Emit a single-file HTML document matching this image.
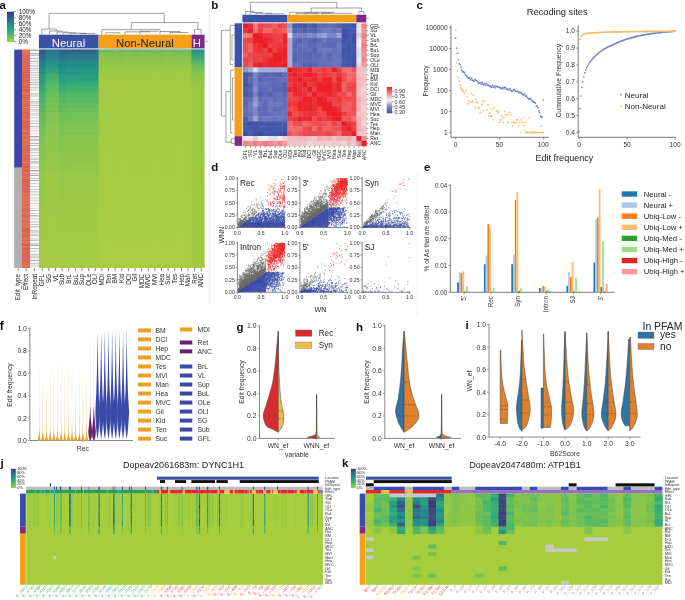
<!DOCTYPE html>
<html><head><meta charset="utf-8"><style>
html,body{margin:0;padding:0;background:#fff;width:685px;height:600px;overflow:hidden}
svg{display:block;font-family:"Liberation Sans",sans-serif;will-change:transform}
</style></head><body>
<svg width="685" height="600" viewBox="0 0 685 600">
<defs>
<linearGradient id="gvir" x1="0" y1="0" x2="0" y2="1">
<stop offset="0" stop-color="#46307e"/><stop offset="0.2" stop-color="#31628d"/><stop offset="0.45" stop-color="#1f948b"/><stop offset="0.7" stop-color="#38b673"/><stop offset="1" stop-color="#a2d03b"/></linearGradient>
<linearGradient id="gvir2" x1="0" y1="0" x2="0" y2="1">
<stop offset="0" stop-color="#46307e"/><stop offset="0.2" stop-color="#31628d"/><stop offset="0.45" stop-color="#1f948b"/><stop offset="0.7" stop-color="#38b673"/><stop offset="1" stop-color="#a2d03b"/></linearGradient>
<linearGradient id="gneu0" x1="0" y1="0" x2="0" y2="1"><stop offset="0.0" stop-color="#2b5f8c"/><stop offset="0.02" stop-color="#2b728d"/><stop offset="0.048" stop-color="#2a808e"/><stop offset="0.084" stop-color="#22948a"/><stop offset="0.139" stop-color="#2ba47f"/><stop offset="0.185" stop-color="#45b46c"/><stop offset="0.231" stop-color="#5cba62"/><stop offset="0.286" stop-color="#6ec05a"/><stop offset="0.368" stop-color="#82c552"/><stop offset="0.46" stop-color="#8fc74c"/><stop offset="0.597" stop-color="#99c947"/><stop offset="0.78" stop-color="#a0ca44"/><stop offset="1.0" stop-color="#a4cb43"/></linearGradient>
<linearGradient id="gneu1" x1="0" y1="0" x2="0" y2="1"><stop offset="0.0" stop-color="#2a6e8d"/><stop offset="0.02" stop-color="#2a7a8e"/><stop offset="0.048" stop-color="#26868d"/><stop offset="0.084" stop-color="#2a9c84"/><stop offset="0.139" stop-color="#4cb56a"/><stop offset="0.231" stop-color="#74c257"/><stop offset="0.368" stop-color="#8cc74d"/><stop offset="0.597" stop-color="#9cc946"/><stop offset="1.0" stop-color="#a5cb43"/></linearGradient>
<linearGradient id="gneu2" x1="0" y1="0" x2="0" y2="1"><stop offset="0.0" stop-color="#2f558b"/><stop offset="0.02" stop-color="#2d668d"/><stop offset="0.048" stop-color="#2b768e"/><stop offset="0.093" stop-color="#228e8b"/><stop offset="0.162" stop-color="#30a87c"/><stop offset="0.231" stop-color="#4cb56a"/><stop offset="0.299" stop-color="#62bd5e"/><stop offset="0.391" stop-color="#7cc455"/><stop offset="0.528" stop-color="#8fc74b"/><stop offset="0.734" stop-color="#9cc946"/><stop offset="1.0" stop-color="#a3cb43"/></linearGradient>
<linearGradient id="gneu3" x1="0" y1="0" x2="0" y2="1"><stop offset="0.0" stop-color="#2c5c8c"/><stop offset="0.02" stop-color="#2c6e8d"/><stop offset="0.048" stop-color="#2a7c8e"/><stop offset="0.093" stop-color="#21928b"/><stop offset="0.158" stop-color="#30a77c"/><stop offset="0.231" stop-color="#55b866"/><stop offset="0.299" stop-color="#6cc05a"/><stop offset="0.391" stop-color="#82c551"/><stop offset="0.528" stop-color="#91c74b"/><stop offset="0.734" stop-color="#9dc946"/><stop offset="1.0" stop-color="#a4cb43"/></linearGradient>
<linearGradient id="gnon0" x1="0" y1="0" x2="0" y2="1">
<stop offset="0" stop-color="#6cbd5c"/><stop offset="0.03" stop-color="#8ac54e"/><stop offset="0.1" stop-color="#a2ca42"/><stop offset="1" stop-color="#a9cc44"/></linearGradient>
<linearGradient id="gnon1" x1="0" y1="0" x2="0" y2="1">
<stop offset="0" stop-color="#74bf58"/><stop offset="0.03" stop-color="#8fc64b"/><stop offset="0.1" stop-color="#a3ca42"/><stop offset="1" stop-color="#a9cc44"/></linearGradient>
<linearGradient id="gh" x1="0" y1="0" x2="0" y2="1"><stop offset="0.0" stop-color="#2d8a8c"/><stop offset="0.026" stop-color="#35a578"/><stop offset="0.058" stop-color="#5cba60"/><stop offset="0.104" stop-color="#86c54f"/><stop offset="0.186" stop-color="#9ac843"/><stop offset="1.0" stop-color="#a2c93e"/></linearGradient>
<linearGradient id="gbwr" x1="0" y1="0" x2="0" y2="1">
<stop offset="0" stop-color="#e81e25"/><stop offset="0.25" stop-color="#f08a8a"/><stop offset="0.5" stop-color="#f4f4f8"/><stop offset="0.75" stop-color="#7f88c6"/><stop offset="1" stop-color="#3b4fa6"/></linearGradient>
</defs>
<text x="-0.5" y="9.2" font-size="11.5" fill="#111" font-weight="bold">a</text>
<line x1="209.3" y1="0" x2="209.3" y2="304" stroke="#e4e4e4" stroke-width="0.8"/>
<rect x="7" y="11.7" width="7" height="30.3" fill="url(#gvir)"/>
<line x1="14" y1="11.7" x2="16" y2="11.7" stroke="#444" stroke-width="0.5"/>
<text x="18.8" y="13.9" font-size="6.3" fill="#1a1a1a">100%</text>
<line x1="14" y1="17.7" x2="16" y2="17.7" stroke="#444" stroke-width="0.5"/>
<text x="18.8" y="19.9" font-size="6.3" fill="#1a1a1a">80%</text>
<line x1="14" y1="23.7" x2="16" y2="23.7" stroke="#444" stroke-width="0.5"/>
<text x="18.8" y="25.9" font-size="6.3" fill="#1a1a1a">60%</text>
<line x1="14" y1="29.7" x2="16" y2="29.7" stroke="#444" stroke-width="0.5"/>
<text x="18.8" y="31.9" font-size="6.3" fill="#1a1a1a">40%</text>
<line x1="14" y1="35.7" x2="16" y2="35.7" stroke="#444" stroke-width="0.5"/>
<text x="18.8" y="37.9" font-size="6.3" fill="#1a1a1a">20%</text>
<line x1="14" y1="41.7" x2="16" y2="41.7" stroke="#444" stroke-width="0.5"/>
<text x="18.8" y="43.9" font-size="6.3" fill="#1a1a1a">0%</text>
<path d="M49.1,29V13.3H164.2V22.6" fill="none" stroke="#555" stroke-width="0.55"/>
<path d="M41.9,34.6V29H56.4V31" fill="none" stroke="#555" stroke-width="0.55"/>
<path d="M49.5,34.6V31H62V32" fill="none" stroke="#555" stroke-width="0.55"/>
<path d="M57,34.6V32H68V32.8" fill="none" stroke="#555" stroke-width="0.55"/>
<path d="M63,34.6V32.8H76V33.2" fill="none" stroke="#555" stroke-width="0.55"/>
<path d="M70,34.6V33.2H86V33.6" fill="none" stroke="#555" stroke-width="0.55"/>
<path d="M80,34.6V33.6H95V34" fill="none" stroke="#555" stroke-width="0.55"/>
<path d="M131.3,29.6V22.6H197.8V29.3" fill="none" stroke="#555" stroke-width="0.55"/>
<path d="M101.8,34.6V29.6H160V31.5" fill="none" stroke="#555" stroke-width="0.55"/>
<path d="M106,34.6V32.8H120V33.5" fill="none" stroke="#555" stroke-width="0.55"/>
<path d="M125,34.6V31.8H150V32.5" fill="none" stroke="#555" stroke-width="0.55"/>
<path d="M140,34.6V31.3H158V32" fill="none" stroke="#555" stroke-width="0.55"/>
<path d="M160,34.6V31.5H180V33" fill="none" stroke="#555" stroke-width="0.55"/>
<path d="M170,34.6V32.5H188V33.2" fill="none" stroke="#555" stroke-width="0.55"/>
<path d="M194.5,34.6V29.3H201.2V34.6" fill="none" stroke="#555" stroke-width="0.55"/>
<rect x="38.9" y="34.7" width="59.7" height="13.6" fill="#3a53a4"/>
<rect x="98.6" y="34.7" width="92.9" height="13.6" fill="#f6a01a"/>
<rect x="191.5" y="34.7" width="13.1" height="13.6" fill="#7b2a86"/>
<text x="68.5" y="46.7" font-size="11.3" text-anchor="middle" fill="#fff">Neural</text>
<text x="145" y="46.7" font-size="11.3" text-anchor="middle" fill="#222">Non-Neural</text>
<text x="196.8" y="46.7" font-size="11.3" text-anchor="middle" fill="#fff">H</text>
<line x1="205" y1="41.2" x2="208" y2="41.2" stroke="#666" stroke-width="0.5"/>
<rect x="38.9" y="48.3" width="165.7" height="1.3" fill="#b0b2d2"/>
<rect x="38.9" y="49.6" width="7.33" height="218.4" fill="url(#gneu2)"/>
<rect x="45.53" y="49.6" width="7.33" height="218.4" fill="url(#gneu1)"/>
<rect x="52.16" y="49.6" width="7.33" height="218.4" fill="url(#gneu1)"/>
<rect x="58.78" y="49.6" width="7.33" height="218.4" fill="url(#gneu3)"/>
<rect x="65.41" y="49.6" width="7.33" height="218.4" fill="url(#gneu0)"/>
<rect x="72.04" y="49.6" width="7.33" height="218.4" fill="url(#gneu0)"/>
<rect x="78.67" y="49.6" width="7.33" height="218.4" fill="url(#gneu0)"/>
<rect x="85.3" y="49.6" width="7.33" height="218.4" fill="url(#gneu0)"/>
<rect x="91.92" y="49.6" width="7.33" height="218.4" fill="url(#gneu0)"/>
<rect x="98.55" y="49.6" width="7.33" height="218.4" fill="url(#gnon1)"/>
<rect x="105.18" y="49.6" width="7.33" height="218.4" fill="url(#gnon0)"/>
<rect x="111.81" y="49.6" width="7.33" height="218.4" fill="url(#gnon1)"/>
<rect x="118.44" y="49.6" width="7.33" height="218.4" fill="url(#gnon0)"/>
<rect x="125.06" y="49.6" width="7.33" height="218.4" fill="url(#gnon1)"/>
<rect x="131.69" y="49.6" width="7.33" height="218.4" fill="url(#gnon0)"/>
<rect x="138.32" y="49.6" width="7.33" height="218.4" fill="url(#gnon1)"/>
<rect x="144.95" y="49.6" width="7.33" height="218.4" fill="url(#gnon0)"/>
<rect x="151.58" y="49.6" width="7.33" height="218.4" fill="url(#gnon1)"/>
<rect x="158.2" y="49.6" width="7.33" height="218.4" fill="url(#gnon0)"/>
<rect x="164.83" y="49.6" width="7.33" height="218.4" fill="url(#gnon1)"/>
<rect x="171.46" y="49.6" width="7.33" height="218.4" fill="url(#gnon0)"/>
<rect x="178.09" y="49.6" width="7.33" height="218.4" fill="url(#gnon1)"/>
<rect x="184.72" y="49.6" width="7.33" height="218.4" fill="url(#gnon0)"/>
<rect x="191.34" y="49.6" width="7.33" height="218.4" fill="url(#gh)"/>
<rect x="197.97" y="49.6" width="6.63" height="218.4" fill="url(#gh)"/>
<rect x="38.9" y="57.42" width="59.7" height="1.44" fill="#1a5f80" opacity="0.06"/>
<rect x="38.9" y="72.19" width="59.7" height="1.52" fill="#1a5f80" opacity="0.07"/>
<rect x="38.9" y="77.33" width="59.7" height="0.74" fill="#1a5f80" opacity="0.07"/>
<rect x="38.9" y="79.44" width="59.7" height="1.23" fill="#1a5f80" opacity="0.05"/>
<rect x="38.9" y="100.8" width="59.7" height="0.88" fill="#1a5f80" opacity="0.06"/>
<rect x="38.9" y="106.18" width="59.7" height="0.75" fill="#1a5f80" opacity="0.05"/>
<rect x="38.9" y="110.41" width="59.7" height="1.32" fill="#1a5f80" opacity="0.05"/>
<rect x="38.9" y="117.65" width="59.7" height="0.8" fill="#1a5f80" opacity="0.04"/>
<rect x="38.9" y="132.53" width="59.7" height="1.32" fill="#1a5f80" opacity="0.03"/>
<rect x="38.9" y="141.34" width="59.7" height="1.23" fill="#1a5f80" opacity="0.03"/>
<rect x="38.9" y="148.72" width="59.7" height="0.85" fill="#1a5f80" opacity="0.03"/>
<rect x="38.9" y="150.71" width="59.7" height="0.96" fill="#1a5f80" opacity="0.02"/>
<rect x="38.9" y="153.36" width="59.7" height="0.9" fill="#1a5f80" opacity="0.03"/>
<rect x="38.9" y="158.9" width="59.7" height="0.79" fill="#1a5f80" opacity="0.03"/>
<rect x="38.9" y="160.4" width="59.7" height="0.92" fill="#1a5f80" opacity="0.03"/>
<rect x="38.9" y="162.69" width="59.7" height="1.46" fill="#1a5f80" opacity="0.02"/>
<rect x="38.9" y="165.95" width="59.7" height="1.48" fill="#1a5f80" opacity="0.02"/>
<rect x="38.9" y="168.18" width="59.7" height="1.13" fill="#1a5f80" opacity="0.03"/>
<rect x="98.6" y="49.8" width="106" height="0.77" fill="#2a9a88" opacity="0.1"/>
<rect x="98.6" y="51.48" width="106" height="1.14" fill="#2a9a88" opacity="0.14"/>
<rect x="98.6" y="54.53" width="106" height="0.89" fill="#2a9a88" opacity="0.1"/>
<rect x="98.6" y="57.41" width="106" height="0.9" fill="#2a9a88" opacity="0.14"/>
<rect x="98.6" y="60.17" width="106" height="1.09" fill="#2a9a88" opacity="0.09"/>
<rect x="98.6" y="62.15" width="106" height="0.6" fill="#2a9a88" opacity="0.11"/>
<rect x="98.6" y="63.68" width="106" height="0.96" fill="#2a9a88" opacity="0.09"/>
<rect x="98.6" y="65.35" width="106" height="1.05" fill="#2a9a88" opacity="0.03"/>
<rect x="98.6" y="68.64" width="106" height="1.09" fill="#2a9a88" opacity="0.04"/>
<rect x="98.6" y="71.71" width="106" height="1.01" fill="#2a9a88" opacity="0.03"/>
<rect x="98.6" y="74.6" width="106" height="0.59" fill="#2a9a88" opacity="0.05"/>
<rect x="98.6" y="77.09" width="106" height="1.19" fill="#2a9a88" opacity="0.01"/>
<rect x="98.6" y="79.48" width="106" height="0.93" fill="#2a9a88" opacity="0.01"/>
<rect x="14.2" y="49.6" width="7.8" height="118.1" fill="#3a47ad"/>
<rect x="14.2" y="167.7" width="7.8" height="100.3" fill="#b0b0b0"/>
<rect x="22" y="49.6" width="8" height="218.4" fill="#de6a54"/>
<rect x="30" y="49.6" width="8.9" height="218.4" fill="#fafafa"/>
<rect x="22" y="49.6" width="8" height="1.06" fill="#ea7c4e"/>
<rect x="22" y="52.06" width="8" height="1.12" fill="#ea7c4e"/>
<rect x="22" y="55.31" width="8" height="0.98" fill="#d26472"/>
<rect x="22" y="58.73" width="8" height="0.72" fill="#d6606c"/>
<rect x="22" y="62.2" width="8" height="0.6" fill="#d26472"/>
<rect x="22" y="65.47" width="8" height="0.84" fill="#d6606c"/>
<rect x="22" y="68.25" width="8" height="0.51" fill="#dc5a4a"/>
<rect x="22" y="70.28" width="8" height="0.66" fill="#d26472"/>
<rect x="22" y="71.85" width="8" height="1.22" fill="#dc5a4a"/>
<rect x="22" y="75.11" width="8" height="0.9" fill="#dc5a4a"/>
<rect x="22" y="76.51" width="8" height="1.28" fill="#dc5a4a"/>
<rect x="22" y="80.23" width="8" height="1.36" fill="#dc5a4a"/>
<rect x="22" y="84.28" width="8" height="0.76" fill="#dc5a4a"/>
<rect x="22" y="86.89" width="8" height="1.11" fill="#dc5a4a"/>
<rect x="22" y="88.95" width="8" height="1.37" fill="#dc5a4a"/>
<rect x="22" y="93.24" width="8" height="1.3" fill="#e87a50"/>
<rect x="22" y="95.1" width="8" height="0.87" fill="#dc5a4a"/>
<rect x="22" y="97.13" width="8" height="0.8" fill="#d85a56"/>
<rect x="22" y="99.89" width="8" height="1.04" fill="#ea7c4e"/>
<rect x="22" y="102.27" width="8" height="0.78" fill="#e87a50"/>
<rect x="22" y="104.76" width="8" height="0.78" fill="#d26472"/>
<rect x="22" y="107.22" width="8" height="0.66" fill="#e87a50"/>
<rect x="22" y="110.82" width="8" height="0.52" fill="#ea7c4e"/>
<rect x="22" y="112.73" width="8" height="0.86" fill="#d85a56"/>
<rect x="22" y="116.07" width="8" height="0.83" fill="#d85a56"/>
<rect x="22" y="119.5" width="8" height="0.91" fill="#ea7c4e"/>
<rect x="22" y="121.36" width="8" height="1.36" fill="#dc5a4a"/>
<rect x="22" y="123.52" width="8" height="0.72" fill="#d26472"/>
<rect x="22" y="125.6" width="8" height="0.82" fill="#d85a56"/>
<rect x="22" y="127.54" width="8" height="0.92" fill="#d85a56"/>
<rect x="22" y="130.83" width="8" height="1.22" fill="#e87a50"/>
<rect x="22" y="132.64" width="8" height="1.35" fill="#d6606c"/>
<rect x="22" y="135.01" width="8" height="0.96" fill="#e87a50"/>
<rect x="22" y="138.77" width="8" height="0.81" fill="#ea7c4e"/>
<rect x="22" y="141.44" width="8" height="0.78" fill="#e87a50"/>
<rect x="22" y="143.49" width="8" height="1.22" fill="#ea7c4e"/>
<rect x="22" y="145.58" width="8" height="1.12" fill="#d26472"/>
<rect x="22" y="147.6" width="8" height="0.54" fill="#d85a56"/>
<rect x="22" y="149.98" width="8" height="0.87" fill="#dc5a4a"/>
<rect x="22" y="153.19" width="8" height="0.81" fill="#e87a50"/>
<rect x="22" y="155.64" width="8" height="0.88" fill="#d6606c"/>
<rect x="22" y="159.47" width="8" height="1.07" fill="#d26472"/>
<rect x="22" y="161.88" width="8" height="0.69" fill="#ea7c4e"/>
<rect x="22" y="164.48" width="8" height="0.62" fill="#d26472"/>
<rect x="22" y="165.86" width="8" height="0.89" fill="#dc5a4a"/>
<rect x="22" y="167.4" width="8" height="0.88" fill="#dc5a4a"/>
<rect x="22" y="169.91" width="8" height="1.4" fill="#dc5a4a"/>
<rect x="22" y="174.25" width="8" height="0.91" fill="#d26472"/>
<rect x="22" y="177.38" width="8" height="0.79" fill="#e87a50"/>
<rect x="22" y="179.4" width="8" height="0.86" fill="#dc5a4a"/>
<rect x="22" y="181.04" width="8" height="1.24" fill="#d85a56"/>
<rect x="22" y="185.18" width="8" height="1.06" fill="#d26472"/>
<rect x="22" y="188.91" width="8" height="0.66" fill="#d26472"/>
<rect x="22" y="190.76" width="8" height="1.2" fill="#d85a56"/>
<rect x="22" y="193.36" width="8" height="1.21" fill="#e87a50"/>
<rect x="22" y="196.81" width="8" height="1.1" fill="#e87a50"/>
<rect x="22" y="199.31" width="8" height="1.13" fill="#e87a50"/>
<rect x="22" y="203.04" width="8" height="0.74" fill="#ea7c4e"/>
<rect x="22" y="206.06" width="8" height="1.36" fill="#e87a50"/>
<rect x="22" y="209.55" width="8" height="1.02" fill="#d6606c"/>
<rect x="22" y="212.26" width="8" height="1.2" fill="#e87a50"/>
<rect x="22" y="215.63" width="8" height="0.92" fill="#d85a56"/>
<rect x="22" y="218.67" width="8" height="1.22" fill="#e87a50"/>
<rect x="22" y="221.07" width="8" height="0.81" fill="#d26472"/>
<rect x="22" y="223.26" width="8" height="1.26" fill="#ea7c4e"/>
<rect x="22" y="226.14" width="8" height="0.83" fill="#e87a50"/>
<rect x="22" y="228.76" width="8" height="0.98" fill="#dc5a4a"/>
<rect x="22" y="230.74" width="8" height="0.83" fill="#d26472"/>
<rect x="22" y="232.77" width="8" height="0.57" fill="#ea7c4e"/>
<rect x="22" y="235.67" width="8" height="0.65" fill="#d85a56"/>
<rect x="22" y="238.11" width="8" height="1.34" fill="#e87a50"/>
<rect x="22" y="241.51" width="8" height="1.2" fill="#ea7c4e"/>
<rect x="22" y="243.89" width="8" height="1.4" fill="#dc5a4a"/>
<rect x="22" y="246.19" width="8" height="0.9" fill="#ea7c4e"/>
<rect x="22" y="248.03" width="8" height="1.18" fill="#dc5a4a"/>
<rect x="22" y="251.29" width="8" height="0.54" fill="#d26472"/>
<rect x="22" y="254.78" width="8" height="0.65" fill="#dc5a4a"/>
<rect x="22" y="256.21" width="8" height="1.37" fill="#d26472"/>
<rect x="22" y="258.56" width="8" height="0.53" fill="#d26472"/>
<rect x="22" y="260.47" width="8" height="1.1" fill="#d6606c"/>
<rect x="22" y="263.54" width="8" height="0.71" fill="#e87a50"/>
<rect x="22" y="264.76" width="8" height="0.86" fill="#e87a50"/>
<rect x="30" y="49.6" width="8.9" height="1.19" fill="#a4a4a4"/>
<rect x="30" y="53.13" width="8.9" height="0.94" fill="#a4a4a4"/>
<rect x="30" y="54.75" width="8.9" height="0.94" fill="#a4a4a4"/>
<rect x="30" y="57.99" width="8.9" height="0.73" fill="#a4a4a4"/>
<rect x="30" y="60.78" width="8.9" height="0.84" fill="#a4a4a4"/>
<rect x="30" y="63" width="8.9" height="0.63" fill="#d0d0d0"/>
<rect x="30" y="65.2" width="8.9" height="1.27" fill="#c4c4c4"/>
<rect x="30" y="68.12" width="8.9" height="0.78" fill="#b0b0b0"/>
<rect x="30" y="70.13" width="8.9" height="0.76" fill="#c4c4c4"/>
<rect x="30" y="72.01" width="8.9" height="1.2" fill="#d0d0d0"/>
<rect x="30" y="74.52" width="8.9" height="1.28" fill="#d0d0d0"/>
<rect x="30" y="76.86" width="8.9" height="1.28" fill="#d0d0d0"/>
<rect x="30" y="79.37" width="8.9" height="1.18" fill="#c4c4c4"/>
<rect x="30" y="82.18" width="8.9" height="0.71" fill="#a4a4a4"/>
<rect x="30" y="84.33" width="8.9" height="0.83" fill="#a4a4a4"/>
<rect x="30" y="87.46" width="8.9" height="0.75" fill="#a4a4a4"/>
<rect x="30" y="88.98" width="8.9" height="0.52" fill="#d0d0d0"/>
<rect x="30" y="90.46" width="8.9" height="0.53" fill="#c4c4c4"/>
<rect x="30" y="93.07" width="8.9" height="0.51" fill="#a4a4a4"/>
<rect x="30" y="94.54" width="8.9" height="0.88" fill="#b0b0b0"/>
<rect x="30" y="96.39" width="8.9" height="0.71" fill="#c4c4c4"/>
<rect x="30" y="98.97" width="8.9" height="0.73" fill="#d0d0d0"/>
<rect x="30" y="101.36" width="8.9" height="0.88" fill="#b0b0b0"/>
<rect x="30" y="102.77" width="8.9" height="0.6" fill="#a4a4a4"/>
<rect x="30" y="104.88" width="8.9" height="0.77" fill="#a4a4a4"/>
<rect x="30" y="107.54" width="8.9" height="0.52" fill="#a4a4a4"/>
<rect x="30" y="109.25" width="8.9" height="1.1" fill="#c4c4c4"/>
<rect x="30" y="110.91" width="8.9" height="0.7" fill="#d0d0d0"/>
<rect x="30" y="113.42" width="8.9" height="0.59" fill="#c4c4c4"/>
<rect x="30" y="114.53" width="8.9" height="1.12" fill="#d0d0d0"/>
<rect x="30" y="117.28" width="8.9" height="1.05" fill="#d0d0d0"/>
<rect x="30" y="120.47" width="8.9" height="1.17" fill="#d0d0d0"/>
<rect x="30" y="122.88" width="8.9" height="1.18" fill="#c4c4c4"/>
<rect x="30" y="126.27" width="8.9" height="0.87" fill="#b0b0b0"/>
<rect x="30" y="128.22" width="8.9" height="0.5" fill="#d0d0d0"/>
<rect x="30" y="130.33" width="8.9" height="1.02" fill="#d0d0d0"/>
<rect x="30" y="133.58" width="8.9" height="0.61" fill="#d0d0d0"/>
<rect x="30" y="136.01" width="8.9" height="1.21" fill="#a4a4a4"/>
<rect x="30" y="138.75" width="8.9" height="0.84" fill="#b0b0b0"/>
<rect x="30" y="140.22" width="8.9" height="0.68" fill="#b0b0b0"/>
<rect x="30" y="142.91" width="8.9" height="1.03" fill="#b0b0b0"/>
<rect x="30" y="145.07" width="8.9" height="0.84" fill="#b0b0b0"/>
<rect x="30" y="148.31" width="8.9" height="1.06" fill="#b0b0b0"/>
<rect x="30" y="150.11" width="8.9" height="0.6" fill="#b0b0b0"/>
<rect x="30" y="152.56" width="8.9" height="0.61" fill="#a4a4a4"/>
<rect x="30" y="155.01" width="8.9" height="0.85" fill="#c4c4c4"/>
<rect x="30" y="157.52" width="8.9" height="0.83" fill="#c4c4c4"/>
<rect x="30" y="158.98" width="8.9" height="0.67" fill="#b0b0b0"/>
<rect x="30" y="161.4" width="8.9" height="1.1" fill="#a4a4a4"/>
<rect x="30" y="163.11" width="8.9" height="0.96" fill="#d0d0d0"/>
<rect x="30" y="166.24" width="8.9" height="0.61" fill="#d0d0d0"/>
<rect x="30" y="167.52" width="8.9" height="1.05" fill="#d0d0d0"/>
<rect x="30" y="169.99" width="8.9" height="1.25" fill="#a4a4a4"/>
<rect x="30" y="173.48" width="8.9" height="0.61" fill="#a4a4a4"/>
<rect x="30" y="174.88" width="8.9" height="1.01" fill="#a4a4a4"/>
<rect x="30" y="178.12" width="8.9" height="0.94" fill="#c4c4c4"/>
<rect x="30" y="180.06" width="8.9" height="0.94" fill="#a4a4a4"/>
<rect x="30" y="183.08" width="8.9" height="0.73" fill="#c4c4c4"/>
<rect x="30" y="185.85" width="8.9" height="1.19" fill="#d0d0d0"/>
<rect x="30" y="188.94" width="8.9" height="0.64" fill="#b0b0b0"/>
<rect x="30" y="191.32" width="8.9" height="0.57" fill="#b0b0b0"/>
<rect x="30" y="192.57" width="8.9" height="0.6" fill="#d0d0d0"/>
<rect x="30" y="194.12" width="8.9" height="1.2" fill="#d0d0d0"/>
<rect x="30" y="197.65" width="8.9" height="0.59" fill="#b0b0b0"/>
<rect x="30" y="199.77" width="8.9" height="0.81" fill="#c4c4c4"/>
<rect x="30" y="202.87" width="8.9" height="0.84" fill="#c4c4c4"/>
<rect x="30" y="205.64" width="8.9" height="0.57" fill="#d0d0d0"/>
<rect x="30" y="208.26" width="8.9" height="0.61" fill="#d0d0d0"/>
<rect x="30" y="210.05" width="8.9" height="0.69" fill="#a4a4a4"/>
<rect x="30" y="213" width="8.9" height="1.06" fill="#d0d0d0"/>
<rect x="30" y="215.29" width="8.9" height="1.08" fill="#a4a4a4"/>
<rect x="30" y="218.1" width="8.9" height="1.14" fill="#d0d0d0"/>
<rect x="30" y="221.57" width="8.9" height="0.79" fill="#b0b0b0"/>
<rect x="30" y="223.98" width="8.9" height="0.96" fill="#c4c4c4"/>
<rect x="30" y="226.19" width="8.9" height="0.58" fill="#b0b0b0"/>
<rect x="30" y="227.62" width="8.9" height="0.66" fill="#d0d0d0"/>
<rect x="30" y="230.47" width="8.9" height="0.88" fill="#a4a4a4"/>
<rect x="30" y="231.86" width="8.9" height="0.88" fill="#d0d0d0"/>
<rect x="30" y="233.85" width="8.9" height="0.87" fill="#c4c4c4"/>
<rect x="30" y="235.51" width="8.9" height="0.63" fill="#a4a4a4"/>
<rect x="30" y="238.29" width="8.9" height="1.2" fill="#d0d0d0"/>
<rect x="30" y="240.27" width="8.9" height="0.7" fill="#a4a4a4"/>
<rect x="30" y="243.03" width="8.9" height="1.1" fill="#c4c4c4"/>
<rect x="30" y="244.69" width="8.9" height="1.22" fill="#a4a4a4"/>
<rect x="30" y="248.17" width="8.9" height="0.8" fill="#b0b0b0"/>
<rect x="30" y="250.77" width="8.9" height="1.04" fill="#d0d0d0"/>
<rect x="30" y="253.92" width="8.9" height="0.62" fill="#a4a4a4"/>
<rect x="30" y="255.6" width="8.9" height="1.04" fill="#c4c4c4"/>
<rect x="30" y="257.2" width="8.9" height="1.07" fill="#c4c4c4"/>
<rect x="30" y="260.02" width="8.9" height="0.99" fill="#a4a4a4"/>
<rect x="30" y="262.81" width="8.9" height="0.65" fill="#a4a4a4"/>
<rect x="30" y="264.49" width="8.9" height="1.09" fill="#d0d0d0"/>
<rect x="30" y="266.39" width="8.9" height="0.69" fill="#c4c4c4"/>
<line x1="18.1" y1="268" x2="18.1" y2="271.2" stroke="#333" stroke-width="0.6"/>
<text x="20.3" y="273.9" font-size="6.3" text-anchor="end" fill="#1a1a1a" transform="rotate(-90 20.3 273.9)">Edit_type</text>
<line x1="26" y1="268" x2="26" y2="271.2" stroke="#333" stroke-width="0.6"/>
<text x="28.2" y="273.9" font-size="6.3" text-anchor="end" fill="#1a1a1a" transform="rotate(-90 28.2 273.9)">Effect</text>
<line x1="34.4" y1="268" x2="34.4" y2="271.2" stroke="#333" stroke-width="0.6"/>
<text x="36.6" y="273.9" font-size="6.3" text-anchor="end" fill="#1a1a1a" transform="rotate(-90 36.6 273.9)">InRepeat</text>
<line x1="42.21" y1="268" x2="42.21" y2="271.2" stroke="#333" stroke-width="0.6"/>
<text x="44.41" y="273.9" font-size="6.3" text-anchor="end" fill="#1a1a1a" transform="rotate(-90 44.41 273.9)">GFL</text>
<line x1="48.84" y1="268" x2="48.84" y2="271.2" stroke="#333" stroke-width="0.6"/>
<text x="51.04" y="273.9" font-size="6.3" text-anchor="end" fill="#1a1a1a" transform="rotate(-90 51.04 273.9)">SG</text>
<line x1="55.47" y1="268" x2="55.47" y2="271.2" stroke="#333" stroke-width="0.6"/>
<text x="57.67" y="273.9" font-size="6.3" text-anchor="end" fill="#1a1a1a" transform="rotate(-90 57.67 273.9)">VL</text>
<line x1="62.1" y1="268" x2="62.1" y2="271.2" stroke="#333" stroke-width="0.6"/>
<text x="64.3" y="273.9" font-size="6.3" text-anchor="end" fill="#1a1a1a" transform="rotate(-90 64.3 273.9)">Sub</text>
<line x1="68.73" y1="268" x2="68.73" y2="271.2" stroke="#333" stroke-width="0.6"/>
<text x="70.93" y="273.9" font-size="6.3" text-anchor="end" fill="#1a1a1a" transform="rotate(-90 70.93 273.9)">BrL</text>
<line x1="75.35" y1="268" x2="75.35" y2="271.2" stroke="#333" stroke-width="0.6"/>
<text x="77.55" y="273.9" font-size="6.3" text-anchor="end" fill="#1a1a1a" transform="rotate(-90 77.55 273.9)">BuL</text>
<line x1="81.98" y1="268" x2="81.98" y2="271.2" stroke="#333" stroke-width="0.6"/>
<text x="84.18" y="273.9" font-size="6.3" text-anchor="end" fill="#1a1a1a" transform="rotate(-90 84.18 273.9)">Sup</text>
<line x1="88.61" y1="268" x2="88.61" y2="271.2" stroke="#333" stroke-width="0.6"/>
<text x="90.81" y="273.9" font-size="6.3" text-anchor="end" fill="#1a1a1a" transform="rotate(-90 90.81 273.9)">OLe</text>
<line x1="95.24" y1="268" x2="95.24" y2="271.2" stroke="#333" stroke-width="0.6"/>
<text x="97.44" y="273.9" font-size="6.3" text-anchor="end" fill="#1a1a1a" transform="rotate(-90 97.44 273.9)">OLI</text>
<line x1="101.87" y1="268" x2="101.87" y2="271.2" stroke="#333" stroke-width="0.6"/>
<text x="104.07" y="273.9" font-size="6.3" text-anchor="end" fill="#1a1a1a" transform="rotate(-90 104.07 273.9)">MDI</text>
<line x1="108.49" y1="268" x2="108.49" y2="271.2" stroke="#333" stroke-width="0.6"/>
<text x="110.69" y="273.9" font-size="6.3" text-anchor="end" fill="#1a1a1a" transform="rotate(-90 110.69 273.9)">Ten</text>
<line x1="115.12" y1="268" x2="115.12" y2="271.2" stroke="#333" stroke-width="0.6"/>
<text x="117.32" y="273.9" font-size="6.3" text-anchor="end" fill="#1a1a1a" transform="rotate(-90 117.32 273.9)">BM</text>
<line x1="121.75" y1="268" x2="121.75" y2="271.2" stroke="#333" stroke-width="0.6"/>
<text x="123.95" y="273.9" font-size="6.3" text-anchor="end" fill="#1a1a1a" transform="rotate(-90 123.95 273.9)">Kid</text>
<line x1="128.38" y1="268" x2="128.38" y2="271.2" stroke="#333" stroke-width="0.6"/>
<text x="130.58" y="273.9" font-size="6.3" text-anchor="end" fill="#1a1a1a" transform="rotate(-90 130.58 273.9)">DCI</text>
<line x1="135.01" y1="268" x2="135.01" y2="271.2" stroke="#333" stroke-width="0.6"/>
<text x="137.21" y="273.9" font-size="6.3" text-anchor="end" fill="#1a1a1a" transform="rotate(-90 137.21 273.9)">Gil</text>
<line x1="141.63" y1="268" x2="141.63" y2="271.2" stroke="#333" stroke-width="0.6"/>
<text x="143.83" y="273.9" font-size="6.3" text-anchor="end" fill="#1a1a1a" transform="rotate(-90 143.83 273.9)">MDC</text>
<line x1="148.26" y1="268" x2="148.26" y2="271.2" stroke="#333" stroke-width="0.6"/>
<text x="150.46" y="273.9" font-size="6.3" text-anchor="end" fill="#1a1a1a" transform="rotate(-90 150.46 273.9)">MVC</text>
<line x1="154.89" y1="268" x2="154.89" y2="271.2" stroke="#333" stroke-width="0.6"/>
<text x="157.09" y="273.9" font-size="6.3" text-anchor="end" fill="#1a1a1a" transform="rotate(-90 157.09 273.9)">MVI</text>
<line x1="161.52" y1="268" x2="161.52" y2="271.2" stroke="#333" stroke-width="0.6"/>
<text x="163.72" y="273.9" font-size="6.3" text-anchor="end" fill="#1a1a1a" transform="rotate(-90 163.72 273.9)">Hea</text>
<line x1="168.15" y1="268" x2="168.15" y2="271.2" stroke="#333" stroke-width="0.6"/>
<text x="170.35" y="273.9" font-size="6.3" text-anchor="end" fill="#1a1a1a" transform="rotate(-90 170.35 273.9)">Suc</text>
<line x1="174.77" y1="268" x2="174.77" y2="271.2" stroke="#333" stroke-width="0.6"/>
<text x="176.97" y="273.9" font-size="6.3" text-anchor="end" fill="#1a1a1a" transform="rotate(-90 176.97 273.9)">Tes</text>
<line x1="181.4" y1="268" x2="181.4" y2="271.2" stroke="#333" stroke-width="0.6"/>
<text x="183.6" y="273.9" font-size="6.3" text-anchor="end" fill="#1a1a1a" transform="rotate(-90 183.6 273.9)">Hep</text>
<line x1="188.03" y1="268" x2="188.03" y2="271.2" stroke="#333" stroke-width="0.6"/>
<text x="190.23" y="273.9" font-size="6.3" text-anchor="end" fill="#1a1a1a" transform="rotate(-90 190.23 273.9)">Man</text>
<line x1="194.66" y1="268" x2="194.66" y2="271.2" stroke="#333" stroke-width="0.6"/>
<text x="196.86" y="273.9" font-size="6.3" text-anchor="end" fill="#1a1a1a" transform="rotate(-90 196.86 273.9)">Ret</text>
<line x1="201.29" y1="268" x2="201.29" y2="271.2" stroke="#333" stroke-width="0.6"/>
<text x="203.49" y="273.9" font-size="6.3" text-anchor="end" fill="#1a1a1a" transform="rotate(-90 203.49 273.9)">ANC</text>
<text x="211.2" y="8.6" font-size="11.5" fill="#111" font-weight="bold">b</text>
<path d="M250.4,11.4V2.3H336.8V8" fill="none" stroke="#555" stroke-width="0.55"/>
<path d="M245.7,14.8V11.4H254.2V12.5" fill="none" stroke="#555" stroke-width="0.55"/>
<path d="M250,14.8V12.5H262V13.2" fill="none" stroke="#555" stroke-width="0.55"/>
<path d="M256,14.8V13.2H272V13.8" fill="none" stroke="#555" stroke-width="0.55"/>
<path d="M266,14.8V13.8H284V14.2" fill="none" stroke="#555" stroke-width="0.55"/>
<path d="M311.2,12.3V8H361.4V11.4" fill="none" stroke="#555" stroke-width="0.55"/>
<path d="M289.7,14.8V12.3H333.9V13" fill="none" stroke="#555" stroke-width="0.55"/>
<path d="M296,14.8V13.4H318V13.8" fill="none" stroke="#555" stroke-width="0.55"/>
<path d="M305,14.8V13H330V13.6" fill="none" stroke="#555" stroke-width="0.55"/>
<path d="M322,14.8V13.3H352V14" fill="none" stroke="#555" stroke-width="0.55"/>
<path d="M358.9,14.8V11.4H363.9V14.8" fill="none" stroke="#555" stroke-width="0.55"/>
<path d="M230.2,30.4H221.5V116.1H225.9" fill="none" stroke="#555" stroke-width="0.55"/>
<path d="M234.6,25.4H230.2V64.6H233" fill="none" stroke="#555" stroke-width="0.55"/>
<path d="M234.6,35H232V60H233.4" fill="none" stroke="#555" stroke-width="0.55"/>
<path d="M230.7,91.7H225.9V142.2H231.3" fill="none" stroke="#555" stroke-width="0.55"/>
<path d="M234.6,70H230.7V133H232.5" fill="none" stroke="#555" stroke-width="0.55"/>
<path d="M234.6,78H232.5V120H233.5" fill="none" stroke="#555" stroke-width="0.55"/>
<path d="M234.6,138.8H231.3V143.3H234.6" fill="none" stroke="#555" stroke-width="0.55"/>
<rect x="242.4" y="14.8" width="44.7" height="7.6" fill="#3a53a4"/>
<rect x="287.1" y="14.8" width="69.2" height="7.6" fill="#f6a01a"/>
<rect x="356.3" y="14.8" width="10" height="7.6" fill="#7b2a86"/>
<line x1="366.3" y1="18.6" x2="369" y2="18.6" stroke="#666" stroke-width="0.5"/>
<rect x="234.6" y="23.3" width="7.6" height="44.1" fill="#3a53a4"/>
<rect x="234.6" y="67.4" width="7.6" height="68.8" fill="#f6a01a"/>
<rect x="234.6" y="136.2" width="7.6" height="9.6" fill="#7b2a86"/>
<rect x="243" y="23.3" width="5.33" height="5.3" fill="#e81e25"/>
<rect x="247.93" y="23.3" width="5.33" height="5.3" fill="#ec2d34"/>
<rect x="252.86" y="23.3" width="5.33" height="5.3" fill="#f07e7e"/>
<rect x="257.8" y="23.3" width="5.33" height="5.3" fill="#ed474b"/>
<rect x="262.73" y="23.3" width="5.33" height="5.3" fill="#ee4f53"/>
<rect x="267.66" y="23.3" width="5.33" height="5.3" fill="#ee4e52"/>
<rect x="272.59" y="23.3" width="5.33" height="5.3" fill="#ee5f62"/>
<rect x="277.52" y="23.3" width="5.33" height="5.3" fill="#ed4045"/>
<rect x="282.46" y="23.3" width="5.33" height="5.3" fill="#ee4d51"/>
<rect x="287.39" y="23.3" width="5.33" height="5.3" fill="#8e96cd"/>
<rect x="292.32" y="23.3" width="5.33" height="5.3" fill="#4557ab"/>
<rect x="297.25" y="23.3" width="5.33" height="5.3" fill="#4658ab"/>
<rect x="302.18" y="23.3" width="5.33" height="5.3" fill="#4154a9"/>
<rect x="307.12" y="23.3" width="5.33" height="5.3" fill="#5161b0"/>
<rect x="312.05" y="23.3" width="5.33" height="5.3" fill="#495aac"/>
<rect x="316.98" y="23.3" width="5.33" height="5.3" fill="#606eb8"/>
<rect x="321.91" y="23.3" width="5.33" height="5.3" fill="#5666b3"/>
<rect x="326.84" y="23.3" width="5.33" height="5.3" fill="#6370b9"/>
<rect x="331.78" y="23.3" width="5.33" height="5.3" fill="#606eb8"/>
<rect x="336.71" y="23.3" width="5.33" height="5.3" fill="#4d5eaf"/>
<rect x="341.64" y="23.3" width="5.33" height="5.3" fill="#4759ac"/>
<rect x="346.57" y="23.3" width="5.33" height="5.3" fill="#485aac"/>
<rect x="351.5" y="23.3" width="5.33" height="5.3" fill="#3c50a6"/>
<rect x="356.44" y="23.3" width="5.33" height="5.3" fill="#f2e0e4"/>
<rect x="361.37" y="23.3" width="5.33" height="5.3" fill="#f08485"/>
<rect x="243" y="28.2" width="5.33" height="5.3" fill="#ec2d34"/>
<rect x="247.93" y="28.2" width="5.33" height="5.3" fill="#e81e25"/>
<rect x="252.86" y="28.2" width="5.33" height="5.3" fill="#ef7173"/>
<rect x="257.8" y="28.2" width="5.33" height="5.3" fill="#ed4146"/>
<rect x="262.73" y="28.2" width="5.33" height="5.3" fill="#ef6668"/>
<rect x="267.66" y="28.2" width="5.33" height="5.3" fill="#ef6769"/>
<rect x="272.59" y="28.2" width="5.33" height="5.3" fill="#ee494d"/>
<rect x="277.52" y="28.2" width="5.33" height="5.3" fill="#ee5357"/>
<rect x="282.46" y="28.2" width="5.33" height="5.3" fill="#ef6365"/>
<rect x="287.39" y="28.2" width="5.33" height="5.3" fill="#a5abd7"/>
<rect x="292.32" y="28.2" width="5.33" height="5.3" fill="#5061b0"/>
<rect x="297.25" y="28.2" width="5.33" height="5.3" fill="#5c6ab5"/>
<rect x="302.18" y="28.2" width="5.33" height="5.3" fill="#5060b0"/>
<rect x="307.12" y="28.2" width="5.33" height="5.3" fill="#5766b3"/>
<rect x="312.05" y="28.2" width="5.33" height="5.3" fill="#5262b1"/>
<rect x="316.98" y="28.2" width="5.33" height="5.3" fill="#616fb8"/>
<rect x="321.91" y="28.2" width="5.33" height="5.3" fill="#717cbf"/>
<rect x="326.84" y="28.2" width="5.33" height="5.3" fill="#6d79be"/>
<rect x="331.78" y="28.2" width="5.33" height="5.3" fill="#626fb8"/>
<rect x="336.71" y="28.2" width="5.33" height="5.3" fill="#6f7abe"/>
<rect x="341.64" y="28.2" width="5.33" height="5.3" fill="#4053a9"/>
<rect x="346.57" y="28.2" width="5.33" height="5.3" fill="#4456aa"/>
<rect x="351.5" y="28.2" width="5.33" height="5.3" fill="#485aac"/>
<rect x="356.44" y="28.2" width="5.33" height="5.3" fill="#eaeaf4"/>
<rect x="361.37" y="28.2" width="5.33" height="5.3" fill="#f09697"/>
<rect x="243" y="33.1" width="5.33" height="5.3" fill="#f07e7e"/>
<rect x="247.93" y="33.1" width="5.33" height="5.3" fill="#ef7173"/>
<rect x="252.86" y="33.1" width="5.33" height="5.3" fill="#e81e25"/>
<rect x="257.8" y="33.1" width="5.33" height="5.3" fill="#ec2128"/>
<rect x="262.73" y="33.1" width="5.33" height="5.3" fill="#ed363b"/>
<rect x="267.66" y="33.1" width="5.33" height="5.3" fill="#ed373d"/>
<rect x="272.59" y="33.1" width="5.33" height="5.3" fill="#ed4247"/>
<rect x="277.52" y="33.1" width="5.33" height="5.3" fill="#ed4246"/>
<rect x="282.46" y="33.1" width="5.33" height="5.3" fill="#ec2930"/>
<rect x="287.39" y="33.1" width="5.33" height="5.3" fill="#dbddee"/>
<rect x="292.32" y="33.1" width="5.33" height="5.3" fill="#7a84c4"/>
<rect x="297.25" y="33.1" width="5.33" height="5.3" fill="#7580c1"/>
<rect x="302.18" y="33.1" width="5.33" height="5.3" fill="#7781c2"/>
<rect x="307.12" y="33.1" width="5.33" height="5.3" fill="#858ec9"/>
<rect x="312.05" y="33.1" width="5.33" height="5.3" fill="#7882c3"/>
<rect x="316.98" y="33.1" width="5.33" height="5.3" fill="#8d95cc"/>
<rect x="321.91" y="33.1" width="5.33" height="5.3" fill="#99a0d1"/>
<rect x="326.84" y="33.1" width="5.33" height="5.3" fill="#7f88c6"/>
<rect x="331.78" y="33.1" width="5.33" height="5.3" fill="#7e87c6"/>
<rect x="336.71" y="33.1" width="5.33" height="5.3" fill="#9aa1d2"/>
<rect x="341.64" y="33.1" width="5.33" height="5.3" fill="#3e52a8"/>
<rect x="346.57" y="33.1" width="5.33" height="5.3" fill="#4557ab"/>
<rect x="351.5" y="33.1" width="5.33" height="5.3" fill="#3e51a7"/>
<rect x="356.44" y="33.1" width="5.33" height="5.3" fill="#f1cccf"/>
<rect x="361.37" y="33.1" width="5.33" height="5.3" fill="#f08182"/>
<rect x="243" y="38" width="5.33" height="5.3" fill="#ed474b"/>
<rect x="247.93" y="38" width="5.33" height="5.3" fill="#ed4146"/>
<rect x="252.86" y="38" width="5.33" height="5.3" fill="#ec2128"/>
<rect x="257.8" y="38" width="5.33" height="5.3" fill="#e81e25"/>
<rect x="262.73" y="38" width="5.33" height="5.3" fill="#ec282f"/>
<rect x="267.66" y="38" width="5.33" height="5.3" fill="#ed3137"/>
<rect x="272.59" y="38" width="5.33" height="5.3" fill="#ed4146"/>
<rect x="277.52" y="38" width="5.33" height="5.3" fill="#ed4449"/>
<rect x="282.46" y="38" width="5.33" height="5.3" fill="#eb2027"/>
<rect x="287.39" y="38" width="5.33" height="5.3" fill="#a5abd7"/>
<rect x="292.32" y="38" width="5.33" height="5.3" fill="#5d6cb6"/>
<rect x="297.25" y="38" width="5.33" height="5.3" fill="#5363b1"/>
<rect x="302.18" y="38" width="5.33" height="5.3" fill="#606eb7"/>
<rect x="307.12" y="38" width="5.33" height="5.3" fill="#5b6ab5"/>
<rect x="312.05" y="38" width="5.33" height="5.3" fill="#5464b2"/>
<rect x="316.98" y="38" width="5.33" height="5.3" fill="#5f6db7"/>
<rect x="321.91" y="38" width="5.33" height="5.3" fill="#6b77bd"/>
<rect x="326.84" y="38" width="5.33" height="5.3" fill="#5c6bb6"/>
<rect x="331.78" y="38" width="5.33" height="5.3" fill="#606eb7"/>
<rect x="336.71" y="38" width="5.33" height="5.3" fill="#6774bb"/>
<rect x="341.64" y="38" width="5.33" height="5.3" fill="#4356aa"/>
<rect x="346.57" y="38" width="5.33" height="5.3" fill="#4759ac"/>
<rect x="351.5" y="38" width="5.33" height="5.3" fill="#3b4fa6"/>
<rect x="356.44" y="38" width="5.33" height="5.3" fill="#eeeef6"/>
<rect x="361.37" y="38" width="5.33" height="5.3" fill="#f08f90"/>
<rect x="243" y="42.9" width="5.33" height="5.3" fill="#ee4f53"/>
<rect x="247.93" y="42.9" width="5.33" height="5.3" fill="#ef6668"/>
<rect x="252.86" y="42.9" width="5.33" height="5.3" fill="#ed363b"/>
<rect x="257.8" y="42.9" width="5.33" height="5.3" fill="#ec282f"/>
<rect x="262.73" y="42.9" width="5.33" height="5.3" fill="#e81e25"/>
<rect x="267.66" y="42.9" width="5.33" height="5.3" fill="#ed4348"/>
<rect x="272.59" y="42.9" width="5.33" height="5.3" fill="#ed3d42"/>
<rect x="277.52" y="42.9" width="5.33" height="5.3" fill="#ed343a"/>
<rect x="282.46" y="42.9" width="5.33" height="5.3" fill="#ec2a30"/>
<rect x="287.39" y="42.9" width="5.33" height="5.3" fill="#a5abd7"/>
<rect x="292.32" y="42.9" width="5.33" height="5.3" fill="#5565b2"/>
<rect x="297.25" y="42.9" width="5.33" height="5.3" fill="#616fb8"/>
<rect x="302.18" y="42.9" width="5.33" height="5.3" fill="#6371b9"/>
<rect x="307.12" y="42.9" width="5.33" height="5.3" fill="#5c6bb6"/>
<rect x="312.05" y="42.9" width="5.33" height="5.3" fill="#5d6bb6"/>
<rect x="316.98" y="42.9" width="5.33" height="5.3" fill="#6875bb"/>
<rect x="321.91" y="42.9" width="5.33" height="5.3" fill="#5e6cb6"/>
<rect x="326.84" y="42.9" width="5.33" height="5.3" fill="#5c6ab5"/>
<rect x="331.78" y="42.9" width="5.33" height="5.3" fill="#5b6ab5"/>
<rect x="336.71" y="42.9" width="5.33" height="5.3" fill="#6f7bbf"/>
<rect x="341.64" y="42.9" width="5.33" height="5.3" fill="#485aac"/>
<rect x="346.57" y="42.9" width="5.33" height="5.3" fill="#4456aa"/>
<rect x="351.5" y="42.9" width="5.33" height="5.3" fill="#4557ab"/>
<rect x="356.44" y="42.9" width="5.33" height="5.3" fill="#f1f1f8"/>
<rect x="361.37" y="42.9" width="5.33" height="5.3" fill="#f07e7e"/>
<rect x="243" y="47.8" width="5.33" height="5.3" fill="#ee4e52"/>
<rect x="247.93" y="47.8" width="5.33" height="5.3" fill="#ef6769"/>
<rect x="252.86" y="47.8" width="5.33" height="5.3" fill="#ed373d"/>
<rect x="257.8" y="47.8" width="5.33" height="5.3" fill="#ed3137"/>
<rect x="262.73" y="47.8" width="5.33" height="5.3" fill="#ed4348"/>
<rect x="267.66" y="47.8" width="5.33" height="5.3" fill="#e81e25"/>
<rect x="272.59" y="47.8" width="5.33" height="5.3" fill="#ed4247"/>
<rect x="277.52" y="47.8" width="5.33" height="5.3" fill="#ec2b31"/>
<rect x="282.46" y="47.8" width="5.33" height="5.3" fill="#ec2229"/>
<rect x="287.39" y="47.8" width="5.33" height="5.3" fill="#a5abd7"/>
<rect x="292.32" y="47.8" width="5.33" height="5.3" fill="#5e6cb6"/>
<rect x="297.25" y="47.8" width="5.33" height="5.3" fill="#5d6cb6"/>
<rect x="302.18" y="47.8" width="5.33" height="5.3" fill="#5f6db7"/>
<rect x="307.12" y="47.8" width="5.33" height="5.3" fill="#6270b8"/>
<rect x="312.05" y="47.8" width="5.33" height="5.3" fill="#5565b2"/>
<rect x="316.98" y="47.8" width="5.33" height="5.3" fill="#6a77bc"/>
<rect x="321.91" y="47.8" width="5.33" height="5.3" fill="#6f7bbf"/>
<rect x="326.84" y="47.8" width="5.33" height="5.3" fill="#6e7abe"/>
<rect x="331.78" y="47.8" width="5.33" height="5.3" fill="#6472b9"/>
<rect x="336.71" y="47.8" width="5.33" height="5.3" fill="#6d79bd"/>
<rect x="341.64" y="47.8" width="5.33" height="5.3" fill="#4356aa"/>
<rect x="346.57" y="47.8" width="5.33" height="5.3" fill="#4053a8"/>
<rect x="351.5" y="47.8" width="5.33" height="5.3" fill="#4356aa"/>
<rect x="356.44" y="47.8" width="5.33" height="5.3" fill="#e1e2f0"/>
<rect x="361.37" y="47.8" width="5.33" height="5.3" fill="#f08989"/>
<rect x="243" y="52.7" width="5.33" height="5.3" fill="#ee5f62"/>
<rect x="247.93" y="52.7" width="5.33" height="5.3" fill="#ee494d"/>
<rect x="252.86" y="52.7" width="5.33" height="5.3" fill="#ed4247"/>
<rect x="257.8" y="52.7" width="5.33" height="5.3" fill="#ed4146"/>
<rect x="262.73" y="52.7" width="5.33" height="5.3" fill="#ed3d42"/>
<rect x="267.66" y="52.7" width="5.33" height="5.3" fill="#ed4247"/>
<rect x="272.59" y="52.7" width="5.33" height="5.3" fill="#e81e25"/>
<rect x="277.52" y="52.7" width="5.33" height="5.3" fill="#eb2027"/>
<rect x="282.46" y="52.7" width="5.33" height="5.3" fill="#eb2128"/>
<rect x="287.39" y="52.7" width="5.33" height="5.3" fill="#a5abd7"/>
<rect x="292.32" y="52.7" width="5.33" height="5.3" fill="#5666b3"/>
<rect x="297.25" y="52.7" width="5.33" height="5.3" fill="#5e6cb6"/>
<rect x="302.18" y="52.7" width="5.33" height="5.3" fill="#5a69b5"/>
<rect x="307.12" y="52.7" width="5.33" height="5.3" fill="#5767b3"/>
<rect x="312.05" y="52.7" width="5.33" height="5.3" fill="#606eb7"/>
<rect x="316.98" y="52.7" width="5.33" height="5.3" fill="#5d6bb6"/>
<rect x="321.91" y="52.7" width="5.33" height="5.3" fill="#6c78bd"/>
<rect x="326.84" y="52.7" width="5.33" height="5.3" fill="#5b6ab5"/>
<rect x="331.78" y="52.7" width="5.33" height="5.3" fill="#6875bb"/>
<rect x="336.71" y="52.7" width="5.33" height="5.3" fill="#6673ba"/>
<rect x="341.64" y="52.7" width="5.33" height="5.3" fill="#4457aa"/>
<rect x="346.57" y="52.7" width="5.33" height="5.3" fill="#4356aa"/>
<rect x="351.5" y="52.7" width="5.33" height="5.3" fill="#3e52a8"/>
<rect x="356.44" y="52.7" width="5.33" height="5.3" fill="#dcdeee"/>
<rect x="361.37" y="52.7" width="5.33" height="5.3" fill="#f09495"/>
<rect x="243" y="57.6" width="5.33" height="5.3" fill="#ed4045"/>
<rect x="247.93" y="57.6" width="5.33" height="5.3" fill="#ee5357"/>
<rect x="252.86" y="57.6" width="5.33" height="5.3" fill="#ed4246"/>
<rect x="257.8" y="57.6" width="5.33" height="5.3" fill="#ed4449"/>
<rect x="262.73" y="57.6" width="5.33" height="5.3" fill="#ed343a"/>
<rect x="267.66" y="57.6" width="5.33" height="5.3" fill="#ec2b31"/>
<rect x="272.59" y="57.6" width="5.33" height="5.3" fill="#eb2027"/>
<rect x="277.52" y="57.6" width="5.33" height="5.3" fill="#e81e25"/>
<rect x="282.46" y="57.6" width="5.33" height="5.3" fill="#ec252b"/>
<rect x="287.39" y="57.6" width="5.33" height="5.3" fill="#a5abd7"/>
<rect x="292.32" y="57.6" width="5.33" height="5.3" fill="#5161b0"/>
<rect x="297.25" y="57.6" width="5.33" height="5.3" fill="#626fb8"/>
<rect x="302.18" y="57.6" width="5.33" height="5.3" fill="#5c6bb6"/>
<rect x="307.12" y="57.6" width="5.33" height="5.3" fill="#5767b3"/>
<rect x="312.05" y="57.6" width="5.33" height="5.3" fill="#616fb8"/>
<rect x="316.98" y="57.6" width="5.33" height="5.3" fill="#6270b8"/>
<rect x="321.91" y="57.6" width="5.33" height="5.3" fill="#6a76bc"/>
<rect x="326.84" y="57.6" width="5.33" height="5.3" fill="#5f6db7"/>
<rect x="331.78" y="57.6" width="5.33" height="5.3" fill="#6572ba"/>
<rect x="336.71" y="57.6" width="5.33" height="5.3" fill="#6d79be"/>
<rect x="341.64" y="57.6" width="5.33" height="5.3" fill="#4759ac"/>
<rect x="346.57" y="57.6" width="5.33" height="5.3" fill="#4356aa"/>
<rect x="351.5" y="57.6" width="5.33" height="5.3" fill="#3d51a7"/>
<rect x="356.44" y="57.6" width="5.33" height="5.3" fill="#f2e8ed"/>
<rect x="361.37" y="57.6" width="5.33" height="5.3" fill="#f08383"/>
<rect x="243" y="62.5" width="5.33" height="5.3" fill="#ee4d51"/>
<rect x="247.93" y="62.5" width="5.33" height="5.3" fill="#ef6365"/>
<rect x="252.86" y="62.5" width="5.33" height="5.3" fill="#ec2930"/>
<rect x="257.8" y="62.5" width="5.33" height="5.3" fill="#eb2027"/>
<rect x="262.73" y="62.5" width="5.33" height="5.3" fill="#ec2a30"/>
<rect x="267.66" y="62.5" width="5.33" height="5.3" fill="#ec2229"/>
<rect x="272.59" y="62.5" width="5.33" height="5.3" fill="#eb2128"/>
<rect x="277.52" y="62.5" width="5.33" height="5.3" fill="#ec252b"/>
<rect x="282.46" y="62.5" width="5.33" height="5.3" fill="#e81e25"/>
<rect x="287.39" y="62.5" width="5.33" height="5.3" fill="#a5abd7"/>
<rect x="292.32" y="62.5" width="5.33" height="5.3" fill="#5d6cb6"/>
<rect x="297.25" y="62.5" width="5.33" height="5.3" fill="#6370b9"/>
<rect x="302.18" y="62.5" width="5.33" height="5.3" fill="#5363b1"/>
<rect x="307.12" y="62.5" width="5.33" height="5.3" fill="#5161b0"/>
<rect x="312.05" y="62.5" width="5.33" height="5.3" fill="#5767b3"/>
<rect x="316.98" y="62.5" width="5.33" height="5.3" fill="#616fb8"/>
<rect x="321.91" y="62.5" width="5.33" height="5.3" fill="#606eb7"/>
<rect x="326.84" y="62.5" width="5.33" height="5.3" fill="#6471b9"/>
<rect x="331.78" y="62.5" width="5.33" height="5.3" fill="#6975bc"/>
<rect x="336.71" y="62.5" width="5.33" height="5.3" fill="#6673ba"/>
<rect x="341.64" y="62.5" width="5.33" height="5.3" fill="#4659ab"/>
<rect x="346.57" y="62.5" width="5.33" height="5.3" fill="#4154a9"/>
<rect x="351.5" y="62.5" width="5.33" height="5.3" fill="#3b4fa6"/>
<rect x="356.44" y="62.5" width="5.33" height="5.3" fill="#f1d0d4"/>
<rect x="361.37" y="62.5" width="5.33" height="5.3" fill="#f09d9e"/>
<rect x="243" y="67.4" width="5.33" height="5.3" fill="#8e96cd"/>
<rect x="247.93" y="67.4" width="5.33" height="5.3" fill="#a5abd7"/>
<rect x="252.86" y="67.4" width="5.33" height="5.3" fill="#dbddee"/>
<rect x="257.8" y="67.4" width="5.33" height="5.3" fill="#a5abd7"/>
<rect x="262.73" y="67.4" width="5.33" height="5.3" fill="#a5abd7"/>
<rect x="267.66" y="67.4" width="5.33" height="5.3" fill="#a5abd7"/>
<rect x="272.59" y="67.4" width="5.33" height="5.3" fill="#a5abd7"/>
<rect x="277.52" y="67.4" width="5.33" height="5.3" fill="#a5abd7"/>
<rect x="282.46" y="67.4" width="5.33" height="5.3" fill="#a5abd7"/>
<rect x="287.39" y="67.4" width="5.33" height="5.3" fill="#e81e25"/>
<rect x="292.32" y="67.4" width="5.33" height="5.3" fill="#ec2930"/>
<rect x="297.25" y="67.4" width="5.33" height="5.3" fill="#ed3036"/>
<rect x="302.18" y="67.4" width="5.33" height="5.3" fill="#ed3d42"/>
<rect x="307.12" y="67.4" width="5.33" height="5.3" fill="#ec252c"/>
<rect x="312.05" y="67.4" width="5.33" height="5.3" fill="#ee4b4f"/>
<rect x="316.98" y="67.4" width="5.33" height="5.3" fill="#ed464a"/>
<rect x="321.91" y="67.4" width="5.33" height="5.3" fill="#ed363b"/>
<rect x="326.84" y="67.4" width="5.33" height="5.3" fill="#ee4b4f"/>
<rect x="331.78" y="67.4" width="5.33" height="5.3" fill="#ec232a"/>
<rect x="336.71" y="67.4" width="5.33" height="5.3" fill="#ed4145"/>
<rect x="341.64" y="67.4" width="5.33" height="5.3" fill="#ef6a6c"/>
<rect x="346.57" y="67.4" width="5.33" height="5.3" fill="#ef6f71"/>
<rect x="351.5" y="67.4" width="5.33" height="5.3" fill="#ee5256"/>
<rect x="356.44" y="67.4" width="5.33" height="5.3" fill="#f1bcbf"/>
<rect x="361.37" y="67.4" width="5.33" height="5.3" fill="#f1c5c8"/>
<rect x="243" y="72.3" width="5.33" height="5.3" fill="#4557ab"/>
<rect x="247.93" y="72.3" width="5.33" height="5.3" fill="#5061b0"/>
<rect x="252.86" y="72.3" width="5.33" height="5.3" fill="#7a84c4"/>
<rect x="257.8" y="72.3" width="5.33" height="5.3" fill="#5d6cb6"/>
<rect x="262.73" y="72.3" width="5.33" height="5.3" fill="#5565b2"/>
<rect x="267.66" y="72.3" width="5.33" height="5.3" fill="#5e6cb6"/>
<rect x="272.59" y="72.3" width="5.33" height="5.3" fill="#5666b3"/>
<rect x="277.52" y="72.3" width="5.33" height="5.3" fill="#5161b0"/>
<rect x="282.46" y="72.3" width="5.33" height="5.3" fill="#5d6cb6"/>
<rect x="287.39" y="72.3" width="5.33" height="5.3" fill="#ec2930"/>
<rect x="292.32" y="72.3" width="5.33" height="5.3" fill="#e81e25"/>
<rect x="297.25" y="72.3" width="5.33" height="5.3" fill="#ec2c32"/>
<rect x="302.18" y="72.3" width="5.33" height="5.3" fill="#ec242b"/>
<rect x="307.12" y="72.3" width="5.33" height="5.3" fill="#ec2128"/>
<rect x="312.05" y="72.3" width="5.33" height="5.3" fill="#ec2a31"/>
<rect x="316.98" y="72.3" width="5.33" height="5.3" fill="#ed4247"/>
<rect x="321.91" y="72.3" width="5.33" height="5.3" fill="#ed353a"/>
<rect x="326.84" y="72.3" width="5.33" height="5.3" fill="#ed4348"/>
<rect x="331.78" y="72.3" width="5.33" height="5.3" fill="#ee4c50"/>
<rect x="336.71" y="72.3" width="5.33" height="5.3" fill="#ed353b"/>
<rect x="341.64" y="72.3" width="5.33" height="5.3" fill="#ee4e52"/>
<rect x="346.57" y="72.3" width="5.33" height="5.3" fill="#ef686b"/>
<rect x="351.5" y="72.3" width="5.33" height="5.3" fill="#ef6466"/>
<rect x="356.44" y="72.3" width="5.33" height="5.3" fill="#f1bfc2"/>
<rect x="361.37" y="72.3" width="5.33" height="5.3" fill="#f1c3c6"/>
<rect x="243" y="77.2" width="5.33" height="5.3" fill="#4658ab"/>
<rect x="247.93" y="77.2" width="5.33" height="5.3" fill="#5c6ab5"/>
<rect x="252.86" y="77.2" width="5.33" height="5.3" fill="#7580c1"/>
<rect x="257.8" y="77.2" width="5.33" height="5.3" fill="#5363b1"/>
<rect x="262.73" y="77.2" width="5.33" height="5.3" fill="#616fb8"/>
<rect x="267.66" y="77.2" width="5.33" height="5.3" fill="#5d6cb6"/>
<rect x="272.59" y="77.2" width="5.33" height="5.3" fill="#5e6cb6"/>
<rect x="277.52" y="77.2" width="5.33" height="5.3" fill="#626fb8"/>
<rect x="282.46" y="77.2" width="5.33" height="5.3" fill="#6370b9"/>
<rect x="287.39" y="77.2" width="5.33" height="5.3" fill="#ed3036"/>
<rect x="292.32" y="77.2" width="5.33" height="5.3" fill="#ec2c32"/>
<rect x="297.25" y="77.2" width="5.33" height="5.3" fill="#e81e25"/>
<rect x="302.18" y="77.2" width="5.33" height="5.3" fill="#ed3338"/>
<rect x="307.12" y="77.2" width="5.33" height="5.3" fill="#ec2e34"/>
<rect x="312.05" y="77.2" width="5.33" height="5.3" fill="#ec272d"/>
<rect x="316.98" y="77.2" width="5.33" height="5.3" fill="#ed393e"/>
<rect x="321.91" y="77.2" width="5.33" height="5.3" fill="#ec252c"/>
<rect x="326.84" y="77.2" width="5.33" height="5.3" fill="#ec2128"/>
<rect x="331.78" y="77.2" width="5.33" height="5.3" fill="#ed484c"/>
<rect x="336.71" y="77.2" width="5.33" height="5.3" fill="#ec2128"/>
<rect x="341.64" y="77.2" width="5.33" height="5.3" fill="#ee4e52"/>
<rect x="346.57" y="77.2" width="5.33" height="5.3" fill="#ef6b6d"/>
<rect x="351.5" y="77.2" width="5.33" height="5.3" fill="#ee5b5e"/>
<rect x="356.44" y="77.2" width="5.33" height="5.3" fill="#f1b7ba"/>
<rect x="361.37" y="77.2" width="5.33" height="5.3" fill="#f1bdc0"/>
<rect x="243" y="82.1" width="5.33" height="5.3" fill="#4154a9"/>
<rect x="247.93" y="82.1" width="5.33" height="5.3" fill="#5060b0"/>
<rect x="252.86" y="82.1" width="5.33" height="5.3" fill="#7781c2"/>
<rect x="257.8" y="82.1" width="5.33" height="5.3" fill="#606eb7"/>
<rect x="262.73" y="82.1" width="5.33" height="5.3" fill="#6371b9"/>
<rect x="267.66" y="82.1" width="5.33" height="5.3" fill="#5f6db7"/>
<rect x="272.59" y="82.1" width="5.33" height="5.3" fill="#5a69b5"/>
<rect x="277.52" y="82.1" width="5.33" height="5.3" fill="#5c6bb6"/>
<rect x="282.46" y="82.1" width="5.33" height="5.3" fill="#5363b1"/>
<rect x="287.39" y="82.1" width="5.33" height="5.3" fill="#ed3d42"/>
<rect x="292.32" y="82.1" width="5.33" height="5.3" fill="#ec242b"/>
<rect x="297.25" y="82.1" width="5.33" height="5.3" fill="#ed3338"/>
<rect x="302.18" y="82.1" width="5.33" height="5.3" fill="#e81e25"/>
<rect x="307.12" y="82.1" width="5.33" height="5.3" fill="#ed3a3f"/>
<rect x="312.05" y="82.1" width="5.33" height="5.3" fill="#ed3036"/>
<rect x="316.98" y="82.1" width="5.33" height="5.3" fill="#ec2128"/>
<rect x="321.91" y="82.1" width="5.33" height="5.3" fill="#ec252c"/>
<rect x="326.84" y="82.1" width="5.33" height="5.3" fill="#ec2128"/>
<rect x="331.78" y="82.1" width="5.33" height="5.3" fill="#ed353b"/>
<rect x="336.71" y="82.1" width="5.33" height="5.3" fill="#ec2c32"/>
<rect x="341.64" y="82.1" width="5.33" height="5.3" fill="#ef6769"/>
<rect x="346.57" y="82.1" width="5.33" height="5.3" fill="#ee4e52"/>
<rect x="351.5" y="82.1" width="5.33" height="5.3" fill="#ee494d"/>
<rect x="356.44" y="82.1" width="5.33" height="5.3" fill="#f1b7b9"/>
<rect x="361.37" y="82.1" width="5.33" height="5.3" fill="#f1c2c6"/>
<rect x="243" y="87" width="5.33" height="5.3" fill="#5161b0"/>
<rect x="247.93" y="87" width="5.33" height="5.3" fill="#5766b3"/>
<rect x="252.86" y="87" width="5.33" height="5.3" fill="#858ec9"/>
<rect x="257.8" y="87" width="5.33" height="5.3" fill="#5b6ab5"/>
<rect x="262.73" y="87" width="5.33" height="5.3" fill="#5c6bb6"/>
<rect x="267.66" y="87" width="5.33" height="5.3" fill="#6270b8"/>
<rect x="272.59" y="87" width="5.33" height="5.3" fill="#5767b3"/>
<rect x="277.52" y="87" width="5.33" height="5.3" fill="#5767b3"/>
<rect x="282.46" y="87" width="5.33" height="5.3" fill="#5161b0"/>
<rect x="287.39" y="87" width="5.33" height="5.3" fill="#ec252c"/>
<rect x="292.32" y="87" width="5.33" height="5.3" fill="#ec2128"/>
<rect x="297.25" y="87" width="5.33" height="5.3" fill="#ec2e34"/>
<rect x="302.18" y="87" width="5.33" height="5.3" fill="#ed3a3f"/>
<rect x="307.12" y="87" width="5.33" height="5.3" fill="#e81e25"/>
<rect x="312.05" y="87" width="5.33" height="5.3" fill="#ed4247"/>
<rect x="316.98" y="87" width="5.33" height="5.3" fill="#ec2128"/>
<rect x="321.91" y="87" width="5.33" height="5.3" fill="#ec2128"/>
<rect x="326.84" y="87" width="5.33" height="5.3" fill="#ec2128"/>
<rect x="331.78" y="87" width="5.33" height="5.3" fill="#ed3238"/>
<rect x="336.71" y="87" width="5.33" height="5.3" fill="#ec252c"/>
<rect x="341.64" y="87" width="5.33" height="5.3" fill="#ee6164"/>
<rect x="346.57" y="87" width="5.33" height="5.3" fill="#ed4449"/>
<rect x="351.5" y="87" width="5.33" height="5.3" fill="#ed474b"/>
<rect x="356.44" y="87" width="5.33" height="5.3" fill="#f1bfc2"/>
<rect x="361.37" y="87" width="5.33" height="5.3" fill="#f1d4d8"/>
<rect x="243" y="91.9" width="5.33" height="5.3" fill="#495aac"/>
<rect x="247.93" y="91.9" width="5.33" height="5.3" fill="#5262b1"/>
<rect x="252.86" y="91.9" width="5.33" height="5.3" fill="#7882c3"/>
<rect x="257.8" y="91.9" width="5.33" height="5.3" fill="#5464b2"/>
<rect x="262.73" y="91.9" width="5.33" height="5.3" fill="#5d6bb6"/>
<rect x="267.66" y="91.9" width="5.33" height="5.3" fill="#5565b2"/>
<rect x="272.59" y="91.9" width="5.33" height="5.3" fill="#606eb7"/>
<rect x="277.52" y="91.9" width="5.33" height="5.3" fill="#616fb8"/>
<rect x="282.46" y="91.9" width="5.33" height="5.3" fill="#5767b3"/>
<rect x="287.39" y="91.9" width="5.33" height="5.3" fill="#ee4b4f"/>
<rect x="292.32" y="91.9" width="5.33" height="5.3" fill="#ec2a31"/>
<rect x="297.25" y="91.9" width="5.33" height="5.3" fill="#ec272d"/>
<rect x="302.18" y="91.9" width="5.33" height="5.3" fill="#ed3036"/>
<rect x="307.12" y="91.9" width="5.33" height="5.3" fill="#ed4247"/>
<rect x="312.05" y="91.9" width="5.33" height="5.3" fill="#e81e25"/>
<rect x="316.98" y="91.9" width="5.33" height="5.3" fill="#ed363c"/>
<rect x="321.91" y="91.9" width="5.33" height="5.3" fill="#ed3137"/>
<rect x="326.84" y="91.9" width="5.33" height="5.3" fill="#ec262d"/>
<rect x="331.78" y="91.9" width="5.33" height="5.3" fill="#ed343a"/>
<rect x="336.71" y="91.9" width="5.33" height="5.3" fill="#ee4b4f"/>
<rect x="341.64" y="91.9" width="5.33" height="5.3" fill="#ee494e"/>
<rect x="346.57" y="91.9" width="5.33" height="5.3" fill="#ef6e70"/>
<rect x="351.5" y="91.9" width="5.33" height="5.3" fill="#ee4a4e"/>
<rect x="356.44" y="91.9" width="5.33" height="5.3" fill="#f1c4c7"/>
<rect x="361.37" y="91.9" width="5.33" height="5.3" fill="#f1cdd1"/>
<rect x="243" y="96.8" width="5.33" height="5.3" fill="#606eb8"/>
<rect x="247.93" y="96.8" width="5.33" height="5.3" fill="#616fb8"/>
<rect x="252.86" y="96.8" width="5.33" height="5.3" fill="#8d95cc"/>
<rect x="257.8" y="96.8" width="5.33" height="5.3" fill="#5f6db7"/>
<rect x="262.73" y="96.8" width="5.33" height="5.3" fill="#6875bb"/>
<rect x="267.66" y="96.8" width="5.33" height="5.3" fill="#6a77bc"/>
<rect x="272.59" y="96.8" width="5.33" height="5.3" fill="#5d6bb6"/>
<rect x="277.52" y="96.8" width="5.33" height="5.3" fill="#6270b8"/>
<rect x="282.46" y="96.8" width="5.33" height="5.3" fill="#616fb8"/>
<rect x="287.39" y="96.8" width="5.33" height="5.3" fill="#ed464a"/>
<rect x="292.32" y="96.8" width="5.33" height="5.3" fill="#ed4247"/>
<rect x="297.25" y="96.8" width="5.33" height="5.3" fill="#ed393e"/>
<rect x="302.18" y="96.8" width="5.33" height="5.3" fill="#ec2128"/>
<rect x="307.12" y="96.8" width="5.33" height="5.3" fill="#ec2128"/>
<rect x="312.05" y="96.8" width="5.33" height="5.3" fill="#ed363c"/>
<rect x="316.98" y="96.8" width="5.33" height="5.3" fill="#e81e25"/>
<rect x="321.91" y="96.8" width="5.33" height="5.3" fill="#ec252c"/>
<rect x="326.84" y="96.8" width="5.33" height="5.3" fill="#ed454a"/>
<rect x="331.78" y="96.8" width="5.33" height="5.3" fill="#ed4549"/>
<rect x="336.71" y="96.8" width="5.33" height="5.3" fill="#ed3339"/>
<rect x="341.64" y="96.8" width="5.33" height="5.3" fill="#ee4e52"/>
<rect x="346.57" y="96.8" width="5.33" height="5.3" fill="#ed484c"/>
<rect x="351.5" y="96.8" width="5.33" height="5.3" fill="#ee4f53"/>
<rect x="356.44" y="96.8" width="5.33" height="5.3" fill="#f1aeb0"/>
<rect x="361.37" y="96.8" width="5.33" height="5.3" fill="#f1c9cc"/>
<rect x="243" y="101.7" width="5.33" height="5.3" fill="#5666b3"/>
<rect x="247.93" y="101.7" width="5.33" height="5.3" fill="#717cbf"/>
<rect x="252.86" y="101.7" width="5.33" height="5.3" fill="#99a0d1"/>
<rect x="257.8" y="101.7" width="5.33" height="5.3" fill="#6b77bd"/>
<rect x="262.73" y="101.7" width="5.33" height="5.3" fill="#5e6cb6"/>
<rect x="267.66" y="101.7" width="5.33" height="5.3" fill="#6f7bbf"/>
<rect x="272.59" y="101.7" width="5.33" height="5.3" fill="#6c78bd"/>
<rect x="277.52" y="101.7" width="5.33" height="5.3" fill="#6a76bc"/>
<rect x="282.46" y="101.7" width="5.33" height="5.3" fill="#606eb7"/>
<rect x="287.39" y="101.7" width="5.33" height="5.3" fill="#ed363b"/>
<rect x="292.32" y="101.7" width="5.33" height="5.3" fill="#ed353a"/>
<rect x="297.25" y="101.7" width="5.33" height="5.3" fill="#ec252c"/>
<rect x="302.18" y="101.7" width="5.33" height="5.3" fill="#ec252c"/>
<rect x="307.12" y="101.7" width="5.33" height="5.3" fill="#ec2128"/>
<rect x="312.05" y="101.7" width="5.33" height="5.3" fill="#ed3137"/>
<rect x="316.98" y="101.7" width="5.33" height="5.3" fill="#ec252c"/>
<rect x="321.91" y="101.7" width="5.33" height="5.3" fill="#e81e25"/>
<rect x="326.84" y="101.7" width="5.33" height="5.3" fill="#ec2128"/>
<rect x="331.78" y="101.7" width="5.33" height="5.3" fill="#ed484c"/>
<rect x="336.71" y="101.7" width="5.33" height="5.3" fill="#ed4146"/>
<rect x="341.64" y="101.7" width="5.33" height="5.3" fill="#ee575b"/>
<rect x="346.57" y="101.7" width="5.33" height="5.3" fill="#ef6366"/>
<rect x="351.5" y="101.7" width="5.33" height="5.3" fill="#ee4d51"/>
<rect x="356.44" y="101.7" width="5.33" height="5.3" fill="#f1b7b9"/>
<rect x="361.37" y="101.7" width="5.33" height="5.3" fill="#f1c8cb"/>
<rect x="243" y="106.6" width="5.33" height="5.3" fill="#6370b9"/>
<rect x="247.93" y="106.6" width="5.33" height="5.3" fill="#6d79be"/>
<rect x="252.86" y="106.6" width="5.33" height="5.3" fill="#7f88c6"/>
<rect x="257.8" y="106.6" width="5.33" height="5.3" fill="#5c6bb6"/>
<rect x="262.73" y="106.6" width="5.33" height="5.3" fill="#5c6ab5"/>
<rect x="267.66" y="106.6" width="5.33" height="5.3" fill="#6e7abe"/>
<rect x="272.59" y="106.6" width="5.33" height="5.3" fill="#5b6ab5"/>
<rect x="277.52" y="106.6" width="5.33" height="5.3" fill="#5f6db7"/>
<rect x="282.46" y="106.6" width="5.33" height="5.3" fill="#6471b9"/>
<rect x="287.39" y="106.6" width="5.33" height="5.3" fill="#ee4b4f"/>
<rect x="292.32" y="106.6" width="5.33" height="5.3" fill="#ed4348"/>
<rect x="297.25" y="106.6" width="5.33" height="5.3" fill="#ec2128"/>
<rect x="302.18" y="106.6" width="5.33" height="5.3" fill="#ec2128"/>
<rect x="307.12" y="106.6" width="5.33" height="5.3" fill="#ec2128"/>
<rect x="312.05" y="106.6" width="5.33" height="5.3" fill="#ec262d"/>
<rect x="316.98" y="106.6" width="5.33" height="5.3" fill="#ed454a"/>
<rect x="321.91" y="106.6" width="5.33" height="5.3" fill="#ec2128"/>
<rect x="326.84" y="106.6" width="5.33" height="5.3" fill="#e81e25"/>
<rect x="331.78" y="106.6" width="5.33" height="5.3" fill="#ec2329"/>
<rect x="336.71" y="106.6" width="5.33" height="5.3" fill="#ed3137"/>
<rect x="341.64" y="106.6" width="5.33" height="5.3" fill="#ee6265"/>
<rect x="346.57" y="106.6" width="5.33" height="5.3" fill="#ee5e61"/>
<rect x="351.5" y="106.6" width="5.33" height="5.3" fill="#ed484c"/>
<rect x="356.44" y="106.6" width="5.33" height="5.3" fill="#f1afb2"/>
<rect x="361.37" y="106.6" width="5.33" height="5.3" fill="#f1d0d5"/>
<rect x="243" y="111.5" width="5.33" height="5.3" fill="#606eb8"/>
<rect x="247.93" y="111.5" width="5.33" height="5.3" fill="#626fb8"/>
<rect x="252.86" y="111.5" width="5.33" height="5.3" fill="#7e87c6"/>
<rect x="257.8" y="111.5" width="5.33" height="5.3" fill="#606eb7"/>
<rect x="262.73" y="111.5" width="5.33" height="5.3" fill="#5b6ab5"/>
<rect x="267.66" y="111.5" width="5.33" height="5.3" fill="#6472b9"/>
<rect x="272.59" y="111.5" width="5.33" height="5.3" fill="#6875bb"/>
<rect x="277.52" y="111.5" width="5.33" height="5.3" fill="#6572ba"/>
<rect x="282.46" y="111.5" width="5.33" height="5.3" fill="#6975bc"/>
<rect x="287.39" y="111.5" width="5.33" height="5.3" fill="#ec232a"/>
<rect x="292.32" y="111.5" width="5.33" height="5.3" fill="#ee4c50"/>
<rect x="297.25" y="111.5" width="5.33" height="5.3" fill="#ed484c"/>
<rect x="302.18" y="111.5" width="5.33" height="5.3" fill="#ed353b"/>
<rect x="307.12" y="111.5" width="5.33" height="5.3" fill="#ed3238"/>
<rect x="312.05" y="111.5" width="5.33" height="5.3" fill="#ed343a"/>
<rect x="316.98" y="111.5" width="5.33" height="5.3" fill="#ed4549"/>
<rect x="321.91" y="111.5" width="5.33" height="5.3" fill="#ed484c"/>
<rect x="326.84" y="111.5" width="5.33" height="5.3" fill="#ec2329"/>
<rect x="331.78" y="111.5" width="5.33" height="5.3" fill="#e81e25"/>
<rect x="336.71" y="111.5" width="5.33" height="5.3" fill="#ec2229"/>
<rect x="341.64" y="111.5" width="5.33" height="5.3" fill="#ed4146"/>
<rect x="346.57" y="111.5" width="5.33" height="5.3" fill="#ee575b"/>
<rect x="351.5" y="111.5" width="5.33" height="5.3" fill="#ee5559"/>
<rect x="356.44" y="111.5" width="5.33" height="5.3" fill="#f1c3c6"/>
<rect x="361.37" y="111.5" width="5.33" height="5.3" fill="#f1c7cb"/>
<rect x="243" y="116.4" width="5.33" height="5.3" fill="#4d5eaf"/>
<rect x="247.93" y="116.4" width="5.33" height="5.3" fill="#6f7abe"/>
<rect x="252.86" y="116.4" width="5.33" height="5.3" fill="#9aa1d2"/>
<rect x="257.8" y="116.4" width="5.33" height="5.3" fill="#6774bb"/>
<rect x="262.73" y="116.4" width="5.33" height="5.3" fill="#6f7bbf"/>
<rect x="267.66" y="116.4" width="5.33" height="5.3" fill="#6d79bd"/>
<rect x="272.59" y="116.4" width="5.33" height="5.3" fill="#6673ba"/>
<rect x="277.52" y="116.4" width="5.33" height="5.3" fill="#6d79be"/>
<rect x="282.46" y="116.4" width="5.33" height="5.3" fill="#6673ba"/>
<rect x="287.39" y="116.4" width="5.33" height="5.3" fill="#ed4145"/>
<rect x="292.32" y="116.4" width="5.33" height="5.3" fill="#ed353b"/>
<rect x="297.25" y="116.4" width="5.33" height="5.3" fill="#ec2128"/>
<rect x="302.18" y="116.4" width="5.33" height="5.3" fill="#ec2c32"/>
<rect x="307.12" y="116.4" width="5.33" height="5.3" fill="#ec252c"/>
<rect x="312.05" y="116.4" width="5.33" height="5.3" fill="#ee4b4f"/>
<rect x="316.98" y="116.4" width="5.33" height="5.3" fill="#ed3339"/>
<rect x="321.91" y="116.4" width="5.33" height="5.3" fill="#ed4146"/>
<rect x="326.84" y="116.4" width="5.33" height="5.3" fill="#ed3137"/>
<rect x="331.78" y="116.4" width="5.33" height="5.3" fill="#ec2229"/>
<rect x="336.71" y="116.4" width="5.33" height="5.3" fill="#e81e25"/>
<rect x="341.64" y="116.4" width="5.33" height="5.3" fill="#ee585c"/>
<rect x="346.57" y="116.4" width="5.33" height="5.3" fill="#ee5357"/>
<rect x="351.5" y="116.4" width="5.33" height="5.3" fill="#ef7072"/>
<rect x="356.44" y="116.4" width="5.33" height="5.3" fill="#f1aeb0"/>
<rect x="361.37" y="116.4" width="5.33" height="5.3" fill="#f1c8cc"/>
<rect x="243" y="121.3" width="5.33" height="5.3" fill="#4759ac"/>
<rect x="247.93" y="121.3" width="5.33" height="5.3" fill="#4053a9"/>
<rect x="252.86" y="121.3" width="5.33" height="5.3" fill="#3e52a8"/>
<rect x="257.8" y="121.3" width="5.33" height="5.3" fill="#4356aa"/>
<rect x="262.73" y="121.3" width="5.33" height="5.3" fill="#485aac"/>
<rect x="267.66" y="121.3" width="5.33" height="5.3" fill="#4356aa"/>
<rect x="272.59" y="121.3" width="5.33" height="5.3" fill="#4457aa"/>
<rect x="277.52" y="121.3" width="5.33" height="5.3" fill="#4759ac"/>
<rect x="282.46" y="121.3" width="5.33" height="5.3" fill="#4659ab"/>
<rect x="287.39" y="121.3" width="5.33" height="5.3" fill="#ef6a6c"/>
<rect x="292.32" y="121.3" width="5.33" height="5.3" fill="#ee4e52"/>
<rect x="297.25" y="121.3" width="5.33" height="5.3" fill="#ee4e52"/>
<rect x="302.18" y="121.3" width="5.33" height="5.3" fill="#ef6769"/>
<rect x="307.12" y="121.3" width="5.33" height="5.3" fill="#ee6164"/>
<rect x="312.05" y="121.3" width="5.33" height="5.3" fill="#ee494e"/>
<rect x="316.98" y="121.3" width="5.33" height="5.3" fill="#ee4e52"/>
<rect x="321.91" y="121.3" width="5.33" height="5.3" fill="#ee575b"/>
<rect x="326.84" y="121.3" width="5.33" height="5.3" fill="#ee6265"/>
<rect x="331.78" y="121.3" width="5.33" height="5.3" fill="#ed4146"/>
<rect x="336.71" y="121.3" width="5.33" height="5.3" fill="#ee585c"/>
<rect x="341.64" y="121.3" width="5.33" height="5.3" fill="#e81e25"/>
<rect x="346.57" y="121.3" width="5.33" height="5.3" fill="#ed3238"/>
<rect x="351.5" y="121.3" width="5.33" height="5.3" fill="#ed3a3f"/>
<rect x="356.44" y="121.3" width="5.33" height="5.3" fill="#f1b5b8"/>
<rect x="361.37" y="121.3" width="5.33" height="5.3" fill="#f1d4d9"/>
<rect x="243" y="126.2" width="5.33" height="5.3" fill="#485aac"/>
<rect x="247.93" y="126.2" width="5.33" height="5.3" fill="#4456aa"/>
<rect x="252.86" y="126.2" width="5.33" height="5.3" fill="#4557ab"/>
<rect x="257.8" y="126.2" width="5.33" height="5.3" fill="#4759ac"/>
<rect x="262.73" y="126.2" width="5.33" height="5.3" fill="#4456aa"/>
<rect x="267.66" y="126.2" width="5.33" height="5.3" fill="#4053a8"/>
<rect x="272.59" y="126.2" width="5.33" height="5.3" fill="#4356aa"/>
<rect x="277.52" y="126.2" width="5.33" height="5.3" fill="#4356aa"/>
<rect x="282.46" y="126.2" width="5.33" height="5.3" fill="#4154a9"/>
<rect x="287.39" y="126.2" width="5.33" height="5.3" fill="#ef6f71"/>
<rect x="292.32" y="126.2" width="5.33" height="5.3" fill="#ef686b"/>
<rect x="297.25" y="126.2" width="5.33" height="5.3" fill="#ef6b6d"/>
<rect x="302.18" y="126.2" width="5.33" height="5.3" fill="#ee4e52"/>
<rect x="307.12" y="126.2" width="5.33" height="5.3" fill="#ed4449"/>
<rect x="312.05" y="126.2" width="5.33" height="5.3" fill="#ef6e70"/>
<rect x="316.98" y="126.2" width="5.33" height="5.3" fill="#ed484c"/>
<rect x="321.91" y="126.2" width="5.33" height="5.3" fill="#ef6366"/>
<rect x="326.84" y="126.2" width="5.33" height="5.3" fill="#ee5e61"/>
<rect x="331.78" y="126.2" width="5.33" height="5.3" fill="#ee575b"/>
<rect x="336.71" y="126.2" width="5.33" height="5.3" fill="#ee5357"/>
<rect x="341.64" y="126.2" width="5.33" height="5.3" fill="#ed3238"/>
<rect x="346.57" y="126.2" width="5.33" height="5.3" fill="#e81e25"/>
<rect x="351.5" y="126.2" width="5.33" height="5.3" fill="#ed3c41"/>
<rect x="356.44" y="126.2" width="5.33" height="5.3" fill="#f1aeb0"/>
<rect x="361.37" y="126.2" width="5.33" height="5.3" fill="#f1bdc0"/>
<rect x="243" y="131.1" width="5.33" height="5.3" fill="#3c50a6"/>
<rect x="247.93" y="131.1" width="5.33" height="5.3" fill="#485aac"/>
<rect x="252.86" y="131.1" width="5.33" height="5.3" fill="#3e51a7"/>
<rect x="257.8" y="131.1" width="5.33" height="5.3" fill="#3b4fa6"/>
<rect x="262.73" y="131.1" width="5.33" height="5.3" fill="#4557ab"/>
<rect x="267.66" y="131.1" width="5.33" height="5.3" fill="#4356aa"/>
<rect x="272.59" y="131.1" width="5.33" height="5.3" fill="#3e52a8"/>
<rect x="277.52" y="131.1" width="5.33" height="5.3" fill="#3d51a7"/>
<rect x="282.46" y="131.1" width="5.33" height="5.3" fill="#3b4fa6"/>
<rect x="287.39" y="131.1" width="5.33" height="5.3" fill="#ee5256"/>
<rect x="292.32" y="131.1" width="5.33" height="5.3" fill="#ef6466"/>
<rect x="297.25" y="131.1" width="5.33" height="5.3" fill="#ee5b5e"/>
<rect x="302.18" y="131.1" width="5.33" height="5.3" fill="#ee494d"/>
<rect x="307.12" y="131.1" width="5.33" height="5.3" fill="#ed474b"/>
<rect x="312.05" y="131.1" width="5.33" height="5.3" fill="#ee4a4e"/>
<rect x="316.98" y="131.1" width="5.33" height="5.3" fill="#ee4f53"/>
<rect x="321.91" y="131.1" width="5.33" height="5.3" fill="#ee4d51"/>
<rect x="326.84" y="131.1" width="5.33" height="5.3" fill="#ed484c"/>
<rect x="331.78" y="131.1" width="5.33" height="5.3" fill="#ee5559"/>
<rect x="336.71" y="131.1" width="5.33" height="5.3" fill="#ef7072"/>
<rect x="341.64" y="131.1" width="5.33" height="5.3" fill="#ed3a3f"/>
<rect x="346.57" y="131.1" width="5.33" height="5.3" fill="#ed3c41"/>
<rect x="351.5" y="131.1" width="5.33" height="5.3" fill="#e81e25"/>
<rect x="356.44" y="131.1" width="5.33" height="5.3" fill="#f1c1c4"/>
<rect x="361.37" y="131.1" width="5.33" height="5.3" fill="#f1c9cd"/>
<rect x="243" y="136" width="5.33" height="5.3" fill="#f2e0e4"/>
<rect x="247.93" y="136" width="5.33" height="5.3" fill="#eaeaf4"/>
<rect x="252.86" y="136" width="5.33" height="5.3" fill="#f1cccf"/>
<rect x="257.8" y="136" width="5.33" height="5.3" fill="#eeeef6"/>
<rect x="262.73" y="136" width="5.33" height="5.3" fill="#f1f1f8"/>
<rect x="267.66" y="136" width="5.33" height="5.3" fill="#e1e2f0"/>
<rect x="272.59" y="136" width="5.33" height="5.3" fill="#dcdeee"/>
<rect x="277.52" y="136" width="5.33" height="5.3" fill="#f2e8ed"/>
<rect x="282.46" y="136" width="5.33" height="5.3" fill="#f1d0d4"/>
<rect x="287.39" y="136" width="5.33" height="5.3" fill="#f1bcbf"/>
<rect x="292.32" y="136" width="5.33" height="5.3" fill="#f1bfc2"/>
<rect x="297.25" y="136" width="5.33" height="5.3" fill="#f1b7ba"/>
<rect x="302.18" y="136" width="5.33" height="5.3" fill="#f1b7b9"/>
<rect x="307.12" y="136" width="5.33" height="5.3" fill="#f1bfc2"/>
<rect x="312.05" y="136" width="5.33" height="5.3" fill="#f1c4c7"/>
<rect x="316.98" y="136" width="5.33" height="5.3" fill="#f1aeb0"/>
<rect x="321.91" y="136" width="5.33" height="5.3" fill="#f1b7b9"/>
<rect x="326.84" y="136" width="5.33" height="5.3" fill="#f1afb2"/>
<rect x="331.78" y="136" width="5.33" height="5.3" fill="#f1c3c6"/>
<rect x="336.71" y="136" width="5.33" height="5.3" fill="#f1aeb0"/>
<rect x="341.64" y="136" width="5.33" height="5.3" fill="#f1b5b8"/>
<rect x="346.57" y="136" width="5.33" height="5.3" fill="#f1aeb0"/>
<rect x="351.5" y="136" width="5.33" height="5.3" fill="#f1c1c4"/>
<rect x="356.44" y="136" width="5.33" height="5.3" fill="#e81e25"/>
<rect x="361.37" y="136" width="5.33" height="5.3" fill="#f09191"/>
<rect x="243" y="140.9" width="5.33" height="5.3" fill="#f08485"/>
<rect x="247.93" y="140.9" width="5.33" height="5.3" fill="#f09697"/>
<rect x="252.86" y="140.9" width="5.33" height="5.3" fill="#f08182"/>
<rect x="257.8" y="140.9" width="5.33" height="5.3" fill="#f08f90"/>
<rect x="262.73" y="140.9" width="5.33" height="5.3" fill="#f07e7e"/>
<rect x="267.66" y="140.9" width="5.33" height="5.3" fill="#f08989"/>
<rect x="272.59" y="140.9" width="5.33" height="5.3" fill="#f09495"/>
<rect x="277.52" y="140.9" width="5.33" height="5.3" fill="#f08383"/>
<rect x="282.46" y="140.9" width="5.33" height="5.3" fill="#f09d9e"/>
<rect x="287.39" y="140.9" width="5.33" height="5.3" fill="#f1c5c8"/>
<rect x="292.32" y="140.9" width="5.33" height="5.3" fill="#f1c3c6"/>
<rect x="297.25" y="140.9" width="5.33" height="5.3" fill="#f1bdc0"/>
<rect x="302.18" y="140.9" width="5.33" height="5.3" fill="#f1c2c6"/>
<rect x="307.12" y="140.9" width="5.33" height="5.3" fill="#f1d4d8"/>
<rect x="312.05" y="140.9" width="5.33" height="5.3" fill="#f1cdd1"/>
<rect x="316.98" y="140.9" width="5.33" height="5.3" fill="#f1c9cc"/>
<rect x="321.91" y="140.9" width="5.33" height="5.3" fill="#f1c8cb"/>
<rect x="326.84" y="140.9" width="5.33" height="5.3" fill="#f1d0d5"/>
<rect x="331.78" y="140.9" width="5.33" height="5.3" fill="#f1c7cb"/>
<rect x="336.71" y="140.9" width="5.33" height="5.3" fill="#f1c8cc"/>
<rect x="341.64" y="140.9" width="5.33" height="5.3" fill="#f1d4d9"/>
<rect x="346.57" y="140.9" width="5.33" height="5.3" fill="#f1bdc0"/>
<rect x="351.5" y="140.9" width="5.33" height="5.3" fill="#f1c9cd"/>
<rect x="356.44" y="140.9" width="5.33" height="5.3" fill="#f09191"/>
<rect x="361.37" y="140.9" width="5.33" height="5.3" fill="#e81e25"/>
<line x1="366.4" y1="25.75" x2="368.4" y2="25.75" stroke="#333" stroke-width="0.5"/>
<text x="370.2" y="27.55" font-size="5.1" fill="#222">GFL</text>
<line x1="245.47" y1="145.8" x2="245.47" y2="147.8" stroke="#444" stroke-width="0.5"/>
<text x="247.27" y="149.6" font-size="5.1" text-anchor="end" fill="#222" transform="rotate(-90 247.27 149.6)">GFL</text>
<line x1="366.4" y1="30.65" x2="368.4" y2="30.65" stroke="#333" stroke-width="0.5"/>
<text x="370.2" y="32.45" font-size="5.1" fill="#222">SG</text>
<line x1="250.4" y1="145.8" x2="250.4" y2="147.8" stroke="#444" stroke-width="0.5"/>
<text x="252.2" y="149.6" font-size="5.1" text-anchor="end" fill="#222" transform="rotate(-90 252.2 149.6)">SG</text>
<line x1="366.4" y1="35.55" x2="368.4" y2="35.55" stroke="#333" stroke-width="0.5"/>
<text x="370.2" y="37.35" font-size="5.1" fill="#222">VL</text>
<line x1="255.33" y1="145.8" x2="255.33" y2="147.8" stroke="#444" stroke-width="0.5"/>
<text x="257.13" y="149.6" font-size="5.1" text-anchor="end" fill="#222" transform="rotate(-90 257.13 149.6)">VL</text>
<line x1="366.4" y1="40.45" x2="368.4" y2="40.45" stroke="#333" stroke-width="0.5"/>
<text x="370.2" y="42.25" font-size="5.1" fill="#222">Sub</text>
<line x1="260.26" y1="145.8" x2="260.26" y2="147.8" stroke="#444" stroke-width="0.5"/>
<text x="262.06" y="149.6" font-size="5.1" text-anchor="end" fill="#222" transform="rotate(-90 262.06 149.6)">Sub</text>
<line x1="366.4" y1="45.35" x2="368.4" y2="45.35" stroke="#333" stroke-width="0.5"/>
<text x="370.2" y="47.15" font-size="5.1" fill="#222">BrL</text>
<line x1="265.19" y1="145.8" x2="265.19" y2="147.8" stroke="#444" stroke-width="0.5"/>
<text x="266.99" y="149.6" font-size="5.1" text-anchor="end" fill="#222" transform="rotate(-90 266.99 149.6)">BrL</text>
<line x1="366.4" y1="50.25" x2="368.4" y2="50.25" stroke="#333" stroke-width="0.5"/>
<text x="370.2" y="52.05" font-size="5.1" fill="#222">BuL</text>
<line x1="270.13" y1="145.8" x2="270.13" y2="147.8" stroke="#444" stroke-width="0.5"/>
<text x="271.93" y="149.6" font-size="5.1" text-anchor="end" fill="#222" transform="rotate(-90 271.93 149.6)">BuL</text>
<line x1="366.4" y1="55.15" x2="368.4" y2="55.15" stroke="#333" stroke-width="0.5"/>
<text x="370.2" y="56.95" font-size="5.1" fill="#222">Sup</text>
<line x1="275.06" y1="145.8" x2="275.06" y2="147.8" stroke="#444" stroke-width="0.5"/>
<text x="276.86" y="149.6" font-size="5.1" text-anchor="end" fill="#222" transform="rotate(-90 276.86 149.6)">Sup</text>
<line x1="366.4" y1="60.05" x2="368.4" y2="60.05" stroke="#333" stroke-width="0.5"/>
<text x="370.2" y="61.85" font-size="5.1" fill="#222">OLe</text>
<line x1="279.99" y1="145.8" x2="279.99" y2="147.8" stroke="#444" stroke-width="0.5"/>
<text x="281.79" y="149.6" font-size="5.1" text-anchor="end" fill="#222" transform="rotate(-90 281.79 149.6)">OLe</text>
<line x1="366.4" y1="64.95" x2="368.4" y2="64.95" stroke="#333" stroke-width="0.5"/>
<text x="370.2" y="66.75" font-size="5.1" fill="#222">OLI</text>
<line x1="284.92" y1="145.8" x2="284.92" y2="147.8" stroke="#444" stroke-width="0.5"/>
<text x="286.72" y="149.6" font-size="5.1" text-anchor="end" fill="#222" transform="rotate(-90 286.72 149.6)">OLI</text>
<line x1="366.4" y1="69.85" x2="368.4" y2="69.85" stroke="#333" stroke-width="0.5"/>
<text x="370.2" y="71.65" font-size="5.1" fill="#222">MDI</text>
<line x1="289.85" y1="145.8" x2="289.85" y2="147.8" stroke="#444" stroke-width="0.5"/>
<text x="291.65" y="149.6" font-size="5.1" text-anchor="end" fill="#222" transform="rotate(-90 291.65 149.6)">MDI</text>
<line x1="366.4" y1="74.75" x2="368.4" y2="74.75" stroke="#333" stroke-width="0.5"/>
<text x="370.2" y="76.55" font-size="5.1" fill="#222">Ten</text>
<line x1="294.79" y1="145.8" x2="294.79" y2="147.8" stroke="#444" stroke-width="0.5"/>
<text x="296.59" y="149.6" font-size="5.1" text-anchor="end" fill="#222" transform="rotate(-90 296.59 149.6)">Ten</text>
<line x1="366.4" y1="79.65" x2="368.4" y2="79.65" stroke="#333" stroke-width="0.5"/>
<text x="370.2" y="81.45" font-size="5.1" fill="#222">BM</text>
<line x1="299.72" y1="145.8" x2="299.72" y2="147.8" stroke="#444" stroke-width="0.5"/>
<text x="301.52" y="149.6" font-size="5.1" text-anchor="end" fill="#222" transform="rotate(-90 301.52 149.6)">BM</text>
<line x1="366.4" y1="84.55" x2="368.4" y2="84.55" stroke="#333" stroke-width="0.5"/>
<text x="370.2" y="86.35" font-size="5.1" fill="#222">Kid</text>
<line x1="304.65" y1="145.8" x2="304.65" y2="147.8" stroke="#444" stroke-width="0.5"/>
<text x="306.45" y="149.6" font-size="5.1" text-anchor="end" fill="#222" transform="rotate(-90 306.45 149.6)">Kid</text>
<line x1="366.4" y1="89.45" x2="368.4" y2="89.45" stroke="#333" stroke-width="0.5"/>
<text x="370.2" y="91.25" font-size="5.1" fill="#222">DCI</text>
<line x1="309.58" y1="145.8" x2="309.58" y2="147.8" stroke="#444" stroke-width="0.5"/>
<text x="311.38" y="149.6" font-size="5.1" text-anchor="end" fill="#222" transform="rotate(-90 311.38 149.6)">DCI</text>
<line x1="366.4" y1="94.35" x2="368.4" y2="94.35" stroke="#333" stroke-width="0.5"/>
<text x="370.2" y="96.15" font-size="5.1" fill="#222">Gil</text>
<line x1="314.51" y1="145.8" x2="314.51" y2="147.8" stroke="#444" stroke-width="0.5"/>
<text x="316.31" y="149.6" font-size="5.1" text-anchor="end" fill="#222" transform="rotate(-90 316.31 149.6)">Gil</text>
<line x1="366.4" y1="99.25" x2="368.4" y2="99.25" stroke="#333" stroke-width="0.5"/>
<text x="370.2" y="101.05" font-size="5.1" fill="#222">MDC</text>
<line x1="319.45" y1="145.8" x2="319.45" y2="147.8" stroke="#444" stroke-width="0.5"/>
<text x="321.25" y="149.6" font-size="5.1" text-anchor="end" fill="#222" transform="rotate(-90 321.25 149.6)">MDC</text>
<line x1="366.4" y1="104.15" x2="368.4" y2="104.15" stroke="#333" stroke-width="0.5"/>
<text x="370.2" y="105.95" font-size="5.1" fill="#222">MVC</text>
<line x1="324.38" y1="145.8" x2="324.38" y2="147.8" stroke="#444" stroke-width="0.5"/>
<text x="326.18" y="149.6" font-size="5.1" text-anchor="end" fill="#222" transform="rotate(-90 326.18 149.6)">MVC</text>
<line x1="366.4" y1="109.05" x2="368.4" y2="109.05" stroke="#333" stroke-width="0.5"/>
<text x="370.2" y="110.85" font-size="5.1" fill="#222">MVI</text>
<line x1="329.31" y1="145.8" x2="329.31" y2="147.8" stroke="#444" stroke-width="0.5"/>
<text x="331.11" y="149.6" font-size="5.1" text-anchor="end" fill="#222" transform="rotate(-90 331.11 149.6)">MVI</text>
<line x1="366.4" y1="113.95" x2="368.4" y2="113.95" stroke="#333" stroke-width="0.5"/>
<text x="370.2" y="115.75" font-size="5.1" fill="#222">Hea</text>
<line x1="334.24" y1="145.8" x2="334.24" y2="147.8" stroke="#444" stroke-width="0.5"/>
<text x="336.04" y="149.6" font-size="5.1" text-anchor="end" fill="#222" transform="rotate(-90 336.04 149.6)">Hea</text>
<line x1="366.4" y1="118.85" x2="368.4" y2="118.85" stroke="#333" stroke-width="0.5"/>
<text x="370.2" y="120.65" font-size="5.1" fill="#222">Suc</text>
<line x1="339.17" y1="145.8" x2="339.17" y2="147.8" stroke="#444" stroke-width="0.5"/>
<text x="340.97" y="149.6" font-size="5.1" text-anchor="end" fill="#222" transform="rotate(-90 340.97 149.6)">Suc</text>
<line x1="366.4" y1="123.75" x2="368.4" y2="123.75" stroke="#333" stroke-width="0.5"/>
<text x="370.2" y="125.55" font-size="5.1" fill="#222">Tes</text>
<line x1="344.11" y1="145.8" x2="344.11" y2="147.8" stroke="#444" stroke-width="0.5"/>
<text x="345.91" y="149.6" font-size="5.1" text-anchor="end" fill="#222" transform="rotate(-90 345.91 149.6)">Tes</text>
<line x1="366.4" y1="128.65" x2="368.4" y2="128.65" stroke="#333" stroke-width="0.5"/>
<text x="370.2" y="130.45" font-size="5.1" fill="#222">Hep</text>
<line x1="349.04" y1="145.8" x2="349.04" y2="147.8" stroke="#444" stroke-width="0.5"/>
<text x="350.84" y="149.6" font-size="5.1" text-anchor="end" fill="#222" transform="rotate(-90 350.84 149.6)">Hep</text>
<line x1="366.4" y1="133.55" x2="368.4" y2="133.55" stroke="#333" stroke-width="0.5"/>
<text x="370.2" y="135.35" font-size="5.1" fill="#222">Man</text>
<line x1="353.97" y1="145.8" x2="353.97" y2="147.8" stroke="#444" stroke-width="0.5"/>
<text x="355.77" y="149.6" font-size="5.1" text-anchor="end" fill="#222" transform="rotate(-90 355.77 149.6)">Man</text>
<line x1="366.4" y1="138.45" x2="368.4" y2="138.45" stroke="#333" stroke-width="0.5"/>
<text x="370.2" y="140.25" font-size="5.1" fill="#222">Ret</text>
<line x1="358.9" y1="145.8" x2="358.9" y2="147.8" stroke="#444" stroke-width="0.5"/>
<text x="360.7" y="149.6" font-size="5.1" text-anchor="end" fill="#222" transform="rotate(-90 360.7 149.6)">Ret</text>
<line x1="366.4" y1="143.35" x2="368.4" y2="143.35" stroke="#333" stroke-width="0.5"/>
<text x="370.2" y="145.15" font-size="5.1" fill="#222">ANC</text>
<line x1="363.83" y1="145.8" x2="363.83" y2="147.8" stroke="#444" stroke-width="0.5"/>
<text x="365.63" y="149.6" font-size="5.1" text-anchor="end" fill="#222" transform="rotate(-90 365.63 149.6)">ANC</text>
<rect x="386.7" y="87" width="5.3" height="26.3" fill="url(#gbwr)"/>
<line x1="392" y1="91.3" x2="393.8" y2="91.3" stroke="#444" stroke-width="0.5"/>
<text x="394.5" y="93.1" font-size="5.4" fill="#333">0.90</text>
<line x1="392" y1="96.5" x2="393.8" y2="96.5" stroke="#444" stroke-width="0.5"/>
<text x="394.5" y="98.3" font-size="5.4" fill="#333">0.75</text>
<line x1="392" y1="101.7" x2="393.8" y2="101.7" stroke="#444" stroke-width="0.5"/>
<text x="394.5" y="103.5" font-size="5.4" fill="#333">0.60</text>
<line x1="392" y1="106.9" x2="393.8" y2="106.9" stroke="#444" stroke-width="0.5"/>
<text x="394.5" y="108.7" font-size="5.4" fill="#333">0.45</text>
<line x1="392" y1="112.1" x2="393.8" y2="112.1" stroke="#444" stroke-width="0.5"/>
<text x="394.5" y="113.9" font-size="5.4" fill="#333">0.30</text>
<text x="416.5" y="8.6" font-size="11.5" fill="#111" font-weight="bold">c</text>
<text x="557.2" y="14.6" font-size="9.3" text-anchor="middle" fill="#222">Recoding sites</text>
<text x="564.4" y="161.1" font-size="9.05" text-anchor="middle" fill="#222">Edit frequency</text>
<line x1="450.9" y1="25.4" x2="450.9" y2="137.3" stroke="#555" stroke-width="0.8"/>
<line x1="450.9" y1="137.3" x2="548.6" y2="137.3" stroke="#555" stroke-width="0.8"/>
<line x1="448.9" y1="132.4" x2="450.9" y2="132.4" stroke="#555" stroke-width="0.6"/>
<text x="447.7" y="134.6" font-size="6.6" text-anchor="end" fill="#333">1</text>
<line x1="448.9" y1="111.42" x2="450.9" y2="111.42" stroke="#555" stroke-width="0.6"/>
<text x="447.7" y="113.62" font-size="6.6" text-anchor="end" fill="#333">10</text>
<line x1="448.9" y1="90.44" x2="450.9" y2="90.44" stroke="#555" stroke-width="0.6"/>
<text x="447.7" y="92.64" font-size="6.6" text-anchor="end" fill="#333">100</text>
<line x1="448.9" y1="69.46" x2="450.9" y2="69.46" stroke="#555" stroke-width="0.6"/>
<text x="447.7" y="71.66" font-size="6.6" text-anchor="end" fill="#333">1000</text>
<line x1="448.9" y1="48.48" x2="450.9" y2="48.48" stroke="#555" stroke-width="0.6"/>
<text x="447.7" y="50.68" font-size="6.6" text-anchor="end" fill="#333">10000</text>
<line x1="448.9" y1="27.5" x2="450.9" y2="27.5" stroke="#555" stroke-width="0.6"/>
<text x="447.7" y="29.7" font-size="6.6" text-anchor="end" fill="#333">100000</text>
<line x1="455.7" y1="137.3" x2="455.7" y2="139.3" stroke="#555" stroke-width="0.6"/>
<text x="455.7" y="146.5" font-size="6.6" text-anchor="middle" fill="#333">0</text>
<line x1="499.45" y1="137.3" x2="499.45" y2="139.3" stroke="#555" stroke-width="0.6"/>
<text x="499.45" y="146.5" font-size="6.6" text-anchor="middle" fill="#333">50</text>
<line x1="543.2" y1="137.3" x2="543.2" y2="139.3" stroke="#555" stroke-width="0.6"/>
<text x="543.2" y="146.5" font-size="6.6" text-anchor="middle" fill="#333">100</text>
<text x="428.3" y="81" font-size="6.6" text-anchor="middle" fill="#333" transform="rotate(-90 428.3 81)">Frequency</text>
<circle cx="455.7" cy="38.2" r="0.85" fill="#6e80c8"/>
<circle cx="456.57" cy="48.06" r="0.85" fill="#6e80c8"/>
<circle cx="457.45" cy="53.31" r="0.85" fill="#6e80c8"/>
<circle cx="458.32" cy="60.02" r="0.85" fill="#6e80c8"/>
<circle cx="459.2" cy="63.52" r="0.85" fill="#6e80c8"/>
<circle cx="460.07" cy="64.74" r="0.85" fill="#6e80c8"/>
<circle cx="460.95" cy="67.32" r="0.85" fill="#6e80c8"/>
<circle cx="461.82" cy="70.14" r="0.85" fill="#6e80c8"/>
<circle cx="462.7" cy="71.96" r="0.85" fill="#6e80c8"/>
<circle cx="463.57" cy="71.66" r="0.85" fill="#6e80c8"/>
<circle cx="464.45" cy="72.78" r="0.85" fill="#6e80c8"/>
<circle cx="465.32" cy="74.67" r="0.85" fill="#6e80c8"/>
<circle cx="466.2" cy="75.36" r="0.85" fill="#6e80c8"/>
<circle cx="467.07" cy="76.7" r="0.85" fill="#6e80c8"/>
<circle cx="467.95" cy="77.95" r="0.85" fill="#6e80c8"/>
<circle cx="468.82" cy="77.69" r="0.85" fill="#6e80c8"/>
<circle cx="469.7" cy="77.81" r="0.85" fill="#6e80c8"/>
<circle cx="470.57" cy="79.78" r="0.85" fill="#6e80c8"/>
<circle cx="471.45" cy="78.35" r="0.85" fill="#6e80c8"/>
<circle cx="472.32" cy="80.16" r="0.85" fill="#6e80c8"/>
<circle cx="473.2" cy="80.55" r="0.85" fill="#6e80c8"/>
<circle cx="474.07" cy="81.43" r="0.85" fill="#6e80c8"/>
<circle cx="474.95" cy="79.42" r="0.85" fill="#6e80c8"/>
<circle cx="475.82" cy="80.47" r="0.85" fill="#6e80c8"/>
<circle cx="476.7" cy="80.52" r="0.85" fill="#6e80c8"/>
<circle cx="477.57" cy="81.57" r="0.85" fill="#6e80c8"/>
<circle cx="478.45" cy="83.43" r="0.85" fill="#6e80c8"/>
<circle cx="479.32" cy="82.95" r="0.85" fill="#6e80c8"/>
<circle cx="480.2" cy="82.79" r="0.85" fill="#6e80c8"/>
<circle cx="481.07" cy="84.01" r="0.85" fill="#6e80c8"/>
<circle cx="481.95" cy="82.17" r="0.85" fill="#6e80c8"/>
<circle cx="482.82" cy="83.9" r="0.85" fill="#6e80c8"/>
<circle cx="483.7" cy="84.7" r="0.85" fill="#6e80c8"/>
<circle cx="484.57" cy="83.29" r="0.85" fill="#6e80c8"/>
<circle cx="485.45" cy="85.3" r="0.85" fill="#6e80c8"/>
<circle cx="486.32" cy="83.54" r="0.85" fill="#6e80c8"/>
<circle cx="487.2" cy="85" r="0.85" fill="#6e80c8"/>
<circle cx="488.07" cy="85.01" r="0.85" fill="#6e80c8"/>
<circle cx="488.95" cy="85.8" r="0.85" fill="#6e80c8"/>
<circle cx="489.82" cy="85.68" r="0.85" fill="#6e80c8"/>
<circle cx="490.7" cy="86.67" r="0.85" fill="#6e80c8"/>
<circle cx="491.57" cy="87.28" r="0.85" fill="#6e80c8"/>
<circle cx="492.45" cy="85.43" r="0.85" fill="#6e80c8"/>
<circle cx="493.32" cy="87.25" r="0.85" fill="#6e80c8"/>
<circle cx="494.2" cy="86.12" r="0.85" fill="#6e80c8"/>
<circle cx="495.07" cy="87.79" r="0.85" fill="#6e80c8"/>
<circle cx="495.95" cy="86.11" r="0.85" fill="#6e80c8"/>
<circle cx="496.82" cy="86.42" r="0.85" fill="#6e80c8"/>
<circle cx="497.7" cy="86.88" r="0.85" fill="#6e80c8"/>
<circle cx="498.57" cy="86.98" r="0.85" fill="#6e80c8"/>
<circle cx="499.45" cy="87.56" r="0.85" fill="#6e80c8"/>
<circle cx="500.32" cy="87.3" r="0.85" fill="#6e80c8"/>
<circle cx="501.2" cy="88.94" r="0.85" fill="#6e80c8"/>
<circle cx="502.07" cy="88.17" r="0.85" fill="#6e80c8"/>
<circle cx="502.95" cy="87.4" r="0.85" fill="#6e80c8"/>
<circle cx="503.82" cy="89.09" r="0.85" fill="#6e80c8"/>
<circle cx="504.7" cy="87.47" r="0.85" fill="#6e80c8"/>
<circle cx="505.57" cy="87.75" r="0.85" fill="#6e80c8"/>
<circle cx="506.45" cy="89.15" r="0.85" fill="#6e80c8"/>
<circle cx="507.32" cy="89.45" r="0.85" fill="#6e80c8"/>
<circle cx="508.2" cy="89.43" r="0.85" fill="#6e80c8"/>
<circle cx="509.07" cy="89.78" r="0.85" fill="#6e80c8"/>
<circle cx="509.95" cy="88.44" r="0.85" fill="#6e80c8"/>
<circle cx="510.82" cy="90.17" r="0.85" fill="#6e80c8"/>
<circle cx="511.7" cy="91.26" r="0.85" fill="#6e80c8"/>
<circle cx="512.58" cy="91.29" r="0.85" fill="#6e80c8"/>
<circle cx="513.45" cy="89.91" r="0.85" fill="#6e80c8"/>
<circle cx="514.33" cy="89.41" r="0.85" fill="#6e80c8"/>
<circle cx="515.2" cy="90.96" r="0.85" fill="#6e80c8"/>
<circle cx="516.08" cy="91.28" r="0.85" fill="#6e80c8"/>
<circle cx="516.95" cy="91.43" r="0.85" fill="#6e80c8"/>
<circle cx="517.83" cy="91.24" r="0.85" fill="#6e80c8"/>
<circle cx="518.7" cy="92.86" r="0.85" fill="#6e80c8"/>
<circle cx="519.58" cy="92.19" r="0.85" fill="#6e80c8"/>
<circle cx="520.45" cy="92.63" r="0.85" fill="#6e80c8"/>
<circle cx="521.33" cy="92.77" r="0.85" fill="#6e80c8"/>
<circle cx="522.2" cy="94.18" r="0.85" fill="#6e80c8"/>
<circle cx="523.08" cy="94.81" r="0.85" fill="#6e80c8"/>
<circle cx="523.95" cy="94.97" r="0.85" fill="#6e80c8"/>
<circle cx="524.83" cy="94.12" r="0.85" fill="#6e80c8"/>
<circle cx="525.7" cy="96.19" r="0.85" fill="#6e80c8"/>
<circle cx="526.58" cy="96.16" r="0.85" fill="#6e80c8"/>
<circle cx="527.45" cy="97.5" r="0.85" fill="#6e80c8"/>
<circle cx="528.33" cy="98.62" r="0.85" fill="#6e80c8"/>
<circle cx="529.2" cy="99.32" r="0.85" fill="#6e80c8"/>
<circle cx="530.08" cy="98.04" r="0.85" fill="#6e80c8"/>
<circle cx="530.95" cy="99.01" r="0.85" fill="#6e80c8"/>
<circle cx="531.83" cy="100.9" r="0.85" fill="#6e80c8"/>
<circle cx="532.7" cy="100.99" r="0.85" fill="#6e80c8"/>
<circle cx="533.58" cy="101.89" r="0.85" fill="#6e80c8"/>
<circle cx="534.45" cy="102.2" r="0.85" fill="#6e80c8"/>
<circle cx="535.33" cy="102.92" r="0.85" fill="#6e80c8"/>
<circle cx="536.2" cy="105.99" r="0.85" fill="#6e80c8"/>
<circle cx="537.08" cy="106.2" r="0.85" fill="#6e80c8"/>
<circle cx="537.95" cy="107.95" r="0.85" fill="#6e80c8"/>
<circle cx="538.83" cy="110.56" r="0.85" fill="#6e80c8"/>
<circle cx="539.7" cy="112.45" r="0.85" fill="#6e80c8"/>
<circle cx="540.58" cy="116.06" r="0.85" fill="#6e80c8"/>
<circle cx="541.45" cy="116.66" r="0.85" fill="#6e80c8"/>
<circle cx="542.33" cy="117.3" r="0.85" fill="#6e80c8"/>
<circle cx="543.2" cy="100.09" r="0.85" fill="#6e80c8"/>
<circle cx="455.7" cy="30.23" r="0.85" fill="#f6b860"/>
<circle cx="456.57" cy="62.75" r="0.85" fill="#f6b860"/>
<circle cx="457.45" cy="70.72" r="0.85" fill="#f6b860"/>
<circle cx="458.32" cy="77.43" r="0.85" fill="#f6b860"/>
<circle cx="459.2" cy="81.42" r="0.85" fill="#f6b860"/>
<circle cx="460.07" cy="85.4" r="0.85" fill="#f6b860"/>
<circle cx="460.95" cy="87.92" r="0.85" fill="#f6b860"/>
<circle cx="461.82" cy="89.29" r="0.85" fill="#f6b860"/>
<circle cx="462.7" cy="90.65" r="0.85" fill="#f6b860"/>
<circle cx="463.57" cy="91.98" r="0.85" fill="#f6b860"/>
<circle cx="464.45" cy="93.31" r="0.85" fill="#f6b860"/>
<circle cx="466.2" cy="91.1" r="0.85" fill="#f6b860"/>
<circle cx="467.07" cy="96.76" r="0.85" fill="#f6b860"/>
<circle cx="467.95" cy="103.83" r="0.85" fill="#f6b860"/>
<circle cx="468.82" cy="101.11" r="0.85" fill="#f6b860"/>
<circle cx="470.57" cy="102.04" r="0.85" fill="#f6b860"/>
<circle cx="471.45" cy="93.31" r="0.85" fill="#f6b860"/>
<circle cx="472.32" cy="101.41" r="0.85" fill="#f6b860"/>
<circle cx="473.2" cy="95.25" r="0.85" fill="#f6b860"/>
<circle cx="474.95" cy="107.14" r="0.85" fill="#f6b860"/>
<circle cx="475.82" cy="98.79" r="0.85" fill="#f6b860"/>
<circle cx="476.7" cy="102.04" r="0.85" fill="#f6b860"/>
<circle cx="477.57" cy="102.71" r="0.85" fill="#f6b860"/>
<circle cx="478.45" cy="107.14" r="0.85" fill="#f6b860"/>
<circle cx="479.32" cy="108.35" r="0.85" fill="#f6b860"/>
<circle cx="480.2" cy="112.38" r="0.85" fill="#f6b860"/>
<circle cx="481.95" cy="104.66" r="0.85" fill="#f6b860"/>
<circle cx="482.82" cy="101.41" r="0.85" fill="#f6b860"/>
<circle cx="483.7" cy="110.55" r="0.85" fill="#f6b860"/>
<circle cx="484.57" cy="101.11" r="0.85" fill="#f6b860"/>
<circle cx="487.2" cy="109.76" r="0.85" fill="#f6b860"/>
<circle cx="488.07" cy="104.66" r="0.85" fill="#f6b860"/>
<circle cx="488.95" cy="116.07" r="0.85" fill="#f6b860"/>
<circle cx="489.82" cy="113.45" r="0.85" fill="#f6b860"/>
<circle cx="490.7" cy="116.07" r="0.85" fill="#f6b860"/>
<circle cx="491.57" cy="116.07" r="0.85" fill="#f6b860"/>
<circle cx="492.45" cy="109.03" r="0.85" fill="#f6b860"/>
<circle cx="493.32" cy="119.77" r="0.85" fill="#f6b860"/>
<circle cx="494.2" cy="107.73" r="0.85" fill="#f6b860"/>
<circle cx="496.82" cy="110.55" r="0.85" fill="#f6b860"/>
<circle cx="497.7" cy="111.42" r="0.85" fill="#f6b860"/>
<circle cx="498.57" cy="112.38" r="0.85" fill="#f6b860"/>
<circle cx="499.45" cy="122.39" r="0.85" fill="#f6b860"/>
<circle cx="500.32" cy="119.77" r="0.85" fill="#f6b860"/>
<circle cx="501.2" cy="119.77" r="0.85" fill="#f6b860"/>
<circle cx="502.07" cy="116.07" r="0.85" fill="#f6b860"/>
<circle cx="502.95" cy="122.39" r="0.85" fill="#f6b860"/>
<circle cx="503.82" cy="117.74" r="0.85" fill="#f6b860"/>
<circle cx="504.7" cy="111.42" r="0.85" fill="#f6b860"/>
<circle cx="505.57" cy="114.67" r="0.85" fill="#f6b860"/>
<circle cx="507.32" cy="114.67" r="0.85" fill="#f6b860"/>
<circle cx="508.2" cy="122.39" r="0.85" fill="#f6b860"/>
<circle cx="509.07" cy="112.38" r="0.85" fill="#f6b860"/>
<circle cx="510.82" cy="114.67" r="0.85" fill="#f6b860"/>
<circle cx="511.7" cy="122.39" r="0.85" fill="#f6b860"/>
<circle cx="512.58" cy="126.08" r="0.85" fill="#f6b860"/>
<circle cx="513.45" cy="122.39" r="0.85" fill="#f6b860"/>
<circle cx="514.33" cy="122.39" r="0.85" fill="#f6b860"/>
<circle cx="516.08" cy="122.39" r="0.85" fill="#f6b860"/>
<circle cx="516.95" cy="119.77" r="0.85" fill="#f6b860"/>
<circle cx="517.83" cy="119.77" r="0.85" fill="#f6b860"/>
<circle cx="518.7" cy="126.08" r="0.85" fill="#f6b860"/>
<circle cx="519.58" cy="122.39" r="0.85" fill="#f6b860"/>
<circle cx="520.45" cy="132.4" r="0.85" fill="#f6b860"/>
<circle cx="521.33" cy="119.77" r="0.85" fill="#f6b860"/>
<circle cx="522.2" cy="122.39" r="0.85" fill="#f6b860"/>
<circle cx="523.08" cy="117.74" r="0.85" fill="#f6b860"/>
<circle cx="523.95" cy="126.08" r="0.85" fill="#f6b860"/>
<circle cx="524.83" cy="122.39" r="0.85" fill="#f6b860"/>
<circle cx="525.7" cy="132.4" r="0.85" fill="#f6b860"/>
<circle cx="526.58" cy="132.4" r="0.85" fill="#f6b860"/>
<circle cx="527.45" cy="132.4" r="0.85" fill="#f6b860"/>
<circle cx="528.33" cy="117.74" r="0.85" fill="#f6b860"/>
<circle cx="529.2" cy="132.4" r="0.85" fill="#f6b860"/>
<circle cx="530.08" cy="132.4" r="0.85" fill="#f6b860"/>
<circle cx="530.95" cy="132.4" r="0.85" fill="#f6b860"/>
<circle cx="531.83" cy="132.4" r="0.85" fill="#f6b860"/>
<circle cx="532.7" cy="132.4" r="0.85" fill="#f6b860"/>
<circle cx="533.58" cy="132.4" r="0.85" fill="#f6b860"/>
<circle cx="534.45" cy="132.4" r="0.85" fill="#f6b860"/>
<circle cx="535.33" cy="132.4" r="0.85" fill="#f6b860"/>
<circle cx="536.2" cy="132.4" r="0.85" fill="#f6b860"/>
<circle cx="537.08" cy="132.4" r="0.85" fill="#f6b860"/>
<circle cx="538.83" cy="132.4" r="0.85" fill="#f6b860"/>
<circle cx="540.58" cy="132.4" r="0.85" fill="#f6b860"/>
<circle cx="541.45" cy="126.08" r="0.85" fill="#f6b860"/>
<circle cx="542.33" cy="132.4" r="0.85" fill="#f6b860"/>
<circle cx="543.2" cy="132.4" r="0.85" fill="#f6b860"/>
<line x1="578.2" y1="25.4" x2="578.2" y2="137.3" stroke="#555" stroke-width="0.8"/>
<line x1="578.2" y1="137.3" x2="675.9" y2="137.3" stroke="#555" stroke-width="0.8"/>
<line x1="576.2" y1="31.2" x2="578.2" y2="31.2" stroke="#555" stroke-width="0.6"/>
<text x="575" y="33.4" font-size="6.6" text-anchor="end" fill="#333">1.0</text>
<line x1="576.2" y1="48.07" x2="578.2" y2="48.07" stroke="#555" stroke-width="0.6"/>
<text x="575" y="50.27" font-size="6.6" text-anchor="end" fill="#333">0.9</text>
<line x1="576.2" y1="64.94" x2="578.2" y2="64.94" stroke="#555" stroke-width="0.6"/>
<text x="575" y="67.14" font-size="6.6" text-anchor="end" fill="#333">0.8</text>
<line x1="576.2" y1="81.81" x2="578.2" y2="81.81" stroke="#555" stroke-width="0.6"/>
<text x="575" y="84.01" font-size="6.6" text-anchor="end" fill="#333">0.7</text>
<line x1="576.2" y1="98.68" x2="578.2" y2="98.68" stroke="#555" stroke-width="0.6"/>
<text x="575" y="100.88" font-size="6.6" text-anchor="end" fill="#333">0.6</text>
<line x1="576.2" y1="115.55" x2="578.2" y2="115.55" stroke="#555" stroke-width="0.6"/>
<text x="575" y="117.75" font-size="6.6" text-anchor="end" fill="#333">0.5</text>
<line x1="576.2" y1="132.42" x2="578.2" y2="132.42" stroke="#555" stroke-width="0.6"/>
<text x="575" y="134.62" font-size="6.6" text-anchor="end" fill="#333">0.4</text>
<line x1="579" y1="137.3" x2="579" y2="139.3" stroke="#555" stroke-width="0.6"/>
<text x="579" y="146.5" font-size="6.6" text-anchor="middle" fill="#333">0</text>
<line x1="627.05" y1="137.3" x2="627.05" y2="139.3" stroke="#555" stroke-width="0.6"/>
<text x="627.05" y="146.5" font-size="6.6" text-anchor="middle" fill="#333">50</text>
<line x1="675.1" y1="137.3" x2="675.1" y2="139.3" stroke="#555" stroke-width="0.6"/>
<text x="675.1" y="146.5" font-size="6.6" text-anchor="middle" fill="#333">100</text>
<text x="561" y="80.7" font-size="6.8" text-anchor="middle" fill="#333" transform="rotate(-90 561 80.7)">Cummulative Frequency</text>
<circle cx="579" cy="131.41" r="0.85" fill="#6e80c8"/>
<circle cx="579.96" cy="108.46" r="0.85" fill="#6e80c8"/>
<circle cx="580.92" cy="95.98" r="0.85" fill="#6e80c8"/>
<circle cx="581.88" cy="87.38" r="0.85" fill="#6e80c8"/>
<circle cx="582.84" cy="81.81" r="0.85" fill="#6e80c8"/>
<circle cx="583.8" cy="76.75" r="0.85" fill="#6e80c8"/>
<circle cx="584.77" cy="72.87" r="0.85" fill="#6e80c8"/>
<circle cx="585.73" cy="70" r="0.85" fill="#6e80c8"/>
<circle cx="586.69" cy="67.74" r="0.85" fill="#6e80c8"/>
<circle cx="587.65" cy="65.78" r="0.85" fill="#6e80c8"/>
<circle cx="588.61" cy="64.1" r="0.85" fill="#6e80c8"/>
<circle cx="589.57" cy="62.62" r="0.85" fill="#6e80c8"/>
<circle cx="590.53" cy="61.28" r="0.85" fill="#6e80c8"/>
<circle cx="591.49" cy="60.04" r="0.85" fill="#6e80c8"/>
<circle cx="592.45" cy="58.9" r="0.85" fill="#6e80c8"/>
<circle cx="593.41" cy="57.84" r="0.85" fill="#6e80c8"/>
<circle cx="594.38" cy="56.84" r="0.85" fill="#6e80c8"/>
<circle cx="595.34" cy="55.9" r="0.85" fill="#6e80c8"/>
<circle cx="596.3" cy="54.99" r="0.85" fill="#6e80c8"/>
<circle cx="597.26" cy="54.12" r="0.85" fill="#6e80c8"/>
<circle cx="598.22" cy="53.3" r="0.85" fill="#6e80c8"/>
<circle cx="599.18" cy="52.51" r="0.85" fill="#6e80c8"/>
<circle cx="600.14" cy="51.76" r="0.85" fill="#6e80c8"/>
<circle cx="601.1" cy="51.05" r="0.85" fill="#6e80c8"/>
<circle cx="602.06" cy="50.39" r="0.85" fill="#6e80c8"/>
<circle cx="603.02" cy="49.76" r="0.85" fill="#6e80c8"/>
<circle cx="603.99" cy="49.16" r="0.85" fill="#6e80c8"/>
<circle cx="604.95" cy="48.6" r="0.85" fill="#6e80c8"/>
<circle cx="605.91" cy="48.07" r="0.85" fill="#6e80c8"/>
<circle cx="606.87" cy="47.55" r="0.85" fill="#6e80c8"/>
<circle cx="607.83" cy="47.06" r="0.85" fill="#6e80c8"/>
<circle cx="608.79" cy="46.59" r="0.85" fill="#6e80c8"/>
<circle cx="609.75" cy="46.13" r="0.85" fill="#6e80c8"/>
<circle cx="610.71" cy="45.68" r="0.85" fill="#6e80c8"/>
<circle cx="611.67" cy="45.24" r="0.85" fill="#6e80c8"/>
<circle cx="612.63" cy="44.8" r="0.85" fill="#6e80c8"/>
<circle cx="613.6" cy="44.36" r="0.85" fill="#6e80c8"/>
<circle cx="614.56" cy="43.92" r="0.85" fill="#6e80c8"/>
<circle cx="615.52" cy="43.48" r="0.85" fill="#6e80c8"/>
<circle cx="616.48" cy="43.05" r="0.85" fill="#6e80c8"/>
<circle cx="617.44" cy="42.63" r="0.85" fill="#6e80c8"/>
<circle cx="618.4" cy="42.21" r="0.85" fill="#6e80c8"/>
<circle cx="619.36" cy="41.81" r="0.85" fill="#6e80c8"/>
<circle cx="620.32" cy="41.41" r="0.85" fill="#6e80c8"/>
<circle cx="621.28" cy="41.03" r="0.85" fill="#6e80c8"/>
<circle cx="622.25" cy="40.66" r="0.85" fill="#6e80c8"/>
<circle cx="623.21" cy="40.31" r="0.85" fill="#6e80c8"/>
<circle cx="624.17" cy="39.97" r="0.85" fill="#6e80c8"/>
<circle cx="625.13" cy="39.65" r="0.85" fill="#6e80c8"/>
<circle cx="626.09" cy="39.34" r="0.85" fill="#6e80c8"/>
<circle cx="627.05" cy="39.04" r="0.85" fill="#6e80c8"/>
<circle cx="628.01" cy="38.75" r="0.85" fill="#6e80c8"/>
<circle cx="628.97" cy="38.47" r="0.85" fill="#6e80c8"/>
<circle cx="629.93" cy="38.2" r="0.85" fill="#6e80c8"/>
<circle cx="630.89" cy="37.93" r="0.85" fill="#6e80c8"/>
<circle cx="631.86" cy="37.68" r="0.85" fill="#6e80c8"/>
<circle cx="632.82" cy="37.42" r="0.85" fill="#6e80c8"/>
<circle cx="633.78" cy="37.18" r="0.85" fill="#6e80c8"/>
<circle cx="634.74" cy="36.94" r="0.85" fill="#6e80c8"/>
<circle cx="635.7" cy="36.7" r="0.85" fill="#6e80c8"/>
<circle cx="636.66" cy="36.46" r="0.85" fill="#6e80c8"/>
<circle cx="637.62" cy="36.22" r="0.85" fill="#6e80c8"/>
<circle cx="638.58" cy="35.99" r="0.85" fill="#6e80c8"/>
<circle cx="639.54" cy="35.77" r="0.85" fill="#6e80c8"/>
<circle cx="640.5" cy="35.55" r="0.85" fill="#6e80c8"/>
<circle cx="641.47" cy="35.33" r="0.85" fill="#6e80c8"/>
<circle cx="642.43" cy="35.13" r="0.85" fill="#6e80c8"/>
<circle cx="643.39" cy="34.93" r="0.85" fill="#6e80c8"/>
<circle cx="644.35" cy="34.74" r="0.85" fill="#6e80c8"/>
<circle cx="645.31" cy="34.57" r="0.85" fill="#6e80c8"/>
<circle cx="646.27" cy="34.41" r="0.85" fill="#6e80c8"/>
<circle cx="647.23" cy="34.25" r="0.85" fill="#6e80c8"/>
<circle cx="648.19" cy="34.1" r="0.85" fill="#6e80c8"/>
<circle cx="649.15" cy="33.96" r="0.85" fill="#6e80c8"/>
<circle cx="650.11" cy="33.82" r="0.85" fill="#6e80c8"/>
<circle cx="651.08" cy="33.69" r="0.85" fill="#6e80c8"/>
<circle cx="652.04" cy="33.56" r="0.85" fill="#6e80c8"/>
<circle cx="653" cy="33.44" r="0.85" fill="#6e80c8"/>
<circle cx="653.96" cy="33.32" r="0.85" fill="#6e80c8"/>
<circle cx="654.92" cy="33.2" r="0.85" fill="#6e80c8"/>
<circle cx="655.88" cy="33.09" r="0.85" fill="#6e80c8"/>
<circle cx="656.84" cy="32.98" r="0.85" fill="#6e80c8"/>
<circle cx="657.8" cy="32.87" r="0.85" fill="#6e80c8"/>
<circle cx="658.76" cy="32.76" r="0.85" fill="#6e80c8"/>
<circle cx="659.72" cy="32.65" r="0.85" fill="#6e80c8"/>
<circle cx="660.68" cy="32.55" r="0.85" fill="#6e80c8"/>
<circle cx="661.65" cy="32.45" r="0.85" fill="#6e80c8"/>
<circle cx="662.61" cy="32.34" r="0.85" fill="#6e80c8"/>
<circle cx="663.57" cy="32.24" r="0.85" fill="#6e80c8"/>
<circle cx="664.53" cy="32.15" r="0.85" fill="#6e80c8"/>
<circle cx="665.49" cy="32.05" r="0.85" fill="#6e80c8"/>
<circle cx="666.45" cy="31.95" r="0.85" fill="#6e80c8"/>
<circle cx="667.41" cy="31.86" r="0.85" fill="#6e80c8"/>
<circle cx="668.37" cy="31.77" r="0.85" fill="#6e80c8"/>
<circle cx="669.33" cy="31.68" r="0.85" fill="#6e80c8"/>
<circle cx="670.29" cy="31.6" r="0.85" fill="#6e80c8"/>
<circle cx="671.26" cy="31.51" r="0.85" fill="#6e80c8"/>
<circle cx="672.22" cy="31.43" r="0.85" fill="#6e80c8"/>
<circle cx="673.18" cy="31.35" r="0.85" fill="#6e80c8"/>
<circle cx="674.14" cy="31.27" r="0.85" fill="#6e80c8"/>
<circle cx="675.1" cy="31.2" r="0.85" fill="#6e80c8"/>
<circle cx="579" cy="44.19" r="0.85" fill="#f6b860"/>
<circle cx="579.96" cy="39.47" r="0.85" fill="#f6b860"/>
<circle cx="580.92" cy="36.6" r="0.85" fill="#f6b860"/>
<circle cx="581.88" cy="35.25" r="0.85" fill="#f6b860"/>
<circle cx="582.84" cy="34.66" r="0.85" fill="#f6b860"/>
<circle cx="583.8" cy="34.07" r="0.85" fill="#f6b860"/>
<circle cx="584.77" cy="33.84" r="0.85" fill="#f6b860"/>
<circle cx="585.73" cy="33.62" r="0.85" fill="#f6b860"/>
<circle cx="586.69" cy="33.39" r="0.85" fill="#f6b860"/>
<circle cx="587.65" cy="33.3" r="0.85" fill="#f6b860"/>
<circle cx="588.61" cy="33.2" r="0.85" fill="#f6b860"/>
<circle cx="589.57" cy="33.1" r="0.85" fill="#f6b860"/>
<circle cx="590.53" cy="33.01" r="0.85" fill="#f6b860"/>
<circle cx="591.49" cy="32.91" r="0.85" fill="#f6b860"/>
<circle cx="592.45" cy="32.81" r="0.85" fill="#f6b860"/>
<circle cx="593.41" cy="32.72" r="0.85" fill="#f6b860"/>
<circle cx="594.38" cy="32.67" r="0.85" fill="#f6b860"/>
<circle cx="595.34" cy="32.63" r="0.85" fill="#f6b860"/>
<circle cx="596.3" cy="32.58" r="0.85" fill="#f6b860"/>
<circle cx="597.26" cy="32.54" r="0.85" fill="#f6b860"/>
<circle cx="598.22" cy="32.49" r="0.85" fill="#f6b860"/>
<circle cx="599.18" cy="32.45" r="0.85" fill="#f6b860"/>
<circle cx="600.14" cy="32.4" r="0.85" fill="#f6b860"/>
<circle cx="601.1" cy="32.36" r="0.85" fill="#f6b860"/>
<circle cx="602.06" cy="32.31" r="0.85" fill="#f6b860"/>
<circle cx="603.02" cy="32.27" r="0.85" fill="#f6b860"/>
<circle cx="603.99" cy="32.22" r="0.85" fill="#f6b860"/>
<circle cx="604.95" cy="32.18" r="0.85" fill="#f6b860"/>
<circle cx="605.91" cy="32.13" r="0.85" fill="#f6b860"/>
<circle cx="606.87" cy="32.09" r="0.85" fill="#f6b860"/>
<circle cx="607.83" cy="32.04" r="0.85" fill="#f6b860"/>
<circle cx="608.79" cy="32.03" r="0.85" fill="#f6b860"/>
<circle cx="609.75" cy="32.01" r="0.85" fill="#f6b860"/>
<circle cx="610.71" cy="31.99" r="0.85" fill="#f6b860"/>
<circle cx="611.67" cy="31.97" r="0.85" fill="#f6b860"/>
<circle cx="612.63" cy="31.95" r="0.85" fill="#f6b860"/>
<circle cx="613.6" cy="31.94" r="0.85" fill="#f6b860"/>
<circle cx="614.56" cy="31.92" r="0.85" fill="#f6b860"/>
<circle cx="615.52" cy="31.9" r="0.85" fill="#f6b860"/>
<circle cx="616.48" cy="31.88" r="0.85" fill="#f6b860"/>
<circle cx="617.44" cy="31.86" r="0.85" fill="#f6b860"/>
<circle cx="618.4" cy="31.84" r="0.85" fill="#f6b860"/>
<circle cx="619.36" cy="31.83" r="0.85" fill="#f6b860"/>
<circle cx="620.32" cy="31.81" r="0.85" fill="#f6b860"/>
<circle cx="621.28" cy="31.79" r="0.85" fill="#f6b860"/>
<circle cx="622.25" cy="31.77" r="0.85" fill="#f6b860"/>
<circle cx="623.21" cy="31.75" r="0.85" fill="#f6b860"/>
<circle cx="624.17" cy="31.74" r="0.85" fill="#f6b860"/>
<circle cx="625.13" cy="31.72" r="0.85" fill="#f6b860"/>
<circle cx="626.09" cy="31.7" r="0.85" fill="#f6b860"/>
<circle cx="627.05" cy="31.68" r="0.85" fill="#f6b860"/>
<circle cx="628.01" cy="31.66" r="0.85" fill="#f6b860"/>
<circle cx="628.97" cy="31.65" r="0.85" fill="#f6b860"/>
<circle cx="629.93" cy="31.63" r="0.85" fill="#f6b860"/>
<circle cx="630.89" cy="31.61" r="0.85" fill="#f6b860"/>
<circle cx="631.86" cy="31.59" r="0.85" fill="#f6b860"/>
<circle cx="632.82" cy="31.57" r="0.85" fill="#f6b860"/>
<circle cx="633.78" cy="31.56" r="0.85" fill="#f6b860"/>
<circle cx="634.74" cy="31.54" r="0.85" fill="#f6b860"/>
<circle cx="635.7" cy="31.53" r="0.85" fill="#f6b860"/>
<circle cx="636.66" cy="31.52" r="0.85" fill="#f6b860"/>
<circle cx="637.62" cy="31.51" r="0.85" fill="#f6b860"/>
<circle cx="638.58" cy="31.51" r="0.85" fill="#f6b860"/>
<circle cx="639.54" cy="31.5" r="0.85" fill="#f6b860"/>
<circle cx="640.5" cy="31.49" r="0.85" fill="#f6b860"/>
<circle cx="641.47" cy="31.48" r="0.85" fill="#f6b860"/>
<circle cx="642.43" cy="31.47" r="0.85" fill="#f6b860"/>
<circle cx="643.39" cy="31.47" r="0.85" fill="#f6b860"/>
<circle cx="644.35" cy="31.46" r="0.85" fill="#f6b860"/>
<circle cx="645.31" cy="31.45" r="0.85" fill="#f6b860"/>
<circle cx="646.27" cy="31.44" r="0.85" fill="#f6b860"/>
<circle cx="647.23" cy="31.43" r="0.85" fill="#f6b860"/>
<circle cx="648.19" cy="31.42" r="0.85" fill="#f6b860"/>
<circle cx="649.15" cy="31.42" r="0.85" fill="#f6b860"/>
<circle cx="650.11" cy="31.41" r="0.85" fill="#f6b860"/>
<circle cx="651.08" cy="31.4" r="0.85" fill="#f6b860"/>
<circle cx="652.04" cy="31.39" r="0.85" fill="#f6b860"/>
<circle cx="653" cy="31.38" r="0.85" fill="#f6b860"/>
<circle cx="653.96" cy="31.38" r="0.85" fill="#f6b860"/>
<circle cx="654.92" cy="31.37" r="0.85" fill="#f6b860"/>
<circle cx="655.88" cy="31.36" r="0.85" fill="#f6b860"/>
<circle cx="656.84" cy="31.35" r="0.85" fill="#f6b860"/>
<circle cx="657.8" cy="31.34" r="0.85" fill="#f6b860"/>
<circle cx="658.76" cy="31.34" r="0.85" fill="#f6b860"/>
<circle cx="659.72" cy="31.33" r="0.85" fill="#f6b860"/>
<circle cx="660.68" cy="31.32" r="0.85" fill="#f6b860"/>
<circle cx="661.65" cy="31.31" r="0.85" fill="#f6b860"/>
<circle cx="662.61" cy="31.3" r="0.85" fill="#f6b860"/>
<circle cx="663.57" cy="31.3" r="0.85" fill="#f6b860"/>
<circle cx="664.53" cy="31.29" r="0.85" fill="#f6b860"/>
<circle cx="665.49" cy="31.28" r="0.85" fill="#f6b860"/>
<circle cx="666.45" cy="31.27" r="0.85" fill="#f6b860"/>
<circle cx="667.41" cy="31.26" r="0.85" fill="#f6b860"/>
<circle cx="668.37" cy="31.26" r="0.85" fill="#f6b860"/>
<circle cx="669.33" cy="31.25" r="0.85" fill="#f6b860"/>
<circle cx="670.29" cy="31.24" r="0.85" fill="#f6b860"/>
<circle cx="671.26" cy="31.23" r="0.85" fill="#f6b860"/>
<circle cx="672.22" cy="31.22" r="0.85" fill="#f6b860"/>
<circle cx="673.18" cy="31.22" r="0.85" fill="#f6b860"/>
<circle cx="674.14" cy="31.21" r="0.85" fill="#f6b860"/>
<circle cx="675.1" cy="31.2" r="0.85" fill="#f6b860"/>
<circle cx="621" cy="94.7" r="0.85" fill="#6e80c8"/>
<text x="624.8" y="97.6" font-size="8.0" fill="#222">Neural</text>
<circle cx="621" cy="106.3" r="0.85" fill="#f6b860"/>
<text x="624.8" y="109.2" font-size="8.0" fill="#222">Non-Neural</text>
<text x="211.2" y="170.6" font-size="11.5" fill="#111" font-weight="bold">d</text>
<line x1="237.4" y1="176.9" x2="237.4" y2="227.5" stroke="#555" stroke-width="0.7"/>
<line x1="237.4" y1="227.5" x2="285.8" y2="227.5" stroke="#555" stroke-width="0.7"/>
<line x1="235.6" y1="227.5" x2="237.4" y2="227.5" stroke="#555" stroke-width="0.5"/>
<text x="234.9" y="229.3" font-size="5.2" text-anchor="end" fill="#333">0.00</text>
<line x1="235.6" y1="215.15" x2="237.4" y2="215.15" stroke="#555" stroke-width="0.5"/>
<text x="234.9" y="216.95" font-size="5.2" text-anchor="end" fill="#333">0.25</text>
<line x1="235.6" y1="202.8" x2="237.4" y2="202.8" stroke="#555" stroke-width="0.5"/>
<text x="234.9" y="204.6" font-size="5.2" text-anchor="end" fill="#333">0.50</text>
<line x1="235.6" y1="190.45" x2="237.4" y2="190.45" stroke="#555" stroke-width="0.5"/>
<text x="234.9" y="192.25" font-size="5.2" text-anchor="end" fill="#333">0.75</text>
<line x1="235.6" y1="178.1" x2="237.4" y2="178.1" stroke="#555" stroke-width="0.5"/>
<text x="234.9" y="179.9" font-size="5.2" text-anchor="end" fill="#333">1.00</text>
<line x1="237.4" y1="227.5" x2="237.4" y2="229.3" stroke="#555" stroke-width="0.5"/>
<text x="237.4" y="234.5" font-size="5.2" text-anchor="middle" fill="#333">0.0</text>
<line x1="261.1" y1="227.5" x2="261.1" y2="229.3" stroke="#555" stroke-width="0.5"/>
<text x="261.1" y="234.5" font-size="5.2" text-anchor="middle" fill="#333">0.5</text>
<line x1="284.8" y1="227.5" x2="284.8" y2="229.3" stroke="#555" stroke-width="0.5"/>
<text x="284.8" y="234.5" font-size="5.2" text-anchor="middle" fill="#333">1.0</text>
<path d="M238,227.1L244.99,222.22L284.6,222.22L284.6,227.1Z" fill="#3b4ea6" opacity="0.9"/>
<path d="M238,227.1L238,222.22L243.59,219.29L244.99,222.22Z" fill="#6a6a6a" opacity="0.7"/>
<path d="M238.1 224.8h.8m-.8 1.7h.8m-.7-5.6h.8m-.8 3.9h.8m-.7-6.1h.8m-.8 .7h.8m-.8 6.6h.8m-.7-1.9h.8m-.8 .4h.8m-.6 .8h.8m-.6-4h.8m-.8 1h.8m-.8 .9h.8m-.7 .1h.8m-.8 2h.8m-.7-6.4h.8m-.8 7h.8m-.7-5.6h.8m-.7 3.4h.8m-.7-5h.8m-.7 4.6h.8m-.7-.1h.8m-.6 1.3h.8m-.8 1h.8m-.8 .4h.8m-.7-6.6h.8m-.7 1.4h.8m-.8 1.7h.8m-.8 2.6h.8m-.7-1.6h.8m-.8 1.5h.8m-.8 .7h.8m-.7-6.9h.8m-.8 2.8h.8m-.8 1.7h.8m-.8 1.9h.8m-.7-5.7h.8m-.8 2h.8m-.7-.9h.8m-.7 .2h.8m-.7-4.2h.8m-.6 7.5h.8m-.6-3.2h.8m-.8 1.1h.8m-.8 .8h.8m-.8 .7h.8m-.7-2.7h.8m-.8 1h.8m-.8 3.1h.8m-.7-1.6h.8m-.7 .8h.8m-.8 .8h.8m-.7-9.5h.8m-.7 3.9h.8m-.8 4.9h.8m-.7-7.1h.8m-.8 .4h.8m-.8 4.5h.8m-.6 .3h.8m-.8 1.5h.8m-.6-8h.8m-.8 1.8h.8m-.8 4.9h.8m-.7-.8h.8m-.7 .3h.8m-.7 1.8h.8m-.8 .3h.8m-.6-2.6h.8m-.8 .7h.8m-.7 .8h.8m-.7-3.1h.8m-.8 1h.8m-.7-8.2h.8m-.6 2.4h.8m-.7 4.7h.8m-.8 .5h.8m-.8 2.4h.8m-.7-2.9h.8m-.7-.2h.8m-.8 3.6h.8m-.7-3.3h.8m-.7-9.5h.8m-.8 11.6h.8m-.7-4h.8m-.8 .6h.8m-.7 4.1h.8m-.8 .3h.8m-.8 .2h.8m-.7-10.3h.8m-.8 8.6h.8m-.7-6.2h.8m-.8 6.1h.8m-.7-5.8h.8m-.8 3.5h.8m-.7 2.5h.8m-.8 .9h.8m-.7-2.8h.8m-.8 .6h.8m-.6 2.5h.8m-.7-7.2h.8m-.8 1.8h.8m-.7 1h.8m-.8 .1h.8m-.7-.2h.8m-.8 3h.8m-.8 1.1h.8m-.7-3.1h.8m-.7 .1h.8m-.7 3h.8m-.7-7.7h.8m-.8 5.5h.8m-.7-2.5h.8m-.8 3.6h.8m-.7-9.2h.8m-.8 4.7h.8m-.8 3.6h.8m-.7 1.1h.8m-.7-.8h.8m-.7-3.9h.8m-.8 4.7h.8m-.6-3h.8m-.8 .8h.8m-.8 1.8h.8m-.7-4.7h.8m-.6-1.7h.8m-.8 6h.8m-.8 .2h.8m-.8 .5h.8m-.7-3.8h.8m-.7 2.8h.8m-.8 .5h.8m-.6-12.5h.8m-.6 10.2h.8m-.8 1.8h.8m-.7-.9h.8m-.7-3.9h.8m-.8 1.2h.8m-.8 3.9h.8m-.6-9.2h.8m-.3-4.7h.8m-.5 8.3h.8m-.7-8.6h.8m-.8 12.3h.8m-.7-8.5h.8m-.8 2.8h.8m-.8 .8h.8m-.8 .9h.8m-.7 3.1h.8m-.7-7.2h.8m-.7-.7h.8m-.8 5.2h.8m-.8 1h.8m-.7-.1h.8m-.8 2.3h.8m-.6 .4h.8m-.5-3.2h.8m-.8 3.5h.8m-.7 .2h.8m-.7-4.2h.8m-.7-.1h.8m-.8 3.7h.8m-.7 .2h.8m-.7-8.9h.8m-.8 7.6h.8m-.6-9.6h.8m-.8 9h.8m-.8 2.1h.8m-.7-10.4h.8m-.8 8.9h.8m-.7-10.8h.8m-.8 5.1h.8m-.8 3.1h.8m-.8 3.7h.8m-.7-.3h.8m-.6-6h.8m-.7-4.5h.8m-.8 10.2h.8m-.7-10.7h.8m-.6 10.1h.8m-.6 .2h.8m-.6-2.6h.8m-.6-1.7h.8m-.7-2.6h.8m-.7-5.8h.8m-.8 5.4h.8m-.6 6.9h.8m-.7-15.4h.8m-.8 15.6h.8m-.7-.2h.8m-.6-7.3h.8m-.8 .2h.8m-.7-.6h.8m-.7 1.8h.8m-.8 2.4h.8m-.8 3.2h.8m-.7-4.6h.8m-.8 1.4h.8m-.7 1.9h.8m-.5-10.9h.8m-.7 4.1h.8m-.8 4h.8m-.7 2.1h.8m-.6 1.4h.8m-.6-2.1h.8m-.7-5.5h.8m-.8 3.6h.8m-.7 3h.8m-.6-1.4h.8m-.7-.6h.8m-.7 1.4h.8m-.7-9.1h.8m-.7 7.2h.8m-.7-8.5h.8m-.8 5.8h.8m-.8 3.2h.8m-.7 .3h.8m-.8 .4h.8m-.7-2.4h.8m-.8 2.8h.8m-.7-5.1h.8m-.7 4.2h.8m-.5-2.9h.8m-.7 1.3h.8m-.2-5h.8m-.8 4.4h.8m-.7 1.4h.8m-.7-13.7h.8m-.5 12.2h.8m-.7 1.5h.8m-.7-.4h.8m-.7-12.2h.8m-.8 3.9h.8m-.8 1.2h.8m-.5-1h.8m-.5 2.8h.8m-.6-1.6h.8m-.5 2.2h.8m-.4 5.5h.8m-.6-4.7h.8m-.8 2h.8m-.6-6.4h.8m.1 .9h.8m-.6 4h.8m-.3-1.9h.8m-.4-9.7h.8m-.5 9.8h.8m-.6-4.9h.8m-.7 2.2h.8m-.6 4.3h.8m-.6-5.5h.8m-.4-3h.8m-.6 5.1h.8m-.8 3.2h.8m-.6-2.6h.8m-.5-2.1h.8m-.7 6.1h.8m-.6-4.3h.8m-.6 2.9h.8m-.6-1.7h.8" stroke="#6a6a6a" stroke-width="0.8" fill="none"/>
<path d="M239.6 226.9h.8m-.7-.8h.8m-.7 .3h.8m-.6 .6h.8m-.6-1.3h.8m-.7 .7h.8m-.6 .1h.8m-.4-.2h.8m-.7-.1h.8m-.7 .4h.8m-.5-.1h.8m-.8 .4h.8m-.6-.6h.8m-.6 .6h.8m-.7-1.3h.8m-.4 .8h.8m-.8 .6h.8m-.7-2.6h.8m-.8 2.5h.8m-.6 .1h.8m-.6-.8h.8m-.7-2.4h.8m-.5 1.9h.8m-.7-.3h.8m-.7-1.4h.8m-.7-.5h.8m-.7 .3h.8m-.8 .2h.8m-.7-.2h.8m-.8 .3h.8m-.6 .6h.8m-.7 1.7h.8m-.8 .5h.8m-.7-3.7h.8m-.8 2.9h.8m-.7-2.3h.8m-.8 .9h.8m-.8 .2h.8m-.8 .7h.8m-.7-2.5h.8m-.8 2.6h.8m-.7 .2h.8m-.5-1.2h.8m-.7 .7h.8m-.7 1h.8m-.8 .5h.8m-.7-.2h.8m-.7-4.4h.8m-.8 2.1h.8m-.7-1.1h.8m-.6-.9h.8m-.8 .7h.8m-.8 1.8h.8m-.7-2.5h.8m-.8 .5h.8m-.7 0h.8m-.8 1.2h.8m-.8 .8h.8m-.7-.9h.8m-.8 .9h.8m-.8 .9h.8m-.7 .2h.8m-.7-3.2h.8m-.6 .2h.8m-.8 1.9h.8m-.7-.2h.8m-.7-1.9h.8m-.8 1.2h.8m-.8 .4h.8m-.7-2.1h.8m-.8 .1h.8m-.8 2.9h.8m-.6-3.6h.8m-.8 3.6h.8m-.8 .7h.8m-.7-1.7h.8m-.8 1.2h.8m-.6-4.5h.8m-.8 1.9h.8m-.8 .5h.8m-.8 2.2h.8m-.7-3.6h.8m-.8 1.9h.8m-.7-3.1h.8m-.8 .9h.8m-.8 .4h.8m-.6 .3h.8m-.8 1.6h.8m-.8 1h.8m-.8 .6h.8m-.8 1.2h.8m-.7-3.8h.8m-.8 3.5h.8m-.8 .5h.8m-.7-3.8h.8m-.8 2.1h.8m-.8 .5h.8m-.7 .7h.8m-.7-5.9h.8m-.8 2.9h.8m-.7 2h.8m-.8 .3h.8m-.8 1.3h.8m-.7-6.7h.8m-.8 1.1h.8m-.8 5h.8m-.7-6.4h.8m-.8 1.5h.8m-.8 2.3h.8m-.8 1.9h.8m-.7-3.1h.8m-.8 .7h.8m-.8 .1h.8m-.8 2.1h.8m-.7-2.6h.8m-.8 .8h.8m-.7-3.3h.8m-.8 3.8h.8m-.8 .4h.8m-.7-3.4h.8m-.8 1.6h.8m-.7-.2h.8m-.8 1h.8m-.8 1.2h.8m-.8 1.5h.8m-.7-3.4h.8m-.8 2.9h.8m-.7-4.1h.8m-.8 2.5h.8m-.7-.2h.8m-.7-4.4h.8m-.8 1.9h.8m-.8 .1h.8m-.8 2.2h.8m-.8 1.8h.8m-.7-5.8h.8m-.8 .9h.8m-.8 .9h.8m-.8 1.6h.8m-.7 .3h.8m-.8 3h.8m-.7-.5h.8m-.8 .2h.8m-.7-6.3h.8m-.7 1.7h.8m-.8 .3h.8m-.8 1.8h.8m-.7-1.6h.8m-.7-2.8h.8m-.8 1.2h.8m-.7-1.7h.8m-.8 .3h.8m-.8 1.1h.8m-.8 .1h.8m-.8 1.6h.8m-.8 3.1h.8m-.8 .4h.8m-.8 .5h.8m-.7-1.3h.8m-.6-2.7h.8m-.8 3.4h.8m-.8 .7h.8m-.7-3.8h.8m-.8 .9h.8m-.8 2.3h.8m-.7-5.1h.8m-.8 5.7h.8m-.7-5.3h.8m-.8 .6h.8m-.8 3.3h.8m-.8 .2h.8m-.7-5.9h.8m-.7 7.1h.8m-.8 .2h.8m-.8 .5h.8m-.7-6h.8m-.7 1.4h.8m-.8 .2h.8m-.8 .5h.8m-.8 1.3h.8m-.8 1.1h.8m-.6-7h.8m-.8 .9h.8m-.8 5.1h.8m-.7-.6h.8m-.8 2.7h.8m-.7-4.1h.8m-.8 3.6h.8m-.8 .9h.8m-.7-7.5h.8m-.7 0h.8m-.8 1h.8m-.7-1.2h.8m-.8 1.8h.8m-.8 4.1h.8m-.8 1.4h.8m-.8 .2h.8m-.7-6.8h.8m-.8 5.1h.8m-.8 .8h.8m-.8 .5h.8m-.7 0h.8m-.7-3.9h.8m-.7-3.7h.8m-.8 .2h.8m-.8 5.6h.8m-.7-6.8h.8m-.8 5h.8m-.8 .5h.8m-.8 2.5h.8m-.7-8h.8m-.8 2.7h.8m-.8 4.8h.8m-.7-5.6h.8m-.8 2.6h.8m-.8 .8h.8m-.8 2h.8m-.8 1h.8m-.7-8.1h.8m-.7 8.9h.8m-.7-9.1h.8m-.8 6.8h.8m-.8 .9h.8m-.7-5.4h.8m-.8 3.3h.8m-.7-1h.8m-.8 .2h.8m-.8 1.5h.8m-.8 1.3h.8m-.8 .9h.8m-.8 .3h.8m-.7-5.5h.8m-.8 .4h.8m-.8 1.4h.8m-.8 1.2h.8m-.7-5.8h.8m-.8 2.5h.8m-.8 3.1h.8m-.8 1.1h.8m-.7-7.5h.8m-.8 1.7h.8m-.8 .4h.8m-.8 6.2h.8m-.8 1h.8m-.7-8.7h.8m-.8 1.6h.8m-.8 .7h.8m-.8 .7h.8m-.8 2.5h.8m-.8 3.7h.8m-.7-5h.8m-.7-2.6h.8m-.8 1.3h.8m-.8 5.8h.8m-.7-7.2h.8m-.8 6.2h.8m-.7-7.5h.8m-.8 4.8h.8m-.8 .5h.8m-.8 .8h.8m-.7-4.1h.8m-.8 6.7h.8m-.7-3.9h.8m-.8 .1h.8m-.8 2.3h.8m-.7-6.4h.8m-.8 5.3h.8m-.8 .3h.8m-.8 1.4h.8m-.7 1.1h.8m-.7-9.6h.8m-.8 3.3h.8m-.8 4.4h.8m-.8 1.8h.8m-.6-8.6h.8m-.7-.6h.8m-.8 2.3h.8m-.8 .7h.8m-.8 6h.8m-.7-6h.8m-.8 3.8h.8m-.7-2.2h.8m-.8 4.6h.8m-.7-5h.8m-.7-4.2h.8m-.8 5.2h.8m-.8 1.9h.8m-.8 .2h.8m-.7-8.1h.8m-.8 .4h.8m-.8 2.5h.8m-.8 4.1h.8m-.8 .6h.8m-.8 .1h.8m-.8 1.7h.8m-.7-7.4h.8m-.8 3.5h.8m-.8 2.1h.8m-.8 .4h.8m-.8 1.5h.8m-.7-8.5h.8m-.8 1h.8m-.8 5.9h.8m-.8 2h.8m-.7-8.4h.8m-.8 1.1h.8m-.8 2h.8m-.7 1.2h.8m-.8 1.5h.8m-.8 2.2h.8m-.7-10.2h.8m-.8 9.4h.8m-.8 .2h.8m-.7-10h.8m-.8 .4h.8m-.8 1.5h.8m-.8 3.3h.8m-.8 .4h.8m-.8 2.2h.8m-.7-5.1h.8m-.8 3.2h.8m-.8 .2h.8m-.8 2h.8m-.7-7.4h.8m-.8 8.5h.8m-.8 .1h.8m-.8 1.1h.8m-.8 .1h.8m-.7-9.9h.8m-.8 4.1h.8m-.6-4.8h.8m-.8 8.5h.8m-.8 1.4h.8m-.7-6.4h.8m-.8 4.1h.8m-.8 3.7h.8m-.7-11.6h.8m-.8 .3h.8m-.8 2h.8m-.8 .4h.8m-.8 .8h.8m-.8 3h.8m-.8 2.8h.8m-.8 .3h.8m-.8 1.7h.8m-.7-6.1h.8m-.8 2h.8m-.7-3.7h.8m-.8 .2h.8m-.8 1.2h.8m-.8 1.8h.8m-.8 4.7h.8m-.7-8.3h.8m-.8 4.7h.8m-.8 2.7h.8m-.7-11.4h.8m-.8 3.6h.8m-.8 2.5h.8m-.8 .8h.8m-.8 3.7h.8m-.7-6.4h.8m-.8 4.6h.8m-.7-5.4h.8m-.8 2.8h.8m-.7-.6h.8m-.8 .7h.8m-.8 .2h.8m-.8 1.5h.8m-.8 2.9h.8m-.7-1.9h.8m-.8 1.6h.8m-.7-5.3h.8m-.8 3.9h.8m-.7-4.9h.8m-.8 4.5h.8m-.8 2.3h.8m-.7-2.1h.8m-.8 1.8h.8m-.8 1.8h.8m-.7-2.8h.8m-.7-9.3h.8m-.8 3.1h.8m-.8 1.7h.8m-.8 2.5h.8m-.7-7.8h.8m-.8 3.7h.8m-.7 3.2h.8m-.8 .4h.8m-.7-5.7h.8m-.8 1.6h.8m-.8 1.2h.8m-.8 1.8h.8m-.8 1h.8m-.8 3.1h.8m-.8 .9h.8m-.7-1.5h.8m-.8 .3h.8m-.7-9.4h.8m-.8 3.4h.8m-.8 2.6h.8m-.8 1.4h.8m-.8 1.4h.8m-.8 2.6h.8m-.7-7.3h.8m-.8 3.7h.8m-.8 1.9h.8m-.7-4.3h.8m-.8 4.6h.8m-.7-9.6h.8m-.8 5.2h.8m-.8 3h.8m-.8 .1h.8m-.8 2.1h.8m-.8 .1h.8m-.8 .5h.8m-.7-12.5h.8m-.8 .5h.8m-.8 10.1h.8m-.8 1.8h.8m-.7-12.6h.8m-.8 1.4h.8m-.8 5.8h.8m-.8 1.4h.8m-.8 .6h.8m-.8 .6h.8m-.8 1.4h.8m-.7 1.2h.8m-.8 .6h.8m-.7-13.8h.8m-.8 3.3h.8m-.8 4.7h.8m-.7-7.7h.8m-.8 3h.8m-.8 6.8h.8m-.8 3h.8m-.8 .1h.8m-.7-11.5h.8m-.8 2.7h.8m-.8 2.2h.8m-.8 5.7h.8m-.7-5.4h.8m-.8 2.3h.8m-.8 1.8h.8m-.8 2.8h.8m-.7-8.5h.8m-.8 1.7h.8m-.8 5.8h.8m-.7-4.3h.8m-.8 .7h.8m-.8 1.7h.8m-.8 1.6h.8m-.7-6.6h.8m-.8 .7h.8m-.8 5.8h.8m-.7-8.6h.8m-.8 10h.8m-.7-5.3h.8m-.8 .3h.8m-.8 .3h.8m-.8 1.2h.8m-.8 .7h.8m-.7-6.6h.8m-.8 .1h.8m-.8 .1h.8m-.8 1.1h.8m-.8 3.8h.8m-.7-2.1h.8m-.8 .5h.8m-.8 2h.8m-.8 1.3h.8m-.7-6.7h.8m-.8 1.8h.8m-.8 3h.8m-.7-9.2h.8m-.8 6.8h.8m-.8 .6h.8m-.8 5.5h.8m-.8 .3h.8m-.8 .2h.8m-.7-12.2h.8m-.8 2h.8m-.8 1.6h.8m-.8 6.4h.8m-.8 1.8h.8m-.7-6.9h.8m-.8 2.6h.8m-.8 3.1h.8m-.8 .8h.8m-.7-11.5h.8m-.8 3.1h.8m-.8 1.1h.8m-.8 2.4h.8m-.8 1.3h.8m-.8 .3h.8m-.8 3.5h.8m-.6-10.3h.8m-.8 .4h.8m-.8 .1h.8m-.8 .4h.8m-.8 6.5h.8m-.8 .1h.8m-.8 3.1h.8m-.7-1.1h.8m-.8 .3h.8m-.7-1.8h.8m-.8 1.7h.8m-.7-8.3h.8m-.8 1h.8m-.8 3h.8m-.8 .6h.8m-.8 1.7h.8m-.8 .7h.8m-.7-11.8h.8m-.8 7h.8m-.8 1.4h.8m-.8 .8h.8m-.8 .2h.8m-.8 1.1h.8m-.8 2.5h.8m-.8 1.9h.8m-.7-12.3h.8m-.8 5h.8m-.7-5.3h.8m-.8 1.3h.8m-.8 1.2h.8m-.8 4.7h.8m-.8 3.2h.8m-.7 1.3h.8m-.7-5.8h.8m-.8 4.8h.8m-.7-12.3h.8m-.8 9.5h.8m-.8 1.3h.8m-.7-5.9h.8m-.8 3.1h.8m-.8 .2h.8m-.8 .6h.8m-.8 1.2h.8m-.8 1.2h.8m-.7-4.8h.8m-.8 2.4h.8m-.8 4.3h.8m-.7-12.6h.8m-.8 1.4h.8m-.8 8.7h.8m-.7-4.5h.8m-.8 1.6h.8m-.8 3.2h.8m-.8 2.1h.8m-.7-1.6h.8m-.8 2.3h.8m-.7-6.9h.8m-.7-4.5h.8m-.8 2.3h.8m-.8 .9h.8m-.8 5.8h.8m-.7-12.7h.8m-.8 2.1h.8m-.8 1.1h.8m-.8 4h.8m-.8 .5h.8m-.8 5.5h.8m-.8 .9h.8m-.7-.8h.8m-.8 1h.8m-.8 1.3h.8m-.7-13.6h.8m-.8 3.3h.8m-.8 2.6h.8m-.7-.6h.8m-.8 2.1h.8m-.8 2.1h.8m-.8 .9h.8m-.8 .8h.8m-.8 .4h.8m-.8 1.7h.8m-.7-4.4h.8m-.8 1.1h.8m-.8 3.3h.8m-.7-16.1h.8m-.8 .1h.8m-.8 1h.8m-.8 8h.8m-.8 6.9h.8m-.7-11.3h.8m-.8 1.6h.8m-.8 7.3h.8m-.8 .7h.8m-.7-12h.8m-.8 .1h.8m-.8 9.2h.8m-.7-6.6h.8m-.8 3.4h.8m-.7-4.9h.8m-.8 7h.8m-.8 3.3h.8m-.7-13.7h.8m-.8 7.7h.8m-.8 5h.8m-.8 .9h.8m-.7-11.1h.8m-.8 11h.8m-.8 1h.8m-.7-14.9h.8m-.8 2.4h.8m-.8 3.2h.8m-.8 5.7h.8m-.8 3.1h.8m-.7-8.8h.8m-.8 2.2h.8m-.8 4.9h.8m-.8 1.3h.8m-.8 2.4h.8m-.7-15.6h.8m-.8 2.5h.8m-.8 1.4h.8m-.8 6.1h.8m-.8 .4h.8m-.8 3.6h.8m-.8 1.4h.8m-.8 .3h.8m-.7-14h.8m-.8 1h.8m-.8 2.4h.8m-.8 .2h.8m-.8 8.8h.8m-.6-11h.8m-.8 2.4h.8m-.8 7.9h.8m-.8 .5h.8m-.8 .6h.8m-.7-6.9h.8m-.8 6.7h.8m-.7-10.6h.8m-.8 3.1h.8m-.8 1.9h.8m-.8 1.5h.8m-.8 .4h.8m-.7-8.8h.8m-.8 8.4h.8m-.8 .5h.8m-.7-6.1h.8m-.8 2.9h.8m-.8 2.8h.8m-.8 2.2h.8m-.8 1.1h.8m-.8 2h.8m-.7-14.6h.8m-.8 2.4h.8m-.8 .1h.8m-.8 2h.8m-.8 3.2h.8m-.8 4.6h.8m-.7-7.4h.8m-.8 1.5h.8m-.8 .2h.8m-.8 4.6h.8m-.8 1.4h.8m-.8 .8h.8m-.7-8h.8m-.8 1.2h.8m-.8 3h.8m-.7-7.4h.8m-.8 .1h.8m-.8 6.6h.8m-.7-11.7h.8m-.8 6.2h.8m-.8 3.1h.8m-.7-5.5h.8m-.7 2.9h.8m-.8 3.1h.8m-.8 1.4h.8m-.8 .1h.8m-.8 .5h.8m-.7-2.4h.8m-.8 4.7h.8m-.8 2.5h.8m-.7-9.4h.8m-.8 2h.8m-.8 .2h.8m-.8 1.4h.8m-.8 3.5h.8m-.8 .1h.8m-.8 1.6h.8m-.7-12.1h.8m-.8 3.8h.8m-.8 .4h.8m-.8 .1h.8m-.8 .2h.8m-.8 8.1h.8m-.7-9.2h.8m-.8 .1h.8m-.8 2.2h.8m-.8 5.2h.8m-.7-15.7h.8m-.8 12h.8m-.7-1h.8m-.8 1.4h.8m-.8 .4h.8m-.8 2.3h.8m-.8 1.7h.8m-.6-10.6h.8m-.8 2.3h.8m-.8 5.6h.8m-.8 1.8h.8m-.7-14.8h.8m-.8 8.1h.8m-.7 .7h.8m-.8 3.7h.8m-.8 .6h.8m-.8 1.1h.8m-.7-12.2h.8m-.8 9.8h.8m-.8 .6h.8m-.8 2.1h.8m-.8 .4h.8m-.8 2.1h.8m-.7-12.9h.8m-.8 4.2h.8m-.8 2.9h.8m-.8 1.3h.8m-.8 .4h.8m-.7-9.2h.8m-.8 3.4h.8m-.8 1.9h.8m-.8 .6h.8m-.8 .8h.8m-.8 3.9h.8m-.7-14.7h.8m-.8 11.9h.8m-.8 .6h.8m-.8 4h.8m-.7-6.6h.8m-.8 1.1h.8m-.8 1.2h.8m-.8 2.3h.8m-.8 2.6h.8m-.8 .3h.8m-.7-10.1h.8m-.8 2.3h.8m-.8 1.9h.8m-.8 1.5h.8m-.8 4h.8m-.8 .7h.8m-.7-12.7h.8m-.8 3.7h.8m-.8 4.3h.8m-.8 3.2h.8m-.7-16.7h.8m-.8 3.6h.8m-.8 6h.8m-.7-2.3h.8m-.8 1.9h.8m-.8 4h.8m-.8 2.9h.8m-.7-15.6h.8m-.8 5.8h.8m-.8 1.2h.8m-.8 2h.8m-.6 4.3h.8m-.8 2.9h.8m-.8 1.3h.8m-.7-14.8h.8m-.8 1.7h.8m-.8 .7h.8m-.8 11.6h.8m-.7-11h.8m-.8 4.1h.8m-.8 1h.8m-.8 1h.8m-.8 3.2h.8m-.7-10.6h.8m-.8 5.7h.8m-.8 3.4h.8m-.8 4.1h.8m-.7-13.1h.8m-.8 .2h.8m-.8 4h.8m-.7 .8h.8m-.8 .4h.8m-.8 1.1h.8m-.8 .7h.8m-.8 1.2h.8m-.8 3.3h.8m-.7-13.6h.8m-.8 1.2h.8m-.8 7.9h.8m-.8 2.9h.8m-.7-8.7h.8m-.8 7.1h.8m-.8 3.4h.8m-.8 1.5h.8m-.7-18.1h.8m-.8 6.4h.8m-.8 8.8h.8m-.7-6.8h.8m-.8 3.7h.8m-.8 .8h.8m-.8 .4h.8m-.8 .3h.8m-.8 .8h.8m-.8 3.7h.8m-.7-10.9h.8m-.8 .8h.8m-.8 6.6h.8m-.8 1.8h.8m-.8 .4h.8m-.8 .4h.8m-.7-17.7h.8m-.8 14.8h.8m-.8 3.7h.8m-.7-18h.8m-.8 9.8h.8m-.8 2.3h.8m-.8 1.9h.8m-.8 2.9h.8m-.7-15.5h.8m-.8 4.6h.8m-.8 1h.8m-.8 4.6h.8m-.8 .2h.8m-.8 5.1h.8m-.8 .1h.8m-.7-14.4h.8m-.8 3.2h.8m-.8 1.3h.8m-.7 2.1h.8m-.8 .2h.8m-.7 3.7h.8m-.8 .1h.8m-.8 3.2h.8m-.7-15.2h.8m-.8 3.3h.8m-.8 7.2h.8m-.8 5.9h.8m-.7-17.3h.8m-.8 6.4h.8m-.8 2.8h.8m-.8 1.1h.8m-.8 2h.8m-.8 3.2h.8m-.7-2.5h.8m-.8 3.3h.8m-.8 .7h.8m-.8 .7h.8m-.7-17.5h.8m-.8 1.7h.8m-.7-1.3h.8m-.8 2.3h.8m-.8 2.8h.8m-.8 3.9h.8m-.7-6.1h.8m-.8 9.7h.8m-.8 3.8h.8m-.7-10.1h.8m-.8 2.5h.8m-.8 4.3h.8m-.7-13h.8m-.8 9.1h.8m-.8 .9h.8m-.8 4.8h.8m-.7-14h.8m-.8 7.7h.8m-.8 3.7h.8m-.8 .2h.8m-.8 .2h.8m-.8 .3h.8m-.8 2.9h.8m-.7-10.8h.8m-.8 .9h.8m-.8 1.6h.8m-.8 2.7h.8m-.8 1.2h.8m-.7-.5h.8m-.7-1.8h.8m-.8 3.2h.8m-.8 1.8h.8m-.7-10.5h.8m-.8 1h.8m-.8 3.3h.8m-.8 2.6h.8m-.8 3.6h.8m-.8 2.1h.8m-.8 .6h.8m-.8 .2h.8m-.7-8.8h.8m-.8 .6h.8m-.8 2.8h.8m-.7-8.4h.8m-.8 4.7h.8m-.8 1.3h.8m-.8 3.6h.8m-.8 .3h.8m-.8 3.6h.8m-.7-8.3h.8m-.8 2.6h.8m-.8 2.3h.8m-.8 .1h.8m-.8 3.2h.8m-.8 .3h.8m-.7-16.3h.8m-.8 9.3h.8m-.8 3.7h.8m-.7-9.4h.8m-.8 7.4h.8m-.8 2.1h.8m-.7-2.7h.8m-.8 1.6h.8m-.8 3.2h.8m-.7-3.5h.8m-.7-8.7h.8m-.8 9.4h.8m-.8 2.1h.8m-.7-14.4h.8m-.7 13.3h.8m-.8 .5h.8m-.7-3.9h.8m-.8 1.1h.8m-.8 .4h.8m-.7-4.1h.8m-.8 7.2h.8m-.7-16h.8m-.8 6h.8m-.8 1h.8m-.8 5.7h.8m-.7-3.8h.8m-.8 3h.8m-.8 .3h.8m-.8 4.6h.8m-.7-8.6h.8m-.8 .4h.8m-.8 1.3h.8m-.8 6h.8m-.7-6.1h.8m-.8 3.2h.8m-.8 1.6h.8m-.8 1.5h.8m-.7-13.9h.8m-.8 .8h.8m-.8 8.2h.8m-.8 .1h.8m-.8 6.1h.8m-.7-15.8h.8m-.8 6.1h.8m-.8 .4h.8m-.8 .3h.8m-.8 1.9h.8m-.7-.4h.8m-.8 2.5h.8m-.8 3.5h.8m-.7-11.9h.8m-.8 7.9h.8m-.8 1.7h.8m-.8 3.2h.8m-.7-15.1h.8m-.8 9.9h.8m-.8 1.3h.8m-.7-6.3h.8m-.8 7.9h.8m-.8 1.5h.8m-.8 .5h.8m-.8 1.2h.8m-.7-8.8h.8m-.8 1.4h.8m-.8 3.3h.8m-.8 .5h.8m-.7-3.9h.8m-.8 2.8h.8m-.8 1.7h.8m-.8 1.8h.8m-.7-11.9h.8m-.8 .2h.8m-.8 2.4h.8m-.8 2.9h.8m-.8 3.5h.8m-.7-9h.8m-.8 5.3h.8m-.8 1.6h.8m-.7-6.7h.8m-.8 5.8h.8m-.8 .6h.8m-.7-3.8h.8m-.8 8.9h.8m-.7-9.7h.8m-.8 4.2h.8m-.7-10h.8m-.8 .3h.8m-.8 4.6h.8m-.8 .2h.8m-.8 11h.8m-.7-16.6h.8m-.8 4.2h.8m-.8 5.2h.8m-.8 5.4h.8m-.7-11.5h.8m-.8 1.6h.8m-.8 3.5h.8m-.8 .4h.8m-.8 1.9h.8m-.8 2.8h.8m-.7-11.4h.8m-.8 6.3h.8m-.8 1.8h.8m-.8 1.1h.8m-.8 .9h.8m-.8 2.1h.8m-.8 1.8h.8m-.8 .6h.8m-.8 .3h.8m-.7-9.6h.8m-.8 4.9h.8m-.8 2.9h.8m-.8 .3h.8m-.7-15.6h.8m-.8 7.6h.8m-.8 3h.8m-.8 .2h.8m-.8 6h.8m-.7-7.2h.8m-.8 2.7h.8m-.7 .8h.8m-.8 .8h.8m-.7-7.3h.8m-.8 8.7h.8m-.8 1.5h.8m-.7-16.6h.8m-.8 4.1h.8m-.7 .7h.8m-.8 1.8h.8m-.8 4.8h.8m-.8 3.6h.8m-.8 .3h.8m-.7-8.4h.8m-.8 3.3h.8m-.8 1.4h.8m-.8 5h.8m-.8 .5h.8m-.7-15.6h.8m-.8 4.4h.8m-.8 1.1h.8m-.8 2.8h.8m-.7 4.1h.8m-.8 .3h.8m-.8 3.1h.8m-.8 .1h.8m-.7-11.4h.8m-.8 5h.8m-.8 5.8h.8m-.7-5.1h.8m-.8 3.2h.8m-.7-8.7h.8m-.8 2.4h.8m-.8 1.6h.8m-.8 5.7h.8m-.7-14h.8m-.8 7.5h.8m-.8 6.3h.8m-.7-10.6h.8m-.8 .3h.8m-.8 9.4h.8m-.7-11.6h.8m-.8 .2h.8m-.8 .1h.8m-.8 .4h.8m-.8 1h.8m-.8 5.7h.8m-.8 .9h.8m-.8 4.3h.8m-.8 1h.8m-.7-15.1h.8m-.8 1.8h.8m-.8 12.4h.8m-.8 1h.8m-.7-10.4h.8m-.8 .9h.8m-.8 .2h.8m-.8 .9h.8m-.8 3.2h.8m-.8 1.3h.8m-.8 2.5h.8m-.8 1.5h.8m-.7-13.1h.8m-.8 .6h.8m-.7 .5h.8m-.8 3.4h.8m-.7-2.9h.8m-.8 10h.8m-.7-3.3h.8m-.8 .3h.8m-.8 1h.8m-.8 2.5h.8m-.7-10.6h.8m-.8 1h.8m-.8 .9h.8m-.8 1.3h.8m-.8 2.1h.8m-.8 .9h.8m-.7-11.5h.8m-.8 1.5h.8m-.8 2.2h.8m-.8 5.5h.8m-.8 1.1h.8m-.7-9.1h.8m-.8 .1h.8m-.8 5.9h.8m-.8 1.3h.8m-.8 3.7h.8m-.8 1.7h.8m-.7-6.6h.8m-.8 3.9h.8m-.8 1.9h.8m-.8 3.2h.8m-.7-10.5h.8m-.8 4.3h.8m-.8 1.1h.8m-.7-5.6h.8m-.8 .3h.8m-.8 6.8h.8m-.7-1.2h.8m-.7-.5h.8m-.7-4.8h.8m-.8 .3h.8m-.8 .5h.8m-.8 8.6h.8m-.7-15.1h.8m-.8 .8h.8m-.8 5.6h.8m-.8 1.4h.8m-.8 2h.8m-.8 1h.8m-.8 1.5h.8m-.8 2h.8m-.8 .9h.8m-.7-10.1h.8m-.8 2.1h.8m-.8 3.1h.8m-.8 4.3h.8m-.8 2.2h.8m-.8 .1h.8m-.7-11.7h.8m-.8 .1h.8m-.8 1.4h.8m-.8 1.8h.8m-.8 .2h.8m-.8 1.3h.8m-.8 2.7h.8m-.8 1.4h.8m-.8 1h.8m-.8 1.1h.8m-.7-12.3h.8m-.8 2.9h.8m-.8 .7h.8m-.8 .2h.8m-.8 4.4h.8m-.8 1.7h.8m-.8 2.1h.8m-.7-11.9h.8m-.8 .5h.8m-.8 4.5h.8m-.8 1.4h.8m-.7 1.2h.8m-.8 5.3h.8m-.7-14.5h.8m-.8 2h.8m-.8 5h.8m-.8 6.1h.8m-.8 .7h.8m-.7-8.4h.8m-.8 1.6h.8m-.8 1.3h.8m-.8 3.5h.8m-.7-7.8h.8m-.8 5h.8m-.8 1.1h.8m-.7-6.6h.8m-.8 1h.8m-.8 5.1h.8m-.8 4h.8m-.7-17.5h.8m-.8 10.7h.8m-.8 6.8h.8m-.7-17.3h.8m-.8 8.6h.8m-.8 3.8h.8m-.7 5.1h.8m-.7-14.8h.8m-.8 6.9h.8m-.8 .8h.8m-.7-2h.8m-.8 3.2h.8m-.8 .5h.8m-.7-5.2h.8m-.8 .6h.8m-.8 2.4h.8m-.8 .6h.8m-.8 .6h.8m-.8 3h.8m-.7-10.5h.8m-.8 2.6h.8m-.8 6h.8m-.8 2.1h.8m-.7 1h.8m-.8 2h.8m-.7-9h.8m-.8 .8h.8m-.8 7.2h.8m-.8 .7h.8m-.8 .7h.8m-.7-10.5h.8m-.8 2.6h.8m-.8 .4h.8m-.8 2.9h.8m-.8 1.1h.8m-.7-8.7h.8m-.8 2.6h.8m-.8 3.1h.8m-.8 6.9h.8m-.7-13.1h.8m-.8 3.4h.8m-.8 4.2h.8m-.8 2.8h.8m-.7-16h.8m-.8 5.8h.8m-.8 .3h.8m-.8 2.3h.8m-.8 6.7h.8m-.8 2h.8m-.7-3.7h.8m-.8 2.3h.8m-.8 .3h.8m-.8 .3h.8m-.8 1.8h.8m-.7-10.6h.8m-.8 3h.8m-.8 1.5h.8m-.7-8.3h.8m-.8 2.5h.8m-.8 5.1h.8m-.8 .6h.8m-.7 5.1h.8m-.7-7.8h.8m-.8 4.2h.8m-.7-12.1h.8m-.8 4.2h.8m-.8 5.1h.8m-.8 3.8h.8m-.7-8.9h.8m-.8 .1h.8m-.8 3.4h.8m-.8 8.8h.8m-.7-8.9h.8m-.8 1.5h.8m-.8 .7h.8m-.8 1.2h.8m-.8 1.1h.8m-.8 1.9h.8m-.7-3.1h.8m-.8 .1h.8m-.8 5.7h.8m-.7-9.1h.8m-.8 3.5h.8m-.8 3.9h.8m-.7-8.5h.8m-.8 2.6h.8m-.8 3.1h.8m-.8 4.1h.8m-.7-2.9h.8m-.8 3.1h.8m-.7-7h.8m-.7-5.1h.8m-.8 6.5h.8m-.8 .8h.8m-.7 0h.8m-.8 1.5h.8m-.7-9.4h.8m-.8 8.2h.8m-.8 1.4h.8m-.7-10.8h.8m-.8 4.2h.8m-.8 .7h.8m-.8 5.1h.8m-.8 4.9h.8m-.7-14.2h.8m-.8 6.3h.8m-.8 1.7h.8m-.8 1.5h.8m-.7-6.6h.8m-.8 6.8h.8m-.8 2.9h.8m-.7-8.3h.8m-.8 .4h.8m-.7-.2h.8m-.8 5.1h.8m-.8 1h.8m-.8 2.5h.8m-.7-14.3h.8m-.8 4.2h.8m-.8 1.4h.8m-.8 1h.8m-.8 .2h.8m-.8 1.8h.8m-.8 .5h.8m-.8 2.1h.8m-.7-7.9h.8m-.8 .9h.8m-.8 6.5h.8m-.8 1.2h.8m-.7-.9h.8m-.7-6.8h.8m-.8 8.5h.8m-.8 2.6h.8m-.7-13.9h.8m-.8 2.1h.8m-.8 .9h.8m-.8 2.5h.8m-.8 3.6h.8m-.8 2.3h.8m-.7-13.8h.8m-.8 1.5h.8m-.8 2.9h.8m-.8 5.1h.8m-.8 .8h.8m-.8 2.4h.8m-.7-10.4h.8m-.8 5.5h.8m-.7-2.5h.8m-.8 2.6h.8m-.8 1.3h.8m-.8 4h.8m-.8 1.7h.8m-.7-7.9h.8m-.8 2.1h.8m-.8 3.3h.8m-.8 .9h.8m-.8 .2h.8m-.8 .8h.8m-.8 1.8h.8m-.7-13.4h.8m-.8 11.5h.8m-.8 1.7h.8m-.7-4.2h.8m-.8 4.6h.8m-.7-16.8h.8m-.8 4.4h.8m-.8 8.1h.8m-.8 1.9h.8m-.8 1.7h.8m-.7-.1h.8m-.7-11.5h.8m-.8 5.8h.8m-.8 1.4h.8m-.8 .5h.8m-.8 .5h.8m-.7-11.1h.8m-.8 2.1h.8m-.8 5.9h.8m-.8 1.2h.8m-.8 4.4h.8m-.8 1.5h.8m-.7-10.8h.8m-.8 .9h.8m-.8 .2h.8m-.7-.3h.8m-.8 2.8h.8m-.8 6.4h.8m-.7-13.2h.8m-.8 4.1h.8m-.8 2.1h.8m-.8 .8h.8m-.8 1.1h.8m-.8 .2h.8m-.8 .7h.8m-.8 3.9h.8m-.7-14.4h.8m-.8 .5h.8m-.8 4.2h.8m-.8 6.5h.8m-.8 .8h.8m-.8 1.5h.8m-.7-14.2h.8m-.8 3.1h.8m-.8 2.8h.8m-.8 .5h.8m-.8 6.9h.8m-.7-11h.8m-.8 11.5h.8m-.8 .7h.8m-.7-14.9h.8m-.8 .4h.8m-.8 11.9h.8m-.8 2.3h.8m-.8 1.8h.8m-.7-12.8h.8m-.8 5.7h.8m-.8 .4h.8m-.8 2.2h.8m-.8 2.6h.8m-.8 2h.8m-.7-17.7h.8m-.8 7.5h.8m-.8 .4h.8m-.8 1.4h.8m-.8 .5h.8m-.8 .3h.8m-.8 .1h.8m-.8 4h.8m-.8 1.3h.8m-.7-11.7h.8m-.8 9.7h.8m-.7-1.1h.8m-.8 5.1h.8m-.7-12.1h.8m-.8 3.2h.8m-.8 1.2h.8m-.8 1.7h.8m-.8 .3h.8m-.8 3.4h.8m-.8 .3h.8m-.8 1h.8m-.7-15.3h.8m-.8 5.7h.8m-.8 2.2h.8m-.8 2.7h.8m-.8 1.7h.8m-.8 .4h.8m-.7-3.4h.8m-.8 .6h.8m-.8 1h.8m-.7 4.5h.8m-.8 .9h.8m-.7-12.6h.8m-.8 .8h.8m-.8 .4h.8m-.8 1.7h.8m-.8 6h.8m-.8 2h.8m-.8 1.7h.8m-.7-11.8h.8m-.8 .2h.8m-.8 5.5h.8m-.8 4.1h.8m-.7-8.2h.8m-.8 1.7h.8m-.7-4h.8m-.8 9.7h.8m-.8 .2h.8m-.7-3.4h.8m-.8 .5h.8m-.8 1h.8m-.8 3h.8m-.7-7.3h.8m-.8 4.6h.8m-.8 3.7h.8m-.8 .8h.8m-.7-19.2h.8m-.8 5h.8m-.8 4.4h.8m-.8 7.2h.8m-.7-2.3h.8m-.8 3.4h.8m-.7-6.4h.8m-.8 .5h.8m-.8 1.3h.8m-.7-9.2h.8m-.8 1.5h.8m-.8 4.5h.8m-.8 7.8h.8" stroke="#3b4ea6" stroke-width="0.8" fill="none"/>
<path d="M266.2 201h.8m-.1 .9h.8m-.7-9.5h.8m-.8 3h.8m0 9.7h.8m-.5-15h.8m-.7 12.1h.8m-.7-17.1h.8m-.7 19.8h.8m0-15.2h.8m-.5 10.2h.8m-.6-5.9h.8m-.7 8.4h.8m-.7 .1h.8m-.6-7.9h.8m-.8 8.8h.8m-.8 .9h.8m-.6-16.5h.8m-.7-1.6h.8m-.8 18.9h.8m-.2-19h.8m-.8 18.1h.8m-.5 .6h.8m-.4-12.2h.8m-.6-6.5h.8m-.8 16.8h.8m-.5-1.1h.8m-.6 4.3h.8m-.8 .7h.8m-.6-18.7h.8m-.8 3.8h.8m-.8 10.4h.8m-.6 1.3h.8m-.7-13.7h.8m-.7 3.7h.8m-.8 11.6h.8m-.7-16.8h.8m-.8 13h.8m-.8 2.1h.8m-.7 2.2h.8m-.7-7.4h.8m-.6-14.8h.8m-.7 4.5h.8m-.8 2.4h.8m-.6 .8h.8m-.8 1.8h.8m-.5 1.7h.8m-.8 8.6h.8m-.6-17.4h.8m-.7 12.7h.8m-.7-6.7h.8m-.8 7.6h.8m-.6-1.1h.8m-.7-7.4h.8m-.8 7.6h.8m-.7-6.8h.8m-.7 14.9h.8m-.7-26.7h.8m-.8 8h.8m-.4-3.9h.8m-.4 15.7h.8m-.6 5.6h.8m-.6-13.6h.8m-.8 4.9h.8m-.7 3h.8m-.5 1.9h.8m-.7-3.7h.8m-.8 5h.8m-.8 3.9h.8m-.6-14.5h.8m-.8 7h.8m-.8 4h.8m-.7-6.1h.8m-.8 2.1h.8m-.7-1.1h.8m-.7-1.3h.8m-.8 8.5h.8m-.7-1.7h.8m-.6-4.1h.8m-.7-6.6h.8m-.7-1.6h.8m-.7 2.3h.8m-.8 2.5h.8m-.6-7.2h.8m-.7 4.9h.8m-.8 .5h.8m-.7 7.5h.8m-.6-6.5h.8m-.5-3.4h.8m-.8 9.7h.8m-.7 4.4h.8m-.7 .4h.8m-.7-16.6h.8m-.7 6.2h.8m-.8 3.5h.8m-.8 5.5h.8m-.7-8.1h.8m-.6-11.6h.8m-.8 12.7h.8m-.8 3.4h.8m-.8 1.7h.8m-.7-3.5h.8m-.8 3.9h.8m-.7-13h.8m-.8 12.3h.8m-.7-14h.8m-.8 16.6h.8m-.7-21.8h.8m-.8 2.6h.8m-.8 16.7h.8m-.8 .2h.8m-.7-14.3h.8m-.8 2.9h.8m-.7 5.6h.8m-.8 6.3h.8m-.7-7.7h.8m-.8 6.2h.8m-.7-14.4h.8m-.8 10.2h.8m-.8 9h.8m-.7-16.1h.8m-.6-4h.8m-.8 3h.8m-.8 6.2h.8m-.8 2h.8m-.7-12.3h.8m-.7-1.5h.8m-.6-4.8h.8m-.6 13.4h.8m-.7-4.4h.8m-.8 4.4h.8m-.8 5.5h.8m-.6 5.5h.8m-.7-8.5h.8m-.8 10.3h.8m-.7-3.8h.8m-.8 2.2h.8m-.7-3.3h.8m-.6-14.2h.8m-.8 10.1h.8m-.8 4.3h.8m-.7-13.2h.8m-.7 14.7h.8m-.7-3.2h.8m-.7-16.2h.8m-.8 3.3h.8m-.8 2.1h.8m-.8 11h.8m-.7-1.3h.8m-.6-.4h.8m-.8 .9h.8m-.7-13.1h.8m-.8 .1h.8m-.8 8.6h.8m-.8 1.6h.8m-.8 2.2h.8m-.8 1h.8m-.8 8.2h.8m-.7-.5h.8m-.7-27.2h.8m-.8 3.8h.8m-.7 13.8h.8m-.6-6.1h.8m-.8 1.1h.8m-.8 3.7h.8m-.8 4.5h.8m-.7-13.7h.8m-.8 6.5h.8m-.7-9.9h.8m-.8 5.7h.8m-.8 4.3h.8m-.8 4.8h.8m-.6-9.8h.8m-.8 8.6h.8m-.7-8.9h.8m-.8 7.7h.8m-.8 2.9h.8m-.8 7.7h.8m-.7-11.6h.8m-.8 11.5h.8m-.7-20.8h.8m-.8 14.6h.8m-.8 .7h.8m-.8 6h.8m-.7-19.5h.8m-.8 3.2h.8m-.8 16.9h.8m-.7-15.5h.8m-.8 4.9h.8m-.8 .9h.8m-.8 2.1h.8m-.8 1.9h.8m-.7-15.2h.8m-.8 9.5h.8m-.8 8.9h.8m-.7-23.5h.8m-.8 8.5h.8m-.8 12.7h.8m-.8 4.8h.8m-.7-2.1h.8" stroke="#ee2b2b" stroke-width="0.8" fill="none"/>
<text x="240" y="185.6" font-size="8.3" fill="#222">Rec</text>
<line x1="299.9" y1="176.9" x2="299.9" y2="227.5" stroke="#555" stroke-width="0.7"/>
<line x1="299.9" y1="227.5" x2="348.3" y2="227.5" stroke="#555" stroke-width="0.7"/>
<line x1="298.1" y1="227.5" x2="299.9" y2="227.5" stroke="#555" stroke-width="0.5"/>
<text x="297.4" y="229.3" font-size="5.2" text-anchor="end" fill="#333">0.00</text>
<line x1="298.1" y1="215.15" x2="299.9" y2="215.15" stroke="#555" stroke-width="0.5"/>
<text x="297.4" y="216.95" font-size="5.2" text-anchor="end" fill="#333">0.25</text>
<line x1="298.1" y1="202.8" x2="299.9" y2="202.8" stroke="#555" stroke-width="0.5"/>
<text x="297.4" y="204.6" font-size="5.2" text-anchor="end" fill="#333">0.50</text>
<line x1="298.1" y1="190.45" x2="299.9" y2="190.45" stroke="#555" stroke-width="0.5"/>
<text x="297.4" y="192.25" font-size="5.2" text-anchor="end" fill="#333">0.75</text>
<line x1="298.1" y1="178.1" x2="299.9" y2="178.1" stroke="#555" stroke-width="0.5"/>
<text x="297.4" y="179.9" font-size="5.2" text-anchor="end" fill="#333">1.00</text>
<line x1="299.9" y1="227.5" x2="299.9" y2="229.3" stroke="#555" stroke-width="0.5"/>
<text x="299.9" y="234.5" font-size="5.2" text-anchor="middle" fill="#333">0.0</text>
<line x1="323.6" y1="227.5" x2="323.6" y2="229.3" stroke="#555" stroke-width="0.5"/>
<text x="323.6" y="234.5" font-size="5.2" text-anchor="middle" fill="#333">0.5</text>
<line x1="347.3" y1="227.5" x2="347.3" y2="229.3" stroke="#555" stroke-width="0.5"/>
<text x="347.3" y="234.5" font-size="5.2" text-anchor="middle" fill="#333">1.0</text>
<path d="M300.5,227.1L328.46,207.58L328.46,227.1Z" fill="#3b4ea6" opacity="0.92"/>
<path d="M300.5,227.1L300.5,224.17L314.48,211.48L328.46,201.72L328.46,207.58Z" fill="#6a6a6a" opacity="0.85"/>
<path d="M337.78,189.04L342.44,179.28L347.1,178.3L347.1,185.62Z" fill="#ee2b2b" opacity="0.6"/>
<path d="M300.5 218.3h.8m-.8 1.5h.8m-.8 6.6h.8m-.7-8.1h.8m-.7-1.4h.8m-.8 1.5h.8m-.8 .5h.8m-.7 1.7h.8m-.8 1h.8m-.8 1.4h.8m-.8 1.1h.8m-.8 1.3h.8m-.7-10.6h.8m-.8 1.4h.8m-.8 2.1h.8m-.8 .5h.8m-.8 .7h.8m-.8 2h.8m-.8 3.1h.8m-.8 1h.8m-.7-6.6h.8m-.8 2.5h.8m-.8 2.7h.8m-.8 .4h.8m-.7-3.4h.8m-.8 3.5h.8m-.7-9.9h.8m-.8 7.6h.8m-.8 .5h.8m-.8 .8h.8m-.8 1.3h.8m-.7-5.5h.8m-.8 2.3h.8m-.8 1.4h.8m-.7-11h.8m-.8 3.8h.8m-.8 .2h.8m-.8 7.3h.8m-.8 1.9h.8m-.8 .3h.8m-.7-8.8h.8m-.8 7.6h.8m-.8 1.3h.8m-.7-10.3h.8m-.8 1.5h.8m-.8 3.6h.8m-.8 2h.8m-.7 1h.8m-.8 1.1h.8m-.8 1.1h.8m-.7-13.5h.8m-.8 5.1h.8m-.8 1.2h.8m-.8 .5h.8m-.8 .5h.8m-.8 .4h.8m-.8 .2h.8m-.8 .4h.8m-.8 .3h.8m-.8 .3h.8m-.8 .9h.8m-.7-5.7h.8m-.8 1h.8m-.8 4.5h.8m-.8 1.5h.8m-.8 .7h.8m-.7-4.7h.8m-.8 5.1h.8m-.8 .2h.8m-.8 .3h.8m-.7-7.4h.8m-.8 .4h.8m-.8 .1h.8m-.8 .7h.8m-.8 .8h.8m-.8 1.8h.8m-.8 2.6h.8m-.8 .2h.8m-.7-10.8h.8m-.8 4.4h.8m-.8 6h.8m-.7-3.3h.8m-.8 3.1h.8m-.8 .9h.8m-.7-11.4h.8m-.8 3.5h.8m-.8 1h.8m-.8 5.6h.8m-.8 1.3h.8m-.8 .9h.8m-.7-10.3h.8m-.8 2.1h.8m-.8 .1h.8m-.8 3.9h.8m-.8 2.7h.8m-.8 1.5h.8m-.7-12h.8m-.8 2.4h.8m-.8 6h.8m-.7-4.6h.8m-.8 3.1h.8m-.8 2.9h.8m-.8 .4h.8m-.7-11.7h.8m-.8 3h.8m-.8 6.4h.8m-.8 .7h.8m-.8 .8h.8m-.8 1.5h.8m-.8 .5h.8m-.7-7.7h.8m-.8 3h.8m-.7-5h.8m-.8 .7h.8m-.8 1.4h.8m-.8 .6h.8m-.8 4.5h.8m-.8 .2h.8m-.8 2.7h.8m-.7-2.2h.8m-.8 1.8h.8m-.7-.7h.8m-.8 .5h.8m-.8 .1h.8m-.7-10.4h.8m-.8 2.4h.8m-.8 5.3h.8m-.8 2.6h.8m-.8 .3h.8m-.7-5.2h.8m-.8 1.8h.8m-.8 1.1h.8m-.7-3.2h.8m-.8 1.3h.8m-.8 2.4h.8m-.8 .6h.8m-.7-9.9h.8m-.8 1.4h.8m-.8 5.3h.8m-.8 .3h.8m-.8 1.2h.8m-.8 .5h.8m-.8 2.1h.8m-.8 .3h.8m-.7-11.4h.8m-.7 .7h.8m-.8 1.8h.8m-.8 .9h.8m-.8 3.3h.8m-.8 3.6h.8m-.8 .9h.8m-.7-15.8h.8m-.8 4.1h.8m-.8 1h.8m-.8 1.5h.8m-.8 6h.8m-.8 2.4h.8m-.7-11.6h.8m-.8 2.9h.8m-.8 1.2h.8m-.8 1.2h.8m-.8 2.3h.8m-.8 .8h.8m-.7-10.7h.8m-.8 .2h.8m-.8 7.2h.8m-.7-5.1h.8m-.8 .5h.8m-.8 .5h.8m-.8 1h.8m-.8 2.7h.8m-.8 .2h.8m-.8 1.2h.8m-.8 3.2h.8m-.8 .2h.8m-.8 1.2h.8m-.8 .6h.8m-.7-15.1h.8m-.8 9.7h.8m-.8 3.9h.8m-.7-10.3h.8m-.7 7.3h.8m-.8 2.5h.8m-.8 .8h.8m-.7-13h.8m-.8 1h.8m-.8 12h.8m-.8 .7h.8m-.7-10.4h.8m-.8 6h.8m-.8 1.5h.8m-.8 2h.8m-.7-10h.8m-.8 .7h.8m-.8 .7h.8m-.8 5.4h.8m-.8 4.9h.8m-.7-11.3h.8m-.8 1.4h.8m-.8 .7h.8m-.8 4.5h.8m-.8 2.8h.8m-.7-10.3h.8m-.8 5.2h.8m-.8 .4h.8m-.8 1h.8m-.8 1h.8m-.7-7.5h.8m-.8 10.5h.8m-.7-6.6h.8m-.8 2.5h.8m-.8 .3h.8m-.8 4.4h.8m-.7-15.9h.8m-.8 4.3h.8m-.8 7.5h.8m-.8 1.5h.8m-.8 2h.8m-.7-13.3h.8m-.8 2.8h.8m-.8 6.2h.8m-.8 .2h.8m-.7-.6h.8m-.8 3.4h.8m-.8 1.1h.8m-.8 .6h.8m-.7-.8h.8m-.8 .2h.8m-.8 .9h.8m-.8 .3h.8m-.8 .1h.8m-.7-11.4h.8m-.8 3.4h.8m-.8 .6h.8m-.8 .1h.8m-.8 3h.8m-.8 2.9h.8m-.8 .8h.8m-.7-10.6h.8m-.8 3.6h.8m-.8 1h.8m-.8 2.4h.8m-.8 2.1h.8m-.7-7.3h.8m-.8 .2h.8m-.8 6.3h.8m-.8 .3h.8m-.8 .2h.8m-.8 .3h.8m-.8 .7h.8m-.8 .2h.8m-.7-6.7h.8m-.8 .6h.8m-.8 2.6h.8m-.8 .5h.8m-.8 2.2h.8m-.8 1.2h.8m-.8 .5h.8m-.8 .1h.8m-.7-15.1h.8m-.8 4.8h.8m-.8 2.7h.8m-.8 1h.8m-.8 4.6h.8m-.8 .6h.8m-.8 1.1h.8m-.7-13.3h.8m-.7-1.7h.8m-.8 4.2h.8m-.8 1.2h.8m-.8 .3h.8m-.8 1h.8m-.8 5.1h.8m-.8 .1h.8m-.8 1.8h.8m-.7-7.2h.8m-.8 1.4h.8m-.8 4h.8m-.8 2.4h.8m-.7-7.6h.8m-.8 2.8h.8m-.7-10.5h.8m-.8 9.9h.8m-.8 3.3h.8m-.8 2.6h.8m-.7-13.4h.8m-.8 3h.8m-.8 1.4h.8m-.8 2.4h.8m-.8 1.5h.8m-.8 3.1h.8m-.7-7.6h.8m-.8 6.4h.8m-.8 1.9h.8m-.7-5.7h.8m-.8 3.2h.8m-.8 .1h.8m-.8 .8h.8m-.7-5.5h.8m-.8 2.4h.8m-.8 4.8h.8m-.7-14.5h.8m-.8 5.1h.8m-.8 4.7h.8m-.8 1.6h.8m-.8 3h.8m-.8 .9h.8m-.8 .1h.8m-.7-17.8h.8m-.8 2.9h.8m-.8 5.9h.8m-.8 2.9h.8m-.8 1.6h.8m-.8 3.6h.8m-.7-3.7h.8m-.8 .1h.8m-.8 2.2h.8m-.7-11.2h.8m-.8 4.1h.8m-.8 .9h.8m-.8 .2h.8m-.8 6.1h.8m-.7-7.9h.8m-.8 1.5h.8m-.8 5.3h.8m-.7-10.5h.8m-.8 .7h.8m-.8 9h.8m-.7-8h.8m-.8 10.8h.8m-.7-4.9h.8m-.8 4.5h.8m-.7-10.5h.8m-.8 2.9h.8m-.8 .5h.8m-.8 3.5h.8m-.8 .6h.8m-.8 .9h.8m-.8 .9h.8m-.8 .9h.8m-.7-5.8h.8m-.8 2.9h.8m-.8 1h.8m-.8 1.7h.8m-.8 .7h.8m-.7-9.5h.8m-.8 1.6h.8m-.8 6.8h.8m-.7-9.9h.8m-.8 4.1h.8m-.8 7.1h.8m-.7-12.1h.8m-.8 1.3h.8m-.8 3.6h.8m-.8 3.5h.8m-.7-3.8h.8m-.8 2.2h.8m-.8 .6h.8m-.8 .7h.8m-.8 3.6h.8m-.7-9h.8m-.8 3.5h.8m-.8 5.8h.8m-.7-11.3h.8m-.8 .9h.8m-.8 8.1h.8m-.8 2.4h.8m-.8 .2h.8m-.7-10.2h.8m-.8 2.1h.8m-.8 .9h.8m-.8 2.6h.8m-.8 .1h.8m-.8 .8h.8m-.8 .8h.8m-.8 1.5h.8m-.7-13.3h.8m-.8 5h.8m-.8 .1h.8m-.8 8.5h.8m-.8 .4h.8m-.8 .3h.8m-.8 .3h.8m-.7-17.3h.8m-.8 9.9h.8m-.8 .2h.8m-.8 2.9h.8m-.8 3.4h.8m-.7-7.3h.8m-.8 1.5h.8m-.8 1h.8m-.8 .6h.8m-.8 .6h.8m-.7-10.9h.8m-.8 2.5h.8m-.8 1.6h.8m-.8 4.5h.8m-.8 4h.8m-.8 .4h.8m-.7-8.3h.8m-.8 4h.8m-.8 6.1h.8m-.7-6h.8m-.8 2h.8m-.7-8.6h.8m-.8 1.1h.8m-.8 2.4h.8m-.8 .1h.8m-.8 8h.8m-.8 .6h.8m-.7-14.7h.8m-.8 3.1h.8m-.8 2.4h.8m-.8 4.4h.8m-.8 .5h.8m-.8 .5h.8m-.8 .5h.8m-.8 2h.8m-.8 .8h.8m-.7-14.9h.8m-.8 9h.8m-.8 1.9h.8m-.8 1.8h.8m-.7-9.7h.8m-.8 5.3h.8m-.8 1.4h.8m-.8 4.2h.8m-.8 1.1h.8m-.7-13.4h.8m-.8 .3h.8m-.8 2.1h.8m-.8 4.8h.8m-.8 6.5h.8m-.8 .4h.8m-.7-14.6h.8m-.8 11.9h.8m-.8 2.6h.8m-.7-6.9h.8m-.8 3.7h.8m-.8 1.4h.8m-.7-10.3h.8m-.8 1.7h.8m-.8 1.6h.8m-.8 1.1h.8m-.8 6.7h.8m-.8 .5h.8m-.7-8.4h.8m-.8 1.5h.8m-.8 4h.8m-.8 1.2h.8m-.8 .3h.8m-.8 1.2h.8m-.7-15.5h.8m-.8 2.6h.8m-.8 .3h.8m-.8 4.7h.8m-.8 5.3h.8m-.8 1.6h.8m-.8 1h.8m-.8 .2h.8m-.7-4.6h.8m-.8 2.1h.8m-.8 .5h.8m-.8 1.7h.8m-.8 .6h.8m-.7-17.8h.8m-.8 12.9h.8m-.8 1.2h.8m-.8 .2h.8m-.7-15.4h.8m-.7 3.4h.8m-.8 1.3h.8m-.8 5.9h.8m-.8 1.1h.8m-.8 .1h.8m-.8 2h.8m-.8 3.3h.8m-.8 .4h.8m-.8 .4h.8m-.7-12.7h.8m-.8 1h.8m-.8 1.7h.8m-.8 7.8h.8m-.7-15.4h.8m-.8 4.9h.8m-.8 10.6h.8m-.8 .3h.8m-.8 2.2h.8m-.7-8.5h.8m-.8 1.2h.8m-.8 1.9h.8m-.8 .8h.8m-.8 3.2h.8m-.7-12.5h.8m-.8 .5h.8m-.8 1.7h.8m-.8 3.4h.8m-.8 .9h.8m-.8 1.9h.8m-.8 1h.8m-.8 1.7h.8m-.7-2.3h.8m-.8 2.3h.8m-.8 1.3h.8m-.8 .8h.8m-.8 .6h.8m-.7-13.1h.8m-.8 1.9h.8m-.8 7h.8m-.8 1.4h.8m-.7-9.1h.8m-.8 .4h.8m-.8 1.9h.8m-.8 6.6h.8m-.8 2.6h.8m-.7-17.8h.8m-.8 8.7h.8m-.8 3.1h.8m-.8 .4h.8m-.8 1.3h.8m-.8 .1h.8m-.8 3.3h.8m-.8 1.2h.8m-.7-7.3h.8m-.8 .7h.8m-.8 4.6h.8m-.7-14.8h.8m-.8 1.1h.8m-.8 2.4h.8m-.8 5.7h.8m-.8 1.3h.8m-.8 .1h.8m-.8 3.2h.8m-.8 .5h.8m-.7-9.9h.8m-.8 3.1h.8m-.8 1.7h.8m-.8 3.9h.8m-.8 .2h.8m-.8 .2h.8m-.8 1.2h.8m-.7-8.5h.8m-.8 2.4h.8m-.8 4.1h.8m-.8 .2h.8m-.8 3.1h.8m-.7-10.9h.8m-.8 2.7h.8m-.8 6.1h.8m-.8 .3h.8m-.8 .3h.8m-.8 1.5h.8m-.7-11.5h.8m-.8 2.9h.8m-.8 2.5h.8m-.8 .1h.8m-.8 .8h.8m-.8 3.4h.8m-.8 1.1h.8m-.7-11h.8m-.8 .6h.8m-.8 1.7h.8m-.8 3.6h.8m-.8 1.6h.8m-.8 3.4h.8m-.7-8.3h.8m-.8 5.5h.8m-.8 .8h.8m-.8 2.4h.8m-.8 .6h.8m-.7-14.5h.8m-.8 4.5h.8m-.8 .8h.8m-.8 2.6h.8m-.8 1.8h.8m-.8 .1h.8m-.7-12.5h.8m-.8 14.9h.8m-.8 .3h.8m-.8 1.6h.8m-.7-8.7h.8m-.8 4.8h.8m-.8 .3h.8m-.8 1.6h.8m-.8 1.4h.8m-.7-13.1h.8m-.8 7.3h.8m-.8 1h.8m-.8 1.4h.8m-.8 2.8h.8m-.7-7.6h.8m-.8 1.5h.8m-.8 3.3h.8m-.8 .4h.8m-.8 1h.8m-.8 .7h.8m-.8 .5h.8m-.7-11.7h.8m-.8 3.3h.8m-.8 2.6h.8m-.8 4.7h.8m-.8 1.3h.8m-.7-16.8h.8m-.8 1.1h.8m-.8 5.2h.8m-.8 3.4h.8m-.8 .4h.8m-.8 .1h.8m-.8 2.9h.8m-.8 1h.8m-.8 1.4h.8m-.8 2.1h.8m-.7-10.3h.8m-.8 2.6h.8m-.8 2.5h.8m-.7-6h.8m-.8 3.4h.8m-.8 .7h.8m-.8 3.1h.8m-.8 2.8h.8m-.8 .7h.8m-.7-13.7h.8m-.8 3.8h.8m-.8 2.8h.8m-.8 4.4h.8m-.8 .7h.8m-.8 1.7h.8m-.8 .2h.8m-.7-13.9h.8m-.8 3.4h.8m-.8 10.6h.8m-.7-10.5h.8m-.8 1.4h.8m-.8 2.1h.8m-.8 3h.8m-.8 .5h.8m-.8 3.2h.8m-.7-14.5h.8m-.7 5.9h.8m-.8 5.2h.8m-.8 2.2h.8m-.7-17.1h.8m-.8 7.4h.8m-.8 6.8h.8m-.8 1.2h.8m-.8 1h.8m-.8 2.4h.8m-.7-13.7h.8m-.8 1.9h.8m-.8 2.3h.8m-.8 .7h.8m-.8 1.6h.8m-.8 .8h.8m-.8 1.5h.8m-.8 .8h.8m-.7-5.4h.8m-.8 5.7h.8m-.8 1.3h.8m-.7-9.7h.8m-.8 5.8h.8m-.8 1.6h.8m-.8 .1h.8m-.8 .2h.8m-.8 2h.8m-.7-17.1h.8m-.8 4.4h.8m-.8 4.8h.8m-.8 7.8h.8m-.8 1.9h.8m-.7-15.9h.8m-.8 2.9h.8m-.8 5.2h.8m-.8 2.2h.8m-.8 4.4h.8m-.7-6.7h.8m-.8 7.4h.8m-.8 .8h.8m-.7-20.3h.8m-.8 2.3h.8m-.8 3.3h.8m-.8 6.6h.8m-.8 2.6h.8m-.7-6.5h.8m-.8 4.1h.8m-.8 1.7h.8m-.8 5.1h.8m-.7-7h.8m-.8 .2h.8m-.8 .8h.8m-.8 1h.8m-.8 1.7h.8m-.8 1.7h.8m-.8 .6h.8m-.7-11h.8m-.8 10.1h.8m-.8 1.2h.8m-.8 1.5h.8m-.7-16.3h.8m-.8 11.4h.8m-.8 3.4h.8m-.8 .9h.8m-.7-10.8h.8m-.8 .2h.8m-.8 3.7h.8m-.8 5.3h.8m-.8 .7h.8m-.8 .3h.8m-.7-10.1h.8m-.8 4.5h.8m-.8 .5h.8m-.8 2.6h.8m-.8 2.8h.8m-.7-12.2h.8m-.8 .2h.8m-.8 1.5h.8m-.8 7.7h.8m-.8 2.3h.8m-.8 .4h.8m-.8 .4h.8m-.8 .4h.8m-.7-14.6h.8m-.8 1.7h.8m-.8 9.3h.8m-.7 .2h.8m-.7-16h.8m-.8 10.3h.8m-.8 .9h.8m-.8 3.7h.8m-.8 .6h.8m-.7-12.7h.8m-.8 3.7h.8m-.8 .5h.8m-.8 1.5h.8m-.8 6.7h.8m-.8 1.4h.8m-.8 .4h.8m-.8 1.2h.8m-.7-11.6h.8m-.8 1.1h.8m-.8 .3h.8m-.8 .4h.8m-.8 2.4h.8m-.8 1.4h.8m-.8 .1h.8m-.8 1.2h.8m-.8 1.9h.8m-.8 1h.8m-.8 2.3h.8m-.8 .2h.8m-.7-17.2h.8m-.8 3.4h.8m-.8 3.4h.8m-.8 9.1h.8m-.7-11.5h.8m-.8 .1h.8m-.8 1h.8m-.8 .2h.8m-.8 .6h.8m-.8 .3h.8m-.8 .2h.8m-.8 1.2h.8m-.8 .4h.8m-.8 3.4h.8m-.8 4.2h.8m-.7-7.8h.8m-.8 4.9h.8m-.8 1.5h.8m-.8 .8h.8m-.7-4.5h.8m-.8 3.7h.8m-.8 1.6h.8m-.7-6h.8m-.7-7h.8m-.8 4.2h.8m-.8 2.1h.8m-.8 1.6h.8m-.8 1.1h.8m-.8 .1h.8m-.8 1.5h.8m-.8 .8h.8m-.7-12.8h.8m-.8 1.2h.8m-.8 2.5h.8m-.8 6.5h.8m-.8 .5h.8m-.7-2.7h.8m-.8 1.6h.8m-.8 .4h.8m-.8 3.1h.8m-.8 1.2h.8m-.7-13.5h.8m-.8 8.1h.8m-.8 2.7h.8m-.8 1.7h.8m-.7-13.5h.8m-.8 1.8h.8m-.8 6h.8m-.8 6.3h.8m-.7-11.3h.8m-.8 .3h.8m-.8 7.8h.8m-.8 .5h.8m-.8 .5h.8m-.8 1h.8m-.8 1.1h.8m-.8 .7h.8m-.7-14.4h.8m-.8 3.7h.8m-.8 7.6h.8m-.8 .9h.8m-.8 .4h.8m-.7-12.3h.8m-.8 7.6h.8m-.8 .1h.8m-.8 1.9h.8m-.8 .7h.8m-.7-5.7h.8m-.8 6.3h.8m-.8 2h.8m-.7-13.2h.8m-.8 1.8h.8m-.8 1h.8m-.8 6.8h.8m-.7-8.4h.8m-.8 6.1h.8m-.8 .3h.8m-.8 4.1h.8m-.7-8.3h.8m-.8 4.4h.8m-.8 2.5h.8m-.7-10.1h.8m-.8 3.1h.8m-.8 2.4h.8m-.8 .5h.8m-.8 1.8h.8m-.8 2.4h.8m-.7-8.1h.8m-.8 7.3h.8m-.8 1.6h.8m-.8 .3h.8m-.7-.5h.8m-.8 .5h.8m-.7-11.7h.8m-.8 1.9h.8m-.8 .2h.8m-.8 1.6h.8m-.8 5.6h.8m-.8 .7h.8m-.7-14.3h.8m-.8 .1h.8m-.8 3.6h.8m-.8 5.6h.8m-.8 3.4h.8m-.8 .8h.8m-.8 .6h.8m-.8 .8h.8m-.8 .9h.8m-.8 .4h.8m-.7-9.8h.8m-.8 2h.8m-.8 6.8h.8m-.8 2h.8m-.8 .5h.8m-.7-4.1h.8m-.8 1.8h.8m-.8 .4h.8m-.7-11.9h.8m-.8 2.8h.8m-.8 3.2h.8m-.8 .3h.8m-.8 5.6h.8m-.7-10.1h.8m-.8 1h.8m-.8 4.7h.8m-.8 6.7h.8m-.7-17.5h.8m-.8 9.5h.8m-.8 3.5h.8m-.8 1.1h.8m-.8 2.4h.8m-.8 .8h.8m-.7-5.2h.8m-.8 4.2h.8m-.8 .4h.8m-.7-9.2h.8m-.8 6.5h.8m-.8 .1h.8m-.8 .4h.8m-.8 .5h.8m-.8 .5h.8m-.7-11.7h.8m-.8 2.9h.8m-.8 1.6h.8m-.8 1.3h.8m-.8 6.1h.8m-.8 .5h.8m-.7-14.1h.8m-.8 5.3h.8m-.8 8.9h.8m-.7-14h.8m-.8 3.8h.8m-.8 2.6h.8m-.8 6.2h.8m-.8 1.7h.8m-.8 .1h.8m-.8 .4h.8m-.7-5.4h.8m-.8 .5h.8m-.8 .5h.8m-.7-11.6h.8m-.8 12.2h.8m-.7-9.5h.8m-.8 1h.8m-.8 7.4h.8m-.7-16h.8m-.8 8.3h.8m-.8 1h.8m-.8 8.1h.8m-.8 .7h.8m-.8 2.2h.8m-.7-16.2h.8m-.8 9.6h.8m-.8 1.5h.8m-.8 .1h.8m-.8 1.1h.8m-.8 1.7h.8m-.7-16.2h.8m-.8 15.1h.8m-.7-3.7h.8m-.8 2.8h.8m-.8 1.8h.8m-.8 .3h.8m-.8 .5h.8m-.7-14.1h.8m-.8 5.1h.8m-.8 .2h.8m-.8 1.6h.8m-.8 2.1h.8m-.8 3.5h.8m-.8 .6h.8m-.8 2.4h.8m-.7-14.5h.8m-.8 5.3h.8m-.8 4h.8m-.8 1.4h.8m-.8 .7h.8m-.8 3.3h.8m-.7-7.8h.8m-.8 .9h.8m-.8 2.1h.8m-.8 1.4h.8m-.8 .8h.8m-.8 2.2h.8m-.7-16.6h.8m-.8 5.3h.8m-.8 2.9h.8m-.8 1.5h.8m-.7-9.2h.8m-.8 8.3h.8m-.8 .8h.8m-.8 .7h.8m-.8 3.1h.8m-.8 1.5h.8m-.7-20.8h.8m-.8 8.8h.8m-.8 6.4h.8m-.8 .5h.8m-.7-6.2h.8m-.8 1.8h.8m-.8 .1h.8m-.8 2.6h.8m-.8 1.3h.8m-.8 1.8h.8m-.8 5.3h.8m-.7-13.4h.8m-.8 3.1h.8m-.8 .1h.8m-.8 2.4h.8m-.8 1.9h.8m-.7-4.6h.8m-.8 6.5h.8m-.8 .7h.8m-.8 1.6h.8m-.7-6.4h.8m-.8 .7h.8m-.8 .3h.8m-.8 1.9h.8m-.8 2.2h.8m-.8 1.6h.8m-.7-18.1h.8m-.8 9.2h.8m-.8 8.2h.8m-.8 .3h.8m-.8 1.3h.8m-.7-21.4h.8m-.8 12.4h.8m-.8 2.9h.8m-.8 1h.8m-.8 2.4h.8m-.8 2.8h.8m-.7-12.3h.8m-.8 5.1h.8m-.8 1.1h.8m-.8 2.7h.8m-.8 .6h.8m-.7-9.9h.8m-.8 1.9h.8m-.8 3h.8m-.8 .9h.8m-.8 3.5h.8m-.8 1.9h.8m-.8 .5h.8m-.7-10.6h.8m-.8 .1h.8m-.8 2.6h.8m-.8 6.6h.8m-.7-14.1h.8m-.8 1.4h.8m-.8 3.8h.8m-.8 5.6h.8m-.8 .3h.8m-.7-9.7h.8m-.8 5.8h.8m-.8 6h.8m-.8 2.5h.8m-.8 .2h.8m-.7-5.6h.8m-.8 .7h.8m-.8 .1h.8m-.8 .3h.8m-.8 3.8h.8m-.8 .7h.8m-.6-7.1h.8m-.8 .6h.8m-.7-3.8h.8m-.8 4.3h.8m-.7-9.3h.8m-.8 4.9h.8m-.8 3.3h.8m-.8 3.7h.8m-.7-1.4h.8m-.8 .2h.8m-.8 1.7h.8m-.8 2.8h.8m-.7-16.6h.8m-.8 2.4h.8m-.8 3.6h.8m-.8 3.9h.8m-.8 2.2h.8m-.7-3.9h.8m-.8 .2h.8m-.7-7.3h.8m-.8 11.3h.8m-.7-11.3h.8m-.8 1.8h.8m-.8 6.7h.8m-.8 1.5h.8m-.8 .1h.8m-.8 1.1h.8m-.7-13.2h.8m-.8 13.4h.8m-.8 .9h.8m-.7-1.4h.8m-.7-1.5h.8m-.8 1.8h.8m-.8 .6h.8m-.8 1.2h.8m-.8 .9h.8m-.7-6.2h.8m-.8 2.1h.8m-.7-13.3h.8m-.8 9.8h.8m-.8 5.2h.8m-.7-10.3h.8m-.7 2.1h.8m-.8 8.1h.8m-.7 .3h.8m-.7-7.5h.8m-.8 9.9h.8m-.7-8.4h.8m-.8 2.6h.8m-.8 1.1h.8m-.8 3.6h.8m-.7-15h.8m-.8 8h.8m-.7-3.4h.8m-.8 6.4h.8m-.7-12h.8m-.8 12.8h.8m-.7-1.2h.8m-.8 3.7h.8m-.8 .3h.8m-.7 1.1h.8m-.7-6h.8m-.8 2.7h.8m-.8 .1h.8m-.8 1h.8m-.7 2.3h.8m-.6-20.8h.8m-.8 4.1h.8m-.8 4.4h.8m-.8 7.4h.8m-.8 2h.8m-.8 .4h.8m-.8 2.3h.8m-.7-13.4h.8m-.8 5.6h.8m-.8 5.1h.8m-.7-1.1h.8m-.8 1.1h.8m-.8 .1h.8m-.8 .7h.8m-.7-7.2h.8m-.7-9.1h.8m-.8 14.9h.8m-.8 1.8h.8m-.7-4.6h.8m-.8 4.4h.8m-.7-13.8h.8m-.8 1.4h.8m-.8 3.3h.8m-.8 9.1h.8m-.7-17.7h.8m-.8 2.3h.8m-.8 6.7h.8m-.8 1.8h.8m-.7-7.8h.8m-.8 10.4h.8m-.8 4.7h.8m-.8 .9h.8m-.7-3.4h.8m-.8 3.4h.8m-.7-19.7h.8m-.8 17.2h.8m-.8 .8h.8m-.8 1.3h.8m-.7-18.7h.8m-.8 3.9h.8m-.8 9.9h.8m-.7-.5h.8m-.7-10.2h.8m-.8 13.2h.8m-.8 .4h.8m-.6-1.9h.8m-.7-17.3h.8m-.8 14.4h.8m-.8 1.9h.8m-.8 1.7h.8m-.8 1.9h.8m-.7-15.2h.8m-.7 1.5h.8m-.8 5.4h.8m-.8 4.8h.8m-.7-8.2h.8m-.8 5.8h.8m-.7-2.1h.8m-.8 .6h.8m-.8 4.7h.8m-.7 .3h.8m-.8 3.1h.8m-.8 .1h.8m-.7-21.9h.8m-.8 16.4h.8m-.7-2.5h.8m-.8 2.6h.8m-.7-2.1h.8m-.7-1.3h.8m-.7-13.6h.8m-.8 16.7h.8m-.7 4.1h.8m-.7-4.7h.8m-.7-.9h.8m-.7 6.1h.8m-.7-18.6h.8m-.8 18.1h.8m-.5-.5h.8m-.7-10.7h.8m-.8 9.9h.8m-.7-17.9h.8m-.7 2.4h.8m-.6 5.9h.8m-.7 .5h.8" stroke="#6a6a6a" stroke-width="0.8" fill="none"/>
<path d="M301 226.8h.8m-.8 .1h.8m-.6 0h.8m-.7-.3h.8m-.7 .3h.8m-.7 .1h.8m-.7-.2h.8m-.7 0h.8m-.7 .1h.8m-.7-.5h.8m-.8 .3h.8m-.7-.2h.8m-.7 .1h.8m-.6-.7h.8m-.8 .2h.8m-.8 .2h.8m-.8 .3h.8m-.8 .1h.8m-.7-.7h.8m-.1-.7h.8m-.7 .3h.8m-.8 .6h.8m-.6-.3h.8m-.6 .8h.8m-.7 .2h.8m-.7-.8h.8m-.7-1.2h.8m-.8 .7h.8m-.7 .5h.8m-.5-.9h.8m-.8 .9h.8m-.7 0h.8m-.8 .1h.8m-.7-1h.8m-.7-.6h.8m-.8 .3h.8m-.8 .1h.8m-.7-.4h.8m-.8 .4h.8m-.5 .1h.8m-.8 1.1h.8m-.6-2.1h.8m-.8 .8h.8m-.8 1.3h.8m-.7 .1h.8m-.8 .3h.8m-.7-2.2h.8m-.8 1.9h.8m-.6-.7h.8m-.7 .2h.8m-.6-2.1h.8m-.8 1.6h.8m-.8 .7h.8m-.7-1.9h.8m-.8 1.3h.8m-.7-1.3h.8m-.8 1.6h.8m-.6-2.1h.8m-.8 .3h.8m-.7 1.5h.8m-.6-2.4h.8m-.8 .6h.8m-.7 .1h.8m-.8 .7h.8m-.8 .9h.8m-.8 .8h.8m-.7-3.4h.8m-.8 .6h.8m-.6-.7h.8m-.8 .5h.8m-.8 .8h.8m-.7 .9h.8m-.8 .8h.8m-.7-2.7h.8m-.8 2.5h.8m-.7-2.9h.8m-.8 1.8h.8m-.8 .7h.8m-.8 .4h.8m-.7-1.5h.8m-.7-1h.8m-.3 .5h.8m-.8 3.2h.8m-.7-4.3h.8m-.8 4.2h.8m-.7-1.2h.8m-.7-3.6h.8m-.7 1.1h.8m-.7-1h.8m-.8 2.7h.8m-.7-2h.8m-.8 2h.8m-.8 1.6h.8m-.7-3.7h.8m-.8 1.3h.8m-.8 2.4h.8m-.7-4h.8m-.8 2.2h.8m-.8 .5h.8m-.8 2h.8m-.7-.5h.8m-.5-2h.8m-.6-3h.8m-.8 1.8h.8m-.7-.3h.8m-.8 1.9h.8m-.7 1.3h.8m-.7-4.1h.8m-.8 .5h.8m-.8 2.9h.8m-.5-4.4h.8m-.8 1.7h.8m-.8 .1h.8m-.7 3.2h.8m-.7-1.6h.8m-.7 .1h.8m-.8 .7h.8m-.7-3.7h.8m-.8 .3h.8m-.7 .6h.8m-.7-1.5h.8m-.8 2.6h.8m-.7-.7h.8m-.4 .6h.8m-.8 1.1h.8m-.7-2.8h.8m-.8 2.8h.8m-.7-2.2h.8m-.7 3.8h.8m-.7-3.3h.8m-.8 .1h.8m-.6-2.6h.8m-.8 2.7h.8m-.8 1.7h.8m-.5-4.9h.8m-.8 .2h.8m-.8 .9h.8m-.8 2.3h.8m-.8 1.4h.8m-.7-5.4h.8m-.7 1.8h.8m-.8 .2h.8m-.8 4.4h.8m-.7-5h.8m-.7-1h.8m-.8 1.1h.8m-.7-.7h.8m-.8 3.1h.8m-.8 .4h.8m-.8 .4h.8m-.8 1.8h.8m-.8 1.4h.8m-.7-8.2h.8m-.8 7.4h.8m-.7-6.3h.8m-.7-.1h.8m-.7-.1h.8m-.8 .5h.8m-.8 .4h.8m-.8 1.3h.8m-.7 .9h.8m-.8 .9h.8m-.7-3.6h.8m-.8 1.8h.8m-.8 3.5h.8m-.7-7h.8m-.8 .8h.8m-.8 5.4h.8m-.7-4.9h.8m-.8 .4h.8m-.8 2.5h.8m-.6-3.4h.8m-.8 4.1h.8m-.8 1.4h.8m-.7-6h.8m-.8 2.2h.8m-.8 .8h.8m-.8 2.8h.8m-.6-6.2h.8m-.8 .8h.8m-.8 .4h.8m-.8 3.5h.8m-.7-1.9h.8m-.8 3.1h.8m-.7-5h.8m-.8 3.3h.8m-.7-1.7h.8m-.7-2.9h.8m-.8 1.8h.8m-.8 .5h.8m-.8 1.6h.8m-.8 1.5h.8m-.7-5.7h.8m-.7 1.3h.8m-.8 6h.8m-.6-5.9h.8m-.8 3.6h.8m-.7-3.3h.8m-.8 2.4h.8m-.8 3.5h.8m-.7-6.1h.8m-.7-1.1h.8m-.8 1h.8m-.7 2.2h.8m-.7-.7h.8m-.7-3.1h.8m-.7 1.8h.8m-.7 0h.8m-.7-1.1h.8m-.8 .8h.8m-.8 3.4h.8m-.8 .7h.8m-.8 1.7h.8m-.7-7.2h.8m-.8 .3h.8m-.8 1.8h.8m-.8 1.6h.8m-.7-3.6h.8m-.7 1.7h.8m-.7 1.4h.8m-.8 1.7h.8m-.8 .3h.8m-.8 2.9h.8m-.6-7h.8m-.8 .3h.8m-.7-.4h.8m-.8 1.8h.8m-.8 .9h.8m-.7 0h.8m-.5 3.1h.8m-.7 .5h.8m-.7-6.7h.8m-.8 1h.8m-.8 2.1h.8m-.6-5.3h.8m-.8 1h.8m-.8 2.1h.8m-.8 .4h.8m-.8 .2h.8m-.8 3.9h.8m-.7 .4h.8m-.7-4.2h.8m-.8 2.7h.8m-.7-.2h.8m-.7-2.7h.8m-.8 2h.8m-.8 .3h.8m-.6-3.6h.8m-.6 2.7h.8m-.8 5.9h.8m-.7-8h.8m-.8 6.1h.8m-.7-9.5h.8m-.8 5.5h.8m-.8 1.1h.8m-.7-3.5h.8m-.8 .2h.8m-.7-.9h.8m-.7 1.4h.8m-.8 6.4h.8m-.7-7.9h.8m-.7-2.6h.8m-.8 .6h.8m-.8 2.4h.8m-.5 3.8h.8m-.8 2.5h.8m-.8 1h.8m-.7-3.2h.8m-.8 .3h.8m-.8 4.3h.8m-.7-12h.8m-.8 3.4h.8m-.8 1.6h.8m-.8 .7h.8m-.7-5.1h.8m-.8 3.5h.8m-.8 1.8h.8m-.7-.2h.8m-.7 3.7h.8m-.7-8.8h.8m-.7 0h.8m-.8 1.2h.8m-.8 7.3h.8m-.8 .2h.8m-.8 2.2h.8m-.7-12.4h.8m-.8 1.9h.8m-.8 .1h.8m-.8 9h.8m-.7-11h.8m-.8 8h.8m-.7-7.7h.8m-.8 .3h.8m-.8 5.8h.8m-.8 2.4h.8m-.8 2.2h.8m-.7-10.4h.8m-.8 .7h.8m-.8 1.4h.8m-.8 2.7h.8m-.8 1.8h.8m-.7-2.5h.8m-.8 1.9h.8m-.8 2.6h.8m-.7-2.3h.8m-.7-2.8h.8m-.8 3.2h.8m-.8 2.8h.8m-.7-5.8h.8m-.6-3.8h.8m-.8 4.1h.8m-.8 1.5h.8m-.8 6.2h.8m-.7 .6h.8m-.7-9.2h.8m-.8 5.4h.8m-.7-7.7h.8m-.7 1.7h.8m-.7-4.1h.8m-.8 4.6h.8m-.8 1.8h.8m-.8 6.3h.8m-.6-10.1h.8m-.8 7h.8m-.7-7.1h.8m-.8 2.8h.8m-.8 6.5h.8m-.7-11.8h.8m-.8 1h.8m-.8 3.5h.8m-.8 7.2h.8m-.7-11.1h.8m-.8 2.3h.8m-.8 10.3h.8m-.7-5.8h.8m-.7-5.2h.8m-.7 4.6h.8m-.7-2.5h.8m-.7-4.7h.8m-.8 2.3h.8m-.6-1.7h.8m-.8 .6h.8m-.8 11.9h.8m-.7-9h.8m-.8 1.9h.8m-.8 1.1h.8m-.7-2.1h.8m-.8 2.5h.8m-.7-7.1h.8m-.8 1.4h.8m-.7 7.1h.8m-.8 2.1h.8m-.7-5.3h.8m-.8 2.6h.8m-.7-8.3h.8m-.8 1.8h.8m-.8 2.8h.8m-.8 5.8h.8m-.8 1.5h.8m-.6-10.1h.8m-.7-.9h.8m-.7-1.1h.8m-.8 2.4h.8m-.8 6.1h.8m-.8 .7h.8m-.7-8.9h.8m-.8 2.1h.8m-.7 .5h.8m-.8 5.2h.8m-.7-8.3h.8m-.8 4.6h.8m-.8 2.1h.8m-.7-4.6h.8m-.8 4.3h.8m-.7-2.3h.8m-.8 2.6h.8m-.8 1.1h.8m-.7-6.1h.8m-.8 .3h.8m-.8 1.7h.8m-.8 6.3h.8m-.7-10h.8m-.8 4.5h.8m-.8 3.3h.8m-.7-4.5h.8m-.8 1.9h.8m-.8 .3h.8m-.8 6h.8m-.7-12.1h.8m-.8 2.3h.8m-.8 3.8h.8m-.7-2.4h.8m-.8 .8h.8m-.8 2.1h.8m-.7 4.3h.8m-.7-5.1h.8m-.8 1.1h.8m-.8 1.4h.8m-.7 .9h.8m-.7-4.2h.8m-.8 .9h.8m-.8 4h.8m-.8 2.6h.8m-.7-12.8h.8m-.8 4.7h.8m-.8 5.5h.8m-.8 2h.8m-.7-13h.8m-.7 3.4h.8m-.8 11.9h.8m-.7-12.8h.8m-.7 8.8h.8m-.8 .5h.8m-.7-6.1h.8m-.7-4.5h.8m-.7 2h.8m-.8 2.8h.8m-.7-3.3h.8m-.8 3.1h.8m-.8 1.5h.8m-.7-3.6h.8m-.8 3.3h.8m-.7-7.3h.8m-.8 6.8h.8m-.7 4h.8m-.8 3.5h.8m-.7-14.2h.8m-.8 1h.8m-.8 .9h.8m-.8 3.3h.8m-.8 1h.8m-.7-4.4h.8m-.7-2.2h.8m-.8 10.7h.8m-.7-10.1h.8m-.8 1.4h.8m-.7 5.9h.8m-.8 4.2h.8m-.8 5h.8m-.7-15.3h.8m-.7 1h.8m-.8 .7h.8m-.8 3.7h.8m-.8 1.6h.8m-.8 4.4h.8m-.7 3.1h.8m-.7-14.2h.8m-.8 2.4h.8m-.8 4.7h.8m-.7-8.5h.8m-.8 3.7h.8m-.7-4.7h.8m-.8 .4h.8m-.8 9.9h.8m-.8 3.3h.8m-.7-9.2h.8m-.7 2.5h.8m-.8 2h.8m-.8 3.1h.8m-.7-10.8h.8m-.8 1.1h.8m-.8 3h.8m-.8 .4h.8m-.8 4.1h.8m-.6-1.4h.8m-.8 1.6h.8m-.8 5.8h.8m-.7-11.3h.8m-.8 .8h.8m-.7-5.4h.8m-.8 7.1h.8m-.8 4.2h.8m-.8 2.4h.8m-.8 1.3h.8m-.8 .2h.8m-.7-12h.8m-.8 4.1h.8m-.8 4.9h.8m-.7 3.3h.8m-.7-5.1h.8m-.7-8.5h.8m-.8 1.5h.8m-.8 3.2h.8m-.8 8h.8m-.7-1.2h.8m-.8 .5h.8m-.7-8h.8m-.8 1.5h.8m-.7-1.8h.8m-.7-7.1h.8m-.8 5.6h.8m-.8 1.5h.8m-.8 1.6h.8m-.8 3.2h.8m-.7-10.5h.8m-.8 1.3h.8m-.8 1.3h.8m-.8 .1h.8m-.8 .1h.8m-.8 1.7h.8m-.8 3.3h.8m-.8 2.8h.8m-.8 4.9h.8m-.7-13.6h.8m-.8 4.8h.8m-.8 1.3h.8m-.8 .2h.8m-.7-6.5h.8m-.8 1.1h.8m-.8 6.1h.8m-.8 3.9h.8m-.8 1h.8m-.7-14.1h.8m-.8 2.7h.8m-.8 2h.8m-.8 4.3h.8m-.8 2.8h.8m-.7-12.5h.8m-.8 .7h.8m-.8 .4h.8m-.8 .1h.8m-.8 .1h.8m-.8 3.8h.8m-.8 .9h.8m-.8 8.5h.8m-.7-12.3h.8m-.8 1.6h.8m-.8 .3h.8m-.8 .7h.8m-.8 2.4h.8m-.8 2.2h.8m-.8 4.9h.8m-.7-13.8h.8m-.8 1.3h.8m-.8 2.4h.8m-.8 .1h.8m-.8 1.7h.8m-.8 .8h.8m-.8 4.4h.8m-.7-9h.8m-.8 1.2h.8m-.8 5.9h.8m-.8 .9h.8m-.8 .5h.8m-.7-11.2h.8m-.8 1.7h.8m-.8 .7h.8m-.8 3.1h.8m-.8 .9h.8m-.8 8.2h.8m-.8 1.3h.8m-.7-14.4h.8m-.8 .3h.8m-.8 .6h.8m-.8 6.1h.8m-.8 7.2h.8m-.8 2.9h.8m-.7-17h.8m-.8 5.1h.8m-.8 1.3h.8m-.8 1.4h.8m-.7-8.6h.8m-.8 .7h.8m-.8 .3h.8m-.8 5.5h.8m-.8 5.4h.8m-.7-11.5h.8m-.8 .8h.8m-.8 2h.8m-.8 7.4h.8m-.7-6.7h.8m-.8 1.8h.8m-.7-5.7h.8m-.8 4.3h.8m-.8 1.5h.8m-.8 1.7h.8m-.7-6.8h.8m-.8 13.2h.8m-.7-6.8h.8m-.8 .9h.8m-.8 2.9h.8m-.7-6.8h.8m-.8 .7h.8m-.8 3.6h.8m-.8 2h.8m-.7-6.7h.8m-.8 .4h.8m-.8 .3h.8m-.8 .5h.8m-.8 .3h.8m-.8 3.1h.8m-.8 2.1h.8m-.7-10.8h.8m-.8 .6h.8m-.8 1h.8m-.8 1.8h.8m-.7-2.7h.8m-.8 .4h.8m-.8 1h.8m-.8 .1h.8m-.8 3.7h.8m-.8 1.7h.8m-.8 3.1h.8m-.7-9.9h.8m-.8 .1h.8m-.8 .4h.8m-.8 .3h.8m-.8 2.3h.8m-.8 1h.8m-.8 1.7h.8m-.8 1.8h.8m-.8 2h.8m-.7-10.6h.8m-.8 2.8h.8m-.8 2.6h.8m-.8 3.3h.8m-.8 2.2h.8m-.7-10.7h.8m-.8 .6h.8m-.8 .2h.8m-.8 8.1h.8m-.8 .5h.8m-.8 2.4h.8m-.8 .4h.8m-.7-10.6h.8m-.8 .5h.8m-.8 2.9h.8m-.8 2.3h.8m-.8 5h.8m-.7-6h.8m-.8 .9h.8m-.7-7.5h.8m-.8 4.2h.8m-.8 1.8h.8m-.8 5.1h.8m-.8 5.4h.8m-.8 1h.8m-.7-16.6h.8m-.8 2.3h.8m-.8 .3h.8m-.8 3.5h.8m-.8 .3h.8m-.8 .3h.8m-.8 7.5h.8m-.7-14.2h.8m-.8 2.8h.8m-.8 2h.8m-.8 5.9h.8m-.8 4.3h.8m-.7-12.1h.8m-.8 2.9h.8m-.8 7.1h.8m-.8 3.2h.8m-.7-16.2h.8m-.8 2.9h.8m-.8 6.5h.8m-.7-5.7h.8m-.8 1.2h.8m-.8 4.8h.8m-.8 2h.8m-.7-12h.8m-.8 1.5h.8m-.8 .4h.8m-.8 2.5h.8m-.7-5.1h.8m-.8 4h.8m-.8 .1h.8m-.8 2.6h.8m-.8 .6h.8m-.8 5.4h.8m-.8 .7h.8m-.7-12.8h.8m-.8 1.1h.8m-.8 .9h.8m-.8 .4h.8m-.8 1.7h.8m-.8 3.9h.8m-.7-3.9h.8m-.8 .9h.8m-.8 .5h.8m-.8 1.1h.8m-.8 1.1h.8m-.7-6.6h.8m-.8 1.1h.8m-.8 3.3h.8m-.8 .1h.8m-.8 1.4h.8m-.8 6.2h.8m-.8 1.4h.8m-.7-13.2h.8m-.8 1.3h.8m-.8 3.6h.8m-.8 6.6h.8m-.7-6.3h.8m-.8 .8h.8m-.8 .7h.8m-.7-7.6h.8m-.8 1.3h.8m-.8 2h.8m-.7-3.3h.8m-.8 2.3h.8m-.8 .7h.8m-.8 1.5h.8m-.8 3.3h.8m-.8 1.9h.8m-.7-7.6h.8m-.8 1.9h.8m-.8 7.9h.8m-.7-12.7h.8m-.8 3.1h.8m-.8 1.7h.8m-.8 .3h.8m-.8 .7h.8m-.8 2.1h.8m-.8 9.4h.8m-.7-15.1h.8m-.8 .6h.8m-.8 1.3h.8m-.8 2.4h.8m-.8 1.1h.8m-.8 .4h.8m-.8 3.5h.8m-.8 .5h.8m-.7-11.3h.8m-.8 4.3h.8m-.8 .4h.8m-.7-5.2h.8m-.8 1.4h.8m-.8 1.6h.8m-.8 2.2h.8m-.8 .8h.8m-.8 1.9h.8m-.8 1h.8m-.8 .7h.8m-.8 2h.8m-.7-11.7h.8m-.8 .3h.8m-.7-.3h.8m-.8 4.8h.8m-.8 1.6h.8m-.8 .1h.8m-.8 1.4h.8m-.8 4.4h.8m-.7-12h.8m-.8 1.2h.8m-.8 1.4h.8m-.8 .7h.8m-.8 1.3h.8m-.8 .1h.8m-.8 9.1h.8m-.8 .1h.8m-.8 2.3h.8m-.7-15.6h.8m-.8 .3h.8m-.8 2.3h.8m-.8 4.2h.8m-.8 .5h.8m-.8 2.1h.8m-.7-10.8h.8m-.8 1.7h.8m-.8 .7h.8m-.8 2.4h.8m-.8 .3h.8m-.8 4.2h.8m-.8 4.1h.8m-.7-12.1h.8m-.8 .8h.8m-.8 1.8h.8m-.8 4.5h.8m-.7-8.1h.8m-.8 3.8h.8m-.8 .7h.8m-.8 1.9h.8m-.8 1.7h.8m-.8 1h.8m-.8 .4h.8m-.8 2.2h.8m-.8 .7h.8m-.7-8.4h.8m-.8 5.4h.8m-.7-9.3h.8m-.8 5.9h.8m-.8 3.4h.8m-.8 2.8h.8m-.8 6.4h.8m-.7-14.2h.8m-.8 6.2h.8m-.7-10.3h.8m-.8 1.3h.8m-.8 .5h.8m-.7-.1h.8m-.8 .9h.8m-.8 6.7h.8m-.8 3.5h.8m-.7-11.9h.8m-.8 2.8h.8m-.8 4.3h.8m-.8 4h.8m-.8 2.8h.8m-.7-6.2h.8m-.7-8.6h.8m-.8 3.8h.8m-.8 .6h.8m-.8 5.9h.8m-.8 .1h.8m-.7-9.8h.8m-.8 .2h.8m-.8 8h.8m-.7-4h.8m-.8 1.2h.8m-.8 1h.8m-.8 10.2h.8m-.7-16.9h.8m-.8 4.1h.8m-.8 1.4h.8m-.8 12.3h.8m-.7-17.7h.8m-.8 16.9h.8m-.7-16.5h.8m-.8 11h.8m-.8 1.9h.8m-.8 .1h.8m-.7-14.2h.8m-.8 2h.8m-.8 1.4h.8m-.8 5h.8m-.8 .7h.8m-.7-7.1h.8m-.8 .1h.8m-.8 4.3h.8m-.7-1.9h.8m-.8 5.1h.8m-.7-6.5h.8m-.8 1.3h.8m-.8 1.7h.8m-.7-1.4h.8m-.8 3.6h.8m-.8 7.2h.8m-.8 1.6h.8m-.7-14.7h.8m-.8 .4h.8m-.8 .5h.8m-.8 12.1h.8m-.7-13.5h.8m-.8 2.1h.8m-.8 6.8h.8m-.8 1.3h.8m-.7-8.3h.8m-.8 2.6h.8m-.8 3.6h.8m-.8 1.5h.8m-.8 1h.8m-.8 3.1h.8m-.7-15h.8m-.8 1.3h.8m-.8 .2h.8m-.8 8h.8m-.8 8.4h.8m-.7-15.5h.8m-.8 7.5h.8m-.8 1.5h.8m-.7-8.8h.8m-.8 7.7h.8m-.8 2.7h.8m-.7-12.4h.8m-.8 1.6h.8m-.8 13.4h.8m-.7-12.8h.8m-.8 2h.8m-.8 4.5h.8m-.8 .4h.8m-.8 6.9h.8m-.7-5h.8m-.8 2.3h.8m-.7-14.6h.8m-.8 .4h.8m-.8 1.1h.8m-.8 8.3h.8m-.7-8.5h.8m-.8 2.5h.8m-.8 .9h.8m-.8 2.7h.8m-.8 1.1h.8m-.8 2.1h.8m-.7-6.6h.8m-.8 1.3h.8m-.8 .2h.8m-.8 .4h.8m-.8 6h.8m-.7-11.1h.8m-.8 3.7h.8m-.8 1.6h.8m-.8 .4h.8m-.8 6.6h.8m-.7-10.9h.8m-.8 3.9h.8m-.8 4h.8m-.8 2h.8m-.7 2.7h.8m-.7-11.7h.8m-.8 3.1h.8m-.7-3.9h.8m-.7-1.9h.8m-.8 1.1h.8m-.8 .1h.8m-.8 .7h.8m-.8 15h.8m-.7-11h.8m-.8 1.8h.8m-.8 2h.8m-.7-9.7h.8m-.8 12.5h.8m-.7-11.4h.8m-.7-1.4h.8m-.8 .1h.8m-.8 .9h.8m-.7-.1h.8m-.8 1.1h.8m-.8 3.9h.8m-.7-2.1h.8m-.8 .9h.8m-.8 .9h.8m-.8 13.4h.8m-.7-12.6h.8m-.8 2.8h.8m-.8 .3h.8m-.8 2.2h.8m-.7-8.2h.8m-.6 .1h.8m-.8 3.8h.8m-.8 4.7h.8m-.8 4.6h.8m-.7-16.7h.8m-.8 .1h.8m-.8 3.1h.8m-.8 .7h.8m-.8 1.9h.8m-.8 1.1h.8m-.8 1.4h.8m-.7-8.5h.8m-.8 4.5h.8m-.8 3.1h.8m-.8 3.9h.8m-.8 1.3h.8m-.7-10.7h.8m-.8 2.1h.8m-.8 3.2h.8m-.8 6.7h.8m-.8 1.8h.8m-.7-11.9h.8m-.7-3.4h.8m-.8 3.5h.8m-.7 3.7h.8m-.8 .5h.8m-.8 .4h.8m-.8 1.8h.8m-.7-9.8h.8m-.8 5.7h.8m-.8 .3h.8m-.7-6.4h.8m-.8 1.3h.8m-.8 4h.8m-.8 .8h.8m-.8 5.6h.8m-.7-10.6h.8m-.8 2.7h.8m-.8 3.4h.8m-.8 1.9h.8m-.8 .2h.8m-.7 1h.8m-.7-8.8h.8m-.8 2.6h.8m-.8 8.8h.8m-.8 4.2h.8m-.7-16.4h.8m-.8 2.8h.8m-.8 5.8h.8m-.7-8.5h.8m-.8 .1h.8m-.8 3.2h.8m-.8 4.6h.8m-.8 2.9h.8m-.8 3.1h.8m-.6-6.2h.8m-.8 2.1h.8m-.8 .5h.8m-.8 .3h.8m-.7-9.4h.8m-.8 7.6h.8m-.7-6.5h.8m-.8 6.6h.8m-.7-5.6h.8m-.8 2.8h.8m-.8 .1h.8m-.8 2.7h.8m-.8 7.6h.8m-.7-7.6h.8m-.7-7.1h.8m-.8 12.6h.8m-.7-7.2h.8m-.8 6.5h.8m-.7-12.6h.8m-.8 2.2h.8m-.8 .2h.8m-.8 13.1h.8m-.7-17.1h.8m-.7 5h.8m-.8 .4h.8m-.7-4.9h.8m-.8 .7h.8m-.8 3.5h.8m-.8 1.4h.8m-.7 9.4h.8m-.7-10.5h.8m-.8 1.2h.8m-.8 3.1h.8m-.8 .5h.8m-.5-3.9h.8m-.7-1h.8m-.8 8.4h.8m-.6-13.2h.8m-.8 3h.8m-.8 2.6h.8m-.8 1.2h.8m-.8 .3h.8m-.8 8.4h.8m-.7-11.4h.8m-.8 11.5h.8m-.7-11.6h.8m-.8 7h.8m-.7-8.7h.8m-.7-1h.8m-.8 10.9h.8m-.7-8.3h.8m-.8 4.7h.8m-.8 1h.8m-.8 4.8h.8m-.8 1.4h.8m-.7-14.4h.8m-.7-1.8h.8m-.8 .8h.8m-.8 12.6h.8m-.8 1.2h.8m-.7-14.1h.8m-.8 12.4h.8m-.8 2.1h.8m-.7-14h.8m-.8 13.7h.8m-.7-5.9h.8m-.7-4h.8m-.7-4h.8m-.8 2.3h.8m-.8 7.5h.8m-.7-8h.8m-.8 4.2h.8m-.7-5.7h.8m-.8 2h.8m-.8 5.6h.8m-.7-6.9h.8m-.8 1.3h.8m-.7 4.8h.8m-.6-7.7h.8m-.8 2.7h.8m-.8 .7h.8m-.8 1h.8m-.8 3.4h.8m-.8 4.4h.8m-.7-11.5h.8m-.8 17.6h.8m-.7-17.5h.8m-.8 5.4h.8m-.8 5.6h.8m-.8 1.9h.8m-.7-13.8h.8m-.8 3.6h.8m-.8 4h.8m-.6 3.6h.8m-.8 1.1h.8m-.8 .7h.8m-.7 2.1h.8m-.7-9.2h.8m-.5 .2h.8m-.7-.1h.8m-.8 1.3h.8m-.7-1h.8m-.7-2.7h.8m-.8 6.8h.8m-.6-10.7h.8m-.8 10.5h.8m-.7-4.3h.8m-.7-3.4h.8m-.8 5h.8m-.4 4.8h.8m-.4-9.9h.8m-.8 7.5h.8m-.6 5.1h.8m-.3-.1h.8m-.5-15h.8" stroke="#3b4ea6" stroke-width="0.8" fill="none"/>
<path d="M328.6 200.9h.8m-.5-8h.8m-.8 7.5h.8m-.8 3.3h.8m-.7-2.9h.8m-.7-3.4h.8m-.7-8.9h.8m-.8 1.9h.8m-.8 2.1h.8m-.8 5.6h.8m-.7-2.6h.8m-.8 7.2h.8m-.8 2.1h.8m-.7-9.6h.8m-.8 9.2h.8m-.6-11.5h.8m-.8 3.5h.8m-.8 .6h.8m-.8 3.2h.8m-.7 4.6h.8m-.7-10.4h.8m-.6 4h.8m-.7 4h.8m-.8 2h.8m-.7-9.3h.8m-.8 3.8h.8m-.8 7.3h.8m-.7-13.3h.8m-.8 3.2h.8m-.8 3.1h.8m-.8 2.5h.8m-.7-9.4h.8m-.8 8.9h.8m-.7-20.1h.8m-.8 6.1h.8m-.8 9.8h.8m-.7-4.9h.8m-.8 7.4h.8m-.8 4.4h.8m-.7-15.8h.8m-.8 4.1h.8m-.8 3h.8m-.7-7h.8m-.8 1.3h.8m-.8 5.9h.8m-.8 9.1h.8m-.8 1.9h.8m-.8 .1h.8m-.7-15.6h.8m-.8 2.5h.8m-.7 0h.8m-.8 4.9h.8m-.8 4.5h.8m-.7-8.3h.8m-.8 2h.8m-.8 4.4h.8m-.8 4.6h.8m-.7-16.7h.8m-.8 6.5h.8m-.8 4.5h.8m-.7-13.8h.8m-.8 5.9h.8m-.8 3.6h.8m-.8 3.4h.8m-.7-16.9h.8m-.8 9h.8m-.8 6.2h.8m-.8 3h.8m-.8 1.1h.8m-.8 4.2h.8m-.6-12.4h.8m-.8 3.4h.8m-.7-9.5h.8m-.8 5.7h.8m-.8 .7h.8m-.7-3.4h.8m-.8 .3h.8m-.8 2.6h.8m-.8 1.1h.8m-.8 5.6h.8m-.8 4.7h.8m-.7-13.6h.8m-.8 1.5h.8m-.8 .8h.8m-.7-10.9h.8m-.8 5.9h.8m-.8 10.7h.8m-.7-14.2h.8m-.8 19.1h.8m-.7-12.9h.8m-.8 8h.8m-.7-13.4h.8m-.8 5.7h.8m-.8 1.7h.8m-.8 1.8h.8m-.8 .6h.8m-.8 .4h.8m-.8 .7h.8m-.8 .7h.8m-.8 1.1h.8m-.7-8.1h.8m-.8 4.7h.8m-.8 4.3h.8m-.7-10h.8m-.8 9.1h.8m-.8 1.2h.8m-.7-13.6h.8m-.8 4.4h.8m-.8 4.2h.8m-.8 .5h.8m-.8 .2h.8m-.8 10.4h.8m-.7-20.5h.8m-.8 15.6h.8m-.8 3.2h.8m-.8 .8h.8m-.7-20.4h.8m-.8 7.5h.8m-.8 4.2h.8m-.8 4.3h.8m-.8 4.1h.8m-.7-19.2h.8m-.8 9.7h.8m-.8 4.6h.8m-.7-4.7h.8m-.8 2.6h.8m-.7-10.6h.8m-.8 5h.8m-.8 2.8h.8m-.8 9.4h.8m-.8 3.3h.8m-.7-22.3h.8m-.8 .8h.8m-.8 6.9h.8m-.8 8.7h.8m-.8 2.8h.8m-.7-15.4h.8m-.8 4.7h.8m-.8 4.6h.8m-.7-11.6h.8m-.8 6.6h.8m-.8 1h.8m-.8 1.2h.8m-.8 2.1h.8m-.8 2.3h.8m-.7-18.7h.8m-.8 20.4h.8m-.8 1.4h.8m-.7-20.7h.8m-.8 4.5h.8m-.8 13.7h.8m-.8 .7h.8m-.8 4.7h.8m-.7-21h.8m-.8 4.4h.8m-.8 1h.8m-.8 7.9h.8m-.7-12.4h.8m-.8 .7h.8m-.8 12.8h.8m-.8 4.1h.8m-.7-13.4h.8m-.7-9.4h.8m-.8 10.5h.8m-.8 4h.8m-.8 6.6h.8m-.7-14.3h.8m-.8 .6h.8m-.8 6.3h.8m-.8 3h.8m-.8 1.7h.8m-.7-4h.8m-.8 4.9h.8m-.7-17.1h.8m-.8 7.4h.8m-.8 .7h.8m-.8 2.7h.8m-.8 5.4h.8m-.8 6.5h.8m-.7-17h.8m-.8 .7h.8m-.8 .7h.8m-.8 6.7h.8m-.8 4.4h.8m-.7-14.5h.8m-.8 2.6h.8m-.8 .8h.8m-.8 1h.8m-.8 3.6h.8m-.8 .6h.8m-.8 4.9h.8m-.8 .3h.8m-.7-13.9h.8m-.8 1.2h.8m-.8 2.4h.8m-.8 6.1h.8m-.8 .5h.8m-.8 .5h.8m-.7-8.8h.8m-.8 3.3h.8m-.8 .7h.8m-.8 .2h.8m-.8 .6h.8m-.8 4.1h.8m-.7-7.4h.8m-.8 .9h.8m-.8 4.2h.8m-.8 .2h.8m-.7-4.7h.8m-.8 2.7h.8m-.8 10.8h.8m-.7-16.1h.8m-.8 .8h.8m-.7-6.5h.8m-.8 2.3h.8m-.8 2.6h.8m-.7-1.1h.8m-.8 7.7h.8m-.8 7h.8m-.8 1.3h.8m-.7-17.4h.8m-.8 7.2h.8m-.8 .1h.8m-.8 .4h.8m-.8 5.6h.8m-.8 5.4h.8m-.8 3h.8m-.7-12.3h.8m-.7-3.8h.8m-.8 5.7h.8m-.8 .8h.8m-.8 5.2h.8m-.7-9.8h.8m-.8 .5h.8m-.8 1.3h.8m-.8 12.9h.8m-.7-25h.8m-.8 4.6h.8m-.8 2.3h.8m-.8 .4h.8m-.8 1.5h.8m-.8 1.2h.8m-.8 2.6h.8m-.8 1.6h.8m-.8 .2h.8m-.8 3.8h.8m-.8 2.6h.8m-.7-15.3h.8m-.8 .9h.8m-.8 .1h.8m-.8 3.5h.8m-.8 4h.8m-.7-6.4h.8m-.8 .1h.8m-.8 2.1h.8m-.7-4.1h.8m-.8 6.7h.8m-.8 1.8h.8m-.7-11.9h.8m-.8 .4h.8m-.8 6.1h.8m-.8 .3h.8m-.8 .1h.8m-.8 1.8h.8m-.8 .9h.8m-.7-14.7h.8m-.8 6.2h.8m-.8 .7h.8m-.8 2.9h.8m-.8 3h.8m-.8 1.3h.8m-.8 .2h.8m-.8 2.6h.8m-.8 4.4h.8m-.8 2.1h.8m-.8 3.1h.8m-.7-19.2h.8m-.8 2h.8m-.8 4.3h.8m-.8 1.1h.8m-.8 3h.8m-.7-3.9h.8m-.8 2.1h.8m-.8 2.3h.8m-.8 5.8h.8m-.7-16.2h.8m-.8 .7h.8m-.8 .4h.8m-.8 3.5h.8m-.8 1.2h.8m-.8 6.2h.8m-.8 2.7h.8m-.8 3.3h.8m-.7-21.2h.8m-.8 1.4h.8m-.8 2.7h.8m-.8 .8h.8m-.8 1.2h.8m-.8 2.9h.8m-.8 4.6h.8m-.8 3.4h.8m-.7-20.7h.8m-.8 .4h.8m-.8 5.1h.8m-.8 2.2h.8m-.8 3.6h.8m-.8 4.7h.8m-.8 4.7h.8m-.7-15.1h.8m-.8 2h.8m-.8 3.4h.8m-.8 3.7h.8m-.8 2.9h.8m-.8 2h.8m-.8 1h.8m-.8 .7h.8m-.8 .2h.8m-.7-16.2h.8m-.8 4.3h.8m-.8 1.1h.8m-.8 8.1h.8m-.8 5.9h.8m-.7-19.7h.8m-.8 .8h.8m-.8 4h.8m-.8 .3h.8m-.8 .1h.8m-.8 .1h.8m-.8 3.1h.8m-.8 .1h.8m-.8 2.3h.8m-.7-10.3h.8m-.8 2h.8m-.8 .2h.8m-.7-8.2h.8m-.8 5h.8m-.8 1h.8m-.8 5.2h.8m-.8 4.4h.8m-.8 3h.8m-.8 .1h.8m-.8 5.2h.8m-.7-16.7h.8m-.8 1.3h.8m-.8 1.4h.8m-.8 1.1h.8m-.8 3.8h.8m-.7-11.6h.8m-.8 6h.8m-.8 1.4h.8m-.8 1.4h.8m-.8 .3h.8m-.8 1.7h.8m-.8 .5h.8m-.8 5.8h.8m-.7-18.2h.8m-.8 6.4h.8m-.8 4.1h.8m-.7-12.1h.8m-.8 4.2h.8m-.8 .1h.8m-.8 9.3h.8m-.8 1.5h.8m-.8 .4h.8m-.8 5.7h.8m-.8 3.9h.8m-.7-17h.8m-.8 3.2h.8m-.8 1.1h.8m-.7-11.1h.8m-.8 3.2h.8m-.8 4.6h.8m-.8 9h.8m-.8 1.3h.8m-.8 2.9h.8m-.7-20.2h.8m-.8 .7h.8m-.8 .9h.8m-.8 .8h.8m-.8 2.1h.8m-.8 6.4h.8m-.8 2h.8m-.8 .2h.8m-.8 11.4h.8m-.7-22.2h.8m-.8 2.8h.8m-.8 4.1h.8m-.8 2.5h.8m-.8 2.3h.8m-.7-12.5h.8m-.8 1.8h.8m-.8 1.2h.8m-.8 4.2h.8m-.8 .4h.8m-.8 5.5h.8m-.7-9.1h.8m-.8 3.2h.8m-.8 4.2h.8m-.8 1.7h.8m-.8 3.8h.8m-.7-20.9h.8m-.8 4.9h.8m-.8 .1h.8m-.8 .6h.8m-.8 .7h.8m-.8 2.9h.8m-.8 1.9h.8m-.8 .4h.8m-.8 3.9h.8m-.7-13.2h.8m-.8 .1h.8m-.8 2.6h.8m-.8 2.5h.8m-.8 1h.8m-.7-8.6h.8m-.8 1.8h.8m-.8 3.8h.8m-.8 5.3h.8m-.8 5h.8m-.8 2.7h.8m-.7-17.6h.8m-.8 1.5h.8m-.8 .5h.8m-.8 3.6h.8m-.8 1.9h.8m-.8 1.6h.8m-.8 3h.8m-.8 .7h.8m-.8 .4h.8m-.8 8.4h.8m-.7-3.2h.8m-.7-16.5h.8m-.8 .9h.8m-.8 2.8h.8m-.8 3.3h.8m-.8 5.6h.8m-.8 3.8h.8m-.7-16.7h.8m-.8 7.1h.8m-.8 .9h.8m-.8 1.9h.8m-.8 2.3h.8m-.7-6.7h.8m-.8 6.3h.8m-.8 1.2h.8m-.8 3.5h.8m-.8 .5h.8m-.8 2.9h.8m-.7-18.2h.8m-.8 2.5h.8m-.8 2.2h.8m-.8 1.1h.8m-.8 2.1h.8m-.8 1.9h.8m-.8 4.2h.8m-.8 .4h.8m-.8 8.2h.8m-.7-23.6h.8m-.8 3.1h.8m-.8 1h.8m-.8 12.3h.8m-.7-16.9h.8m-.8 5h.8m-.8 2.2h.8m-.8 1.3h.8m-.7-6h.8m-.8 9.5h.8m-.8 .6h.8m-.7-10.5h.8m-.8 .5h.8m-.8 1.4h.8m-.8 14.1h.8m-.7-17.4h.8m-.8 .3h.8m-.8 1.7h.8m-.8 4.4h.8m-.8 5.4h.8m-.7-14.9h.8m-.8 7h.8m-.8 1h.8m-.8 4.2h.8m-.8 4.1h.8m-.8 1.8h.8m-.8 1.1h.8m-.7-19.9h.8m-.8 .4h.8m-.8 2h.8m-.8 3.4h.8m-.8 3.7h.8m-.7-8.7h.8m-.8 4h.8m-.8 3.9h.8m-.8 .7h.8m-.8 1.4h.8m-.8 2h.8m-.8 1.5h.8m-.8 9.9h.8m-.8 .7h.8m-.8 .4h.8m-.7-25.1h.8m-.8 10.2h.8m-.8 4.1h.8m-.8 2.7h.8m-.8 1.3h.8m-.7-14.8h.8m-.8 .6h.8m-.8 4.6h.8m-.8 9.7h.8m-.7-17.2h.8m-.8 1.4h.8m-.8 .3h.8m-.8 .2h.8m-.8 .6h.8m-.8 .9h.8m-.8 .2h.8m-.8 2.8h.8m-.8 4.5h.8m-.8 1.6h.8m-.7-13.3h.8m-.8 5.8h.8m-.8 1.4h.8m-.8 1.1h.8m-.8 2.4h.8m-.8 8.1h.8m-.7-17.4h.8m-.8 4h.8m-.8 .4h.8m-.8 1h.8m-.8 1.1h.8m-.8 1.3h.8m-.7-5.5h.8m-.8 .1h.8m-.8 9.8h.8m-.8 .9h.8m-.7-13h.8m-.8 .4h.8m-.8 1.9h.8m-.8 .4h.8m-.8 6.9h.8m-.8 .9h.8m-.8 1.3h.8m-.7-10.9h.8m-.8 1.1h.8m-.8 1.4h.8m-.8 1.2h.8m-.8 1.4h.8m-.8 1.2h.8m-.7-9.3h.8m-.8 4.8h.8m-.8 5.1h.8m-.8 .7h.8m-.8 .3h.8m-.8 6.6h.8m-.8 1.1h.8m-.7-14.9h.8m-.8 1.4h.8m-.7-3.4h.8m-.8 1.7h.8m-.8 1.4h.8m-.8 1.1h.8m-.8 1.1h.8m-.8 2.4h.8m-.8 .6h.8m-.8 1.1h.8m-.8 12.4h.8m-.7-20.4h.8m-.8 5h.8m-.8 2.2h.8m-.8 .3h.8m-.8 4.5h.8m-.7-14.3h.8m-.8 2.9h.8m-.8 2h.8m-.7-4.5h.8m-.8 4.7h.8m-.7-.8h.8m-.8 .3h.8m-.8 2.9h.8m-.8 .4h.8m-.8 2.2h.8m-.8 .3h.8m-.8 3.8h.8m-.8 .3h.8m-.8 7h.8m-.7-21.9h.8m-.8 3.4h.8m-.8 4.7h.8m-.8 .2h.8m-.8 1.2h.8m-.8 6.2h.8m-.8 .9h.8m-.7-12.2h.8m-.8 1.7h.8m-.8 4.3h.8m-.8 6h.8m-.7-15.3h.8m-.8 2.1h.8m-.8 1.5h.8m-.8 .6h.8m-.8 1.5h.8m-.8 1.2h.8m-.8 1.1h.8m-.8 1.6h.8m-.8 11.8h.8m-.7-22.7h.8m-.8 2.3h.8m-.8 2.4h.8m-.8 6.6h.8m-.8 7h.8m-.7-17.5h.8m-.8 5.2h.8m-.8 2.5h.8m-.8 .1h.8m-.8 2.2h.8m-.8 .1h.8m-.7-8.7h.8m-.8 1.4h.8m-.8 1h.8m-.8 5.1h.8m-.8 2.8h.8m-.8 3.4h.8m-.8 1.6h.8m-.7-15.6h.8m-.8 4.6h.8m-.8 .3h.8m-.8 1.1h.8m-.8 .6h.8m-.8 12.3h.8m-.7-18.4h.8m-.8 .5h.8m-.8 7.8h.8m-.8 2.9h.8m-.7-9.5h.8m-.8 1.4h.8m-.8 3.7h.8m-.8 3.5h.8m-.8 1.8h.8m-.8 7.6h.8m-.7-21.8h.8m-.8 .1h.8m-.8 1.7h.8m-.8 5.2h.8m-.8 2.6h.8m-.8 .7h.8m-.8 1.8h.8m-.7-10h.8m-.8 5.9h.8m-.8 5.4h.8m-.8 3.5h.8m-.7-13h.8m-.8 .1h.8m-.8 .2h.8m-.8 2.2h.8m-.8 3.5h.8m-.8 4.6h.8m-.8 .7h.8m-.7-11.9h.8m-.8 1h.8m-.8 2.1h.8m-.8 1.8h.8m-.8 .7h.8m-.8 .7h.8m-.8 .1h.8m-.7-8.5h.8m-.8 4h.8m-.8 2.2h.8m-.8 1.7h.8m-.7-5.9h.8m-.8 1h.8m-.8 .4h.8m-.8 .1h.8m-.8 2.6h.8m-.8 3.9h.8m-.8 2.7h.8m-.8 1.8h.8m-.7-12.5h.8m-.8 .9h.8m-.8 2.2h.8m-.8 1.5h.8m-.8 .1h.8m-.8 2.7h.8m-.8 1.2h.8m-.8 .4h.8m-.8 .7h.8m-.8 6h.8m-.7-19.4h.8m-.8 1.8h.8m-.8 2.3h.8m-.8 3.9h.8m-.7-6.1h.8m-.8 2.5h.8m-.8 2.8h.8m-.8 8h.8m-.7-10.7h.8m-.8 1h.8m-.8 6.2h.8m-.7-8.2h.8m-.8 1.3h.8m-.8 .1h.8m-.8 .1h.8m-.8 5.4h.8m-.8 1h.8m-.8 6.7h.8m-.7-15h.8m-.8 1.7h.8m-.8 2.5h.8m-.8 2.6h.8m-.8 2.2h.8m-.8 2.4h.8m-.8 2.6h.8m-.7-14.4h.8m-.8 1.2h.8m-.8 7.2h.8m-.8 2.6h.8m-.8 .4h.8m-.8 .2h.8m-.7-10.4h.8m-.8 .1h.8m-.8 7.4h.8m-.8 3.6h.8m-.7-10.2h.8m-.8 4.3h.8m-.8 1.1h.8m-.8 4.9h.8m-.8 .6h.8m-.8 3.1h.8m-.8 9.9h.8m-.7-28.7h.8m-.8 1.5h.8m-.8 .4h.8m-.8 .2h.8m-.8 1.3h.8m-.8 1.2h.8m-.8 7.3h.8m-.7-9.6h.8m-.8 1.6h.8m-.8 1.5h.8m-.8 1.4h.8m-.8 4.3h.8m-.8 2.1h.8m-.7-13.1h.8m-.8 1.5h.8m-.8 .6h.8m-.8 1.4h.8m-.8 2.2h.8m-.8 .1h.8m-.8 1.1h.8m-.8 2.9h.8m-.8 .1h.8m-.8 3.9h.8m-.7-13.4h.8m-.8 4.7h.8m-.8 .2h.8m-.8 1.5h.8m-.8 3.4h.8m-.8 .7h.8m-.8 3h.8m-.7-4.5h.8m-.8 5h.8m-.8 2.1h.8m-.7-15.6h.8m-.8 6.1h.8m-.8 1h.8m-.8 7.3h.8m-.7-14.2h.8m-.8 7h.8m-.8 .7h.8m-.7-7.2h.8m-.8 3.7h.8m-.8 3.8h.8m-.8 3.1h.8m-.8 .1h.8m-.7-10h.8m-.8 2h.8m-.8 4.7h.8m-.8 2.6h.8m-.8 5.6h.8m-.8 4.6h.8m-.7-19.4h.8m-.8 .1h.8m-.8 .7h.8m-.8 9.4h.8m-.7-8.7h.8m-.8 1.5h.8m-.8 2.7h.8m-.8 6.1h.8m-.7-13.4h.8m-.8 1.4h.8m-.8 6.4h.8m-.8 4.1h.8m-.8 .6h.8m-.8 3.3h.8m-.8 1.3h.8m-.7-14.1h.8m-.8 .6h.8m-.8 2.9h.8m-.8 1.2h.8m-.8 3.8h.8m-.7-10.6h.8m-.8 1.4h.8m-.8 .2h.8m-.8 12.7h.8m-.7-15.7h.8m-.8 .5h.8m-.8 2.5h.8m-.8 4.4h.8m-.8 2.7h.8m-.7-9.4h.8m-.8 14.6h.8m-.7-12.4h.8m-.8 .3h.8m-.8 .7h.8m-.8 .2h.8m-.8 1h.8m-.8 .4h.8m-.8 3.7h.8m-.8 .3h.8m-.7-8.8h.8m-.8 4.3h.8m-.8 1.2h.8m-.8 1.1h.8m-.8 5.1h.8m-.7-11.9h.8m-.8 1.7h.8m-.8 4.1h.8m-.8 4.8h.8m-.7-8.3h.8m-.8 10.5h.8m-.8 1.7h.8m-.8 8.8h.8m-.7-22.5h.8m-.8 1.7h.8m-.8 3.5h.8m-.8 1.8h.8m-.8 1.8h.8m-.8 10h.8m-.7-17h.8m-.8 1h.8m-.8 2.2h.8m-.8 12.2h.8m-.7-14.1h.8m-.8 1.9h.8m-.8 2.4h.8m-.8 2.3h.8m-.8 1h.8m-.8 13h.8m-.7-21.3h.8m-.8 2.3h.8m-.8 1.3h.8m-.8 2.6h.8m-.7-9.7h.8m-.8 2.8h.8m-.8 .6h.8m-.8 11.1h.8m-.7-10.8h.8m-.8 .2h.8m-.8 1.5h.8m-.8 1.3h.8m-.8 .6h.8m-.8 3.9h.8m-.8 9.7h.8m-.7-19.4h.8m-.8 1.8h.8m-.8 .4h.8m-.8 .8h.8m-.8 .7h.8m-.8 4.6h.8m-.8 .9h.8m-.7-9.8h.8m-.7-1.4h.8m-.8 .2h.8m-.8 1.6h.8m-.8 2.8h.8m-.8 10.7h.8m-.7-13.5h.8m-.8 2.9h.8m-.8 .2h.8m-.8 .7h.8m-.8 .3h.8m-.8 5.8h.8m-.7-8.1h.8m-.8 .5h.8m-.8 2h.8m-.6-.3h.8m-.8 .4h.8" stroke="#ee2b2b" stroke-width="0.8" fill="none"/>
<text x="302.5" y="185.6" font-size="8.3" fill="#222">3'</text>
<line x1="362.1" y1="176.9" x2="362.1" y2="227.5" stroke="#555" stroke-width="0.7"/>
<line x1="362.1" y1="227.5" x2="410.5" y2="227.5" stroke="#555" stroke-width="0.7"/>
<line x1="360.3" y1="227.5" x2="362.1" y2="227.5" stroke="#555" stroke-width="0.5"/>
<text x="359.6" y="229.3" font-size="5.2" text-anchor="end" fill="#333">0.00</text>
<line x1="360.3" y1="215.15" x2="362.1" y2="215.15" stroke="#555" stroke-width="0.5"/>
<text x="359.6" y="216.95" font-size="5.2" text-anchor="end" fill="#333">0.25</text>
<line x1="360.3" y1="202.8" x2="362.1" y2="202.8" stroke="#555" stroke-width="0.5"/>
<text x="359.6" y="204.6" font-size="5.2" text-anchor="end" fill="#333">0.50</text>
<line x1="360.3" y1="190.45" x2="362.1" y2="190.45" stroke="#555" stroke-width="0.5"/>
<text x="359.6" y="192.25" font-size="5.2" text-anchor="end" fill="#333">0.75</text>
<line x1="360.3" y1="178.1" x2="362.1" y2="178.1" stroke="#555" stroke-width="0.5"/>
<text x="359.6" y="179.9" font-size="5.2" text-anchor="end" fill="#333">1.00</text>
<line x1="362.1" y1="227.5" x2="362.1" y2="229.3" stroke="#555" stroke-width="0.5"/>
<text x="362.1" y="234.5" font-size="5.2" text-anchor="middle" fill="#333">0.0</text>
<line x1="385.8" y1="227.5" x2="385.8" y2="229.3" stroke="#555" stroke-width="0.5"/>
<text x="385.8" y="234.5" font-size="5.2" text-anchor="middle" fill="#333">0.5</text>
<line x1="409.5" y1="227.5" x2="409.5" y2="229.3" stroke="#555" stroke-width="0.5"/>
<text x="409.5" y="234.5" font-size="5.2" text-anchor="middle" fill="#333">1.0</text>
<path d="M363 225h.8m-.8 .9h.8m-.7 .9h.8m-.7-.9h.8m-.2-.6h.8m-.8 1h.8m-.7-3.1h.8m-.8 1.4h.8m-.7 1.1h.8m-.7-2.8h.8m-.8 1.1h.8m-.7-.2h.8m-.7-.5h.8m-.7-.3h.8m-.7 1.3h.8m-.7-1.6h.8m-.6-.1h.8m-.7 .5h.8m-.7 1.5h.8m-.4 .6h.8m-.7-1.6h.8m-.8 1.4h.8m-.7-2.2h.8m-.8 1.8h.8m-.7-1.3h.8m-.8 .9h.8m-.7-1.9h.8m-.7-.6h.8m-.8 2.7h.8m-.7-2.6h.8m-.7-.7h.8m-.8 1.2h.8m-.5 .2h.8m-.8 1.2h.8m-.7-1.8h.8m-.8 2.4h.8m-.6-3.5h.8m-.8 2.5h.8m-.8 .1h.8m-.5-.8h.8m-.7-.9h.8m-.7-1.5h.8m-.8 2.2h.8m-.8 1h.8m-.6-3.1h.8m-.7 1.4h.8m-.8 .9h.8m-.7-.3h.8m-.7 .5h.8m-.5-.8h.8m-.5-.9h.8m-.7-2.6h.8m-.8 2.5h.8m-.7 1h.8m-.7-.8h.8m-.6-1.4h.8m-.8 1.8h.8m-.8 .1h.8m-.7-1.6h.8m-.8 1.6h.8m-.6-4h.8m-.8 1.9h.8m-.8 .4h.8m-.7 .7h.8m-.7-1.4h.8m-.8 .3h.8m-.6-2.2h.8m-.8 4.9h.8m-.6-2.2h.8m-.7 1.8h.8m-.7-5.2h.8m-.8 2.9h.8m-.7-2.7h.8m-.8 1.9h.8m-.7 1.6h.8m-.8 1.2h.8m-.7-3.8h.8m-.8 2.1h.8m-.6-3.2h.8m-.7 1.5h.8m-.8 3.4h.8m-.7-4.3h.8m-.8 .5h.8m-.8 3.3h.8m-.7-1.3h.8m-.7 .2h.8m-.7-3.6h.8m-.8 .1h.8m-.6-1h.8m-.8 4.4h.8m-.6-4h.8m-.8 3.5h.8m-.8 .2h.8m-.7-3.6h.8m-.8 1.5h.8m-.8 2.7h.8m-.7-4.2h.8m-.6-1h.8m-.8 2.2h.8m-.8 3.6h.8m-.7-4.2h.8m-.8 .5h.8m-.8 .7h.8m-.8 2.6h.8m-.7-3.7h.8m-.7-2.1h.8m-.8 2.1h.8m-.7 2.1h.8m-.5-3.8h.8m-.8 1.3h.8m-.7 2.4h.8m-.8 .1h.8m-.6 .2h.8m-.7-3.5h.8m-.8 2.4h.8m-.7 .7h.8m-.8 .3h.8m-.7-2.4h.8m-.8 1.9h.8m-.7 1h.8m-.5-1.3h.8m-.5-2.2h.8m-.8 1.5h.8m-.4-2.1h.8m-.7-.4h.8m-.8 1.5h.8m-.6-2.4h.8m-.8 .5h.8m-.8 4.1h.8m-.7-3.3h.8m-.8 1.8h.8m-.7-4.2h.8m-.8 4h.8m-.7 .3h.8m-.6 1h.8m-.6-6.2h.8m-.7 .7h.8m-.7-1.9h.8m-.8 .2h.8m-.8 3.5h.8m-.7-3.8h.8m-.8 5h.8m-.8 .2h.8m-.7-3.5h.8m-.7-1.2h.8m-.8 5h.8m-.6-3.2h.8m-.8 1h.8m-.8 2.1h.8m-.7-2.3h.8m-.8 3h.8m-.7-1.7h.8m-.7-2.5h.8m-.5-1.9h.8m-.8 3.1h.8m-.8 3.7h.8m-.7-7.1h.8m-.8 3.6h.8m-.8 2.6h.8m-.7-4.9h.8m-.7 5.2h.8m-.7-1.4h.8m-.6-1.8h.8m-.8 .5h.8m-.8 .2h.8m-.6-.5h.8m-.7 .2h.8m-.8 1.4h.8m-.7-3.4h.8m.1 1.7h.8m-.8 1.9h.8m-.6-3.8h.8m-.8 2.7h.8m-.6-4.1h.8m-.7 5.2h.8m-.7-1.1h.8m-.8 .5h.8m-.6-4.8h.8m-.8 2.7h.8m-.6-2.8h.8m-.7 .7h.8m-.5 1.6h.8m-.8 .9h.8m-.6-5.1h.8m-.6 4h.8m-.6-3.7h.8m-.8 5h.8m-.8 .9h.8m-.7-2.3h.8m-.7-3.4h.8m-.5-1.9h.8m-.5 6.5h.8m-.7-5.5h.8m-.8 4.7h.8m-.7 1.1h.8m-.7-1.2h.8m-.7-3.6h.8m-.8 1h.8m-.5-1.7h.8m-.6 1.1h.8m-.5-2.7h.8m-.8 4.3h.8m-.7-3.8h.8m-.7-.2h.8m-.8 1.5h.8m-.6-1.5h.8m-.8 1.5h.8m-.7 3.1h.8m-.7-6.2h.8m-.8 6.3h.8m-.7-5.4h.8m-.3 2.9h.8m-.8 2.5h.8m-.7 .9h.8m0-5h.8m-.7-3.4h.8m-.7 5.8h.8m-.7-7.5h.8m-.4 7.2h.8m-.6-5.3h.8m-.6-.9h.8m-.6 4.9h.8m-.6-2h.8m-.5 3.8h.8m-.6-4.6h.8m-.8 4.6h.8m-.5-10.1h.8m-.5 2.7h.8m.6 4.6h.8" stroke="#6a6a6a" stroke-width="0.8" fill="none"/>
<path d="M362.8 227.1h.8m-.5-.1h.8m-.7 .1h.8m-.7-.1h.8m-.8 .1h.8m-.5-.3h.8m-.8 .2h.8m-.7 0h.8m-.5-.1h.8m-.8 .1h.8m-.7-.2h.8m-.4 .2h.8m-.7 0h.8m-.6-.8h.8m-.8 .3h.8m-.8 .3h.8m-.7-.7h.8m-.7 .4h.8m-.7 .3h.8m-.8 .2h.8m-.8 .1h.8m-.7-.4h.8m-.8 .4h.8m-.7-1.2h.8m-.8 1.2h.8m-.7-.9h.8m-.5 .3h.8m-.8 .4h.8m-.8 .1h.8m-.6-.4h.8m-.7-1.4h.8m-.8 .6h.8m-.6 .6h.8m-.7-.1h.8m-.5 .6h.8m-.8 .1h.8m-.7-1.1h.8m-.8 .3h.8m-.8 .5h.8m-.8 .2h.8m-.7-1.7h.8m-.7 1.6h.8m-.7-1.9h.8m-.8 .9h.8m-.8 .8h.8m-.7-.3h.8m-.8 .3h.8m-.6 .5h.8m-.6 0h.8m-.7-.2h.8m-.5-.9h.8m-.7 .5h.8m-.7-.3h.8m-.8 .6h.8m-.7-.9h.8m-.7-.7h.8m-.7 1.4h.8m-.8 .5h.8m-.7-1.4h.8m-.7 1.4h.8m-.7-1h.8m-.6 .8h.8m-.7-3.5h.8m-.8 2h.8m-.8 .1h.8m-.6 .5h.8m-.6 1h.8m-.7-1.5h.8m-.7-.6h.8m-.8 .2h.8m-.8 1.5h.8m-.7 .3h.8m-.7-.2h.8m-.7-2.6h.8m-.6 1.1h.8m-.7-.9h.8m-.8 1.9h.8m-.5-3.8h.8m-.8 4.7h.8m-.7-3.2h.8m-.8 2h.8m-.6-.7h.8m-.5 1.4h.8m-.8 .5h.8m-.7-2.7h.8m-.8 .1h.8m-.6 0h.8m-.8 1.1h.8m-.8 .1h.8m-.8 1.2h.8m-.6-4.8h.8m-.8 4.4h.8m-.7-1.1h.8m-.8 .1h.8m-.8 .7h.8m-.6-3.7h.8m-.8 .4h.8m-.8 .8h.8m-.8 .1h.8m-.8 2.6h.8m-.7-1.1h.8m-.7-2.5h.8m-.6-.2h.8m-.8 .9h.8m-.8 3.3h.8m-.8 .3h.8m-.7-3.2h.8m-.8 2.1h.8m-.7-1.1h.8m-.7-.2h.8m-.8 1.7h.8m-.8 .6h.8m-.7-3.9h.8m-.8 2.8h.8m-.6-3.5h.8m-.8 4.7h.8m-.6-6h.8m-.7 .2h.8m-.6 4.1h.8m-.8 1.7h.8m-.7-2.8h.8m-.8 2h.8m-.7-3.1h.8m-.7-.2h.8m-.8 2.5h.8m-.8 .7h.8m-.6-1h.8m-.8 1.4h.8m-.7-.2h.8m-.8 .3h.8m-.7-2.2h.8m-.8 1.9h.8m-.8 .3h.8m-.7-1.6h.8m-.5 1.8h.8m-.6-3.3h.8m-.8 3.1h.8m-.6-.1h.8m-.7-.2h.8m-.7-5.6h.8m-.8 2.7h.8m-.8 .8h.8m-.8 .9h.8m-.7 1.6h.8m-.7-7.3h.8m-.8 3.4h.8m-.8 3.8h.8m-.7-5.6h.8m-.8 5.8h.8m-.7-4.1h.8m-.8 2.4h.8m-.6-1h.8m-.7 .7h.8m-.8 .7h.8m-.7-3.1h.8m-.8 4.2h.8m-.8 .2h.8m-.5-1.7h.8m-.8 1.8h.8m-.7-2.6h.8m-.8 1.8h.8m-.7-4.9h.8m-.8 3.1h.8m-.8 2.1h.8m-.8 .2h.8m-.7-2.8h.8m-.8 .3h.8m-.7-.8h.8m-.8 3.6h.8m-.6-6.3h.8m-.8 5h.8m-.7 .3h.8m-.6-.5h.8m-.7-5.2h.8m-.8 6.8h.8m-.7-7h.8m-.8 3.8h.8m-.8 1.6h.8m-.8 1.4h.8m-.7-2.9h.8m-.7-4.3h.8m-.8 6.6h.8m-.6-2.8h.8m-.7-4.6h.8m-.8 2.5h.8m-.8 3.8h.8m-.7-3.3h.8m-.6 1.3h.8m-.7 2.8h.8m-.7 .7h.8m-.7-9h.8m-.8 8.6h.8m-.7-4.3h.8m-.8 .9h.8m-.8 2.8h.8m-.7-3.5h.8m-.8 3.5h.8m-.7-.5h.8m-.8 .2h.8m-.7 1.1h.8m-.7-6.8h.8m-.8 2.7h.8m-.7 4.4h.8m-.6-8.7h.8m-.7 1.2h.8m-.8 6h.8m-.5-3.2h.8m-.5 2.1h.8m-.8 .3h.8m-.7-1.5h.8m-.8 .4h.8m-.8 2.6h.8m-.8 .9h.8m-.7-1.3h.8m-.8 .1h.8m-.8 .7h.8m-.8 .2h.8m-.7-5.2h.8m-.7 5.6h.8m-.7-2.7h.8m-.8 2h.8m-.7-.5h.8m-.7-8.6h.8m-.8 .6h.8m-.8 8.6h.8m-.6-6.5h.8m-.7 4.2h.8m-.8 1.1h.8m-.8 .2h.8m-.7-4.4h.8m-.7 .5h.8m-.8 .9h.8m-.7 3.8h.8m-.7 .7h.8m-.7-5.7h.8m-.8 1h.8m-.8 2.7h.8m-.8 .6h.8m-.7-2h.8m-.7-.3h.8m-.8 2.6h.8m-.7 1.1h.8m-.6-3.5h.8m-.8 1.3h.8m-.7-6h.8m-.8 2.9h.8m-.7 3.3h.8m-.8 .9h.8m-.8 .6h.8m-.8 .7h.8m-.6-.3h.8m-.7-3.3h.8m-.7 2.7h.8m-.7-10.2h.8m-.7 6.4h.8m-.8 1.7h.8m-.7-2.6h.8m-.7-1.3h.8m-.8 3.9h.8m-.8 1.2h.8m-.7-6.2h.8m-.8 2.7h.8m-.6-1.2h.8m-.7-2.4h.8m-.8 8.6h.8m-.7-4.9h.8m-.7 5h.8m-.6-.9h.8m-.8 .5h.8m-.5-.5h.8m-.6-.2h.8m-.7 .3h.8m-.5-2.4h.8m-.8 2.7h.8m-.7-6.5h.8m-.8 1.4h.8m-.7 1.9h.8m-.7 1.6h.8m-.7-3.3h.8m-.8 4.3h.8m-.8 1h.8m-.7-7.1h.8m-.8 .6h.8m-.8 5.5h.8m-.8 .5h.8m-.7-8.5h.8m-.8 3.4h.8m-.7 5.2h.8m-.7-5.3h.8m-.8 3.7h.8m-.6 2h.8m-.7-9h.8m-.8 5.8h.8m-.8 3.2h.8m-.7-1.8h.8m-.8 .8h.8m-.8 .6h.8m-.7-13.2h.8m-.8 10.7h.8m-.8 1.5h.8m-.7 1.5h.8m-.7-11.3h.8m-.8 9.2h.8m-.8 .7h.8m-.7-3.8h.8m-.7-7h.8m-.8 12.3h.8m-.6-2.3h.8m-.8 2.4h.8m-.7-2h.8m-.6-.8h.8m-.8 2.6h.8m-.7-.2h.8m-.7-5.9h.8m-.7 5.4h.8m-.7-9h.8m-.8 9h.8m-.7-.8h.8m-.7 1.6h.8m-.7-12.2h.8m-.8 9.1h.8m-.7-1.1h.8m-.7-4.9h.8m-.8 3.4h.8m-.8 4.5h.8m-.8 .3h.8m-.8 .4h.8m-.8 .6h.8m-.7-1.5h.8m-.6-2.4h.8m-.8 2.4h.8m-.7-11.8h.8m-.8 9.1h.8m-.8 2.4h.8m-.7-5.2h.8m-.8 5.8h.8m-.7-2.5h.8m-.8 2.6h.8m-.7-10h.8m-.7 4.2h.8m-.8 .7h.8m-.7-5.2h.8m-.6 6.6h.8m-.8 2.9h.8m-.8 1.6h.8m-.7-14.9h.8m-.8 .9h.8m-.8 3.9h.8m-.8 7.2h.8m-.7 1h.8m-.7-6.7h.8m-.8 .3h.8m-.8 8.6h.8m-.6-2.2h.8m-.7-10.2h.8m-.7 5h.8m-.8 .6h.8m-.8 6.6h.8m-.7-11.3h.8m-.8 9.7h.8m-.8 .2h.8m-.6-2.4h.8m-.8 3.9h.8m-.6-1.6h.8m-.8 .8h.8m-.8 .8h.8m-.7-2.6h.8m-.8 1.9h.8m-.7-7.4h.8m-.8 7h.8m-.7-12.5h.8m-.8 9.5h.8m-.8 2.8h.8m-.7-9.9h.8m-.7-5.2h.8m-.6 10.1h.8m-.7 3.5h.8m-.8 1.8h.8m-.7 .9h.8m-.7-7h.8m-.7 6.7h.8m-.7 .4h.8m-.7-5.4h.8m-.8 1.5h.8m-.7-1.4h.8m-.8 4.9h.8m-.8 .1h.8m-.7-.8h.8m-.5-3.6h.8m-.8 .7h.8m-.6-.3h.8m-.8 3.1h.8m-.7-12.2h.8m-.7-2h.8m-.6 10.3h.8m-.7 4.3h.8m-.8 .8h.8m-.7-13h.8m-.8 13h.8m-.7-2.9h.8m-.8 2.1h.8m-.7-1h.8m-.8 .7h.8m-.7 .4h.8m-.7-3.3h.8m-.7 4h.8m-.6-4.6h.8m-.8 4.6h.8m-.7-1h.8m-.8 .1h.8m-.7-7.5h.8m-.8 1.8h.8m-.8 .4h.8m-.8 4.3h.8m-.7-7.6h.8m-.8 9.5h.8m-.7-.6h.8m-.7-10.3h.8m-.8 1.8h.8m-.8 8.4h.8m-.7-15.8h.8m-.8 1.5h.8m-.8 11.9h.8m-.8 .6h.8m-.8 .5h.8m-.8 1.8h.8m-.5-1.8h.8m-.7-12.1h.8m-.8 12h.8m-.7-2.1h.8m-.8 2.1h.8m-.7-.2h.8m-.7-3.8h.8m-.8 4.7h.8m-.7-7.2h.8m-.8 3.5h.8m-.6 3.4h.8m-.7-10.6h.8m-.7 4.1h.8m-.7 4.1h.8m-.8 1.6h.8m-.6-13.8h.8m-.8 15.9h.8m-.7-8.4h.8m-.7-.1h.8m-.8 2.8h.8m-.8 2.4h.8m-.7 2.4h.8m-.6-4.8h.8m-.8 4.9h.8m-.7-8.3h.8m-.8 7.3h.8m-.6 .2h.8m-.8 .3h.8m-.7-1h.8m-.8 2.4h.8m-.7-1h.8m-.6-6.6h.8m-.8 1h.8m-.7-8.7h.8m-.8 11.1h.8m-.7-7.5h.8m-.8 10.9h.8m-.8 1.1h.8m-.7-9.7h.8m-.8 4.6h.8m-.6 3.2h.8m-.8 1.3h.8m-.7-10.8h.8m-.8 5h.8m-.8 1.1h.8m-.7 3.7h.8m-.8 1.2h.8m-.7-7.4h.8m-.8 3.9h.8m-.8 .9h.8m-.7-12.2h.8m-.8 15.2h.8m-.7-1.1h.8m-.6-4.1h.8m-.8 3.9h.8m-.5-8h.8m-.8 .4h.8m-.8 2.9h.8m-.8 5h.8m-.5-8.7h.8m-.8 1.2h.8m-.8 8.3h.8m-.7-3.6h.8m-.8 1.7h.8m-.6-6.3h.8m-.7 5.9h.8m-.7-6.9h.8m-.8 4h.8m-.6 4.5h.8m-.8 .6h.8m-.8 .3h.8m-.7-.4h.8m-.7-3.5h.8m-.8 1.4h.8m-.8 .8h.8m-.7-13.6h.8m-.8 13.7h.8m-.7-3.6h.8m-.8 3.7h.8m-.7-13h.8m-.7 .9h.8m-.8 9.8h.8m-.6 1.3h.8m-.7-10.6h.8m-.7 7.8h.8m-.8 4.9h.8m-.8 .3h.8m-.6-12.9h.8m-.8 11.3h.8m-.7-.3h.8m-.8 1.2h.8m-.7-1.7h.8m-.8 .6h.8m-.8 .6h.8m-.7-7.7h.8m-.8 4.8h.8m-.8 1.9h.8m-.7-.2h.8m-.8 1h.8m-.6-3.7h.8m-.8 2h.8m-.8 .8h.8m-.5 2.1h.8m-.7-13.8h.8m-.7-.6h.8m-.8 12.7h.8m-.6-6.5h.8m-.8 1.8h.8m-.5-1.5h.8m-.7-3.6h.8m-.7-1.8h.8m-.8 12.9h.8m-.7-.4h.8m-.7-6.8h.8m-.8 3.6h.8m-.7 .7h.8m-.8 .3h.8m-.5-7.3h.8m-.8 6.9h.8m-.8 1.9h.8m-.8 1.4h.8m-.7-8.5h.8m-.5-.5h.8m-.8 3.8h.8m-.8 4h.8m-.6-13.7h.8m-.7 14.9h.8m-.7-2.5h.8m-.8 1.4h.8m-.7-2.7h.8m-.8 2.2h.8m-.7 1.6h.8m-.7-11.2h.8m-.8 11h.8m-.7-2.9h.8m-.8 3.1h.8m-.7-1.1h.8m-.7-2.1h.8m-.8 .3h.8m-.6-14.5h.8m-.8 9.9h.8m-.7-.6h.8m-.8 2.9h.8m-.7-1.9h.8m-.6 7h.8m-.8 .2h.8m-.7-4.7h.8m-.8 .7h.8m-.5-5.5h.8m-.8 6.7h.8m-.8 3h.8m-.7-5.4h.8m-.4 3h.8m-.8 1.8h.8m-.7-1.1h.8m-.6-5h.8m-.6-4.9h.8m-.8 10.5h.8m-.5-3h.8m-.8 .1h.8m-.8 1.6h.8m-.6-1.9h.8m-.8 3h.8m-.7-7.2h.8m-.7 2.7h.8m-.8 3h.8m-.7-4.2h.8m-.7 6.9h.8m-.5-7.9h.8m-.8 5.2h.8m-.7-4.7h.8m-.8 7.1h.8m-.7-11.9h.8m-.8 .3h.8m-.7 11h.8m-.7-6.4h.8m-.8 3.7h.8m-.6 1.9h.8m-.6-5.3h.8m-.8 6.4h.8m-.6 .9h.8m-.3-13.4h.8m-.6 2.5h.8m-.5 3.5h.8" stroke="#3b4ea6" stroke-width="0.8" fill="none"/>
<path d="M391.7 190.9h.8m.1 .5h.8m-.1 7.3h.8m.8-2.6h.8m-.2-4.7h.8m-.8 .8h.8m-.5-2.2h.8m.2 12.7h.8m1.4-18.5h.8m-.1 4.4h.8m-.5-4.5h.8m-.2 .1h.8m.9-.9h.8m-.3-3.8h.8m-.8 6h.8m-.5-3.1h.8m-.3 2.9h.8m1.4 4.2h.8m1.8-9.7h.8m-.4-1h.8" stroke="#ee2b2b" stroke-width="0.8" fill="none"/>
<text x="364.7" y="185.6" font-size="8.3" fill="#222">Syn</text>
<line x1="237.4" y1="241.7" x2="237.4" y2="292.3" stroke="#555" stroke-width="0.7"/>
<line x1="237.4" y1="292.3" x2="285.8" y2="292.3" stroke="#555" stroke-width="0.7"/>
<line x1="235.6" y1="292.3" x2="237.4" y2="292.3" stroke="#555" stroke-width="0.5"/>
<text x="234.9" y="294.1" font-size="5.2" text-anchor="end" fill="#333">0.00</text>
<line x1="235.6" y1="279.95" x2="237.4" y2="279.95" stroke="#555" stroke-width="0.5"/>
<text x="234.9" y="281.75" font-size="5.2" text-anchor="end" fill="#333">0.25</text>
<line x1="235.6" y1="267.6" x2="237.4" y2="267.6" stroke="#555" stroke-width="0.5"/>
<text x="234.9" y="269.4" font-size="5.2" text-anchor="end" fill="#333">0.50</text>
<line x1="235.6" y1="255.25" x2="237.4" y2="255.25" stroke="#555" stroke-width="0.5"/>
<text x="234.9" y="257.05" font-size="5.2" text-anchor="end" fill="#333">0.75</text>
<line x1="235.6" y1="242.9" x2="237.4" y2="242.9" stroke="#555" stroke-width="0.5"/>
<text x="234.9" y="244.7" font-size="5.2" text-anchor="end" fill="#333">1.00</text>
<line x1="237.4" y1="292.3" x2="237.4" y2="294.1" stroke="#555" stroke-width="0.5"/>
<text x="237.4" y="299.3" font-size="5.2" text-anchor="middle" fill="#333">0.0</text>
<line x1="261.1" y1="292.3" x2="261.1" y2="294.1" stroke="#555" stroke-width="0.5"/>
<text x="261.1" y="299.3" font-size="5.2" text-anchor="middle" fill="#333">0.5</text>
<line x1="284.8" y1="292.3" x2="284.8" y2="294.1" stroke="#555" stroke-width="0.5"/>
<text x="284.8" y="299.3" font-size="5.2" text-anchor="middle" fill="#333">1.0</text>
<path d="M238,291.9L265.96,272.38L265.96,291.9Z" fill="#3b4ea6" opacity="0.92"/>
<path d="M238,291.9L238,288.97L251.98,276.28L265.96,266.52L265.96,272.38Z" fill="#6a6a6a" opacity="0.85"/>
<path d="M275.28,253.84L279.94,244.08L284.6,243.1L284.6,250.42Z" fill="#ee2b2b" opacity="0.6"/>
<path d="M238.1 289.5h.8m-.8 1.5h.8m-.8 .6h.8m-.7-11.9h.8m-.8 3h.8m-.8 5.2h.8m-.7-6.1h.8m-.8 1.7h.8m-.8 5.4h.8m-.8 1.8h.8m-.8 .6h.8m-.7-11.3h.8m-.8 9.4h.8m-.8 1.1h.8m-.6-7.2h.8m-.8 1h.8m-.8 4.9h.8m-.6-4.5h.8m-.8 .2h.8m-.8 .3h.8m-.8 2.8h.8m-.8 2.7h.8m-.7-5h.8m-.8 3.8h.8m-.7-5.2h.8m-.8 1h.8m-.7-6.1h.8m-.8 5.8h.8m-.8 .2h.8m-.8 4.5h.8m-.7-14.3h.8m-.8 6.1h.8m-.8 2.4h.8m-.8 4.4h.8m-.8 1.1h.8m-.7-10h.8m-.8 1.1h.8m-.8 3.2h.8m-.8 2.5h.8m-.8 .4h.8m-.8 2.5h.8m-.7-6.5h.8m-.8 .1h.8m-.8 1.8h.8m-.8 1.6h.8m-.8 .9h.8m-.8 2.2h.8m-.8 1.1h.8m-.7-13.6h.8m-.8 11.1h.8m-.8 1.3h.8m-.8 1.7h.8m-.7-13.2h.8m-.8 1.1h.8m-.8 4.5h.8m-.8 3.4h.8m-.8 .7h.8m-.7-11.7h.8m-.8 .9h.8m-.8 4h.8m-.8 3.7h.8m-.8 1.7h.8m-.8 2.1h.8m-.8 1h.8m-.8 1.1h.8m-.8 .5h.8m-.7-13.9h.8m-.8 7.1h.8m-.8 3.8h.8m-.7-8.2h.8m-.8 .7h.8m-.8 4.5h.8m-.8 1.5h.8m-.8 2.6h.8m-.8 .3h.8m-.8 .3h.8m-.7-7.9h.8m-.8 2.4h.8m-.8 3.7h.8m-.8 2.3h.8m-.7-11.5h.8m-.8 5.6h.8m-.8 1.1h.8m-.8 1.5h.8m-.7 1.1h.8m-.8 2.7h.8m-.7-10.9h.8m-.8 2.4h.8m-.8 .5h.8m-.8 .5h.8m-.8 1h.8m-.8 1h.8m-.8 .6h.8m-.8 .3h.8m-.8 2.7h.8m-.8 .2h.8m-.7-9.7h.8m-.8 2.4h.8m-.8 .6h.8m-.8 6.5h.8m-.7-5.6h.8m-.8 1.3h.8m-.8 1.2h.8m-.8 .7h.8m-.8 1h.8m-.8 .1h.8m-.8 1h.8m-.7-10.1h.8m-.8 6.8h.8m-.8 1.5h.8m-.8 2.1h.8m-.7-7.2h.8m-.8 2.6h.8m-.8 1.3h.8m-.8 .4h.8m-.8 .1h.8m-.8 1.6h.8m-.8 .3h.8m-.8 .4h.8m-.8 2.1h.8m-.7-10.1h.8m-.8 4.7h.8m-.7-6.2h.8m-.8 2.8h.8m-.8 1.3h.8m-.8 1.8h.8m-.8 4.1h.8m-.8 .1h.8m-.8 .6h.8m-.7-12.8h.8m-.8 4.9h.8m-.8 2.8h.8m-.8 .3h.8m-.8 .6h.8m-.8 2.9h.8m-.8 1.2h.8m-.7-12h.8m-.8 8.4h.8m-.8 2.7h.8m-.8 .9h.8m-.8 .3h.8m-.8 .1h.8m-.7-11.1h.8m-.8 8.2h.8m-.8 1.2h.8m-.7-7.4h.8m-.8 1h.8m-.8 1.3h.8m-.8 1.4h.8m-.8 3.4h.8m-.8 1.6h.8m-.7-9.6h.8m-.8 .9h.8m-.8 1.5h.8m-.8 4.1h.8m-.8 2.1h.8m-.8 .7h.8m-.8 .4h.8m-.7-12.5h.8m-.8 8.5h.8m-.8 1.1h.8m-.8 1.1h.8m-.8 1.4h.8m-.7-10.9h.8m-.8 2.1h.8m-.8 .7h.8m-.8 3.4h.8m-.8 2h.8m-.8 .5h.8m-.8 1.7h.8m-.7-6.2h.8m-.8 7.2h.8m-.7-16.3h.8m-.8 14.5h.8m-.8 1.3h.8m-.7-5.3h.8m-.8 5h.8m-.7-7.5h.8m-.8 1.1h.8m-.8 .2h.8m-.8 2h.8m-.8 1.1h.8m-.8 .2h.8m-.8 2.7h.8m-.7-7.2h.8m-.8 1.4h.8m-.8 2.4h.8m-.8 .7h.8m-.8 3.3h.8m-.7-13.7h.8m-.8 .7h.8m-.8 4.1h.8m-.8 2.4h.8m-.8 .8h.8m-.8 .7h.8m-.8 .4h.8m-.7-10.3h.8m-.8 4.7h.8m-.8 4.4h.8m-.8 .5h.8m-.8 1.7h.8m-.8 2.7h.8m-.7-7.4h.8m-.8 2.4h.8m-.8 1h.8m-.8 1.5h.8m-.8 2.3h.8m-.8 .2h.8m-.7-10h.8m-.8 2h.8m-.8 1.1h.8m-.8 4.8h.8m-.8 .6h.8m-.8 1.8h.8m-.7-8.5h.8m-.8 2h.8m-.8 2.1h.8m-.8 .2h.8m-.8 1.8h.8m-.8 1.1h.8m-.7-9.4h.8m-.8 4.3h.8m-.8 .5h.8m-.8 1.5h.8m-.8 3.1h.8m-.7-10h.8m-.8 1h.8m-.8 2.1h.8m-.8 .3h.8m-.8 1.1h.8m-.8 .3h.8m-.8 1.2h.8m-.8 .4h.8m-.8 .6h.8m-.8 4.6h.8m-.7-14.5h.8m-.8 13.8h.8m-.8 .1h.8m-.7-13.4h.8m-.8 9.2h.8m-.8 1.1h.8m-.8 2.8h.8m-.7-15.3h.8m-.8 2.4h.8m-.8 4.4h.8m-.8 .9h.8m-.8 3.8h.8m-.8 1.9h.8m-.8 .1h.8m-.8 .7h.8m-.8 1.1h.8m-.7-8h.8m-.8 .1h.8m-.8 .2h.8m-.8 3h.8m-.8 .6h.8m-.8 4.7h.8m-.7-6.2h.8m-.8 1.7h.8m-.8 1.3h.8m-.8 1.3h.8m-.8 1h.8m-.7-13.3h.8m-.8 1.7h.8m-.8 5.1h.8m-.8 .6h.8m-.8 .7h.8m-.8 .2h.8m-.8 3.1h.8m-.8 .8h.8m-.7-10.3h.8m-.8 5.8h.8m-.8 1.6h.8m-.8 .8h.8m-.8 2.1h.8m-.7-2.6h.8m-.8 2.7h.8m-.7-13.7h.8m-.8 1.9h.8m-.8 11.1h.8m-.8 .5h.8m-.8 .6h.8m-.7-6h.8m-.8 1.8h.8m-.8 1.7h.8m-.7-7h.8m-.8 1.2h.8m-.8 1.2h.8m-.8 3.4h.8m-.8 .1h.8m-.8 4.5h.8m-.7-11.5h.8m-.8 4.4h.8m-.8 4h.8m-.8 3h.8m-.7-13.5h.8m-.8 1.8h.8m-.8 5.7h.8m-.7-7.6h.8m-.8 .2h.8m-.8 2.6h.8m-.8 6.9h.8m-.8 1.6h.8m-.7-5h.8m-.8 1.2h.8m-.8 .4h.8m-.8 1h.8m-.8 .4h.8m-.8 .7h.8m-.8 2.5h.8m-.7-9.2h.8m-.8 .3h.8m-.8 1.8h.8m-.8 .2h.8m-.8 .2h.8m-.8 .7h.8m-.8 1.1h.8m-.8 5.4h.8m-.7-5.8h.8m-.8 2h.8m-.8 .4h.8m-.8 1.4h.8m-.8 1h.8m-.8 1.2h.8m-.8 .1h.8m-.7-12.1h.8m-.8 2h.8m-.8 .5h.8m-.8 1.4h.8m-.8 .4h.8m-.8 3.3h.8m-.8 .9h.8m-.8 .1h.8m-.7-9.3h.8m-.8 1.8h.8m-.8 2.8h.8m-.8 6.9h.8m-.7-11h.8m-.8 8.8h.8m-.8 1.1h.8m-.7-12.6h.8m-.8 10.2h.8m-.8 1.5h.8m-.8 2.8h.8m-.7-12.1h.8m-.8 3.4h.8m-.8 6.1h.8m-.8 .2h.8m-.8 1h.8m-.8 .8h.8m-.7-6.7h.8m-.8 2.6h.8m-.8 1.2h.8m-.8 3.2h.8m-.8 .5h.8m-.7-5.3h.8m-.8 .1h.8m-.8 1.8h.8m-.8 1.2h.8m-.8 .5h.8m-.8 .7h.8m-.7-16.6h.8m-.8 1.1h.8m-.8 4h.8m-.8 .2h.8m-.8 1.2h.8m-.8 .2h.8m-.8 1.7h.8m-.8 1.1h.8m-.8 .9h.8m-.8 .9h.8m-.8 .7h.8m-.8 3.4h.8m-.8 .8h.8m-.8 .6h.8m-.7-7.4h.8m-.8 1.4h.8m-.8 .3h.8m-.8 1.4h.8m-.8 2.2h.8m-.8 .7h.8m-.7-14h.8m-.8 .6h.8m-.8 3.2h.8m-.8 1.6h.8m-.8 1.9h.8m-.8 .2h.8m-.8 6.3h.8m-.8 .8h.8m-.7-10.9h.8m-.8 .6h.8m-.8 2h.8m-.8 3.5h.8m-.8 .7h.8m-.8 .3h.8m-.8 .5h.8m-.8 1.7h.8m-.8 2.7h.8m-.7-6.1h.8m-.8 .8h.8m-.8 .2h.8m-.8 4.7h.8m-.8 .5h.8m-.7-12.7h.8m-.8 2.5h.8m-.8 .8h.8m-.8 .4h.8m-.8 1.7h.8m-.8 .7h.8m-.8 2.6h.8m-.8 1.9h.8m-.8 1.4h.8m-.7-15.2h.8m-.8 1.4h.8m-.8 6.6h.8m-.8 1.9h.8m-.8 .2h.8m-.8 5.3h.8m-.7-15.7h.8m-.8 3h.8m-.8 2.9h.8m-.8 8.5h.8m-.8 .6h.8m-.7-11.8h.8m-.8 2.1h.8m-.8 3.9h.8m-.8 .9h.8m-.8 2.9h.8m-.8 2h.8m-.7-8.9h.8m-.8 8h.8m-.8 .2h.8m-.7-13.6h.8m-.8 7.6h.8m-.8 2.5h.8m-.8 1.5h.8m-.7-4.7h.8m-.8 4h.8m-.8 1h.8m-.8 1.9h.8m-.8 1h.8m-.7-8.7h.8m-.8 1.3h.8m-.8 1.3h.8m-.8 2.4h.8m-.8 3h.8m-.7-14.6h.8m-.8 10.8h.8m-.8 1.6h.8m-.8 .8h.8m-.8 .4h.8m-.8 1.1h.8m-.7-6.8h.8m-.8 1h.8m-.8 5.5h.8m-.8 .8h.8m-.7-17.1h.8m-.8 6.4h.8m-.8 .5h.8m-.8 .8h.8m-.8 5h.8m-.8 1.1h.8m-.8 1.5h.8m-.8 .3h.8m-.8 .7h.8m-.7-9.5h.8m-.8 .7h.8m-.8 2h.8m-.8 1.7h.8m-.8 1.7h.8m-.8 .3h.8m-.8 .3h.8m-.8 .6h.8m-.8 .6h.8m-.8 2h.8m-.7-8.6h.8m-.8 2h.8m-.8 5.7h.8m-.7-7.8h.8m-.8 2.2h.8m-.8 3.4h.8m-.8 2.9h.8m-.8 .2h.8m-.7-14.7h.8m-.8 3.1h.8m-.8 1h.8m-.8 1.6h.8m-.8 5.3h.8m-.8 1h.8m-.8 1.4h.8m-.7-11h.8m-.8 6.4h.8m-.8 1.5h.8m-.8 .1h.8m-.8 1.4h.8m-.8 1.7h.8m-.7-7.8h.8m-.8 1.7h.8m-.8 1.1h.8m-.8 1.8h.8m-.8 3.9h.8m-.7-15.9h.8m-.8 1h.8m-.8 1.8h.8m-.8 9.1h.8m-.8 1.7h.8m-.8 .5h.8m-.7-6.6h.8m-.8 1.7h.8m-.8 .5h.8m-.8 5.5h.8m-.7-14h.8m-.8 5.8h.8m-.8 .5h.8m-.8 .4h.8m-.8 2.1h.8m-.8 4h.8m-.8 .4h.8m-.7-7.3h.8m-.8 2.9h.8m-.8 1.3h.8m-.8 4.2h.8m-.7-18.8h.8m-.8 10.8h.8m-.8 2.1h.8m-.8 1.7h.8m-.8 .6h.8m-.8 3.5h.8m-.7-14.8h.8m-.8 9.1h.8m-.8 5h.8m-.7-16.6h.8m-.8 7.9h.8m-.8 .4h.8m-.8 .1h.8m-.8 1.4h.8m-.8 5.1h.8m-.8 1.4h.8m-.7-18h.8m-.8 5.5h.8m-.8 1.1h.8m-.8 1.5h.8m-.8 3.6h.8m-.7-6h.8m-.8 5.3h.8m-.8 5.8h.8m-.8 .4h.8m-.8 .5h.8m-.7-14h.8m-.8 4.4h.8m-.8 7.4h.8m-.8 .8h.8m-.8 .3h.8m-.8 .4h.8m-.8 1.7h.8m-.7-4.6h.8m-.7-4.6h.8m-.8 1h.8m-.8 1.6h.8m-.8 3.9h.8m-.8 .2h.8m-.8 2.4h.8m-.7-8.8h.8m-.8 .7h.8m-.8 4.1h.8m-.8 1.7h.8m-.8 .8h.8m-.7-11.2h.8m-.8 2.6h.8m-.8 .1h.8m-.8 2.8h.8m-.8 3.2h.8m-.8 1.8h.8m-.8 .5h.8m-.8 .4h.8m-.8 1h.8m-.8 .2h.8m-.7-14.5h.8m-.8 .8h.8m-.8 2.9h.8m-.8 2.1h.8m-.8 1.3h.8m-.8 .7h.8m-.8 2.1h.8m-.8 4.9h.8m-.7-11.9h.8m-.8 .8h.8m-.8 .4h.8m-.8 6.5h.8m-.7-10.8h.8m-.8 1.7h.8m-.8 3.7h.8m-.8 1.5h.8m-.8 .2h.8m-.8 3.8h.8m-.8 1.5h.8m-.7-11.1h.8m-.8 4.3h.8m-.8 .5h.8m-.8 1.9h.8m-.8 4.9h.8m-.7-9.8h.8m-.8 1.1h.8m-.8 4h.8m-.8 .2h.8m-.8 4.6h.8m-.8 1h.8m-.8 .4h.8m-.7-14.1h.8m-.8 7.2h.8m-.8 1.4h.8m-.8 1.3h.8m-.8 1.6h.8m-.8 .3h.8m-.8 .8h.8m-.8 .9h.8m-.7-16.8h.8m-.8 10.1h.8m-.8 2.2h.8m-.8 .9h.8m-.7-10.9h.8m-.8 5.9h.8m-.8 3.7h.8m-.8 1.1h.8m-.8 .2h.8m-.8 .3h.8m-.8 3.8h.8m-.7-17.6h.8m-.8 8.1h.8m-.8 2.6h.8m-.8 2h.8m-.8 1h.8m-.8 .9h.8m-.8 3.1h.8m-.7-6.6h.8m-.8 .7h.8m-.8 .8h.8m-.8 2.5h.8m-.8 1.4h.8m-.8 .8h.8m-.7-16h.8m-.8 2.2h.8m-.8 7.9h.8m-.8 .5h.8m-.8 1.7h.8m-.8 1.6h.8m-.8 .7h.8m-.8 .5h.8m-.8 .1h.8m-.8 .9h.8m-.7-11.7h.8m-.8 .4h.8m-.8 4.1h.8m-.8 4.8h.8m-.8 .5h.8m-.8 .8h.8m-.8 1.4h.8m-.7-16h.8m-.8 1.5h.8m-.8 2.6h.8m-.8 3.5h.8m-.8 1.3h.8m-.8 .5h.8m-.8 2.2h.8m-.8 .4h.8m-.8 .3h.8m-.8 .8h.8m-.8 1h.8m-.7-5.3h.8m-.8 2.2h.8m-.7-12h.8m-.8 4.3h.8m-.8 .5h.8m-.8 1h.8m-.8 .3h.8m-.8 8.6h.8m-.8 .3h.8m-.8 1.6h.8m-.7-14h.8m-.8 2h.8m-.8 5.1h.8m-.8 2.1h.8m-.8 .8h.8m-.8 .5h.8m-.8 1.2h.8m-.8 .3h.8m-.8 .2h.8m-.8 .8h.8m-.8 .4h.8m-.7-12.5h.8m-.8 2.1h.8m-.8 2.7h.8m-.8 3.5h.8m-.8 1.7h.8m-.8 1h.8m-.8 1.1h.8m-.7-4.3h.8m-.8 4.3h.8m-.7-13.9h.8m-.8 8.7h.8m-.8 5h.8m-.8 .4h.8m-.7-11.4h.8m-.8 1.8h.8m-.8 1.1h.8m-.8 .7h.8m-.8 2.1h.8m-.8 5.6h.8m-.7-17.4h.8m-.8 3.8h.8m-.8 .2h.8m-.8 5h.8m-.8 1.1h.8m-.8 6.7h.8m-.8 .2h.8m-.8 .4h.8m-.7-11.1h.8m-.8 2.4h.8m-.8 2.8h.8m-.8 1h.8m-.8 1.6h.8m-.7-3.6h.8m-.8 2.3h.8m-.8 3.6h.8m-.8 1.5h.8m-.7-14.8h.8m-.8 2.7h.8m-.8 .2h.8m-.8 4.7h.8m-.8 .3h.8m-.8 .2h.8m-.8 6.4h.8m-.7-13.2h.8m-.8 3.4h.8m-.8 2.2h.8m-.8 1.9h.8m-.8 5.4h.8m-.7-13.2h.8m-.8 4.8h.8m-.8 3.2h.8m-.8 3.3h.8m-.7-11.1h.8m-.8 7.1h.8m-.8 2.4h.8m-.8 1.5h.8m-.8 1.2h.8m-.7-12.9h.8m-.8 9.9h.8m-.8 .7h.8m-.8 .3h.8m-.8 2.8h.8m-.7-9.9h.8m-.8 5.8h.8m-.8 .1h.8m-.8 .3h.8m-.8 3.5h.8m-.7-14.4h.8m-.8 1.3h.8m-.8 .3h.8m-.8 2.6h.8m-.8 7.5h.8m-.7 1.6h.8m-.8 .6h.8m-.7-17h.8m-.8 2.2h.8m-.8 4.1h.8m-.8 1h.8m-.8 3.6h.8m-.8 .1h.8m-.8 1.8h.8m-.8 .9h.8m-.8 .4h.8m-.8 1.4h.8m-.7-8.2h.8m-.8 3.3h.8m-.8 .1h.8m-.8 1.5h.8m-.7-7.6h.8m-.8 5.9h.8m-.8 3h.8m-.7-1.2h.8m-.8 1.5h.8m-.8 .1h.8m-.7-5.7h.8m-.7-3.1h.8m-.8 .1h.8m-.8 8h.8m-.8 1.8h.8m-.8 1.4h.8m-.8 .8h.8m-.7-17.6h.8m-.8 3.7h.8m-.8 5h.8m-.8 1.9h.8m-.8 2.1h.8m-.8 .2h.8m-.7-14.9h.8m-.8 6h.8m-.8 4.3h.8m-.8 1.1h.8m-.8 2.6h.8m-.8 4.3h.8m-.8 1.1h.8m-.7-16h.8m-.8 1h.8m-.8 .8h.8m-.8 5.2h.8m-.8 2.3h.8m-.8 6.8h.8m-.7-15.3h.8m-.8 12.1h.8m-.8 1.3h.8m-.8 .1h.8m-.8 .4h.8m-.8 .8h.8m-.7-16.4h.8m-.8 6.5h.8m-.8 1h.8m-.8 4.1h.8m-.8 2.5h.8m-.8 .1h.8m-.7-5.7h.8m-.8 5.4h.8m-.7-3.1h.8m-.8 1.7h.8m-.8 1h.8m-.8 3.2h.8m-.7-16.8h.8m-.8 .9h.8m-.8 2.6h.8m-.8 .8h.8m-.8 1.1h.8m-.8 5.4h.8m-.8 1.3h.8m-.8 1.6h.8m-.8 1h.8m-.8 .2h.8m-.8 .3h.8m-.7-17.3h.8m-.8 15.6h.8m-.8 .2h.8m-.8 .1h.8m-.8 1.4h.8m-.8 .6h.8m-.7-10.1h.8m-.8 2h.8m-.8 7.2h.8m-.7-9.5h.8m-.8 .7h.8m-.8 .2h.8m-.8 6.5h.8m-.7-.9h.8m-.8 2.2h.8m-.8 .1h.8m-.8 .2h.8m-.8 2h.8m-.7-9.8h.8m-.8 .9h.8m-.8 1.1h.8m-.8 1.1h.8m-.8 1.7h.8m-.8 1.5h.8m-.8 .8h.8m-.8 .8h.8m-.7-14.6h.8m-.8 1.3h.8m-.8 5.1h.8m-.8 .9h.8m-.8 2.9h.8m-.8 .6h.8m-.7-15.2h.8m-.8 6.6h.8m-.8 8.5h.8m-.7-5.3h.8m-.8 1h.8m-.8 .5h.8m-.8 4.9h.8m-.7-3.2h.8m-.8 .5h.8m-.8 3.2h.8m-.8 .2h.8m-.8 2.7h.8m-.7-15.8h.8m-.8 3.4h.8m-.8 6.2h.8m-.8 1.9h.8m-.8 .1h.8m-.8 3.1h.8m-.7-16.5h.8m-.8 13.9h.8m-.7-11.5h.8m-.8 1.5h.8m-.8 12.2h.8m-.7-5.4h.8m-.8 1.2h.8m-.8 3.2h.8m-.7-14h.8m-.8 4.8h.8m-.8 3.9h.8m-.8 .6h.8m-.8 3.3h.8m-.8 1.2h.8m-.8 1.7h.8m-.7-8h.8m-.8 5.9h.8m-.8 .9h.8m-.8 1.6h.8m-.8 .2h.8m-.7-15.8h.8m-.8 11h.8m-.7-9.1h.8m-.8 4.9h.8m-.8 1.2h.8m-.8 1h.8m-.8 1.2h.8m-.8 6.5h.8m-.7-17.4h.8m-.8 10.7h.8m-.8 5.9h.8m-.8 .5h.8m-.7-5.7h.8m-.8 1.8h.8m-.8 1.3h.8m-.7-4.3h.8m-.8 .9h.8m-.8 1.5h.8m-.8 .6h.8m-.8 2.9h.8m-.7-3.5h.8m-.8 .1h.8m-.8 1.9h.8m-.8 1.6h.8m-.7-9.3h.8m-.8 1.6h.8m-.8 2.2h.8m-.8 6.1h.8m-.7-10.5h.8m-.8 2.9h.8m-.8 1.2h.8m-.7-.4h.8m-.8 1.1h.8m-.8 .7h.8m-.7-13.7h.8m-.8 6h.8m-.8 5.8h.8m-.8 2.3h.8m-.8 1h.8m-.8 .5h.8m-.7-14.4h.8m-.8 9.2h.8m-.8 2.3h.8m-.8 .2h.8m-.8 5.1h.8m-.7-6.3h.8m-.8 .2h.8m-.8 3.5h.8m-.7-3.9h.8m-.8 2.8h.8m-.8 .4h.8m-.8 1.8h.8m-.8 .3h.8m-.8 .6h.8m-.8 .4h.8m-.7-14.8h.8m-.8 8.8h.8m-.7-7.5h.8m-.8 3.4h.8m-.8 3.8h.8m-.8 4.7h.8m-.8 1h.8m-.8 1h.8m-.7-12.9h.8m-.8 4.8h.8m-.8 5.1h.8m-.7-14h.8m-.8 4.4h.8m-.8 9.4h.8m-.7-9.7h.8m-.8 8.5h.8m-.8 2.6h.8m-.8 1.3h.8m-.7-11.9h.8m-.8 8.8h.8m-.8 2.9h.8m-.7-13h.8m-.8 .7h.8m-.8 2.8h.8m-.8 8.6h.8m-.8 .4h.8m-.7-17.9h.8m-.8 6.5h.8m-.8 1.8h.8m-.8 .5h.8m-.8 1.1h.8m-.8 5.2h.8m-.8 .1h.8m-.8 .6h.8m-.8 .1h.8m-.8 2.3h.8m-.7-9h.8m-.8 4.5h.8m-.8 .2h.8m-.7-12.8h.8m-.8 8.4h.8m-.8 .2h.8m-.8 1.2h.8m-.8 .6h.8m-.8 .6h.8m-.8 3h.8m-.8 .5h.8m-.8 2.8h.8m-.7-10.6h.8m-.8 .3h.8m-.8 4h.8m-.8 1.4h.8m-.8 .4h.8m-.8 1.6h.8m-.8 .8h.8m-.8 .2h.8m-.8 .8h.8m-.7-3.6h.8m-.8 1h.8m-.8 1.5h.8m-.7-12.1h.8m-.8 3.8h.8m-.8 1.2h.8m-.8 8.1h.8m-.8 .7h.8m-.7-14.5h.8m-.8 4h.8m-.8 6.1h.8m-.8 1.9h.8m-.7-10h.8m-.8 .9h.8m-.8 7.3h.8m-.8 1.9h.8m-.8 .3h.8m-.8 .4h.8m-.8 1.5h.8m-.7-19.6h.8m-.8 .8h.8m-.8 9.1h.8m-.8 4.2h.8m-.8 .1h.8m-.8 1.2h.8m-.8 4.5h.8m-.7-18.8h.8m-.8 13.5h.8m-.8 .1h.8m-.7 1.4h.8m-.7-7.6h.8m-.8 .3h.8m-.8 .4h.8m-.8 1.9h.8m-.8 4.4h.8m-.8 .4h.8m-.8 1.8h.8m-.7-8.6h.8m-.8 1.5h.8m-.8 .1h.8m-.8 .3h.8m-.8 8.1h.8m-.7-11.2h.8m-.8 4.4h.8m-.8 3.4h.8m-.8 1h.8m-.8 .2h.8m-.7-10.8h.8m-.7-5.6h.8m-.8 5h.8m-.8 3.4h.8m-.8 10.3h.8m-.7-14.6h.8m-.7 12h.8m-.8 .9h.8m-.8 .1h.8m-.8 1.1h.8m-.7-9.9h.8m-.8 1.2h.8m-.8 .5h.8m-.8 2.9h.8m-.8 1.9h.8m-.8 3.4h.8m-.7-10.6h.8m-.8 7.9h.8m-.7-8.3h.8m-.8 8h.8m-.8 .1h.8m-.8 1.3h.8m-.7-2.8h.8m-.7-3.2h.8m-.8 4.6h.8m-.8 .6h.8m-.8 .4h.8m-.8 .2h.8m-.8 2.3h.8m-.7-16.8h.8m-.8 4.9h.8m-.8 5.2h.8m-.8 3.1h.8m-.8 1.5h.8m-.8 .6h.8m-.8 1h.8m-.7-9.6h.8m-.8 3.9h.8m-.8 2.5h.8m-.7-9.1h.8m-.8 .3h.8m-.8 .3h.8m-.7 1.8h.8m-.8 4.6h.8m-.8 5h.8m-.7-5.2h.8m-.7 1.6h.8m-.7-12.2h.8m-.8 2.2h.8m-.8 2.1h.8m-.8 .3h.8m-.8 7.2h.8m-.8 3.1h.8m-.8 .8h.8m-.7-8.3h.8m-.8 1.1h.8m-.8 2h.8m-.8 4.6h.8m-.7-18.6h.8m-.8 9.9h.8m-.8 .4h.8m-.8 .8h.8m-.7-3.5h.8m-.8 7.3h.8m-.8 3.5h.8m-.7-8.4h.8m-.8 8.5h.8m-.8 .4h.8m-.7-15.1h.8m-.8 9.2h.8m-.8 3.3h.8m-.8 2.1h.8m-.7-14.2h.8m-.8 4.6h.8m-.8 3h.8m-.8 5.6h.8m-.7-16.9h.8m-.8 11.1h.8m-.8 2.6h.8m-.8 2.9h.8m-.7-10.4h.8m-.8 7.1h.8m-.8 3.3h.8m-.7-16.6h.8m-.8 .1h.8m-.8 2.8h.8m-.8 2.4h.8m-.8 7.4h.8m-.8 1.1h.8m-.7-6h.8m-.8 2.6h.8m-.8 2h.8m-.8 1.7h.8m-.8 2.8h.8m-.7-12.8h.8m-.8 9.9h.8m-.7-3.4h.8m-.8 4.3h.8m-.7-13.1h.8m-.8 7.4h.8m-.8 4.8h.8m-.8 1.3h.8m-.8 2h.8m-.7-12.2h.8m-.8 7.7h.8m-.8 2.1h.8m-.7 .3h.8m-.8 .1h.8m-.8 1.2h.8m-.7-5.1h.8m-.8 .9h.8m-.8 1h.8m-.8 3.1h.8m-.7-11.4h.8m-.8 1.3h.8m-.8 4.4h.8m-.8 1.7h.8m-.7-16.4h.8m-.8 1.7h.8m-.8 .3h.8m-.8 8.3h.8m-.8 2.5h.8m-.8 .2h.8m-.8 .7h.8m-.8 2.6h.8m-.8 3.8h.8m-.7-9.8h.8m-.8 3.4h.8m-.8 4.4h.8m-.7-2.1h.8m-.8 .6h.8m-.7-11.1h.8m-.8 4.3h.8m-.8 .1h.8m-.8 4.4h.8m-.7-8.3h.8m-.8 .5h.8m-.7 5.5h.8m-.7 3.8h.8m-.8 4.5h.8m-.7-6.8h.8m-.8 6.7h.8m-.8 1.2h.8m-.7-16.7h.8m-.8 6.4h.8m-.8 .1h.8m-.8 2.6h.8m-.7-4.2h.8m-.8 .8h.8m-.8 7h.8m-.8 1.1h.8m-.7-9.6h.8m-.8 3.8h.8m-.8 6.1h.8m-.6-9.8h.8m-.8 1.2h.8m-.8 3.6h.8m-.8 3.9h.8m-.8 1.6h.8m-.8 .2h.8m-.7-13.5h.8m-.8 3.8h.8m-.8 6.5h.8m-.7-7.9h.8m-.8 7.5h.8m-.8 4.3h.8m-.7-22.2h.8m-.6 2.4h.8m-.8 12h.8m-.7 1h.8m-.7 3h.8m-.8 2h.8m-.8 .6h.8m-.8 1.4h.8m-.6-3.3h.8m-.8 2.7h.8m-.8 .1h.8m-.7-8.6h.8m-.8 2.9h.8m-.8 2.6h.8m-.7-7.1h.8m-.7 3.5h.8m-.7 2.6h.8m-.8 2.4h.8m-.6-3.6h.8m-.8 5.2h.8m-.7-20.1h.8m-.7-2h.8m-.8 1.9h.8m-.8 5.9h.8m-.7-2.8h.8m-.8 8.5h.8m-.8 6.1h.8m-.7-10.9h.8m-.8 2.1h.8m-.8 3.1h.8m-.8 2.5h.8m-.8 1h.8m-.8 3.4h.8m-.7-3h.8m-.7-8.1h.8m-.8 4.7h.8m-.7-3.9h.8m-.8 1.9h.8m-.8 1.9h.8m-.7-5.6h.8m-.8 7h.8m-.8 6h.8m-.7-8h.8m-.8 1.7h.8m-.6-5.1h.8m-.7 8.6h.8m-.8 2.4h.8m-.7-13.4h.8m-.7-3.3h.8" stroke="#6a6a6a" stroke-width="0.8" fill="none"/>
<path d="M238.1 291.8h.8m-.6-.1h.8m-.6 .1h.8m-.8 .1h.8m-.4-.3h.8m-.7-.3h.8m-.6 0h.8m-.8 .4h.8m-.7-.5h.8m-.5 0h.8m-.7-.3h.8m-.5-.3h.8m-.8 .1h.8m-.8 .9h.8m-.7 0h.8m-.7-.8h.8m-.6 .1h.8m-.8 .1h.8m-.8 .3h.8m-.6-1.2h.8m-.7 .7h.8m-.8 .9h.8m-.7-1.7h.8m-.7-.1h.8m-.4 .2h.8m-.8 .3h.8m-.7-.3h.8m-.8 .1h.8m-.8 1.3h.8m-.6-.4h.8m-.8 .3h.8m-.7-.4h.8m-.8 .2h.8m-.7-1.5h.8m-.7 .4h.8m-.7-.3h.8m-.7 1.8h.8m-.7-2.3h.8m-.8 .5h.8m-.7 .3h.8m-.8 1h.8m-.7-.8h.8m-.6-.5h.8m-.8 1.3h.8m-.7-2.2h.8m-.8 .6h.8m-.8 .6h.8m-.7 .1h.8m-.5 .9h.8m-.6-2.6h.8m-.8 1.1h.8m-.7-1.1h.8m-.8 .3h.8m-.7-.2h.8m-.8 .2h.8m-.7-.7h.8m-.8 .6h.8m-.7 3.1h.8m-.7-2.6h.8m-.7-.8h.8m-.7 1.7h.8m-.6 1h.8m-.7-3.6h.8m-.7 .4h.8m-.8 .7h.8m-.7-.4h.8m-.8 1.5h.8m-.7-2.1h.8m-.8 2.7h.8m-.8 1h.8m-.6-3.3h.8m-.8 1.2h.8m-.8 1.9h.8m-.7-3.4h.8m-.8 1.4h.8m-.7-1.7h.8m-.8 2.3h.8m-.8 1.1h.8m-.6-3.1h.8m-.8 1.2h.8m-.5-1h.8m-.8 1.8h.8m-.7-2.6h.8m-.7 .1h.8m-.7 2.3h.8m-.8 .7h.8m-.7-1.7h.8m-.8 .4h.8m-.6 1h.8m-.8 .3h.8m-.7-1h.8m-.6-.7h.8m-.8 1.2h.8m-.7-3.4h.8m-.8 .3h.8m-.7 3.7h.8m-.7-3.1h.8m-.8 .6h.8m-.7-1.9h.8m-.8 .9h.8m-.7 0h.8m-.8 .3h.8m-.8 1.7h.8m-.7-1.9h.8m-.8 .1h.8m-.8 2.5h.8m-.8 .1h.8m-.6-1.6h.8m-.8 1.1h.8m-.7-1.6h.8m-.7 .7h.8m-.8 .9h.8m-.7-1.1h.8m-.7-2.6h.8m-.8 1.6h.8m-.8 .1h.8m-.8 .6h.8m-.7-1.2h.8m-.8 .3h.8m-.7 3.4h.8m-.8 .8h.8m-.7-3.4h.8m-.7-2h.8m-.8 2.3h.8m-.8 .4h.8m-.7-3h.8m-.7 .1h.8m-.8 2.4h.8m-.8 .8h.8m-.8 1.1h.8m-.4-1.6h.8m-.7 3.4h.8m-.6-2h.8m-.7-4.1h.8m-.8 5.1h.8m-.7-2.2h.8m-.8 .6h.8m-.7-2.6h.8m-.8 3.6h.8m-.7-5.8h.8m-.8 2.8h.8m-.8 3.2h.8m-.7-3.6h.8m-.7 4.1h.8m-.7-.8h.8m-.7 .4h.8m-.7-6.5h.8m-.8 3.1h.8m-.8 4.4h.8m-.6-5.8h.8m-.8 .6h.8m-.8 .4h.8m-.8 3.7h.8m-.7-5.6h.8m-.8 .1h.8m-.7-1.2h.8m-.8 .5h.8m-.8 .5h.8m-.8 4.6h.8m-.7-4h.8m-.8 .5h.8m-.8 3.9h.8m-.6-6h.8m-.8 .7h.8m-.8 .2h.8m-.8 1.6h.8m-.7-2.4h.8m-.8 4.7h.8m-.8 1h.8m-.7-5.7h.8m-.8 2.9h.8m-.7-3.1h.8m-.8 1.9h.8m-.8 5.2h.8m-.7-1.8h.8m-.8 2h.8m-.7-7.4h.8m-.8 4.6h.8m-.5-2.7h.8m-.7-.2h.8m-.8 2.4h.8m-.8 1.9h.8m-.8 .2h.8m-.7-6h.8m-.8 1.7h.8m-.8 .6h.8m-.7-2.9h.8m-.8 2.4h.8m-.8 1.8h.8m-.7-4.3h.8m-.8 1.4h.8m-.8 1h.8m-.6-2.1h.8m-.8 1.2h.8m-.8 2.4h.8m-.7 .6h.8m-.7-4.4h.8m-.7-.6h.8m-.8 4.6h.8m-.8 .1h.8m-.8 1.4h.8m-.7-4.3h.8m-.7-1.4h.8m-.8 1.2h.8m-.8 .6h.8m-.8 6.1h.8m-.7-6.1h.8m-.8 3.2h.8m-.7-5.2h.8m-.8 .2h.8m-.8 .8h.8m-.7 0h.8m-.8 2.6h.8m-.8 4.6h.8m-.7-1.5h.8m-.6-6.3h.8m-.7 .7h.8m-.7 .6h.8m-.8 .6h.8m-.8 .4h.8m-.7 .3h.8m-.8 .7h.8m-.7-4.9h.8m-.8 .6h.8m-.7 6.3h.8m-.8 .8h.8m-.7 .7h.8m-.8 1h.8m-.7-9.1h.8m-.8 7.1h.8m-.7-3.7h.8m-.7-2.8h.8m-.8 5h.8m-.8 1.3h.8m-.7-6.8h.8m-.8 .6h.8m-.8 2.3h.8m-.7-2.2h.8m-.8 1.5h.8m-.8 4.2h.8m-.8 2.5h.8m-.7-6.9h.8m-.7-1.1h.8m-.7 1.2h.8m-.8 .8h.8m-.8 .6h.8m-.8 4.9h.8m-.7-4.4h.8m-.7-3.1h.8m-.8 6h.8m-.7-7.4h.8m-.8 2.2h.8m-.7-1h.8m-.8 1.5h.8m-.8 .4h.8m-.8 .1h.8m-.8 2.1h.8m-.8 .8h.8m-.8 .1h.8m-.7-4.9h.8m-.8 1.3h.8m-.7-3.6h.8m-.7 2.8h.8m-.8 4.1h.8m-.7-2.4h.8m-.7-2.4h.8m-.7 .2h.8m-.8 .5h.8m-.8 8h.8m-.6-11h.8m-.8 .4h.8m-.8 1.8h.8m-.8 3.8h.8m-.8 3.6h.8m-.7-9.7h.8m-.8 2.2h.8m-.8 1h.8m-.7-2.5h.8m-.8 .5h.8m-.8 6.7h.8m-.7 .8h.8m-.7-3.5h.8m-.6-3.3h.8m-.7-.7h.8m-.8 3.8h.8m-.7-.7h.8m-.7-1.7h.8m-.7-1.5h.8m-.6-.9h.8m-.8 4.7h.8m-.8 1.4h.8m-.7-3h.8m-.8 8.2h.8m-.6-9.9h.8m-.8 8.4h.8m-.8 1.8h.8m-.7-10.2h.8m-.8 1.4h.8m-.8 8.7h.8m-.7-5.6h.8m-.7-7.5h.8m-.8 4.7h.8m-.5-2.8h.8m-.8 2.6h.8m-.8 3.1h.8m-.8 3.7h.8m-.7-11.6h.8m-.8 1.5h.8m-.8 .6h.8m-.8 4.5h.8m-.7-4.6h.8m-.8 3.2h.8m-.7-5.2h.8m-.8 2.7h.8m-.8 .1h.8m-.7-.8h.8m-.8 9.8h.8m-.7-9.6h.8m-.8 7.9h.8m-.7-6.5h.8m-.8 6.8h.8m-.7-4.5h.8m-.7-5.4h.8m-.8 1.2h.8m-.8 1.3h.8m-.7-3.1h.8m-.8 12.8h.8m-.7-10.7h.8m-.8 11h.8m-.7-13.4h.8m-.8 .9h.8m-.8 1.4h.8m-.7-1.2h.8m-.8 .7h.8m-.8 3.5h.8m-.8 2.7h.8m-.7-3.9h.8m-.8 .2h.8m-.8 2.2h.8m-.6-2h.8m-.8 6.3h.8m-.7-8.4h.8m-.7 1h.8m-.8 .8h.8m-.8 .1h.8m-.8 4.2h.8m-.6 3.7h.8m-.7-11.5h.8m-.8 2.8h.8m-.7 .1h.8m-.8 5.3h.8m-.8 3.4h.8m-.7-10.8h.8m-.8 5.4h.8m-.7-3.8h.8m-.8 .5h.8m-.8 7.3h.8m-.7-5.8h.8m-.8 3.6h.8m-.7-5.8h.8m-.7-3.7h.8m-.8 1.6h.8m-.8 4.4h.8m-.8 1.3h.8m-.7-1.9h.8m-.8 1.5h.8m-.7-7.2h.8m-.7 3.6h.8m-.7 .5h.8m-.7 1.3h.8m-.7-1.2h.8m-.8 .9h.8m-.8 1.1h.8m-.8 5.2h.8m-.8 .1h.8m-.8 3.1h.8m-.7-14.8h.8m-.7 10.2h.8m-.7-2.8h.8m-.7-7.2h.8m-.8 3.5h.8m-.8 5.9h.8m-.7-10.2h.8m-.8 4.8h.8m-.8 .7h.8m-.7-3.8h.8m-.8 4.9h.8m-.6-6.9h.8m-.8 10.7h.8m-.7-10.8h.8m-.8 2.6h.8m-.7 5.4h.8m-.8 .1h.8m-.7-8.2h.8m-.8 3.7h.8m-.8 2.9h.8m-.8 4.1h.8m-.8 3.2h.8m-.6-12.3h.8m-.8 3.8h.8m-.8 2h.8m-.6-5.7h.8m-.8 9.6h.8m-.8 4.1h.8m-.7-15.2h.8m-.7 2.6h.8m-.8 7.4h.8m-.8 4.2h.8m-.7-12.4h.8m-.8 5.1h.8m-.8 .3h.8m-.7 3.9h.8m-.7-7.4h.8m-.8 7.5h.8m-.7-11.2h.8m-.8 .5h.8m-.8 2h.8m-.7-2.8h.8m-.7 1.5h.8m-.8 9.1h.8m-.7-4.5h.8m-.8 3.7h.8m-.7-8.6h.8m-.8 4.5h.8m-.8 6.5h.8m-.7-6.6h.8m-.6 2.5h.8m-.7-7.2h.8m-.8 1.5h.8m-.8 1.7h.8m-.8 .8h.8m-.8 9.2h.8m-.7-15.4h.8m-.8 1h.8m-.8 3.3h.8m-.8 1h.8m-.8 6h.8m-.8 1.9h.8m-.7-11.8h.8m-.7-.6h.8m-.8 .9h.8m-.8 .1h.8m-.8 8.3h.8m-.8 1.6h.8m-.8 .2h.8m-.8 .5h.8m-.6-11.6h.8m-.8 2.2h.8m-.8 9.5h.8m-.7 3.1h.8m-.7-15.9h.8m-.8 14.5h.8m-.7-4.5h.8m-.7-2.4h.8m-.7-3.8h.8m-.7-3.4h.8m-.8 .9h.8m-.7 3.3h.8m-.8 5.6h.8m-.8 2.5h.8m-.8 2.5h.8m-.7-13.9h.8m-.7 2.2h.8m-.8 5.7h.8m-.8 7.6h.8m-.7-12.4h.8m-.8 2.4h.8m-.8 .3h.8m-.8 4.1h.8m-.8 1.4h.8m-.7-9.2h.8m-.8 11.5h.8m-.7-11.4h.8m-.8 5h.8m-.8 2.9h.8m-.7-10.7h.8m-.8 5.5h.8m-.8 6.3h.8m-.7-12.4h.8m-.8 .1h.8m-.8 9.4h.8m-.8 .8h.8m-.8 3.9h.8m-.7-15.3h.8m-.8 12.3h.8m-.8 .7h.8m-.7-5h.8m-.8 4.1h.8m-.7-11.1h.8m-.8 1h.8m-.8 .1h.8m-.8 .4h.8m-.8 3.5h.8m-.8 2.3h.8m-.8 3.2h.8m-.7-4.9h.8m-.8 2.6h.8m-.8 .3h.8m-.8 .9h.8m-.8 1h.8m-.8 3.8h.8m-.7-15.3h.8m-.8 .8h.8m-.8 .4h.8m-.8 .6h.8m-.8 1.2h.8m-.8 3.3h.8m-.8 1.8h.8m-.8 .2h.8m-.8 3.8h.8m-.8 2h.8m-.7-9h.8m-.8 .5h.8m-.8 5.8h.8m-.8 2h.8m-.7-13h.8m-.8 9.8h.8m-.8 .6h.8m-.8 2.7h.8m-.7-13.5h.8m-.8 3.2h.8m-.8 3.3h.8m-.8 9h.8m-.7-12.6h.8m-.8 .6h.8m-.8 .3h.8m-.8 3.3h.8m-.8 3h.8m-.8 .2h.8m-.8 1.1h.8m-.7-6.7h.8m-.8 1.4h.8m-.8 .7h.8m-.8 .4h.8m-.8 2.7h.8m-.8 1.7h.8m-.7-10.1h.8m-.8 5h.8m-.8 1.5h.8m-.8 3h.8m-.8 5h.8m-.8 .2h.8m-.7-15.5h.8m-.8 .7h.8m-.8 1.2h.8m-.8 .3h.8m-.8 .6h.8m-.8 1.8h.8m-.8 .1h.8m-.8 1.7h.8m-.7-2.5h.8m-.8 2.4h.8m-.8 3.3h.8m-.8 .4h.8m-.8 1.4h.8m-.7-11.5h.8m-.8 5.1h.8m-.8 .5h.8m-.8 3.1h.8m-.7-6.6h.8m-.8 1h.8m-.8 1.4h.8m-.8 4.8h.8m-.7-6.9h.8m-.8 .6h.8m-.8 .6h.8m-.8 1.8h.8m-.8 2.4h.8m-.8 .5h.8m-.7-8.9h.8m-.8 2.4h.8m-.8 11h.8m-.7-11.9h.8m-.8 2.1h.8m-.8 5.1h.8m-.8 2.3h.8m-.8 7.2h.8m-.7-17.1h.8m-.8 3.6h.8m-.8 .4h.8m-.8 4.2h.8m-.8 .2h.8m-.7-5.4h.8m-.8 1.3h.8m-.8 6h.8m-.8 1.4h.8m-.7-12h.8m-.8 2.2h.8m-.8 3.3h.8m-.7-1.4h.8m-.7-4.3h.8m-.8 .1h.8m-.8 3.7h.8m-.8 4.2h.8m-.8 3.9h.8m-.8 3.4h.8m-.7-13.5h.8m-.8 .5h.8m-.7-2.9h.8m-.8 1.7h.8m-.8 1.2h.8m-.8 .3h.8m-.8 1.6h.8m-.8 .8h.8m-.8 .7h.8m-.8 5.7h.8m-.8 5.2h.8m-.7-16.6h.8m-.8 6.2h.8m-.8 4.3h.8m-.8 .7h.8m-.8 4.6h.8m-.7-15.9h.8m-.8 .4h.8m-.8 5.2h.8m-.8 .4h.8m-.8 9.7h.8m-.7-15.8h.8m-.8 1.8h.8m-.8 .6h.8m-.8 .4h.8m-.8 8.5h.8m-.7-8h.8m-.8 .2h.8m-.8 4.3h.8m-.8 .1h.8m-.8 1.2h.8m-.8 1h.8m-.8 2.1h.8m-.7-10.3h.8m-.8 .1h.8m-.8 .2h.8m-.8 3.1h.8m-.8 2.1h.8m-.8 .2h.8m-.8 .2h.8m-.7-5.2h.8m-.8 10.3h.8m-.7-9.3h.8m-.8 1.9h.8m-.8 2.8h.8m-.8 .3h.8m-.7-1.9h.8m-.8 1.9h.8m-.8 1.5h.8m-.7-10.2h.8m-.8 2h.8m-.8 4.2h.8m-.8 1.7h.8m-.7-6.9h.8m-.8 2.8h.8m-.8 .9h.8m-.8 6.6h.8m-.7-11.3h.8m-.8 5.8h.8m-.8 2.8h.8m-.8 .1h.8m-.8 5.3h.8m-.7-13.9h.8m-.8 1.8h.8m-.8 11.4h.8m-.8 1.7h.8m-.8 .8h.8m-.7-15.5h.8m-.8 1.5h.8m-.8 .1h.8m-.8 3.1h.8m-.8 1.9h.8m-.7-1.7h.8m-.8 2.4h.8m-.8 2.2h.8m-.8 .8h.8m-.7-10.9h.8m-.8 .2h.8m-.8 2.1h.8m-.8 2.4h.8m-.8 3.7h.8m-.8 3.3h.8m-.8 1.3h.8m-.8 .2h.8m-.7-9.4h.8m-.8 1.2h.8m-.8 .1h.8m-.8 8.1h.8m-.7-11.3h.8m-.8 1.4h.8m-.7 .3h.8m-.8 2.3h.8m-.8 3.6h.8m-.7-8.6h.8m-.8 2.2h.8m-.8 .6h.8m-.7-1.5h.8m-.8 1.1h.8m-.8 .5h.8m-.8 1.5h.8m-.8 .4h.8m-.8 6.2h.8m-.7-9.6h.8m-.8 .4h.8m-.8 1h.8m-.8 2.4h.8m-.8 .7h.8m-.8 .3h.8m-.8 4.8h.8m-.8 .1h.8m-.7-10.4h.8m-.8 .3h.8m-.8 .8h.8m-.8 2.1h.8m-.8 .2h.8m-.8 .4h.8m-.8 8.7h.8m-.7-14.1h.8m-.8 8.3h.8m-.8 2.8h.8m-.8 .3h.8m-.8 7h.8m-.7-15.3h.8m-.8 3h.8m-.8 3.3h.8m-.8 2.9h.8m-.7-5h.8m-.8 3.4h.8m-.7-8.7h.8m-.8 5h.8m-.8 3.9h.8m-.7-6.6h.8m-.8 3h.8m-.8 3.9h.8m-.7-8.4h.8m-.8 1h.8m-.8 1.1h.8m-.8 8.4h.8m-.7-10.2h.8m-.8 7.3h.8m-.7-6.4h.8m-.8 1h.8m-.8 5.1h.8m-.7-9.4h.8m-.8 .5h.8m-.8 1.2h.8m-.8 7.9h.8m-.8 3.9h.8m-.8 1.4h.8m-.7-14.3h.8m-.8 1.8h.8m-.8 5.1h.8m-.8 6.9h.8m-.7-15h.8m-.8 .1h.8m-.8 6.8h.8m-.8 5.5h.8m-.7-7.2h.8m-.8 7h.8m-.8 2.3h.8m-.7-14.1h.8m-.8 .5h.8m-.8 1.5h.8m-.8 .4h.8m-.8 6.7h.8m-.7-4h.8m-.8 2.1h.8m-.8 2.8h.8m-.7-8h.8m-.8 5.5h.8m-.8 9.3h.8m-.7-15.7h.8m-.8 5.5h.8m-.8 1.9h.8m-.8 2.2h.8m-.8 6h.8m-.7-6.3h.8m-.8 3.7h.8m-.8 4.3h.8m-.7-15.3h.8m-.8 7h.8m-.8 3.1h.8m-.7-12.3h.8m-.8 2.3h.8m-.8 1h.8m-.8 2h.8m-.8 .3h.8m-.8 .1h.8m-.8 1.5h.8m-.8 9h.8m-.7-17.4h.8m-.8 .9h.8m-.8 .1h.8m-.8 2.9h.8m-.8 2.5h.8m-.8 6.9h.8m-.7-13.3h.8m-.8 .8h.8m-.8 5.8h.8m-.8 2.6h.8m-.8 2.7h.8m-.7-8.7h.8m-.8 .9h.8m-.8 1.4h.8m-.7-5.6h.8m-.8 .2h.8m-.8 4.3h.8m-.8 9h.8m-.6-12.9h.8m-.8 1.2h.8m-.8 5.8h.8m-.7-6.1h.8m-.8 2.8h.8m-.7 2.4h.8m-.7-6.4h.8m-.8 1.7h.8m-.8 15.3h.8m-.7-9.8h.8m-.8 1.8h.8m-.8 2.4h.8m-.8 5.8h.8m-.7-16.3h.8m-.8 .2h.8m-.8 7.2h.8m-.8 .4h.8m-.8 1.9h.8m-.7-10.8h.8m-.8 1.2h.8m-.8 7.1h.8m-.8 5.3h.8m-.8 2h.8m-.7-13h.8m-.8 1.2h.8m-.7 .8h.8m-.8 1.1h.8m-.8 1.8h.8m-.8 .6h.8m-.8 9.1h.8m-.7-17.1h.8m-.8 1.3h.8m-.8 1.6h.8m-.8 5.3h.8m-.8 .5h.8m-.8 1.9h.8m-.8 3.7h.8m-.7-11.3h.8m-.8 1.1h.8m-.8 7.2h.8m-.8 2.4h.8m-.8 .4h.8m-.8 4.3h.8m-.7-8.8h.8m-.7-7.7h.8m-.8 3.5h.8m-.8 5.5h.8m-.8 3.1h.8m-.7-13.7h.8m-.8 6.6h.8m-.8 8.6h.8m-.8 .2h.8m-.7-12.6h.8m-.8 .3h.8m-.8 .5h.8m-.8 1.4h.8m-.8 11h.8m-.7-16.6h.8m-.8 11.1h.8m-.8 4.7h.8m-.7-15.5h.8m-.8 1.5h.8m-.8 .8h.8m-.7 4.1h.8m-.8 .1h.8m-.8 1.4h.8m-.8 5.6h.8m-.7-12.5h.8m-.8 .8h.8m-.8 2.6h.8m-.8 9.7h.8m-.7-9h.8m-.7-5.1h.8m-.7 2.8h.8m-.8 3.2h.8m-.8 1h.8m-.8 7.6h.8m-.7-7.6h.8m-.8 4.6h.8m-.8 1.8h.8m-.7-12.3h.8m-.8 1.3h.8m-.8 .7h.8m-.8 14.2h.8m-.7 1.2h.8m-.7-16.6h.8m-.8 .5h.8m-.8 .6h.8m-.8 4h.8m-.8 .1h.8m-.8 6.2h.8m-.7-12.3h.8m-.8 4.1h.8m-.8 .5h.8m-.7 1.5h.8m-.8 1.2h.8m-.8 1.6h.8m-.7-3.7h.8m-.8 5.6h.8m-.8 4.3h.8m-.7-13.3h.8m-.8 9.3h.8m-.6-11.5h.8m-.8 5.9h.8m-.8 1.4h.8m-.7-5.7h.8m-.8 .2h.8m-.8 4.7h.8m-.7-1.2h.8m-.8 5.4h.8m-.8 2.3h.8m-.8 1.9h.8m-.7-6.1h.8m-.7-9.6h.8m-.8 4.3h.8m-.8 5.5h.8m-.8 3.2h.8m-.7-12.5h.8m-.8 1.2h.8m-.8 1.2h.8m-.8 9.9h.8m-.7-12.6h.8m-.8 6.5h.8m-.8 .6h.8m-.7-6.7h.8m-.8 3.8h.8m-.8 5.6h.8m-.8 1h.8m-.8 1.2h.8m-.8 1.5h.8m-.7-13.6h.8m-.8 7.4h.8m-.8 3.7h.8m-.7-6.9h.8m-.8 2.5h.8m-.7 1.9h.8m-.7-5.2h.8m-.8 1.9h.8m-.8 .3h.8m-.8 1.5h.8m-.7 .8h.8m-.7-6.9h.8m-.8 .5h.8m-.8 1.2h.8m-.8 2.8h.8m-.8 1.2h.8m-.8 1.8h.8m-.8 1.5h.8m-.7-9.6h.8m-.7-.6h.8m-.8 13.5h.8m-.7-11.4h.8m-.8 13.8h.8m-.7-13.7h.8m-.8 2.2h.8m-.8 5h.8m-.8 .1h.8m-.7-6.7h.8m-.8 .1h.8m-.8 8.4h.8m-.8 2.8h.8m-.8 2.9h.8m-.7-4.5h.8m-.7-12.6h.8m-.8 2.6h.8m-.8 1.7h.8m-.8 1.2h.8m-.5-4.8h.8m-.8 .8h.8m-.8 3.1h.8m-.8 .5h.8m-.8 7.5h.8m-.8 3.7h.8m-.7-8.4h.8m-.7-3h.8m-.7 3.5h.8m-.7-3.5h.8m-.8 1.7h.8m-.7-6.1h.8m-.8 2h.8m-.8 2.8h.8m-.8 6.7h.8m-.8 5.7h.8m-.6-12.5h.8m-.8 5.8h.8m-.7-1h.8m-.7-8.3h.8m-.8 5.4h.8m-.7-.5h.8m-.8 6.3h.8m-.6-11h.8m-.7 2.1h.8m-.8 1.8h.8m-.7 2.5h.8m-.7 3.6h.8m-.8 2.7h.8m-.6-10.7h.8m-.7 8.5h.8m-.7-11.6h.8m-.8 16.7h.8m-.6 1.2h.8m-.7-15.7h.8m-.7 .9h.8m-.8 3.8h.8m-.8 .3h.8m-.7-6.9h.8m-.7 7.2h.8m-.6-2.4h.8m-.6-3.5h.8m-.8 4.9h.8m-.6-5.5h.8m-.8 2.8h.8m-.8 2.2h.8m-.7 11.9h.8m-.7-18.2h.8m-.8 3.6h.8m-.8 2.2h.8m-.7-5.7h.8m-.7 2.3h.8m-.7 7.2h.8m-.7-9.4h.8m-.8 3.6h.8m-.8 11.4h.8m-.6-13.2h.8m-.7-2h.8m-.7 7.3h.8m-.7-6.1h.8m-.8 10.9h.8m-.7-11.4h.8m-.8 6.3h.8m-.8 4h.8m-.7-4.4h.8m-.4-6h.8m-.8 11.7h.8m-.4-12.7h.8m-.8 5.2h.8m-.6-.3h.8m-.8 .6h.8m-.8 5.4h.8" stroke="#3b4ea6" stroke-width="0.8" fill="none"/>
<path d="M266.2 260.8h.8m-.6-8.5h.8m-.8 19.6h.8m-.7-15.9h.8m-.8 1.6h.8m-.8 1.9h.8m-.7-3.8h.8m-.7 7.7h.8m-.8 5.2h.8m-.7-8.1h.8m-.6-5.1h.8m-.7-12.2h.8m-.7 17.8h.8m-.7-9.4h.8m-.8 12.6h.8m-.7 5.2h.8m-.6-20h.8m-.8 11.3h.8m-.8 6.4h.8m-.8 3h.8m-.6-15.3h.8m-.8 .1h.8m-.8 1.8h.8m-.8 1.1h.8m-.8 3.4h.8m-.8 5.2h.8m-.8 4.9h.8m-.7-23.2h.8m-.8 11.8h.8m-.8 .7h.8m-.8 .1h.8m-.7-3.5h.8m-.8 9h.8m-.8 5.2h.8m-.7-18.5h.8m-.8 1.3h.8m-.8 2.4h.8m-.8 5.9h.8m-.8 2.5h.8m-.8 .2h.8m-.8 3h.8m-.7-5.3h.8m-.8 2.3h.8m-.7-11.9h.8m-.8 5.7h.8m-.8 3.3h.8m-.8 5.9h.8m-.8 1.1h.8m-.7-14.7h.8m-.8 3h.8m-.8 7.3h.8m-.7-9.9h.8m-.8 2.5h.8m-.8 7.3h.8m-.6-14.1h.8m-.8 1.2h.8m-.8 12.5h.8m-.8 .1h.8m-.7 1.6h.8m-.7-20.9h.8m-.8 6.5h.8m-.8 9.3h.8m-.8 .2h.8m-.8 .3h.8m-.7-6.1h.8m-.8 11.8h.8m-.7-6.9h.8m-.8 2.8h.8m-.7-8.4h.8m-.8 3.6h.8m-.8 1.7h.8m-.8 4.6h.8m-.8 6.3h.8m-.7-13.5h.8m-.8 7.8h.8m-.7-12.7h.8m-.8 .5h.8m-.8 3.4h.8m-.8 4.4h.8m-.7-7.6h.8m-.8 9.6h.8m-.8 6.1h.8m-.7-10h.8m-.8 2.2h.8m-.7-8.8h.8m-.8 5.1h.8m-.8 2.3h.8m-.8 3.4h.8m-.8 4h.8m-.7-9.8h.8m-.8 .9h.8m-.8 3.5h.8m-.8 1h.8m-.8 1.7h.8m-.7-6.9h.8m-.8 2.7h.8m-.8 1.5h.8m-.8 .2h.8m-.7-10.5h.8m-.8 4.1h.8m-.8 4.6h.8m-.8 3.6h.8m-.8 2.5h.8m-.7 .6h.8m-.8 .6h.8m-.7-13.4h.8m-.8 3.6h.8m-.8 3.8h.8m-.8 .9h.8m-.8 5.3h.8m-.7-12.4h.8m-.8 2h.8m-.8 .8h.8m-.7-8.1h.8m-.8 2h.8m-.8 3.1h.8m-.8 3.2h.8m-.8 9.9h.8m-.7-11.6h.8m-.8 12.7h.8m-.7-10.7h.8m-.8 .5h.8m-.8 3.8h.8m-.7-14.5h.8m-.8 9.8h.8m-.8 2.1h.8m-.8 .7h.8m-.8 4h.8m-.8 6.4h.8m-.7-19.5h.8m-.8 3.5h.8m-.8 4.5h.8m-.8 1.5h.8m-.8 8.1h.8m-.7-11.7h.8m-.7-9.8h.8m-.8 11.2h.8m-.8 3.7h.8m-.7-10.8h.8m-.8 1.5h.8m-.8 2.1h.8m-.8 6.1h.8m-.8 8.6h.8m-.7-24.1h.8m-.8 12.1h.8m-.8 .6h.8m-.8 3.6h.8m-.7-17.4h.8m-.8 5.9h.8m-.8 1.4h.8m-.8 5.1h.8m-.7-4h.8m-.8 8.9h.8m-.7 .6h.8m-.8 .2h.8m-.7-11.8h.8m-.8 8h.8m-.8 3.9h.8m-.8 2h.8m-.7-16.5h.8m-.8 .5h.8m-.8 5.1h.8m-.8 1.5h.8m-.8 2.3h.8m-.8 .4h.8m-.8 1.1h.8m-.8 1.1h.8m-.8 .4h.8m-.7-12.1h.8m-.8 1.5h.8m-.8 2.8h.8m-.8 7.8h.8m-.7-14.7h.8m-.8 14.7h.8m-.8 8.7h.8m-.7-21.4h.8m-.8 1.8h.8m-.8 7.2h.8m-.8 1.9h.8m-.8 1.6h.8m-.7 4.2h.8m-.8 .5h.8m-.7-15.4h.8m-.8 5h.8m-.8 5h.8m-.8 1.3h.8m-.8 5.6h.8m-.7-17.5h.8m-.8 3.6h.8m-.7-2.3h.8m-.8 1.6h.8m-.8 2.7h.8m-.8 3.3h.8m-.8 1.4h.8m-.8 .3h.8m-.7-15h.8m-.8 3h.8m-.8 .8h.8m-.8 7h.8m-.7-6.3h.8m-.8 2h.8m-.8 2.8h.8m-.8 1.6h.8m-.8 3.6h.8m-.7-7.9h.8m-.8 1.3h.8m-.8 1.1h.8m-.8 7.3h.8m-.8 4.7h.8m-.7-12.6h.8m-.8 1.1h.8m-.7-9.9h.8m-.8 6.3h.8m-.8 4.4h.8m-.8 1h.8m-.8 1h.8m-.8 .5h.8m-.8 .4h.8m-.8 5.1h.8m-.7-5h.8m-.8 1.7h.8m-.8 8.6h.8m-.7-19h.8m-.8 .4h.8m-.8 9h.8m-.7-9.8h.8m-.8 1.7h.8m-.8 5.2h.8m-.8 1.1h.8m-.7-3.4h.8m-.8 10.2h.8m-.8 2.4h.8m-.8 3.4h.8m-.7-20.9h.8m-.8 3.9h.8m-.8 2.4h.8m-.8 .4h.8m-.8 2.5h.8m-.7-9.5h.8m-.8 3.3h.8m-.8 3.7h.8m-.8 .6h.8m-.8 .3h.8m-.8 11.4h.8m-.8 1.4h.8m-.7-10.1h.8m-.8 1.7h.8m-.8 8.6h.8m-.7-17.6h.8m-.8 .7h.8m-.8 2h.8m-.8 2.6h.8m-.8 .7h.8m-.8 1.4h.8m-.7-12.4h.8m-.8 2.6h.8m-.8 2.8h.8m-.8 2h.8m-.8 .8h.8m-.8 .3h.8m-.8 .4h.8m-.8 12.4h.8m-.7-23.3h.8m-.8 .1h.8m-.8 1.9h.8m-.8 .2h.8m-.8 3.4h.8m-.8 3.4h.8m-.8 .8h.8m-.8 1h.8m-.7-10.5h.8m-.8 2.6h.8m-.8 .6h.8m-.8 1.8h.8m-.8 11.5h.8m-.8 2.7h.8m-.7-19.6h.8m-.8 .1h.8m-.8 1.4h.8m-.8 8h.8m-.8 2.4h.8m-.8 11.5h.8m-.7-23.7h.8m-.8 1h.8m-.8 6.3h.8m-.8 .9h.8m-.8 .5h.8m-.8 7.3h.8m-.8 8.9h.8m-.7-23.7h.8m-.8 3.8h.8m-.8 5.1h.8m-.8 .2h.8m-.8 1.5h.8m-.8 1.3h.8m-.8 3.1h.8m-.8 1.4h.8m-.7-13.9h.8m-.8 1.9h.8m-.8 4.9h.8m-.8 12.5h.8m-.7-22.6h.8m-.8 1.8h.8m-.8 1.8h.8m-.8 1.6h.8m-.8 1.1h.8m-.8 3.1h.8m-.8 .6h.8m-.8 2.4h.8m-.8 1.5h.8m-.8 .9h.8m-.8 3.5h.8m-.7-13.1h.8m-.8 3h.8m-.8 2.5h.8m-.8 2.6h.8m-.8 3.1h.8m-.8 5.2h.8m-.7-17h.8m-.8 5.5h.8m-.8 2h.8m-.8 .8h.8m-.8 3.1h.8m-.7-11.7h.8m-.8 2.7h.8m-.8 3.5h.8m-.8 .5h.8m-.8 .7h.8m-.8 2.8h.8m-.7-9.9h.8m-.8 3.5h.8m-.8 1h.8m-.8 2.2h.8m-.8 1.4h.8m-.8 .3h.8m-.7-12.1h.8m-.8 9.2h.8m-.8 11h.8m-.7-17.1h.8m-.8 2h.8m-.8 .4h.8m-.8 3.2h.8m-.7-11.6h.8m-.8 7.1h.8m-.8 4.3h.8m-.8 1.8h.8m-.8 4.5h.8m-.7-14.5h.8m-.8 9.4h.8m-.8 2.2h.8m-.8 13.9h.8m-.7-28.1h.8m-.8 12.7h.8m-.7-11.2h.8m-.8 3h.8m-.8 4.8h.8m-.8 .5h.8m-.8 4.6h.8m-.8 2.5h.8m-.8 4.2h.8m-.8 2.3h.8m-.7-24.1h.8m-.8 7.9h.8m-.8 .9h.8m-.8 4.2h.8m-.8 1.8h.8m-.8 .3h.8m-.8 .2h.8m-.8 2.6h.8m-.7-15.1h.8m-.8 1.2h.8m-.7 .4h.8m-.8 4.4h.8m-.8 4.8h.8m-.8 .3h.8m-.8 .3h.8m-.7-13.2h.8m-.8 3.2h.8m-.8 2h.8m-.8 2.7h.8m-.8 2.5h.8m-.8 .1h.8m-.8 2.7h.8m-.8 11.5h.8m-.7-25.1h.8m-.8 1.9h.8m-.8 .4h.8m-.8 1.7h.8m-.8 2.4h.8m-.8 15.6h.8m-.7-18.7h.8m-.8 4.6h.8m-.8 9.6h.8m-.8 1.6h.8m-.7-2.2h.8m-.7-17h.8m-.8 3.3h.8m-.8 2h.8m-.8 3h.8m-.8 2.2h.8m-.8 1.6h.8m-.8 .9h.8m-.8 1.5h.8m-.7-14.7h.8m-.8 13.1h.8m-.7-2.2h.8m-.8 1.1h.8m-.8 .1h.8m-.8 8.1h.8m-.7-12.5h.8m-.8 3.7h.8m-.8 .5h.8m-.8 .3h.8m-.8 .3h.8m-.7-9.7h.8m-.8 7.9h.8m-.8 .3h.8m-.8 .2h.8m-.8 2.3h.8m-.8 .4h.8m-.8 3.5h.8m-.7-14.4h.8m-.8 1.7h.8m-.8 5.4h.8m-.8 .6h.8m-.8 1.6h.8m-.8 .3h.8m-.8 .9h.8m-.8 .2h.8m-.7-7.1h.8m-.8 2.5h.8m-.8 3.5h.8m-.8 .1h.8m-.8 6.2h.8m-.7-17.9h.8m-.8 .4h.8m-.8 .9h.8m-.8 5.9h.8m-.8 5.4h.8m-.8 9.6h.8m-.7-17.6h.8m-.8 1.4h.8m-.8 4.5h.8m-.8 1.5h.8m-.8 .2h.8m-.8 7.2h.8m-.7-16.8h.8m-.8 3.2h.8m-.8 .5h.8m-.8 5.5h.8m-.8 4.8h.8m-.8 10.5h.8m-.7-28h.8m-.8 5.8h.8m-.8 .7h.8m-.8 .8h.8m-.8 .8h.8m-.8 2h.8m-.7-6.8h.8m-.8 1.7h.8m-.8 4.8h.8m-.8 1.6h.8m-.7-9.4h.8m-.8 .5h.8m-.8 4.4h.8m-.8 5.2h.8m-.8 10.5h.8m-.7-18.4h.8m-.8 .5h.8m-.8 .3h.8m-.8 2.5h.8m-.8 1.1h.8m-.8 .7h.8m-.8 1.7h.8m-.8 .7h.8m-.8 11.4h.8m-.7-23.1h.8m-.8 2.4h.8m-.8 2.5h.8m-.8 5h.8m-.8 1.5h.8m-.7-10.3h.8m-.8 1.2h.8m-.8 .3h.8m-.8 9.6h.8m-.8 .9h.8m-.7-12.8h.8m-.8 1.7h.8m-.8 1.3h.8m-.8 3h.8m-.8 .8h.8m-.8 2.1h.8m-.8 4.1h.8m-.8 2.2h.8m-.7-6.4h.8m-.8 2.9h.8m-.8 7.6h.8m-.7-13.6h.8m-.8 .4h.8m-.8 9.6h.8m-.8 1.4h.8m-.7-15.3h.8m-.8 1.3h.8m-.8 3.3h.8m-.8 1.5h.8m-.8 6.2h.8m-.7-13.7h.8m-.8 .5h.8m-.8 3.3h.8m-.8 .7h.8m-.8 6h.8m-.8 2.1h.8m-.7-12.6h.8m-.8 8.9h.8m-.8 .4h.8m-.8 6h.8m-.8 .1h.8m-.7-13.6h.8m-.8 .5h.8m-.8 1.8h.8m-.8 3.2h.8m-.8 .2h.8m-.8 2.4h.8m-.8 .6h.8m-.8 11.7h.8m-.7-22.5h.8m-.8 2.2h.8m-.8 11h.8m-.8 .5h.8m-.8 3.1h.8m-.7-13.2h.8m-.8 4.4h.8m-.8 3.3h.8m-.8 3.3h.8m-.7-4.5h.8m-.8 2.1h.8m-.7-12h.8m-.8 .2h.8m-.8 .6h.8m-.8 3.9h.8m-.8 2.5h.8m-.8 1.3h.8m-.8 3.2h.8m-.8 .5h.8m-.8 .7h.8m-.7-11.3h.8m-.8 9.6h.8m-.8 .8h.8m-.7-10.9h.8m-.8 3h.8m-.8 2.5h.8m-.8 .8h.8m-.8 4.2h.8m-.8 1.8h.8m-.7-8.9h.8m-.8 3h.8m-.8 3.2h.8m-.8 1.5h.8m-.7-12.1h.8m-.8 7.8h.8m-.8 .2h.8m-.8 .1h.8m-.8 4.5h.8m-.8 .1h.8m-.7-12.4h.8m-.8 1.6h.8m-.8 2h.8m-.8 1h.8m-.8 3.3h.8m-.8 .5h.8m-.8 .8h.8m-.8 .4h.8m-.8 6.4h.8m-.8 .2h.8m-.7-13.1h.8m-.8 9.2h.8m-.8 2h.8m-.8 2.3h.8m-.7-14.4h.8m-.8 4.3h.8m-.8 2.4h.8m-.8 1.5h.8m-.8 7.5h.8m-.7-19h.8m-.8 .2h.8m-.8 .8h.8m-.8 2.3h.8m-.8 1.1h.8m-.8 1.1h.8m-.8 .4h.8m-.7-4.5h.8m-.8 8.4h.8m-.8 3.1h.8m-.8 1.8h.8m-.8 2.9h.8m-.7-15.9h.8m-.8 .4h.8m-.8 .1h.8m-.8 .3h.8m-.8 3.1h.8m-.8 3.5h.8m-.8 8.8h.8m-.7-11.6h.8m-.8 .6h.8m-.8 1.7h.8m-.8 3.2h.8m-.8 .1h.8m-.8 7.2h.8m-.7-19.3h.8m-.8 .3h.8m-.8 .9h.8m-.8 3.3h.8m-.8 2.9h.8m-.8 6.3h.8m-.8 1.9h.8m-.8 .1h.8m-.7-13.2h.8m-.8 3.8h.8m-.8 1.1h.8m-.8 2.8h.8m-.8 .5h.8m-.8 .6h.8m-.8 5.4h.8m-.8 .5h.8m-.8 .4h.8m-.7-15.2h.8m-.8 1.4h.8m-.8 1.7h.8m-.8 2h.8m-.8 1.4h.8m-.8 1.3h.8m-.8 .2h.8m-.8 11.7h.8m-.7-21.8h.8m-.8 2.5h.8m-.8 .2h.8m-.8 9h.8m-.8 .9h.8m-.7-10.9h.8m-.8 .8h.8m-.8 4.1h.8m-.8 4.6h.8m-.8 3.8h.8m-.7-7.6h.8m-.8 .9h.8m-.8 .4h.8m-.8 8.9h.8m-.8 2.9h.8m-.7-17.4h.8m-.8 1.6h.8m-.8 3.1h.8m-.8 .6h.8m-.8 1.6h.8m-.8 3.7h.8m-.7-10.4h.8m-.8 2.1h.8m-.8 1.3h.8m-.8 .1h.8m-.8 .7h.8m-.8 2.6h.8m-.8 2.8h.8m-.7-9.6h.8m-.8 3.2h.8m-.8 7.9h.8m-.7-13h.8m-.8 1.7h.8m-.8 .2h.8m-.8 2.7h.8m-.8 .3h.8m-.8 2h.8m-.8 .8h.8m-.8 6.5h.8m-.8 5.1h.8m-.7-19h.8m-.8 .4h.8m-.8 1.5h.8m-.8 1.7h.8m-.8 .5h.8m-.8 2.6h.8m-.8 .9h.8m-.8 1.2h.8m-.8 3.5h.8m-.7-10.3h.8m-.8 2h.8m-.8 1.3h.8m-.8 2.5h.8m-.8 9.6h.8m-.7-19.1h.8m-.8 .1h.8m-.8 9.3h.8m-.8 1.4h.8m-.7-5.4h.8m-.8 2.1h.8m-.8 1.1h.8m-.7-1.6h.8m-.8 1h.8m-.8 3.4h.8m-.7-11h.8m-.8 .1h.8m-.8 1h.8m-.8 .1h.8m-.8 .6h.8m-.8 .6h.8m-.8 7.5h.8m-.7-10.7h.8m-.8 3h.8m-.8 10.4h.8m-.8 4.8h.8m-.7-16.5h.8m-.8 5.5h.8m-.8 9.2h.8m-.7-14.6h.8m-.8 1.1h.8m-.8 1.9h.8m-.8 .6h.8m-.8 1.7h.8m-.8 1.7h.8m-.8 1h.8m-.8 .3h.8m-.8 .5h.8m-.8 2.9h.8m-.8 3.3h.8m-.8 .6h.8m-.8 2.9h.8m-.7-17.9h.8m-.8 2h.8m-.8 .7h.8m-.8 .9h.8m-.8 1.8h.8m-.8 1.2h.8m-.8 3.6h.8m-.8 6.4h.8m-.7-18.8h.8m-.8 3.5h.8m-.8 7.6h.8m-.8 2h.8m-.7-13.3h.8m-.8 1.8h.8m-.8 1.8h.8m-.8 .2h.8m-.8 .3h.8m-.8 4.3h.8m-.8 3.4h.8m-.7-11.1h.8m-.8 6.7h.8m-.8 .8h.8m-.8 1.6h.8m-.8 4.3h.8m-.7-11.6h.8m-.8 4h.8m-.8 4h.8m-.7-8.3h.8m-.8 3.6h.8m-.8 5.4h.8m-.7-10.4h.8m-.8 .5h.8m-.8 .8h.8m-.8 4.7h.8m-.7-6.4h.8m-.8 .2h.8m-.8 1.6h.8m-.8 3.9h.8m-.7-5h.8m-.8 .5h.8m-.8 5.6h.8m-.8 .3h.8m-.8 .2h.8m-.8 3.2h.8m-.8 3.3h.8m-.7-9.7h.8m-.8 3.4h.8m-.8 3h.8m-.7-10.8h.8m-.8 .3h.8m-.8 5.6h.8m-.8 11.2h.8m-.8 .1h.8m-.8 5.3h.8m-.7-22.2h.8m-.8 .3h.8m-.8 1h.8m-.8 .8h.8m-.8 3.2h.8m-.7-4.3h.8m-.8 5.7h.8m-.8 .8h.8m-.7-.8h.8m-.7-6.3h.8m-.8 2.8h.8m-.8 2.5h.8m-.8 9.1h.8m-.8 6.6h.8m-.7-21.3h.8m-.8 4.2h.8m-.8 2.1h.8m-.8 2.7h.8m-.7-7.7h.8m-.8 2.5h.8m-.7 3.9h.8m-.8 .5h.8m-.7-6.7h.8m-.8 2.7h.8m-.8 1.6h.8m-.8 3.7h.8m-.8 2.2h.8m-.7-9.3h.8m-.8 3.2h.8m-.8 6.8h.8m-.7-12.5h.8m-.8 4.8h.8m-.8 .1h.8m-.8 .5h.8m-.8 2.6h.8m-.8 2.3h.8m-.8 1.7h.8m-.7-11.9h.8m-.8 1.5h.8m-.8 2.6h.8m-.8 1.4h.8m-.8 6.6h.8m-.8 4.1h.8m-.7-12.8h.8m-.8 .6h.8m-.8 4.9h.8m-.8 4.6h.8m-.7-13.1h.8m-.8 2.6h.8m-.8 7h.8m-.6-9.7h.8m-.8 4.1h.8m-.8 4.6h.8m-.7-7.1h.8m-.8 .7h.8" stroke="#ee2b2b" stroke-width="0.8" fill="none"/>
<text x="240" y="250.4" font-size="8.3" fill="#222">Intron</text>
<line x1="299.9" y1="241.7" x2="299.9" y2="292.3" stroke="#555" stroke-width="0.7"/>
<line x1="299.9" y1="292.3" x2="348.3" y2="292.3" stroke="#555" stroke-width="0.7"/>
<line x1="298.1" y1="292.3" x2="299.9" y2="292.3" stroke="#555" stroke-width="0.5"/>
<text x="297.4" y="294.1" font-size="5.2" text-anchor="end" fill="#333">0.00</text>
<line x1="298.1" y1="279.95" x2="299.9" y2="279.95" stroke="#555" stroke-width="0.5"/>
<text x="297.4" y="281.75" font-size="5.2" text-anchor="end" fill="#333">0.25</text>
<line x1="298.1" y1="267.6" x2="299.9" y2="267.6" stroke="#555" stroke-width="0.5"/>
<text x="297.4" y="269.4" font-size="5.2" text-anchor="end" fill="#333">0.50</text>
<line x1="298.1" y1="255.25" x2="299.9" y2="255.25" stroke="#555" stroke-width="0.5"/>
<text x="297.4" y="257.05" font-size="5.2" text-anchor="end" fill="#333">0.75</text>
<line x1="298.1" y1="242.9" x2="299.9" y2="242.9" stroke="#555" stroke-width="0.5"/>
<text x="297.4" y="244.7" font-size="5.2" text-anchor="end" fill="#333">1.00</text>
<line x1="299.9" y1="292.3" x2="299.9" y2="294.1" stroke="#555" stroke-width="0.5"/>
<text x="299.9" y="299.3" font-size="5.2" text-anchor="middle" fill="#333">0.0</text>
<line x1="323.6" y1="292.3" x2="323.6" y2="294.1" stroke="#555" stroke-width="0.5"/>
<text x="323.6" y="299.3" font-size="5.2" text-anchor="middle" fill="#333">0.5</text>
<line x1="347.3" y1="292.3" x2="347.3" y2="294.1" stroke="#555" stroke-width="0.5"/>
<text x="347.3" y="299.3" font-size="5.2" text-anchor="middle" fill="#333">1.0</text>
<path d="M300.5 286.3h.8m-.8 4.7h.8m-.7-6.1h.8m-.8 3.1h.8m-.7 1.1h.8m-.7-3.2h.8m-.8 5.4h.8m-.7-8.7h.8m-.8 8.3h.8m-.7-4.9h.8m-.8 3.1h.8m-.6-3.6h.8m-.8 .5h.8m-.8 2.7h.8m-.8 1.1h.8m-.8 .4h.8m-.8 .1h.8m-.5 0h.8m-.7-.1h.8m-.6 0h.8m-.7-4.3h.8m-.8 2.2h.8m-.7 1.1h.8m-.8 1.6h.8m-.7-1.8h.8m-.8 .5h.8m-.8 1.2h.8m-.6-.2h.8m-.7-3h.8m-.8 .8h.8m-.8 2.2h.8m-.7-3.2h.8m-.7-.8h.8m-.8 3.6h.8m-.7-4.9h.8m-.7 .6h.8m-.7-.7h.8m-.8 4.6h.8m-.8 .5h.8m-.7-3h.8m-.8 .2h.8m-.8 1.5h.8m-.8 .6h.8m-.7-3.2h.8m-.8 3.2h.8m-.6-4.7h.8m-.8 3.7h.8m-.7-7.7h.8m-.8 5.5h.8m-.7 2.9h.8m-.7-9.9h.8m-.8 2.4h.8m-.8 1.1h.8m-.8 2.5h.8m-.8 2h.8m-.7-.5h.8m-.5-3.1h.8m-.8 1.9h.8m-.8 3.8h.8m-.7-4.7h.8m-.8 1.4h.8m-.8 2.5h.8m-.7-6.4h.8m-.8 5.6h.8m-.7-3.8h.8m-.8 4h.8m-.6-8.2h.8m-.8 5.4h.8m-.8 .8h.8m-.8 1.4h.8m-.8 1.3h.8m-.7-10.1h.8m-.7 7.4h.8m-.7-.7h.8m-.5 0h.8m-.8 3.3h.8m-.6-4.1h.8m-.8 .8h.8m-.8 3.1h.8m-.7-3.5h.8m-.8 1.6h.8m-.6-3.8h.8m-.8 .5h.8m-.7-1.3h.8m-.8 2.3h.8m-.7 3.8h.8m-.7-3.3h.8m-.7-1.2h.8m-.8 1h.8m-.8 1.7h.8m-.7-1.8h.8m-.8 3.2h.8m-.7-10.7h.8m-.7 9.5h.8m-.6-.5h.8m-.8 .7h.8m-.7-7.2h.8m-.8 6.9h.8m-.7-7.2h.8m-.8 1h.8m-.8 .5h.8m-.7 6.1h.8m-.8 .4h.8m-.7-4h.8m-.8 1.7h.8m-.7-1.1h.8m-.7-3.1h.8m-.8 6.4h.8m-.7-5.6h.8m-.8 2.7h.8m-.8 2.7h.8m-.7-5.4h.8m-.8 1.7h.8m-.5-1.2h.8m-.3 4h.8m-.7-.7h.8m-.6 1h.8m-.7-13h.8m-.7 4h.8m-.7 7.3h.8m-.7 0h.8m-.6 1.2h.8m-.8 .2h.8m-.6-2.8h.8m-.6 .1h.8m-.8 2h.8m-.7 .2h.8m-.7-2.7h.8m-.8 .8h.8m-.7 .2h.8m-.6-1.8h.8m-.6-5.3h.8m-.8 5.2h.8m-.8 2.8h.8m-.4-8.8h.8m-.8 1.3h.8m-.7-1.8h.8m-.8 4.9h.8m-.6 .7h.8m-.5-1.6h.8m-.6 4.5h.8m-.7-1.2h.8m-.7-.8h.8m-.7-6.2h.8m-.4 5.2h.8m-.8 1.1h.8m-.2-4.7h.8m-.8 1.4h.8m-.8 3h.8m-.8 .6h.8m-.6-5.3h.8m-.7 5.9h.8m-.7-3h.8m-.1-5h.8m-.7 6.6h.8m-.4-7.4h.8m-.7 3.9h.8m-.6 2.3h.8m-.6-4h.8m-.8 .1h.8m-.8 1h.8m-.6 4.5h.8m-.6-9.5h.8m-.3 8.6h.8m-.7-4.6h.8m-.8 2.5h.8m-.7 1.6h.8m-.4-.6h.8m-.6-2.1h.8m-.5-1.9h.8m-.2-8.6h.8m-.3-.8h.8m-.3 11h.8m-.8 1.6h.8m-.5-3.5h.8m-.6 2.9h.8m-.4-1.2h.8m-.5-2.9h.8m-.7 3.7h.8m-.7-4.1h.8m-.4 1h.8m-.8 1.5h.8m.2-12.4h.8m.7 8h.8m.6 1.3h.8m-.8 .9h.8m-.3-8.6h.8m-.2 4.9h.8" stroke="#6a6a6a" stroke-width="0.8" fill="none"/>
<path d="M300.6 291.8h.8m-.8 .1h.8m-.7 0h.8m-.7 0h.8m-.7 0h.8m-.7-.2h.8m-.8 .2h.8m-.5-.3h.8m-.8 .2h.8m-.7 0h.8m-.8 .1h.8m-.7-.4h.8m-.8 .1h.8m-.8 .2h.8m-.6-.1h.8m-.8 .1h.8m-.7-.5h.8m-.6 0h.8m-.8 .2h.8m-.8 .2h.8m-.7-.3h.8m-.7 .2h.8m-.7 .2h.8m-.7-.4h.8m-.8 .4h.8m-.7-.3h.8m-.8 .1h.8m-.8 .3h.8m-.7-.5h.8m-.8 .5h.8m-.7 0h.8m-.7-.6h.8m-.7 .4h.8m-.6-.2h.8m-.7-.1h.8m-.8 .4h.8m-.7-1.5h.8m-.6 1.4h.8m-.7 0h.8m-.8 .1h.8m-.7-.4h.8m-.6-.1h.8m-.7-.7h.8m-.8 .6h.8m-.8 .2h.8m-.8 .2h.8m-.7-1.4h.8m-.8 .6h.8m-.7 .1h.8m-.8 1h.8m-.7-1.3h.8m-.8 .8h.8m-.8 .2h.8m-.7-1.2h.8m-.8 .5h.8m-.8 1h.8m-.7-.8h.8m-.7-1.3h.8m-.8 1.3h.8m-.8 .3h.8m-.8 .2h.8m-.7-1.8h.8m-.8 1.5h.8m-.8 .3h.8m-.6-1h.8m-.7-.9h.8m-.8 .3h.8m-.8 .3h.8m-.7 1.3h.8m-.7-.9h.8m-.7 .7h.8m-.7 .4h.8m-.6-2.9h.8m-.8 1.4h.8m-.8 .1h.8m-.8 1.5h.8m-.7-2.3h.8m-.8 .7h.8m-.7 .5h.8m-.8 .4h.8m-.7 .1h.8m-.7-.3h.8m-.8 .1h.8m-.7 .6h.8m-.7-1.7h.8m-.8 1h.8m-.8 .4h.8m-.8 .4h.8m-.7-1.6h.8m-.5 .7h.8m-.8 1h.8m-.7-1.4h.8m-.8 1.4h.8m-.7-2.7h.8m-.8 1.9h.8m-.8 .2h.8m-.8 .2h.8m-.7-.9h.8m-.8 .4h.8m-.7-1.1h.8m-.8 2h.8m-.7-1.5h.8m-.8 .4h.8m-.8 .6h.8m-.8 .5h.8m-.6-.1h.8m-.8 .1h.8m-.7-.9h.8m-.7-2.2h.8m-.6 2.4h.8m-.6-.2h.8m-.8 .1h.8m-.6-2.4h.8m-.8 1h.8m-.8 2.1h.8m-.7-1.7h.8m-.7 .1h.8m-.7 .1h.8m-.8 .9h.8m-.8 .4h.8m-.7-.6h.8m-.7-.4h.8m-.7 .3h.8m-.8 1h.8m-.7-.7h.8m-.7-1.4h.8m-.8 1.4h.8m-.7-3.1h.8m-.8 2.5h.8m-.8 1h.8m-.5-.9h.8m-.8 .2h.8m-.8 .6h.8m-.7-1.9h.8m-.7-.7h.8m-.8 2.6h.8m-.7-4.1h.8m-.8 2.1h.8m-.8 1.6h.8m-.8 .5h.8m-.8 .2h.8m-.7-2.3h.8m-.8 1.5h.8m-.7-2.8h.8m-.8 2.5h.8m-.8 .7h.8m-.8 .3h.8m-.8 .2h.8m-.6-.9h.8m-.8 .6h.8m-.7-3.1h.8m-.8 3.3h.8m-.7-1.9h.8m-.8 1.2h.8m-.8 .1h.8m-.8 .6h.8m-.7-4.9h.8m-.8 4.2h.8m-.7 .1h.8m-.8 .2h.8m-.6-2.1h.8m-.8 1.8h.8m-.8 .6h.8m-.8 .2h.8m-.6-.4h.8m-.8 .2h.8m-.7-3.7h.8m-.8 2.5h.8m-.7-.8h.8m-.7 0h.8m-.8 .7h.8m-.8 1h.8m-.7-3.6h.8m-.8 3.6h.8m-.7-2.5h.8m-.7-.7h.8m-.8 .9h.8m-.7 1.4h.8m-.8 1.2h.8m-.6-.1h.8m-.4-.6h.8m-.8 .9h.8m-.7-3.5h.8m-.7 1.8h.8m-.6 0h.8m-.8 .2h.8m-.7-4.9h.8m-.7 0h.8m-.8 5.8h.8m-.8 .5h.8m-.6-3.6h.8m-.7-.8h.8m-.8 3.1h.8m-.7 1.2h.8m-.7-1.6h.8m-.8 .3h.8m-.7-2.9h.8m-.8 2.8h.8m-.8 .4h.8m-.8 1.1h.8m-.6-.1h.8m-.5 .1h.8m-.7-6.6h.8m-.7 3.2h.8m-.8 1.6h.8m-.8 .4h.8m-.7-2h.8m-.6 .1h.8m-.8 2.8h.8m-.7-5.8h.8m-.8 4.4h.8m-.8 .1h.8m-.4-1.5h.8m-.8 .2h.8m-.7 2.9h.8m-.8 .2h.8m-.7-.8h.8m-.8 .1h.8m-.4-.5h.8m-.6-1.4h.8m-.6-4.6h.8m-.8 3.5h.8m-.8 2.8h.8m-.7-3.3h.8m-.8 4.1h.8m-.7-1.9h.8m-.7-1.4h.8m-.7 1.2h.8m-.7-1.7h.8m-.8 .8h.8m-.8 1h.8m-.7 0h.8m-.8 .8h.8m-.8 1.4h.8m-.6-2.5h.8m-.7-.2h.8m-.7-.8h.8m-.7 0h.8m-.8 3.2h.8m-.7-5.8h.8m-.8 2.4h.8m-.7 3.3h.8m-.7 .3h.8m-.7-.2h.8m-.6-3.1h.8m-.7-.4h.8m-.8 3.5h.8m-.7-11h.8m-.7 10h.8m-.7-7.5h.8m-.8 6.3h.8m-.6-3.7h.8m-.8 .8h.8m-.8 3h.8m-.7-4.2h.8m-.7-1.5h.8m-.8 5.6h.8m-.7-5.9h.8m-.7 4.4h.8m-.7-1.3h.8m-.8 .2h.8m-.7-1.1h.8m-.8 1h.8m-.8 4.7h.8m-.7-6.2h.8m-.8 5.4h.8m-.8 .2h.8m-.7-1.4h.8m-.4-6.8h.8m-.8 4.9h.8m-.8 1h.8m-.5-6.2h.8m-.8 1.8h.8m-.8 4.5h.8m-.7 1.4h.8m-.7 .6h.8m-.7 .9h.8m-.8 .1h.8m-.8 .3h.8m-.6-6.9h.8m-.7 6.5h.8m-.7-11.2h.8m-.7 .9h.8m-.8 7.7h.8m-.8 .1h.8m-.7-3.4h.8m-.8 6h.8m-.7-1.3h.8m-.8 .3h.8m-.7-3h.8m-.8 1.1h.8m-.7 2.8h.8m-.7-1.3h.8m-.8 .7h.8m-.5-3.3h.8m-.8 2.7h.8m-.6-7.7h.8m-.8 3.2h.8m-.8 3.8h.8m-.7 1.2h.8m-.6-5.1h.8m-.6 5.4h.8m-.7-5h.8m-.8 4.3h.8m-.8 .3h.8m-.5-4.5h.8m-.7-1.7h.8m-.8 6.2h.8m-.8 .3h.8m-.6-9h.8m-.8 2.9h.8m-.6 5.8h.8m-.8 1.1h.8m-.7-3.2h.8m-.7 1.4h.8m-.8 1.5h.8m-.7-.3h.8m-.7-10.2h.8m-.8 1.6h.8m-.8 8.3h.8m-.7 .2h.8m-.6-2.5h.8m-.8 3.3h.8m-.7-9.5h.8m-.8 9.2h.8m-.7-2.4h.8m-.8 2.4h.8m-.7-12.5h.8m-.8 12.5h.8m-.6-3h.8m-.7 3h.8m-.7-4.9h.8m-.8 3.8h.8m-.7-3.2h.8m-.2 .6h.8m-.7-.9h.8m-.8 2.4h.8m-.8 2h.8m-.8 .2h.8m-.7-6.1h.8m-.8 6.2h.8m-.7-4.7h.8m-.6-2.3h.8m-.8 3h.8m-.7 1h.8m-.7-4h.8m-.7 7.1h.8m-.6-.5h.8m-.8 .3h.8m-.7-2.3h.8m-.4-.5h.8m-.7 2.3h.8m-.6-1.2h.8m-.7-4.3h.8m-.7-1.4h.8m-.8 1.8h.8m-.8 2.9h.8m-.8 .5h.8m-.6-6.4h.8m-.8 6.6h.8m-.5 1.9h.8m-.7-8.4h.8m-.6 6.6h.8m-.8 1.2h.8m-.8 .1h.8m-.7-.1h.8m-.8 1h.8m-.6-1.1h.8m-.7-10.1h.8m-.8 7.4h.8m-.7 3.8h.8m-.6-5.1h.8m-.7 4.9h.8m-.7-.4h.8m-.7-10.5h.8m-.7 3.8h.8m-.7 .6h.8m-.8 3.2h.8m-.7 1.2h.8m-.7 2.1h.8m-.5-6.8h.8m-.7 2.7h.8m-.7-8.8h.8m-.7 4.1h.8m-.7-3h.8m-.4 6.3h.8m-.8 5.4h.8m-.6-.4h.8m-.6-10.8h.8m-.8 8h.8m-.7-8h.8m-.8 9.6h.8m-.7 1.9h.8m-.7 0h.8m-.7-15.2h.8m-.8 10.6h.8m-.8 3.7h.8m-.6-8.6h.8m-.7 3.2h.8m-.6-2.3h.8m-.8 3.4h.8m-.7-2.1h.8m-.8 2h.8m-.8 4.8h.8m-.7-8.5h.8m-.8 4h.8m-.6-3.9h.8m-.7 4.9h.8m-.5-5h.8m-.7 5.4h.8m-.5 2.2h.8m-.7-5.1h.8m-.7 5.9h.8m-.7-.9h.8m-.8 .5h.8m-.7-.3h.8m-.6-3.5h.8m-.8 1.2h.8m-.8 1.4h.8m-.2 .5h.8m-.7-2.1h.8m-.7 2.5h.8m-.6 1.1h.8m-.7-4.7h.8m-.7 3.2h.8m-.6 .5h.8m-.7-5.3h.8m-.8 .9h.8m-.7-2.8h.8m-.7 1.3h.8m-.7 2.6h.8m-.8 3.9h.8m-.7-.1h.8m-.7-4.9h.8m-.8 5.5h.8m-.8 .1h.8m-.7-12h.8m-.7 10.3h.8m-.7-3.8h.8m-.7-3h.8m-.8 5.7h.8m-.6-.2h.8m-.5-3.3h.8m-.7-2.9h.8m-.7 8.5h.8m-.8 .2h.8m-.4-15.1h.8m-.4 14h.8m-.7-5.1h.8m-.7 3.5h.8m-.2-10.6h.8m-.8 5.3h.8m-.8 4.6h.8m-.7-6.1h.8m-.2 7.7h.8m-.7-9.1h.8m-.8 7.6h.8m-.7-11.2h.8m-.5 12.9h.8m-.6 2h.8m-.7 0h.8m-.6-9h.8m-.8 8.1h.8m-.7-3h.8m-.7-1.4h.8m0 3.1h.8m-.6 1.2h.8m-.5-3.8h.8m-.8 3.3h.8m-.7 .9h.8m-.3-6.3h.8m-.5 6.9h.8m-.7-5h.8m-.7 5.1h.8m-.5-.3h.8m-.3-6.6h.8m-.7 6.5h.8m0-7h.8m-.4-1.2h.8m-.5-4.8h.8m-.7 4.9h.8m-.7 4.1h.8m-.7 1.6h.8m-.4 1.8h.8m-.4-1.8h.8m-.7-6h.8m-.8 4.5h.8m-.8 2.8h.8m-.5 .2h.8m-.7-3.6h.8m-.7-1.9h.8m-.2 2.3h.8m-.7 0h.8" stroke="#3b4ea6" stroke-width="0.8" fill="none"/>
<path d="M329.1 270.4h.8m-.7-.2h.8m-.5-3.8h.8m-.3-2.9h.8m-.3-6.6h.8m-.4 9h.8m-.4-.7h.8m-.6-4.5h.8m-.3-6.7h.8m0 16.4h.8m-.7-8.6h.8m-.8 2.4h.8m-.7 .6h.8m-.4 .2h.8m-.5-11.6h.8m-.7 .8h.8m-.5-1h.8m.8 5.3h.8m-.7 5.4h.8m-.4-8.9h.8m-.7-11.2h.8m-.7 8.5h.8m-.3 4.6h.8m-.4-.7h.8m.9-7.2h.8m-.7 6.3h.8m-.3 7.5h.8m-.6-6.7h.8m-.4-10.1h.8m.3 15.5h.8m-.7-10.9h.8m-.8 3.6h.8m-.7 3.7h.8m-.6-1.9h.8m1.7 8.2h.8m-.3-21h.8m-.5 6.5h.8m.2 .2h.8m-.5 10.1h.8m-.6-10.7h.8m-.3-3.2h.8" stroke="#ee2b2b" stroke-width="0.8" fill="none"/>
<text x="302.5" y="250.4" font-size="8.3" fill="#222">5'</text>
<line x1="362.1" y1="241.7" x2="362.1" y2="292.3" stroke="#555" stroke-width="0.7"/>
<line x1="362.1" y1="292.3" x2="410.5" y2="292.3" stroke="#555" stroke-width="0.7"/>
<line x1="360.3" y1="292.3" x2="362.1" y2="292.3" stroke="#555" stroke-width="0.5"/>
<text x="359.6" y="294.1" font-size="5.2" text-anchor="end" fill="#333">0.00</text>
<line x1="360.3" y1="279.95" x2="362.1" y2="279.95" stroke="#555" stroke-width="0.5"/>
<text x="359.6" y="281.75" font-size="5.2" text-anchor="end" fill="#333">0.25</text>
<line x1="360.3" y1="267.6" x2="362.1" y2="267.6" stroke="#555" stroke-width="0.5"/>
<text x="359.6" y="269.4" font-size="5.2" text-anchor="end" fill="#333">0.50</text>
<line x1="360.3" y1="255.25" x2="362.1" y2="255.25" stroke="#555" stroke-width="0.5"/>
<text x="359.6" y="257.05" font-size="5.2" text-anchor="end" fill="#333">0.75</text>
<line x1="360.3" y1="242.9" x2="362.1" y2="242.9" stroke="#555" stroke-width="0.5"/>
<text x="359.6" y="244.7" font-size="5.2" text-anchor="end" fill="#333">1.00</text>
<line x1="362.1" y1="292.3" x2="362.1" y2="294.1" stroke="#555" stroke-width="0.5"/>
<text x="362.1" y="299.3" font-size="5.2" text-anchor="middle" fill="#333">0.0</text>
<line x1="385.8" y1="292.3" x2="385.8" y2="294.1" stroke="#555" stroke-width="0.5"/>
<text x="385.8" y="299.3" font-size="5.2" text-anchor="middle" fill="#333">0.5</text>
<line x1="409.5" y1="292.3" x2="409.5" y2="294.1" stroke="#555" stroke-width="0.5"/>
<text x="409.5" y="299.3" font-size="5.2" text-anchor="middle" fill="#333">1.0</text>
<path d="M362.8 289h.8m-.5 2.2h.8m-.6-4.8h.8m-.5 4h.8m-.5-4.3h.8m-.4 0h.8m-.3 .7h.8m-.3-1.4h.8m-.4 .8h.8m-.2 1.8h.8m-.6-1h.8m-.7 1.9h.8m-.3-1.1h.8m-.3-4h.8m-.7-.5h.8m1 3.3h.8m-.3-5.2h.8m3.3 2h.8m11.1-18.3h.8m1.5-8.3h.8" stroke="#6a6a6a" stroke-width="0.8" fill="none"/>
<path d="M362.7 291.9h.8m-.7 0h.8m-.5 0h.8m1.4-.1h.8m-.7-.4h.8m.3 .3h.8m.7 .2h.8m1-1.2h.8m-.2 .8h.8m-.3 .3h.8m.3-3.3h.8m-.7 3.4h.8m1-.4h.8m.5-.2h.8m-.3-1.7h.8m-.4-1.8h.8m-.3 .1h.8m-.2 3.8h.8m0-1.3h.8m-.4 .8h.8m.1 .3h.8m-.1-4.5h.8m-.6 .7h.8m1.5 4h.8m.5-2.4h.8m-.5-2.8h.8m1.2 1.9h.8m.4 1.1h.8m-.1 1.5h.8m.4-12.7h.8m-.4 13.4h.8m1.2-.2h.8m1.5-4.5h.8m.6-6.6h.8m1.6 8.1h.8m-.4-4.3h.8m.8 6.2h.8m.8 1.2h.8m-.5 .2h.8m0-1.2h.8m.7-2.4h.8m2.7 3.5h.8m-.7-10.1h.8m-.8 2.7h.8m.5 7.5h.8" stroke="#3b4ea6" stroke-width="0.8" fill="none"/>
<path d="M408.8 243.6h.8m-.8 14.1h.8" stroke="#ee2b2b" stroke-width="0.8" fill="none"/>
<text x="364.7" y="250.4" font-size="8.3" fill="#222">SJ</text>
<text x="320.4" y="311.5" font-size="7.2" text-anchor="middle" fill="#222">WN</text>
<text x="223.6" y="235" font-size="7.2" text-anchor="middle" fill="#222" transform="rotate(-90 223.6 235)">WNN</text>
<text x="424" y="171.2" font-size="11.5" fill="#111" font-weight="bold">e</text>
<line x1="450.3" y1="184.5" x2="450.3" y2="292.3" stroke="#444" stroke-width="0.7"/>
<line x1="450.3" y1="292.3" x2="614.3" y2="292.3" stroke="#444" stroke-width="0.7"/>
<line x1="448.3" y1="292.3" x2="450.3" y2="292.3" stroke="#444" stroke-width="0.5"/>
<text x="447.3" y="294.5" font-size="6.3" text-anchor="end" fill="#333">0.00</text>
<line x1="448.3" y1="265.55" x2="450.3" y2="265.55" stroke="#444" stroke-width="0.5"/>
<text x="447.3" y="267.75" font-size="6.3" text-anchor="end" fill="#333">0.01</text>
<line x1="448.3" y1="238.8" x2="450.3" y2="238.8" stroke="#444" stroke-width="0.5"/>
<text x="447.3" y="241" font-size="6.3" text-anchor="end" fill="#333">0.02</text>
<line x1="448.3" y1="212.05" x2="450.3" y2="212.05" stroke="#444" stroke-width="0.5"/>
<text x="447.3" y="214.25" font-size="6.3" text-anchor="end" fill="#333">0.03</text>
<line x1="448.3" y1="185.3" x2="450.3" y2="185.3" stroke="#444" stroke-width="0.5"/>
<text x="447.3" y="187.5" font-size="6.3" text-anchor="end" fill="#333">0.04</text>
<text x="429.5" y="238.7" font-size="6.5" text-anchor="middle" fill="#333" transform="rotate(-90 429.5 238.7)">% of As that are edited</text>
<rect x="457.2" y="282.4" width="1.75" height="9.9" fill="#1f77b4"/>
<rect x="458.95" y="272.24" width="1.75" height="20.06" fill="#aec7e8"/>
<rect x="460.7" y="273.04" width="1.75" height="19.26" fill="#ff7f0e"/>
<rect x="462.45" y="271.44" width="1.75" height="20.86" fill="#ffbb78"/>
<rect x="464.2" y="291.5" width="1.75" height="0.8" fill="#2ca02c"/>
<rect x="465.95" y="286.15" width="1.75" height="6.15" fill="#98df8a"/>
<rect x="467.7" y="292.03" width="1.75" height="0.27" fill="#d62728"/>
<rect x="469.45" y="291.5" width="1.75" height="0.8" fill="#ff9896"/>
<line x1="464.2" y1="292.3" x2="464.2" y2="294.3" stroke="#444" stroke-width="0.5"/>
<text x="466.3" y="296.1" font-size="6.3" text-anchor="end" fill="#333" transform="rotate(-90 466.3 296.1)">5'</text>
<rect x="483.9" y="264.21" width="1.75" height="28.09" fill="#1f77b4"/>
<rect x="485.65" y="255.65" width="1.75" height="36.65" fill="#aec7e8"/>
<rect x="487.4" y="224.09" width="1.75" height="68.21" fill="#ff7f0e"/>
<rect x="489.15" y="228.1" width="1.75" height="64.2" fill="#ffbb78"/>
<rect x="490.9" y="291.76" width="1.75" height="0.54" fill="#2ca02c"/>
<rect x="492.65" y="288.02" width="1.75" height="4.28" fill="#98df8a"/>
<rect x="494.4" y="292.03" width="1.75" height="0.27" fill="#d62728"/>
<rect x="496.15" y="292.03" width="1.75" height="0.27" fill="#ff9896"/>
<line x1="490.9" y1="292.3" x2="490.9" y2="294.3" stroke="#444" stroke-width="0.5"/>
<text x="493" y="296.1" font-size="6.3" text-anchor="end" fill="#333" transform="rotate(-90 493 296.1)">Rec</text>
<rect x="511.3" y="264.21" width="1.75" height="28.09" fill="#1f77b4"/>
<rect x="513.05" y="254.31" width="1.75" height="37.98" fill="#aec7e8"/>
<rect x="514.8" y="200.01" width="1.75" height="92.29" fill="#ff7f0e"/>
<rect x="516.55" y="191.99" width="1.75" height="100.31" fill="#ffbb78"/>
<rect x="518.3" y="290.96" width="1.75" height="1.34" fill="#2ca02c"/>
<rect x="520.05" y="288.29" width="1.75" height="4.01" fill="#98df8a"/>
<rect x="523.55" y="292.03" width="1.75" height="0.27" fill="#ff9896"/>
<line x1="518.3" y1="292.3" x2="518.3" y2="294.3" stroke="#444" stroke-width="0.5"/>
<text x="520.4" y="296.1" font-size="6.3" text-anchor="end" fill="#333" transform="rotate(-90 520.4 296.1)">Syn</text>
<rect x="539" y="288.02" width="1.75" height="4.28" fill="#1f77b4"/>
<rect x="540.75" y="287.49" width="1.75" height="4.81" fill="#aec7e8"/>
<rect x="542.5" y="285.88" width="1.75" height="6.42" fill="#ff7f0e"/>
<rect x="544.25" y="286.95" width="1.75" height="5.35" fill="#ffbb78"/>
<rect x="546" y="290.69" width="1.75" height="1.6" fill="#2ca02c"/>
<rect x="547.75" y="288.82" width="1.75" height="3.48" fill="#98df8a"/>
<rect x="549.5" y="291.76" width="1.75" height="0.54" fill="#d62728"/>
<rect x="551.25" y="291.5" width="1.75" height="0.8" fill="#ff9896"/>
<line x1="546" y1="292.3" x2="546" y2="294.3" stroke="#444" stroke-width="0.5"/>
<text x="548.1" y="296.1" font-size="6.3" text-anchor="end" fill="#333" transform="rotate(-90 548.1 296.1)">Intron</text>
<rect x="566.4" y="285.88" width="1.75" height="6.42" fill="#1f77b4"/>
<rect x="568.15" y="271.97" width="1.75" height="20.33" fill="#aec7e8"/>
<rect x="569.9" y="277.05" width="1.75" height="15.25" fill="#ff7f0e"/>
<rect x="571.65" y="262.07" width="1.75" height="30.23" fill="#ffbb78"/>
<rect x="573.4" y="291.5" width="1.75" height="0.8" fill="#2ca02c"/>
<rect x="575.15" y="277.86" width="1.75" height="14.45" fill="#98df8a"/>
<rect x="576.9" y="292.03" width="1.75" height="0.27" fill="#d62728"/>
<rect x="578.65" y="290.96" width="1.75" height="1.34" fill="#ff9896"/>
<line x1="573.4" y1="292.3" x2="573.4" y2="294.3" stroke="#444" stroke-width="0.5"/>
<text x="575.5" y="296.1" font-size="6.3" text-anchor="end" fill="#333" transform="rotate(-90 575.5 296.1)">SJ</text>
<rect x="593.5" y="262.61" width="1.75" height="29.69" fill="#1f77b4"/>
<rect x="595.25" y="219" width="1.75" height="73.3" fill="#aec7e8"/>
<rect x="597" y="217.4" width="1.75" height="74.9" fill="#ff7f0e"/>
<rect x="598.75" y="189.05" width="1.75" height="103.26" fill="#ffbb78"/>
<rect x="600.5" y="286.95" width="1.75" height="5.35" fill="#2ca02c"/>
<rect x="602.25" y="241.48" width="1.75" height="50.82" fill="#98df8a"/>
<rect x="604" y="291.5" width="1.75" height="0.8" fill="#d62728"/>
<rect x="605.75" y="284.01" width="1.75" height="8.29" fill="#ff9896"/>
<line x1="600.5" y1="292.3" x2="600.5" y2="294.3" stroke="#444" stroke-width="0.5"/>
<text x="602.6" y="296.1" font-size="6.3" text-anchor="end" fill="#333" transform="rotate(-90 602.6 296.1)">3'</text>
<rect x="621.7" y="191.3" width="15.5" height="5.4" fill="#1f77b4"/>
<text x="643.8" y="196.7" font-size="7.7" fill="#222">Neural -</text>
<rect x="621.7" y="202.39" width="15.5" height="5.4" fill="#aec7e8"/>
<text x="643.8" y="207.79" font-size="7.7" fill="#222">Neural +</text>
<rect x="621.7" y="213.48" width="15.5" height="5.4" fill="#ff7f0e"/>
<text x="643.8" y="218.88" font-size="7.7" fill="#222">Ubiq-Low -</text>
<rect x="621.7" y="224.57" width="15.5" height="5.4" fill="#ffbb78"/>
<text x="643.8" y="229.97" font-size="7.7" fill="#222">Ubiq-Low +</text>
<rect x="621.7" y="235.66" width="15.5" height="5.4" fill="#2ca02c"/>
<text x="643.8" y="241.06" font-size="7.7" fill="#222">Ubiq-Med -</text>
<rect x="621.7" y="246.75" width="15.5" height="5.4" fill="#98df8a"/>
<text x="643.8" y="252.15" font-size="7.7" fill="#222">Ubiq-Med +</text>
<rect x="621.7" y="257.84" width="15.5" height="5.4" fill="#d62728"/>
<text x="643.8" y="263.24" font-size="7.7" fill="#222">Ubiq-High -</text>
<rect x="621.7" y="268.93" width="15.5" height="5.4" fill="#ff9896"/>
<text x="643.8" y="274.33" font-size="7.7" fill="#222">Ubiq-High +</text>
<line x1="417.3" y1="172" x2="417.3" y2="317" stroke="#e8e8e8" stroke-width="0.6"/>
<text x="-0.3" y="329.5" font-size="12" fill="#111" font-weight="bold">f</text>
<line x1="29.9" y1="327.5" x2="29.9" y2="440.5" stroke="#555" stroke-width="0.7"/>
<line x1="29.9" y1="440.5" x2="133" y2="440.5" stroke="#555" stroke-width="0.7"/>
<line x1="27.9" y1="440.5" x2="29.9" y2="440.5" stroke="#555" stroke-width="0.5"/>
<text x="26.9" y="442.9" font-size="6.8" text-anchor="end" fill="#333">0.0</text>
<line x1="27.9" y1="418.1" x2="29.9" y2="418.1" stroke="#555" stroke-width="0.5"/>
<text x="26.9" y="420.5" font-size="6.8" text-anchor="end" fill="#333">0.2</text>
<line x1="27.9" y1="395.7" x2="29.9" y2="395.7" stroke="#555" stroke-width="0.5"/>
<text x="26.9" y="398.1" font-size="6.8" text-anchor="end" fill="#333">0.4</text>
<line x1="27.9" y1="373.3" x2="29.9" y2="373.3" stroke="#555" stroke-width="0.5"/>
<text x="26.9" y="375.7" font-size="6.8" text-anchor="end" fill="#333">0.6</text>
<line x1="27.9" y1="350.9" x2="29.9" y2="350.9" stroke="#555" stroke-width="0.5"/>
<text x="26.9" y="353.3" font-size="6.8" text-anchor="end" fill="#333">0.8</text>
<line x1="27.9" y1="328.5" x2="29.9" y2="328.5" stroke="#555" stroke-width="0.5"/>
<text x="26.9" y="330.9" font-size="6.8" text-anchor="end" fill="#333">1.0</text>
<line x1="82.8" y1="440.5" x2="82.8" y2="442.5" stroke="#555" stroke-width="0.5"/>
<text x="82.8" y="450.5" font-size="6.8" text-anchor="middle" fill="#333">Rec</text>
<text x="12" y="385" font-size="6.8" text-anchor="middle" fill="#333" transform="rotate(-90 12 385)">Edit frequency</text>
<path d="M40.1,440.5L39.7,437.14L39.45,431.54L39.38,418.1L39.32,395.7L39.25,368.82L39.15,368.82L39.08,395.7L39.02,418.1L38.95,431.54L38.7,437.14L38.3,440.5Z" fill="#efc27a" stroke="none" stroke-width="0.6"/>
<path d="M40.9,440.5L40.4,438.82L39.7,436.02L39.35,432.66L39.25,429.3L39.15,429.3L39.05,432.66L38.7,436.02L38,438.82L37.5,440.5Z" fill="#e8a226" stroke="none" stroke-width="0.6"/>
<path d="M43.75,440.5L43.35,437.14L43.1,431.54L43.03,418.1L42.97,395.7L42.9,381.14L42.8,381.14L42.73,395.7L42.67,418.1L42.6,431.54L42.35,437.14L41.95,440.5Z" fill="#efc27a" stroke="none" stroke-width="0.6"/>
<path d="M44.55,440.5L44.05,438.82L43.35,436.02L43,432.66L42.9,429.3L42.8,429.3L42.7,432.66L42.35,436.02L41.65,438.82L41.15,440.5Z" fill="#e8a226" stroke="none" stroke-width="0.6"/>
<path d="M47.39,440.5L46.99,437.14L46.74,431.54L46.67,418.1L46.61,395.7L46.54,392.34L46.44,392.34L46.37,395.7L46.31,418.1L46.24,431.54L45.99,437.14L45.59,440.5Z" fill="#efc27a" stroke="none" stroke-width="0.6"/>
<path d="M48.19,440.5L47.69,438.82L46.99,436.02L46.64,432.66L46.54,429.3L46.44,429.3L46.34,432.66L45.99,436.02L45.29,438.82L44.79,440.5Z" fill="#e8a226" stroke="none" stroke-width="0.6"/>
<path d="M51.04,440.5L50.64,437.14L50.39,431.54L50.32,418.1L50.26,395.7L50.19,371.06L50.09,371.06L50.02,395.7L49.96,418.1L49.89,431.54L49.64,437.14L49.24,440.5Z" fill="#efc27a" stroke="none" stroke-width="0.6"/>
<path d="M51.84,440.5L51.34,438.82L50.64,436.02L50.29,432.66L50.19,429.3L50.09,429.3L49.99,432.66L49.64,436.02L48.94,438.82L48.44,440.5Z" fill="#e8a226" stroke="none" stroke-width="0.6"/>
<path d="M54.68,440.5L54.28,437.14L54.03,431.54L53.96,418.1L53.9,395.7L53.83,368.82L53.73,368.82L53.66,395.7L53.6,418.1L53.53,431.54L53.28,437.14L52.88,440.5Z" fill="#efc27a" stroke="none" stroke-width="0.6"/>
<path d="M55.48,440.5L54.98,438.82L54.28,436.02L53.93,432.66L53.83,429.3L53.73,429.3L53.63,432.66L53.28,436.02L52.58,438.82L52.08,440.5Z" fill="#e8a226" stroke="none" stroke-width="0.6"/>
<path d="M58.33,440.5L57.93,437.14L57.68,431.54L57.61,418.1L57.55,395.7L57.48,369.94L57.38,369.94L57.31,395.7L57.25,418.1L57.18,431.54L56.93,437.14L56.53,440.5Z" fill="#efc27a" stroke="none" stroke-width="0.6"/>
<path d="M59.13,440.5L58.63,438.82L57.93,436.02L57.58,432.66L57.48,429.3L57.38,429.3L57.28,432.66L56.93,436.02L56.23,438.82L55.73,440.5Z" fill="#e8a226" stroke="none" stroke-width="0.6"/>
<path d="M61.98,440.5L61.58,437.14L61.33,431.54L61.26,418.1L61.2,395.7L61.13,364.34L61.03,364.34L60.96,395.7L60.9,418.1L60.83,431.54L60.58,437.14L60.18,440.5Z" fill="#efc27a" stroke="none" stroke-width="0.6"/>
<path d="M62.78,440.5L62.28,438.82L61.58,436.02L61.23,432.66L61.13,429.3L61.03,429.3L60.93,432.66L60.58,436.02L59.88,438.82L59.38,440.5Z" fill="#e8a226" stroke="none" stroke-width="0.6"/>
<path d="M65.62,440.5L65.22,437.14L64.97,431.54L64.9,418.1L64.84,395.7L64.77,377.78L64.67,377.78L64.6,395.7L64.54,418.1L64.47,431.54L64.22,437.14L63.82,440.5Z" fill="#efc27a" stroke="none" stroke-width="0.6"/>
<path d="M66.42,440.5L65.92,438.82L65.22,436.02L64.87,432.66L64.77,429.3L64.67,429.3L64.57,432.66L64.22,436.02L63.52,438.82L63.02,440.5Z" fill="#e8a226" stroke="none" stroke-width="0.6"/>
<path d="M69.27,440.5L68.87,437.14L68.62,431.54L68.55,418.1L68.49,395.7L68.42,366.58L68.32,366.58L68.25,395.7L68.19,418.1L68.12,431.54L67.87,437.14L67.47,440.5Z" fill="#efc27a" stroke="none" stroke-width="0.6"/>
<path d="M70.07,440.5L69.57,438.82L68.87,436.02L68.52,432.66L68.42,429.3L68.32,429.3L68.22,432.66L67.87,436.02L67.17,438.82L66.67,440.5Z" fill="#e8a226" stroke="none" stroke-width="0.6"/>
<path d="M72.91,440.5L72.51,437.14L72.26,431.54L72.19,418.1L72.13,395.7L72.06,368.82L71.96,368.82L71.89,395.7L71.83,418.1L71.76,431.54L71.51,437.14L71.11,440.5Z" fill="#efc27a" stroke="none" stroke-width="0.6"/>
<path d="M73.71,440.5L73.21,438.82L72.51,436.02L72.16,432.66L72.06,429.3L71.96,429.3L71.86,432.66L71.51,436.02L70.81,438.82L70.31,440.5Z" fill="#e8a226" stroke="none" stroke-width="0.6"/>
<path d="M76.56,440.5L76.16,437.14L75.91,431.54L75.84,418.1L75.78,395.7L75.71,390.1L75.61,390.1L75.54,395.7L75.48,418.1L75.41,431.54L75.16,437.14L74.76,440.5Z" fill="#efc27a" stroke="none" stroke-width="0.6"/>
<path d="M77.36,440.5L76.86,438.82L76.16,436.02L75.81,432.66L75.71,429.3L75.61,429.3L75.51,432.66L75.16,436.02L74.46,438.82L73.96,440.5Z" fill="#e8a226" stroke="none" stroke-width="0.6"/>
<path d="M80.21,440.5L79.81,437.14L79.56,431.54L79.49,418.1L79.43,395.7L79.36,371.06L79.26,371.06L79.19,395.7L79.13,418.1L79.06,431.54L78.81,437.14L78.41,440.5Z" fill="#efc27a" stroke="none" stroke-width="0.6"/>
<path d="M81.01,440.5L80.51,438.82L79.81,436.02L79.46,432.66L79.36,429.3L79.26,429.3L79.16,432.66L78.81,436.02L78.11,438.82L77.61,440.5Z" fill="#e8a226" stroke="none" stroke-width="0.6"/>
<path d="M83.85,440.5L83.45,437.14L83.2,431.54L83.13,418.1L83.07,395.7L83,376.66L82.9,376.66L82.83,395.7L82.77,418.1L82.7,431.54L82.45,437.14L82.05,440.5Z" fill="#efc27a" stroke="none" stroke-width="0.6"/>
<path d="M84.65,440.5L84.15,438.82L83.45,436.02L83.1,432.66L83,429.3L82.9,429.3L82.8,432.66L82.45,436.02L81.75,438.82L81.25,440.5Z" fill="#e8a226" stroke="none" stroke-width="0.6"/>
<path d="M87.5,440.5L87.1,437.14L86.85,431.54L86.78,418.1L86.72,395.7L86.65,373.3L86.55,373.3L86.48,395.7L86.42,418.1L86.35,431.54L86.1,437.14L85.7,440.5Z" fill="#efc27a" stroke="none" stroke-width="0.6"/>
<path d="M88.3,440.5L87.8,438.82L87.1,436.02L86.75,432.66L86.65,429.3L86.55,429.3L86.45,432.66L86.1,436.02L85.4,438.82L84.9,440.5Z" fill="#e8a226" stroke="none" stroke-width="0.6"/>
<path d="M90.54,440.5L91.64,437.14L92.14,431.54L91.44,424.82L90.64,412.5L90.39,395.7L90.29,332.98L90.19,332.98L90.09,395.7L89.84,412.5L89.04,424.82L88.34,431.54L88.84,437.14L89.94,440.5Z" fill="#d9c2dc" stroke="none" stroke-width="0.6"/>
<path d="M90.54,440.5L91.64,437.14L92.14,431.54L91.44,424.82L90.64,415.86L90.34,406.9L90.14,406.9L89.84,415.86L89.04,424.82L88.34,431.54L88.84,437.14L89.94,440.5Z" fill="#6b1f72" stroke="none" stroke-width="0.6"/>
<path d="M94.19,440.5L95.29,437.14L95.79,431.54L95.09,424.82L94.29,412.5L94.04,395.7L93.94,343.06L93.84,343.06L93.74,395.7L93.49,412.5L92.69,424.82L91.99,431.54L92.49,437.14L93.59,440.5Z" fill="#d9c2dc" stroke="none" stroke-width="0.6"/>
<path d="M94.19,440.5L95.29,437.14L95.79,431.54L95.09,424.82L94.29,415.86L93.99,406.9L93.79,406.9L93.49,415.86L92.69,424.82L91.99,431.54L92.49,437.14L93.59,440.5Z" fill="#6b1f72" stroke="none" stroke-width="0.6"/>
<path d="M97.64,438.82L98.14,434.9L98.84,429.3L99.39,421.46L99.64,412.5L99.39,403.54L98.84,393.46L98.34,378.9L97.99,362.1L97.74,345.3L97.58,334.1L97.5,334.1L97.34,345.3L97.09,362.1L96.74,378.9L96.24,393.46L95.69,403.54L95.44,412.5L95.69,421.46L96.24,429.3L96.94,434.9L97.44,438.82Z" fill="#3a4aa8" stroke="none" stroke-width="0.6"/>
<path d="M101.28,438.82L101.78,434.9L102.48,429.3L103.03,421.46L103.28,412.5L103.03,403.54L102.48,393.46L101.98,378.9L101.63,362.1L101.38,345.3L101.22,333.54L101.14,333.54L100.98,345.3L100.73,362.1L100.38,378.9L99.88,393.46L99.33,403.54L99.08,412.5L99.33,421.46L99.88,429.3L100.58,434.9L101.08,438.82Z" fill="#3a4aa8" stroke="none" stroke-width="0.6"/>
<path d="M104.93,438.82L105.43,434.9L106.13,429.3L106.68,421.46L106.93,412.5L106.68,403.54L106.13,393.46L105.63,378.9L105.28,362.1L105.03,345.3L104.87,332.76L104.79,332.76L104.63,345.3L104.38,362.1L104.03,378.9L103.53,393.46L102.98,403.54L102.73,412.5L102.98,421.46L103.53,429.3L104.23,434.9L104.73,438.82Z" fill="#3a4aa8" stroke="none" stroke-width="0.6"/>
<path d="M108.57,438.82L109.07,434.9L109.77,429.3L110.32,421.46L110.57,412.5L110.32,403.54L109.77,393.46L109.27,378.9L108.92,362.1L108.67,345.3L108.51,331.86L108.43,331.86L108.27,345.3L108.02,362.1L107.67,378.9L107.17,393.46L106.62,403.54L106.37,412.5L106.62,421.46L107.17,429.3L107.87,434.9L108.37,438.82Z" fill="#3a4aa8" stroke="none" stroke-width="0.6"/>
<path d="M112.22,438.82L112.72,434.9L113.42,429.3L113.97,421.46L114.22,412.5L113.97,403.54L113.42,393.46L112.92,378.9L112.57,362.1L112.32,345.3L112.16,331.3L112.08,331.3L111.92,345.3L111.67,362.1L111.32,378.9L110.82,393.46L110.27,403.54L110.02,412.5L110.27,421.46L110.82,429.3L111.52,434.9L112.02,438.82Z" fill="#3a4aa8" stroke="none" stroke-width="0.6"/>
<path d="M115.87,438.82L116.37,434.9L117.07,429.3L117.62,421.46L117.87,412.5L117.62,403.54L117.07,393.46L116.57,378.9L116.22,362.1L115.97,345.3L115.81,331.3L115.73,331.3L115.57,345.3L115.32,362.1L114.97,378.9L114.47,393.46L113.92,403.54L113.67,412.5L113.92,421.46L114.47,429.3L115.17,434.9L115.67,438.82Z" fill="#3a4aa8" stroke="none" stroke-width="0.6"/>
<path d="M119.51,438.82L120.01,434.9L120.71,429.3L121.26,421.46L121.51,412.5L121.26,403.54L120.71,393.46L120.21,378.9L119.86,362.1L119.61,345.3L119.45,331.86L119.37,331.86L119.21,345.3L118.96,362.1L118.61,378.9L118.11,393.46L117.56,403.54L117.31,412.5L117.56,421.46L118.11,429.3L118.81,434.9L119.31,438.82Z" fill="#3a4aa8" stroke="none" stroke-width="0.6"/>
<path d="M123.16,438.82L123.66,434.9L124.36,429.3L124.91,421.46L125.16,412.5L124.91,403.54L124.36,393.46L123.86,378.9L123.51,362.1L123.26,345.3L123.1,332.42L123.02,332.42L122.86,345.3L122.61,362.1L122.26,378.9L121.76,393.46L121.21,403.54L120.96,412.5L121.21,421.46L121.76,429.3L122.46,434.9L122.96,438.82Z" fill="#3a4aa8" stroke="none" stroke-width="0.6"/>
<path d="M126.8,438.82L127.3,434.9L128,429.3L128.55,421.46L129.1,412.5L128.55,403.54L128,393.46L127.5,378.9L127.15,362.1L126.9,345.3L126.74,329.62L126.66,329.62L126.5,345.3L126.25,362.1L125.9,378.9L125.4,393.46L124.85,403.54L124.3,412.5L124.85,421.46L125.4,429.3L126.1,434.9L126.6,438.82Z" fill="#3a4aa8" stroke="none" stroke-width="0.6"/>
<rect x="138" y="328.4" width="13" height="4" fill="#e8a226"/>
<text x="155.5" y="332.7" font-size="6.8" fill="#333">BM</text>
<rect x="138" y="337.42" width="13" height="4" fill="#e8a226"/>
<text x="155.5" y="341.72" font-size="6.8" fill="#333">DCI</text>
<rect x="138" y="346.44" width="13" height="4" fill="#e8a226"/>
<text x="155.5" y="350.74" font-size="6.8" fill="#333">Hep</text>
<rect x="138" y="355.46" width="13" height="4" fill="#e8a226"/>
<text x="155.5" y="359.76" font-size="6.8" fill="#333">MDC</text>
<rect x="138" y="364.48" width="13" height="4" fill="#e8a226"/>
<text x="155.5" y="368.78" font-size="6.8" fill="#333">Tes</text>
<rect x="138" y="373.5" width="13" height="4" fill="#e8a226"/>
<text x="155.5" y="377.8" font-size="6.8" fill="#333">MVI</text>
<rect x="138" y="382.52" width="13" height="4" fill="#e8a226"/>
<text x="155.5" y="386.82" font-size="6.8" fill="#333">Man</text>
<rect x="138" y="391.54" width="13" height="4" fill="#e8a226"/>
<text x="155.5" y="395.84" font-size="6.8" fill="#333">Hea</text>
<rect x="138" y="400.56" width="13" height="4" fill="#e8a226"/>
<text x="155.5" y="404.86" font-size="6.8" fill="#333">MVC</text>
<rect x="138" y="409.58" width="13" height="4" fill="#e8a226"/>
<text x="155.5" y="413.88" font-size="6.8" fill="#333">Gil</text>
<rect x="138" y="418.6" width="13" height="4" fill="#e8a226"/>
<text x="155.5" y="422.9" font-size="6.8" fill="#333">Kid</text>
<rect x="138" y="427.62" width="13" height="4" fill="#e8a226"/>
<text x="155.5" y="431.92" font-size="6.8" fill="#333">Ten</text>
<rect x="138" y="436.64" width="13" height="4" fill="#e8a226"/>
<text x="155.5" y="440.94" font-size="6.8" fill="#333">Suc</text>
<rect x="179.8" y="327.5" width="12.5" height="4" fill="#e8a226"/>
<text x="197.5" y="331.8" font-size="6.8" fill="#333">MDI</text>
<rect x="179.8" y="340.5" width="12.5" height="4" fill="#6b1f72"/>
<text x="197.5" y="344.8" font-size="6.8" fill="#333">Ret</text>
<rect x="179.8" y="349.4" width="12.5" height="4" fill="#6b1f72"/>
<text x="197.5" y="353.7" font-size="6.8" fill="#333">ANC</text>
<rect x="179.8" y="364.5" width="12.5" height="4" fill="#3a4aa8"/>
<text x="197.5" y="368.8" font-size="6.8" fill="#333">BrL</text>
<rect x="179.8" y="373.51" width="12.5" height="4" fill="#3a4aa8"/>
<text x="197.5" y="377.81" font-size="6.8" fill="#333">VL</text>
<rect x="179.8" y="382.52" width="12.5" height="4" fill="#3a4aa8"/>
<text x="197.5" y="386.82" font-size="6.8" fill="#333">Sup</text>
<rect x="179.8" y="391.53" width="12.5" height="4" fill="#3a4aa8"/>
<text x="197.5" y="395.83" font-size="6.8" fill="#333">BuL</text>
<rect x="179.8" y="400.54" width="12.5" height="4" fill="#3a4aa8"/>
<text x="197.5" y="404.84" font-size="6.8" fill="#333">OLe</text>
<rect x="179.8" y="409.55" width="12.5" height="4" fill="#3a4aa8"/>
<text x="197.5" y="413.85" font-size="6.8" fill="#333">OLI</text>
<rect x="179.8" y="418.56" width="12.5" height="4" fill="#3a4aa8"/>
<text x="197.5" y="422.86" font-size="6.8" fill="#333">SG</text>
<rect x="179.8" y="427.57" width="12.5" height="4" fill="#3a4aa8"/>
<text x="197.5" y="431.87" font-size="6.8" fill="#333">Sub</text>
<rect x="179.8" y="436.58" width="12.5" height="4" fill="#3a4aa8"/>
<text x="197.5" y="440.88" font-size="6.8" fill="#333">GFL</text>
<text x="236.4" y="330.5" font-size="11.5" fill="#111" font-weight="bold">g</text>
<line x1="259.5" y1="324.9" x2="259.5" y2="438.4" stroke="#555" stroke-width="0.7"/>
<line x1="259.5" y1="438.4" x2="334.8" y2="438.4" stroke="#555" stroke-width="0.7"/>
<line x1="257.5" y1="438.4" x2="259.5" y2="438.4" stroke="#555" stroke-width="0.5"/>
<text x="256.5" y="440.8" font-size="6.8" text-anchor="end" fill="#333">0.0</text>
<line x1="257.5" y1="415.9" x2="259.5" y2="415.9" stroke="#555" stroke-width="0.5"/>
<text x="256.5" y="418.3" font-size="6.8" text-anchor="end" fill="#333">0.2</text>
<line x1="257.5" y1="393.4" x2="259.5" y2="393.4" stroke="#555" stroke-width="0.5"/>
<text x="256.5" y="395.8" font-size="6.8" text-anchor="end" fill="#333">0.4</text>
<line x1="257.5" y1="370.9" x2="259.5" y2="370.9" stroke="#555" stroke-width="0.5"/>
<text x="256.5" y="373.3" font-size="6.8" text-anchor="end" fill="#333">0.6</text>
<line x1="257.5" y1="348.4" x2="259.5" y2="348.4" stroke="#555" stroke-width="0.5"/>
<text x="256.5" y="350.8" font-size="6.8" text-anchor="end" fill="#333">0.8</text>
<line x1="257.5" y1="325.9" x2="259.5" y2="325.9" stroke="#555" stroke-width="0.5"/>
<text x="256.5" y="328.3" font-size="6.8" text-anchor="end" fill="#333">1.0</text>
<line x1="278.1" y1="438.4" x2="278.1" y2="440.4" stroke="#555" stroke-width="0.5"/>
<text x="278.1" y="447.7" font-size="6.8" text-anchor="middle" fill="#333">WN_ef</text>
<line x1="316.3" y1="438.4" x2="316.3" y2="440.4" stroke="#555" stroke-width="0.5"/>
<text x="316.3" y="447.7" font-size="6.8" text-anchor="middle" fill="#333">WNN_ef</text>
<text x="297" y="456.5" font-size="6.8" text-anchor="middle" fill="#333">variable</text>
<text x="243.5" y="382" font-size="6.8" text-anchor="middle" fill="#333" transform="rotate(-90 243.5 382)">Edit frequency</text>
<path d="M278.3,432.21L278.3,432.21L273.1,429.62L267.28,427.03L265.44,424.43L264.39,421.84L263.67,419.25L263.23,416.65L263.36,414.06L263.99,411.47L264.91,408.87L265.87,406.28L266.68,403.69L267.45,401.09L268.22,398.5L268.98,395.91L269.72,393.31L270.48,390.72L271.24,388.13L271.95,385.53L272.55,382.94L273.01,380.35L273.43,377.75L273.81,375.16L274.16,372.57L274.48,369.97L274.78,367.38L275.06,364.79L275.33,362.19L275.61,359.6L275.86,357.01L276.1,354.41L276.32,351.82L276.53,349.23L276.75,346.63L276.98,344.04L277.23,341.45L277.49,338.85L277.75,336.26L278.02,333.67L278.3,331.07L278.3,331.07Z" fill="#d92b2b" stroke="#4a4a4a" stroke-width="0.55"/>
<line x1="278.3" y1="383.27" x2="272.48" y2="383.27" stroke="#555" stroke-width="0.55" stroke-dasharray="1.6,1.1"/>
<line x1="278.3" y1="404.65" x2="266.4" y2="404.65" stroke="#555" stroke-width="0.55" stroke-dasharray="2.4,1.4"/>
<line x1="278.3" y1="415.9" x2="263.2" y2="415.9" stroke="#555" stroke-width="0.55" stroke-dasharray="1.6,1.1"/>
<path d="M278.3,432.21L278.3,432.21L280.38,429.62L281.85,427.03L282.97,424.43L283.59,421.84L283.6,419.25L283.6,416.65L283.5,414.06L283.1,411.47L282.54,408.87L281.98,406.28L281.56,403.69L281.2,401.09L280.86,398.5L280.55,395.91L280.29,393.31L280.07,390.72L279.88,388.13L279.71,385.53L279.55,382.94L279.39,380.35L279.23,377.75L279.08,375.16L278.96,372.57L278.87,369.97L278.81,367.38L278.75,364.79L278.7,362.19L278.66,359.6L278.62,357.01L278.58,354.41L278.55,351.82L278.51,349.23L278.48,346.63L278.44,344.04L278.41,341.45L278.38,338.85L278.35,336.26L278.32,333.67L278.3,331.07L278.3,331.07Z" fill="#f1b94b" stroke="#4a4a4a" stroke-width="0.55"/>
<line x1="278.3" y1="410.84" x2="282.97" y2="410.84" stroke="#555" stroke-width="0.55" stroke-dasharray="1.6,1.1"/>
<line x1="278.3" y1="418.71" x2="283.6" y2="418.71" stroke="#555" stroke-width="0.55" stroke-dasharray="2.4,1.4"/>
<path d="M316.6,438.4L316.3,438.4L307.26,437.27L312.23,436.15L314.59,435.02L315.65,433.9L316.1,432.77L316.17,431.65L316.22,430.52L316.26,429.4L316.28,428.27L316.3,427.15L316.32,426.02L316.34,424.9L316.36,423.77L316.38,422.65L316.39,421.52L316.41,420.4L316.42,419.27L316.43,418.15L316.44,417.02L316.45,415.9L316.46,414.77L316.47,413.65L316.47,412.52L316.48,411.4L316.49,410.27L316.5,409.15L316.5,408.02L316.51,406.9L316.52,405.77L316.52,404.65L316.53,403.52L316.53,402.4L316.54,401.27L316.54,400.15L316.54,399.02L316.55,397.9L316.55,396.77L316.55,395.65L316.55,394.52L316.6,394.52Z" fill="#d92b2b" stroke="#4a4a4a" stroke-width="0.55"/>
<path d="M316.6,438.4L316.9,438.4L319.71,437.27L318.06,436.15L317.23,435.02L317.06,433.9L317.1,432.77L317.08,431.65L317.04,430.52L316.99,429.4L316.94,428.27L316.9,427.15L316.88,426.02L316.86,424.9L316.84,423.77L316.82,422.65L316.81,421.52L316.79,420.4L316.78,419.27L316.77,418.15L316.76,417.02L316.75,415.9L316.74,414.77L316.73,413.65L316.73,412.52L316.72,411.4L316.71,410.27L316.7,409.15L316.7,408.02L316.69,406.9L316.68,405.77L316.68,404.65L316.67,403.52L316.67,402.4L316.66,401.27L316.66,400.15L316.66,399.02L316.65,397.9L316.65,396.77L316.65,395.65L316.65,394.52L316.6,394.52Z" fill="#f1b94b" stroke="#4a4a4a" stroke-width="0.55"/>
<rect x="295.5" y="330" width="16.4" height="6.2" fill="#d92b2b" stroke="#555" stroke-width="0.3"/>
<text x="318.7" y="335.8" font-size="8.2" fill="#222">Rec</text>
<rect x="295.5" y="342" width="16.4" height="6.2" fill="#f1b94b" stroke="#555" stroke-width="0.3"/>
<text x="318.7" y="347.8" font-size="8.2" fill="#222">Syn</text>
<text x="356" y="330.5" font-size="11.5" fill="#111" font-weight="bold">h</text>
<line x1="384.8" y1="324.9" x2="384.8" y2="438.4" stroke="#555" stroke-width="0.7"/>
<line x1="384.8" y1="438.4" x2="460.9" y2="438.4" stroke="#555" stroke-width="0.7"/>
<line x1="382.8" y1="438.4" x2="384.8" y2="438.4" stroke="#555" stroke-width="0.5"/>
<text x="381.8" y="440.8" font-size="6.8" text-anchor="end" fill="#333">0.0</text>
<line x1="382.8" y1="415.9" x2="384.8" y2="415.9" stroke="#555" stroke-width="0.5"/>
<text x="381.8" y="418.3" font-size="6.8" text-anchor="end" fill="#333">0.2</text>
<line x1="382.8" y1="393.4" x2="384.8" y2="393.4" stroke="#555" stroke-width="0.5"/>
<text x="381.8" y="395.8" font-size="6.8" text-anchor="end" fill="#333">0.4</text>
<line x1="382.8" y1="370.9" x2="384.8" y2="370.9" stroke="#555" stroke-width="0.5"/>
<text x="381.8" y="373.3" font-size="6.8" text-anchor="end" fill="#333">0.6</text>
<line x1="382.8" y1="348.4" x2="384.8" y2="348.4" stroke="#555" stroke-width="0.5"/>
<text x="381.8" y="350.8" font-size="6.8" text-anchor="end" fill="#333">0.8</text>
<line x1="382.8" y1="325.9" x2="384.8" y2="325.9" stroke="#555" stroke-width="0.5"/>
<text x="381.8" y="328.3" font-size="6.8" text-anchor="end" fill="#333">1.0</text>
<line x1="404.1" y1="438.4" x2="404.1" y2="440.4" stroke="#555" stroke-width="0.5"/>
<text x="404.1" y="447.7" font-size="6.8" text-anchor="middle" fill="#333">WN_ef</text>
<line x1="441.6" y1="438.4" x2="441.6" y2="440.4" stroke="#555" stroke-width="0.5"/>
<text x="441.6" y="447.7" font-size="6.8" text-anchor="middle" fill="#333">WNN_ef</text>
<text x="368.8" y="382" font-size="6.8" text-anchor="middle" fill="#333" transform="rotate(-90 368.8 382)">Edit frequency</text>
<path d="M404.1,432.21L404.1,432.21L402.24,429.62L400.69,427.03L399.31,424.43L398.21,421.84L397.31,419.25L396.46,416.65L395.81,414.06L395.51,411.47L395.67,408.87L396.22,406.28L396.94,403.69L397.66,401.09L398.19,398.5L398.59,395.91L398.97,393.31L399.32,390.72L399.64,388.13L399.94,385.53L400.22,382.94L400.48,380.35L400.72,377.75L400.95,375.16L401.17,372.57L401.37,369.97L401.56,367.38L401.73,364.79L401.88,362.19L402.02,359.6L402.14,357.01L402.26,354.41L402.4,351.82L402.55,349.23L402.72,346.63L402.91,344.04L403.12,341.45L403.35,338.85L403.59,336.26L403.84,333.67L404.1,331.07L404.1,331.07Z" fill="#3274a1" stroke="#4a4a4a" stroke-width="0.55"/>
<line x1="404.1" y1="404.65" x2="396.66" y2="404.65" stroke="#555" stroke-width="0.55" stroke-dasharray="1.6,1.1"/>
<line x1="404.1" y1="415.9" x2="396.25" y2="415.9" stroke="#555" stroke-width="0.55" stroke-dasharray="2.4,1.4"/>
<path d="M404.1,432.21L404.1,432.21L408.5,429.62L411.92,427.03L414.34,424.43L416.5,421.84L418.13,419.25L418.95,416.65L418.84,414.06L418.17,411.47L417.2,408.87L416.17,406.28L415.28,403.69L414.37,401.09L413.42,398.5L412.53,395.91L411.78,393.31L411.15,390.72L410.57,388.13L410.06,385.53L409.62,382.94L409.24,380.35L408.9,377.75L408.59,375.16L408.3,372.57L408.03,369.97L407.77,367.38L407.52,364.79L407.26,362.19L406.99,359.6L406.73,357.01L406.46,354.41L406.2,351.82L405.95,349.23L405.69,346.63L405.43,344.04L405.16,341.45L404.9,338.85L404.63,336.26L404.37,333.67L404.1,331.07L404.1,331.07Z" fill="#e1812c" stroke="#4a4a4a" stroke-width="0.55"/>
<line x1="404.1" y1="382.15" x2="409.5" y2="382.15" stroke="#555" stroke-width="0.55" stroke-dasharray="1.6,1.1"/>
<line x1="404.1" y1="404.65" x2="415.6" y2="404.65" stroke="#555" stroke-width="0.55" stroke-dasharray="2.4,1.4"/>
<line x1="404.1" y1="415.9" x2="419" y2="415.9" stroke="#555" stroke-width="0.55" stroke-dasharray="1.6,1.1"/>
<path d="M441.6,438.4L441.3,438.4L436.31,437.27L439.12,436.15L440.48,435.02L440.96,433.9L441.1,432.77L441.16,431.65L441.21,430.52L441.25,429.4L441.28,428.27L441.3,427.15L441.32,426.02L441.34,424.9L441.36,423.77L441.38,422.65L441.39,421.52L441.41,420.4L441.42,419.27L441.43,418.15L441.44,417.02L441.45,415.9L441.46,414.77L441.47,413.65L441.47,412.52L441.48,411.4L441.49,410.27L441.5,409.15L441.5,408.02L441.51,406.9L441.52,405.77L441.52,404.65L441.53,403.52L441.53,402.4L441.54,401.27L441.54,400.15L441.54,399.02L441.55,397.9L441.55,396.77L441.55,395.65L441.55,394.52L441.6,394.52Z" fill="#3274a1" stroke="#4a4a4a" stroke-width="0.55"/>
<path d="M441.6,438.4L441.9,438.4L450.94,437.27L445.97,436.15L443.61,435.02L442.55,433.9L442.1,432.77L442.03,431.65L441.98,430.52L441.94,429.4L441.92,428.27L441.9,427.15L441.88,426.02L441.86,424.9L441.84,423.77L441.82,422.65L441.81,421.52L441.79,420.4L441.78,419.27L441.77,418.15L441.76,417.02L441.75,415.9L441.74,414.77L441.73,413.65L441.73,412.52L441.72,411.4L441.71,410.27L441.7,409.15L441.7,408.02L441.69,406.9L441.68,405.77L441.68,404.65L441.67,403.52L441.67,402.4L441.66,401.27L441.66,400.15L441.66,399.02L441.65,397.9L441.65,396.77L441.65,395.65L441.65,394.52L441.6,394.52Z" fill="#e1812c" stroke="#4a4a4a" stroke-width="0.55"/>
<text x="465.5" y="328.5" font-size="11.5" fill="#111" font-weight="bold">i</text>
<line x1="489" y1="323.7" x2="489" y2="437.1" stroke="#555" stroke-width="0.7"/>
<line x1="489" y1="437.1" x2="640.5" y2="437.1" stroke="#555" stroke-width="0.7"/>
<line x1="487" y1="437.1" x2="489" y2="437.1" stroke="#555" stroke-width="0.5"/>
<text x="486" y="439.5" font-size="6.8" text-anchor="end" fill="#333">0.0</text>
<line x1="487" y1="414.62" x2="489" y2="414.62" stroke="#555" stroke-width="0.5"/>
<text x="486" y="417.02" font-size="6.8" text-anchor="end" fill="#333">0.2</text>
<line x1="487" y1="392.14" x2="489" y2="392.14" stroke="#555" stroke-width="0.5"/>
<text x="486" y="394.54" font-size="6.8" text-anchor="end" fill="#333">0.4</text>
<line x1="487" y1="369.66" x2="489" y2="369.66" stroke="#555" stroke-width="0.5"/>
<text x="486" y="372.06" font-size="6.8" text-anchor="end" fill="#333">0.6</text>
<line x1="487" y1="347.18" x2="489" y2="347.18" stroke="#555" stroke-width="0.5"/>
<text x="486" y="349.58" font-size="6.8" text-anchor="end" fill="#333">0.8</text>
<line x1="487" y1="324.7" x2="489" y2="324.7" stroke="#555" stroke-width="0.5"/>
<text x="486" y="327.1" font-size="6.8" text-anchor="end" fill="#333">1.0</text>
<line x1="500.2" y1="437.1" x2="500.2" y2="439.1" stroke="#555" stroke-width="0.5"/>
<text x="500.2" y="446.4" font-size="6.8" text-anchor="middle" fill="#333">-4.0</text>
<line x1="521.9" y1="437.1" x2="521.9" y2="439.1" stroke="#555" stroke-width="0.5"/>
<text x="521.9" y="446.4" font-size="6.8" text-anchor="middle" fill="#333">-2.0</text>
<line x1="543.4" y1="437.1" x2="543.4" y2="439.1" stroke="#555" stroke-width="0.5"/>
<text x="543.4" y="446.4" font-size="6.8" text-anchor="middle" fill="#333">-1.0</text>
<line x1="565" y1="437.1" x2="565" y2="439.1" stroke="#555" stroke-width="0.5"/>
<text x="565" y="446.4" font-size="6.8" text-anchor="middle" fill="#333">0.0</text>
<line x1="586.7" y1="437.1" x2="586.7" y2="439.1" stroke="#555" stroke-width="0.5"/>
<text x="586.7" y="446.4" font-size="6.8" text-anchor="middle" fill="#333">1.0</text>
<line x1="608.2" y1="437.1" x2="608.2" y2="439.1" stroke="#555" stroke-width="0.5"/>
<text x="608.2" y="446.4" font-size="6.8" text-anchor="middle" fill="#333">2.0</text>
<line x1="629.7" y1="437.1" x2="629.7" y2="439.1" stroke="#555" stroke-width="0.5"/>
<text x="629.7" y="446.4" font-size="6.8" text-anchor="middle" fill="#333">3.0</text>
<text x="565" y="455.6" font-size="6.8" text-anchor="middle" fill="#333">B62Score</text>
<text x="472.2" y="381" font-size="6.8" text-anchor="middle" fill="#333" transform="rotate(-90 472.2 381)">WN_ef</text>
<path d="M500.2,423.39L507.4,423.39L507.41,421.51L507.44,419.62L507.47,417.74L507.5,415.86L507.55,413.98L507.62,412.1L507.7,410.21L507.76,408.33L507.8,406.45L507.71,404.57L507.35,402.69L506.83,400.8L506.23,398.92L505.67,397.04L505.22,395.16L504.79,393.28L504.35,391.39L503.92,389.51L503.5,387.63L503.11,385.75L502.76,383.87L502.45,381.98L502.21,380.1L502.02,378.22L501.85,376.34L501.7,374.46L501.56,372.57L501.45,370.69L501.36,368.81L501.28,366.93L501.21,365.05L501.14,363.16L501.08,361.28L501.03,359.4L500.97,357.52L500.93,355.64L500.88,353.75L500.84,351.87L500.8,349.99L500.2,349.99Z" fill="#e1812c" stroke="#4a4a4a" stroke-width="0.55"/>
<line x1="500.2" y1="405.63" x2="507.79" y2="405.63" stroke="#555" stroke-width="0.55" stroke-dasharray="1.6,1.1"/>
<line x1="500.2" y1="409.45" x2="507.73" y2="409.45" stroke="#555" stroke-width="0.55" stroke-dasharray="2.4,1.4"/>
<line x1="500.2" y1="419.45" x2="507.44" y2="419.45" stroke="#555" stroke-width="0.55" stroke-dasharray="1.6,1.1"/>
<path d="M521.9,431.48L521.9,431.48L519.96,429.13L518.9,426.79L518.19,424.44L517.67,422.1L517.34,419.75L517.08,417.4L516.85,415.06L516.67,412.71L516.54,410.37L516.5,408.02L516.57,405.67L516.78,403.33L517.08,400.98L517.43,398.64L517.8,396.29L518.16,393.94L518.47,391.6L518.78,389.25L519.1,386.91L519.41,384.56L519.68,382.21L519.89,379.87L520.05,377.52L520.19,375.18L520.31,372.83L520.42,370.48L520.53,368.14L520.62,365.79L520.71,363.45L520.8,361.1L520.89,358.75L520.98,356.41L521.06,354.06L521.14,351.72L521.22,349.37L521.3,347.02L521.37,344.68L521.44,342.33L521.5,339.99L521.9,339.99Z" fill="#3274a1" stroke="#4a4a4a" stroke-width="0.55"/>
<line x1="521.9" y1="412.93" x2="516.68" y2="412.93" stroke="#555" stroke-width="0.55" stroke-dasharray="1.6,1.1"/>
<path d="M521.9,430.02L521.9,430.02L525.39,427.45L526.86,424.89L527.83,422.32L528.52,419.76L529.15,417.19L529.7,414.63L530.11,412.06L530.29,409.5L530.2,406.93L529.87,404.37L529.42,401.8L528.94,399.24L528.54,396.67L528.15,394.11L527.75,391.54L527.34,388.98L526.94,386.41L526.55,383.85L526.16,381.28L525.8,378.72L525.43,376.15L525.05,373.59L524.69,371.02L524.36,368.46L524.07,365.89L523.84,363.33L523.66,360.76L523.5,358.2L523.35,355.63L523.22,353.07L523.08,350.5L522.94,347.94L522.79,345.37L522.64,342.81L522.49,340.24L522.34,337.68L522.2,335.11L522.05,332.55L521.9,329.98L521.9,329.98Z" fill="#e1812c" stroke="#4a4a4a" stroke-width="0.55"/>
<line x1="521.9" y1="379.44" x2="525.9" y2="379.44" stroke="#555" stroke-width="0.55" stroke-dasharray="1.6,1.1"/>
<line x1="521.9" y1="400.01" x2="529.08" y2="400.01" stroke="#555" stroke-width="0.55" stroke-dasharray="2.4,1.4"/>
<line x1="521.9" y1="412.93" x2="529.99" y2="412.93" stroke="#555" stroke-width="0.55" stroke-dasharray="1.6,1.1"/>
<path d="M543.4,428.11L541,428.11L541,427.08L541,426.05L541,425.02L541,423.99L541,422.96L541,421.93L541,420.91L541,419.88L541,418.85L541,417.82L541,416.79L541,415.76L541,414.73L541,413.7L541,412.67L541,411.65L541,410.62L541,409.59L541,408.56L541,407.53L541,406.5L541,405.47L541,404.44L541,403.41L541,402.39L541,401.36L541,400.33L541,399.3L541,398.27L541,397.24L541,396.21L541,395.18L541,394.15L541,393.13L541,392.1L541,391.07L541,390.04L541,389.01L541,387.98L543.4,387.98Z" fill="#3274a1" stroke="#4a4a4a" stroke-width="0.55"/>
<path d="M543.4,427.43L550.2,427.43L550.62,425.04L550.97,422.64L551.2,420.24L551.35,417.84L551.47,415.44L551.56,413.05L551.6,410.65L551.51,408.25L551.18,405.85L550.7,403.45L550.14,401.06L549.59,398.66L549.08,396.26L548.51,393.86L547.91,391.47L547.32,389.07L546.8,386.67L546.4,384.27L546.09,381.87L545.82,379.48L545.57,377.08L545.36,374.68L545.17,372.28L545.01,369.88L544.88,367.49L544.76,365.09L544.66,362.69L544.57,360.29L544.48,357.9L544.4,355.5L544.31,353.1L544.23,350.7L544.14,348.3L544.06,345.91L543.98,343.51L543.91,341.11L543.83,338.71L543.77,336.31L543.7,333.92L543.4,333.92Z" fill="#e1812c" stroke="#4a4a4a" stroke-width="0.55"/>
<line x1="543.4" y1="384.27" x2="546.4" y2="384.27" stroke="#555" stroke-width="0.55" stroke-dasharray="1.6,1.1"/>
<line x1="543.4" y1="406.75" x2="551.33" y2="406.75" stroke="#555" stroke-width="0.55" stroke-dasharray="2.4,1.4"/>
<line x1="543.4" y1="414.96" x2="551.49" y2="414.96" stroke="#555" stroke-width="0.55" stroke-dasharray="1.6,1.1"/>
<path d="M565,430.02L565,430.02L563.73,427.49L563.04,424.96L562.61,422.44L562.26,419.91L561.97,417.38L561.76,414.85L561.64,412.33L561.6,409.8L561.65,407.27L561.76,404.74L561.91,402.22L562.09,399.69L562.28,397.16L562.46,394.63L562.6,392.11L562.73,389.58L562.85,387.05L562.97,384.52L563.09,382L563.2,379.47L563.31,376.94L563.42,374.41L563.52,371.88L563.61,369.36L563.7,366.83L563.78,364.3L563.85,361.77L563.93,359.25L564,356.72L564.07,354.19L564.15,351.66L564.23,349.14L564.32,346.61L564.42,344.08L564.53,341.55L564.64,339.03L564.75,336.5L564.88,333.97L565,331.44L565,331.44Z" fill="#3274a1" stroke="#4a4a4a" stroke-width="0.55"/>
<path d="M565,430.02L565,430.02L568.54,427.49L570.32,424.96L571.47,422.44L572.17,419.91L572.75,417.38L573.21,414.85L573.51,412.33L573.6,409.8L573.4,407.27L572.97,404.74L572.43,402.22L571.87,399.69L571.4,397.16L570.96,394.63L570.51,392.11L570.06,389.58L569.63,387.05L569.23,384.52L568.87,382L568.55,379.47L568.25,376.94L567.96,374.41L567.7,371.88L567.45,369.36L567.22,366.83L567.02,364.3L566.84,361.77L566.68,359.25L566.53,356.72L566.39,354.19L566.26,351.66L566.12,349.14L565.96,346.61L565.81,344.08L565.65,341.55L565.49,339.03L565.33,336.5L565.17,333.97L565,331.44L565,331.44Z" fill="#e1812c" stroke="#4a4a4a" stroke-width="0.55"/>
<line x1="565" y1="381.46" x2="568.8" y2="381.46" stroke="#555" stroke-width="0.55" stroke-dasharray="1.6,1.1"/>
<line x1="565" y1="402.26" x2="572.44" y2="402.26" stroke="#555" stroke-width="0.55" stroke-dasharray="2.4,1.4"/>
<line x1="565" y1="413.5" x2="573.4" y2="413.5" stroke="#555" stroke-width="0.55" stroke-dasharray="1.6,1.1"/>
<path d="M586.7,431.03L586.7,431.03L584.93,428.52L583.9,426.01L583.19,423.5L582.59,420.99L582.14,418.48L581.87,415.97L581.8,413.46L581.89,410.95L582.08,408.44L582.33,405.93L582.62,403.42L582.9,400.91L583.15,398.4L583.35,395.89L583.56,393.38L583.77,390.87L583.98,388.36L584.17,385.85L584.35,383.34L584.5,380.83L584.64,378.31L584.76,375.8L584.88,373.29L584.99,370.78L585.09,368.27L585.19,365.76L585.29,363.25L585.4,360.74L585.51,358.23L585.62,355.72L585.74,353.21L585.86,350.7L585.98,348.19L586.09,345.68L586.21,343.17L586.33,340.66L586.46,338.15L586.58,335.64L586.7,333.13L586.7,333.13Z" fill="#3274a1" stroke="#4a4a4a" stroke-width="0.55"/>
<path d="M586.7,431.03L586.7,431.03L589.43,428.52L590.77,426.01L591.9,423.5L592.82,420.99L593.5,418.48L593.9,415.97L593.99,413.46L593.82,410.95L593.48,408.44L593.08,405.93L592.7,403.42L592.36,400.91L592,398.4L591.62,395.89L591.24,393.38L590.87,390.87L590.52,388.36L590.21,385.85L589.94,383.34L589.68,380.83L589.43,378.31L589.2,375.8L588.98,373.29L588.77,370.78L588.58,368.27L588.41,365.76L588.25,363.25L588.12,360.74L588,358.23L587.89,355.72L587.78,353.21L587.67,350.7L587.55,348.19L587.42,345.68L587.29,343.17L587.15,340.66L587,338.15L586.85,335.64L586.7,333.13L586.7,333.13Z" fill="#e1812c" stroke="#4a4a4a" stroke-width="0.55"/>
<line x1="586.7" y1="384.83" x2="590.1" y2="384.83" stroke="#555" stroke-width="0.55" stroke-dasharray="1.6,1.1"/>
<line x1="586.7" y1="403.38" x2="592.7" y2="403.38" stroke="#555" stroke-width="0.55" stroke-dasharray="2.4,1.4"/>
<line x1="586.7" y1="414.62" x2="593.99" y2="414.62" stroke="#555" stroke-width="0.55" stroke-dasharray="1.6,1.1"/>
<path d="M608.2,430.92L608.2,430.92L606.05,428.37L604.65,425.82L603.52,423.27L602.54,420.72L601.82,418.16L601.44,415.61L601.44,413.06L601.65,410.51L601.98,407.96L602.39,405.41L602.8,402.86L603.16,400.31L603.47,397.76L603.79,395.21L604.11,392.66L604.42,390.11L604.72,387.56L605.01,385.01L605.26,382.46L605.48,379.91L605.69,377.36L605.88,374.8L606.06,372.25L606.23,369.7L606.39,367.15L606.54,364.6L606.69,362.05L606.84,359.5L606.98,356.95L607.12,354.4L607.26,351.85L607.39,349.3L607.52,346.75L607.65,344.2L607.77,341.65L607.88,339.1L607.99,336.55L608.1,333.99L608.2,331.44L608.2,331.44Z" fill="#3274a1" stroke="#4a4a4a" stroke-width="0.55"/>
<line x1="608.2" y1="402.26" x2="602.89" y2="402.26" stroke="#555" stroke-width="0.55" stroke-dasharray="1.6,1.1"/>
<line x1="608.2" y1="413.5" x2="601.42" y2="413.5" stroke="#555" stroke-width="0.55" stroke-dasharray="2.4,1.4"/>
<path d="M608.2,430.92L608.2,430.92L611.03,428.37L612.49,425.82L613.76,423.27L614.78,420.72L615.5,418.16L615.87,415.61L615.85,413.06L615.59,410.51L615.19,407.96L614.73,405.41L614.29,402.86L613.91,400.31L613.51,397.76L613.1,395.21L612.69,392.66L612.29,390.11L611.93,387.56L611.62,385.01L611.34,382.46L611.08,379.91L610.83,377.36L610.6,374.8L610.39,372.25L610.19,369.7L610,367.15L609.83,364.6L609.69,362.05L609.55,359.5L609.43,356.95L609.32,354.4L609.21,351.85L609.1,349.3L608.98,346.75L608.85,344.2L608.72,341.65L608.6,339.1L608.47,336.55L608.33,333.99L608.2,331.44L608.2,331.44Z" fill="#e1812c" stroke="#4a4a4a" stroke-width="0.55"/>
<line x1="608.2" y1="384.83" x2="611.6" y2="384.83" stroke="#555" stroke-width="0.55" stroke-dasharray="1.6,1.1"/>
<line x1="608.2" y1="402.26" x2="614.2" y2="402.26" stroke="#555" stroke-width="0.55" stroke-dasharray="2.4,1.4"/>
<line x1="608.2" y1="413.5" x2="615.87" y2="413.5" stroke="#555" stroke-width="0.55" stroke-dasharray="1.6,1.1"/>
<path d="M629.7,425.86L625.2,425.86L623.98,423.64L622.89,421.42L622.02,419.2L621.43,416.98L621.2,414.76L621.28,412.54L621.5,410.33L621.82,408.11L622.21,405.89L622.61,403.67L622.99,401.45L623.3,399.23L623.61,397.01L623.92,394.79L624.24,392.57L624.54,390.35L624.84,388.13L625.13,385.91L625.4,383.7L625.64,381.48L625.86,379.26L626.07,377.04L626.27,374.82L626.46,372.6L626.65,370.38L626.82,368.16L626.99,365.94L627.15,363.72L627.3,361.5L627.45,359.28L627.58,357.07L627.72,354.85L627.85,352.63L627.97,350.41L628.09,348.19L628.2,345.97L628.31,343.75L628.41,341.53L628.5,339.31L629.7,339.31Z" fill="#3274a1" stroke="#4a4a4a" stroke-width="0.55"/>
<path d="M629.7,430.92L629.7,430.92L632.42,428.51L633.8,426.1L634.98,423.7L635.94,421.29L636.66,418.89L637.09,416.48L637.2,414.07L637.09,411.67L636.86,409.26L636.57,406.85L636.26,404.45L635.98,402.04L635.69,399.63L635.38,397.23L635.04,394.82L634.7,392.41L634.36,390.01L634.03,387.6L633.72,385.19L633.44,382.79L633.2,380.38L632.97,377.97L632.75,375.57L632.55,373.16L632.35,370.76L632.16,368.35L631.99,365.94L631.82,363.54L631.66,361.13L631.52,358.72L631.38,356.32L631.25,353.91L631.12,351.5L630.99,349.1L630.88,346.69L630.77,344.28L630.67,341.88L630.58,339.47L630.5,337.06L629.7,337.06Z" fill="#e1812c" stroke="#4a4a4a" stroke-width="0.55"/>
<line x1="629.7" y1="381.46" x2="633.3" y2="381.46" stroke="#555" stroke-width="0.55" stroke-dasharray="1.6,1.1"/>
<line x1="629.7" y1="402.26" x2="636" y2="402.26" stroke="#555" stroke-width="0.55" stroke-dasharray="2.4,1.4"/>
<line x1="629.7" y1="413.5" x2="637.18" y2="413.5" stroke="#555" stroke-width="0.55" stroke-dasharray="1.6,1.1"/>
<text x="642.5" y="329.7" font-size="10.4" fill="#222">In PFAM</text>
<rect x="638" y="332" width="16" height="6.4" fill="#3274a1" stroke="#555" stroke-width="0.3"/>
<text x="660" y="338.3" font-size="10.2" fill="#222">yes</text>
<rect x="638" y="343.5" width="16" height="6" fill="#e1812c" stroke="#555" stroke-width="0.3"/>
<text x="660" y="349.8" font-size="10.2" fill="#222">no</text>
<text x="0.6" y="467.4" font-size="11.5" fill="#111" font-weight="bold">j</text>
<rect x="10.9" y="468.8" width="4.9" height="19.2" fill="url(#gvir2)"/>
<line x1="15.8" y1="468.8" x2="16.8" y2="468.8" stroke="#333" stroke-width="0.35"/>
<text x="17.2" y="470.1" font-size="3.8" fill="#222">100%</text>
<line x1="15.8" y1="472.64" x2="16.8" y2="472.64" stroke="#333" stroke-width="0.35"/>
<text x="17.2" y="473.94" font-size="3.8" fill="#222">80%</text>
<line x1="15.8" y1="476.48" x2="16.8" y2="476.48" stroke="#333" stroke-width="0.35"/>
<text x="17.2" y="477.78" font-size="3.8" fill="#222">60%</text>
<line x1="15.8" y1="480.32" x2="16.8" y2="480.32" stroke="#333" stroke-width="0.35"/>
<text x="17.2" y="481.62" font-size="3.8" fill="#222">40%</text>
<line x1="15.8" y1="484.16" x2="16.8" y2="484.16" stroke="#333" stroke-width="0.35"/>
<text x="17.2" y="485.46" font-size="3.8" fill="#222">20%</text>
<line x1="15.8" y1="488" x2="16.8" y2="488" stroke="#333" stroke-width="0.35"/>
<text x="17.2" y="489.3" font-size="3.8" fill="#222">0%</text>
<text x="183.5" y="468.3" font-size="9.05" text-anchor="middle" fill="#222">Dopeav2061683m: DYNC1H1</text>
<rect x="20" y="493.6" width="5.8" height="33.1" fill="#3a4ca8"/>
<rect x="20" y="526.7" width="5.8" height="7" fill="#7b2a86"/>
<rect x="20" y="533.7" width="5.8" height="51.1" fill="#f6a01a"/>
<rect x="26.2" y="493.6" width="296.7" height="91.2" fill="#a6ce3c"/>
<line x1="323.7" y1="478.1" x2="324.7" y2="478.1" stroke="#555" stroke-width="0.3"/>
<text x="325.2" y="479.3" font-size="3.6" fill="#333">Location</text>
<line x1="323.7" y1="481.6" x2="324.7" y2="481.6" stroke="#555" stroke-width="0.3"/>
<text x="325.2" y="482.8" font-size="3.6" fill="#333">PFAM</text>
<line x1="323.7" y1="485.1" x2="324.7" y2="485.1" stroke="#555" stroke-width="0.3"/>
<text x="325.2" y="486.3" font-size="3.6" fill="#333">InRepeat</text>
<line x1="323.7" y1="488.6" x2="324.7" y2="488.6" stroke="#555" stroke-width="0.3"/>
<text x="325.2" y="489.8" font-size="3.6" fill="#333">Edit_type</text>
<line x1="323.7" y1="492.1" x2="324.7" y2="492.1" stroke="#555" stroke-width="0.3"/>
<text x="325.2" y="493.3" font-size="3.6" fill="#333">Effect</text>
<line x1="323.7" y1="495.42" x2="324.7" y2="495.42" stroke="#555" stroke-width="0.3"/>
<text x="325.2" y="496.72" font-size="3.8" fill="#333">GFL</text>
<line x1="323.7" y1="499.07" x2="324.7" y2="499.07" stroke="#555" stroke-width="0.3"/>
<text x="325.2" y="500.37" font-size="3.8" fill="#333">Sub</text>
<line x1="323.7" y1="502.72" x2="324.7" y2="502.72" stroke="#555" stroke-width="0.3"/>
<text x="325.2" y="504.02" font-size="3.8" fill="#333">SG</text>
<line x1="323.7" y1="506.37" x2="324.7" y2="506.37" stroke="#555" stroke-width="0.3"/>
<text x="325.2" y="507.67" font-size="3.8" fill="#333">OLI</text>
<line x1="323.7" y1="510.02" x2="324.7" y2="510.02" stroke="#555" stroke-width="0.3"/>
<text x="325.2" y="511.32" font-size="3.8" fill="#333">OLe</text>
<line x1="323.7" y1="513.66" x2="324.7" y2="513.66" stroke="#555" stroke-width="0.3"/>
<text x="325.2" y="514.96" font-size="3.8" fill="#333">BuL</text>
<line x1="323.7" y1="517.31" x2="324.7" y2="517.31" stroke="#555" stroke-width="0.3"/>
<text x="325.2" y="518.61" font-size="3.8" fill="#333">Sup</text>
<line x1="323.7" y1="520.96" x2="324.7" y2="520.96" stroke="#555" stroke-width="0.3"/>
<text x="325.2" y="522.26" font-size="3.8" fill="#333">VL</text>
<line x1="323.7" y1="524.61" x2="324.7" y2="524.61" stroke="#555" stroke-width="0.3"/>
<text x="325.2" y="525.91" font-size="3.8" fill="#333">BrL</text>
<line x1="323.7" y1="528.26" x2="324.7" y2="528.26" stroke="#555" stroke-width="0.3"/>
<text x="325.2" y="529.56" font-size="3.8" fill="#333">ANC</text>
<line x1="323.7" y1="531.9" x2="324.7" y2="531.9" stroke="#555" stroke-width="0.3"/>
<text x="325.2" y="533.2" font-size="3.8" fill="#333">Ret</text>
<line x1="323.7" y1="535.55" x2="324.7" y2="535.55" stroke="#555" stroke-width="0.3"/>
<text x="325.2" y="536.85" font-size="3.8" fill="#333">BM</text>
<line x1="323.7" y1="539.2" x2="324.7" y2="539.2" stroke="#555" stroke-width="0.3"/>
<text x="325.2" y="540.5" font-size="3.8" fill="#333">DCI</text>
<line x1="323.7" y1="542.85" x2="324.7" y2="542.85" stroke="#555" stroke-width="0.3"/>
<text x="325.2" y="544.15" font-size="3.8" fill="#333">Hep</text>
<line x1="323.7" y1="546.5" x2="324.7" y2="546.5" stroke="#555" stroke-width="0.3"/>
<text x="325.2" y="547.8" font-size="3.8" fill="#333">MDC</text>
<line x1="323.7" y1="550.14" x2="324.7" y2="550.14" stroke="#555" stroke-width="0.3"/>
<text x="325.2" y="551.44" font-size="3.8" fill="#333">Tes</text>
<line x1="323.7" y1="553.79" x2="324.7" y2="553.79" stroke="#555" stroke-width="0.3"/>
<text x="325.2" y="555.09" font-size="3.8" fill="#333">MVI</text>
<line x1="323.7" y1="557.44" x2="324.7" y2="557.44" stroke="#555" stroke-width="0.3"/>
<text x="325.2" y="558.74" font-size="3.8" fill="#333">Man</text>
<line x1="323.7" y1="561.09" x2="324.7" y2="561.09" stroke="#555" stroke-width="0.3"/>
<text x="325.2" y="562.39" font-size="3.8" fill="#333">Hea</text>
<line x1="323.7" y1="564.74" x2="324.7" y2="564.74" stroke="#555" stroke-width="0.3"/>
<text x="325.2" y="566.04" font-size="3.8" fill="#333">MVC</text>
<line x1="323.7" y1="568.38" x2="324.7" y2="568.38" stroke="#555" stroke-width="0.3"/>
<text x="325.2" y="569.68" font-size="3.8" fill="#333">Gil</text>
<line x1="323.7" y1="572.03" x2="324.7" y2="572.03" stroke="#555" stroke-width="0.3"/>
<text x="325.2" y="573.33" font-size="3.8" fill="#333">Kid</text>
<line x1="323.7" y1="575.68" x2="324.7" y2="575.68" stroke="#555" stroke-width="0.3"/>
<text x="325.2" y="576.98" font-size="3.8" fill="#333">Ten</text>
<line x1="323.7" y1="579.33" x2="324.7" y2="579.33" stroke="#555" stroke-width="0.3"/>
<text x="325.2" y="580.63" font-size="3.8" fill="#333">Suc</text>
<line x1="323.7" y1="582.98" x2="324.7" y2="582.98" stroke="#555" stroke-width="0.3"/>
<text x="325.2" y="584.28" font-size="3.8" fill="#333">MDI</text>
<rect x="156.9" y="476.6" width="161.9" height="3.1" fill="#3a52a8"/>
<rect x="160" y="480.1" width="5.1" height="2.9" fill="#111"/>
<rect x="175" y="480.1" width="11.1" height="2.9" fill="#111"/>
<rect x="191.4" y="480.1" width="23.6" height="2.9" fill="#111"/>
<rect x="216.5" y="480.1" width="11.3" height="2.9" fill="#111"/>
<rect x="239.7" y="480.1" width="79.1" height="2.9" fill="#111"/>
<rect x="50" y="483.2" width="0.9" height="3.3" fill="#111"/>
<rect x="26.2" y="486.7" width="296.7" height="3.2" fill="#bdbdbd"/>
<rect x="53.9" y="486.7" width="1" height="3.2" fill="#3a4cb0"/>
<rect x="56.05" y="486.7" width="0.9" height="3.2" fill="#3a4cb0"/>
<rect x="59.8" y="486.7" width="1.4" height="3.2" fill="#3a4cb0"/>
<rect x="69.05" y="486.7" width="1.7" height="3.2" fill="#3a4cb0"/>
<rect x="80.9" y="486.7" width="1" height="3.2" fill="#3a4cb0"/>
<rect x="88.2" y="486.7" width="1.4" height="3.2" fill="#7f8cc8"/>
<rect x="98.4" y="486.7" width="1.4" height="3.2" fill="#3a4cb0"/>
<rect x="112.3" y="486.7" width="3.2" height="3.2" fill="#8590cc"/>
<rect x="121.9" y="486.7" width="1" height="3.2" fill="#3a4cb0"/>
<rect x="128.95" y="486.7" width="0.9" height="3.2" fill="#3a4cb0"/>
<rect x="130.8" y="486.7" width="1" height="3.2" fill="#3a4cb0"/>
<rect x="145" y="486.7" width="1" height="3.2" fill="#3a4cb0"/>
<rect x="160.85" y="486.7" width="1.3" height="3.2" fill="#3a4cb0"/>
<rect x="167.1" y="486.7" width="1" height="3.2" fill="#3a4cb0"/>
<rect x="181.7" y="486.7" width="1" height="3.2" fill="#3a4cb0"/>
<rect x="196.2" y="486.7" width="1.4" height="3.2" fill="#3a4cb0"/>
<rect x="199" y="486.7" width="1" height="3.2" fill="#3a4cb0"/>
<rect x="206.9" y="486.7" width="1.4" height="3.2" fill="#3a4cb0"/>
<rect x="219" y="486.7" width="1" height="3.2" fill="#3a4cb0"/>
<rect x="252.9" y="486.7" width="1" height="3.2" fill="#3a4cb0"/>
<rect x="264.1" y="486.7" width="1.2" height="3.2" fill="#3a4cb0"/>
<rect x="277" y="486.7" width="1" height="3.2" fill="#3a4cb0"/>
<rect x="307.6" y="486.7" width="1" height="3.2" fill="#3a4cb0"/>
<rect x="317" y="486.7" width="1" height="3.2" fill="#3a4cb0"/>
<rect x="319.3" y="486.7" width="3.6" height="3.2" fill="#cfcfcf"/>
<rect x="26.2" y="489.9" width="130.7" height="3.6" fill="#2e9e48"/>
<rect x="34.8" y="489.9" width="1" height="3.6" fill="#3fc6d6"/>
<rect x="40.5" y="489.9" width="1" height="3.6" fill="#3fc6d6"/>
<rect x="44.1" y="489.9" width="1" height="3.6" fill="#3fc6d6"/>
<rect x="49.9" y="489.9" width="1" height="3.6" fill="#3fc6d6"/>
<rect x="53.9" y="489.9" width="1" height="3.6" fill="#3fc6d6"/>
<rect x="75" y="489.9" width="1" height="3.6" fill="#3fc6d6"/>
<rect x="83" y="489.9" width="1" height="3.6" fill="#3fc6d6"/>
<rect x="106.8" y="489.9" width="1" height="3.6" fill="#3fc6d6"/>
<rect x="118.1" y="489.9" width="1" height="3.6" fill="#3fc6d6"/>
<rect x="145" y="489.9" width="1" height="3.6" fill="#3fc6d6"/>
<rect x="151.8" y="489.9" width="1" height="3.6" fill="#3fc6d6"/>
<rect x="156.9" y="489.9" width="2.5" height="3.6" fill="#e4262b"/>
<rect x="159.4" y="489.9" width="1.6" height="3.6" fill="#f5bf4a"/>
<rect x="161" y="489.9" width="7" height="3.6" fill="#e4262b"/>
<rect x="168" y="489.9" width="1.6" height="3.6" fill="#f5bf4a"/>
<rect x="169.6" y="489.9" width="1.2" height="3.6" fill="#e4262b"/>
<rect x="170.8" y="489.9" width="7" height="3.6" fill="#e4262b"/>
<rect x="177.8" y="489.9" width="5" height="3.6" fill="#e4262b"/>
<rect x="182.8" y="489.9" width="2.2" height="3.6" fill="#f5bf4a"/>
<rect x="185" y="489.9" width="5" height="3.6" fill="#e4262b"/>
<rect x="190" y="489.9" width="1.8" height="3.6" fill="#e4262b"/>
<rect x="191.8" y="489.9" width="7" height="3.6" fill="#e4262b"/>
<rect x="198.8" y="489.9" width="7" height="3.6" fill="#e4262b"/>
<rect x="205.8" y="489.9" width="5" height="3.6" fill="#e4262b"/>
<rect x="210.8" y="489.9" width="7" height="3.6" fill="#e4262b"/>
<rect x="217.8" y="489.9" width="1.6" height="3.6" fill="#f5bf4a"/>
<rect x="219.4" y="489.9" width="5" height="3.6" fill="#e4262b"/>
<rect x="224.4" y="489.9" width="2.2" height="3.6" fill="#f5bf4a"/>
<rect x="226.6" y="489.9" width="3" height="3.6" fill="#f5bf4a"/>
<rect x="229.6" y="489.9" width="3.5" height="3.6" fill="#e4262b"/>
<rect x="233.1" y="489.9" width="1.6" height="3.6" fill="#f5bf4a"/>
<rect x="234.7" y="489.9" width="2.5" height="3.6" fill="#e4262b"/>
<rect x="237.2" y="489.9" width="7" height="3.6" fill="#e4262b"/>
<rect x="244.2" y="489.9" width="3.5" height="3.6" fill="#e4262b"/>
<rect x="247.7" y="489.9" width="1.2" height="3.6" fill="#e4262b"/>
<rect x="248.9" y="489.9" width="1.2" height="3.6" fill="#f5bf4a"/>
<rect x="250.1" y="489.9" width="1.8" height="3.6" fill="#e4262b"/>
<rect x="251.9" y="489.9" width="3" height="3.6" fill="#f5bf4a"/>
<rect x="254.9" y="489.9" width="0.9" height="3.6" fill="#f5bf4a"/>
<rect x="255.8" y="489.9" width="2.5" height="3.6" fill="#e4262b"/>
<rect x="258.3" y="489.9" width="5" height="3.6" fill="#e4262b"/>
<rect x="263.3" y="489.9" width="3" height="3.6" fill="#f5bf4a"/>
<rect x="266.3" y="489.9" width="1.8" height="3.6" fill="#e4262b"/>
<rect x="268.1" y="489.9" width="2.5" height="3.6" fill="#e4262b"/>
<rect x="270.6" y="489.9" width="1.6" height="3.6" fill="#f5bf4a"/>
<rect x="272.2" y="489.9" width="1.2" height="3.6" fill="#e4262b"/>
<rect x="273.4" y="489.9" width="3" height="3.6" fill="#f5bf4a"/>
<rect x="276.4" y="489.9" width="1.6" height="3.6" fill="#f5bf4a"/>
<rect x="278" y="489.9" width="2.5" height="3.6" fill="#e4262b"/>
<rect x="280.5" y="489.9" width="7" height="3.6" fill="#e4262b"/>
<rect x="287.5" y="489.9" width="7" height="3.6" fill="#e4262b"/>
<rect x="294.5" y="489.9" width="1.8" height="3.6" fill="#e4262b"/>
<rect x="296.3" y="489.9" width="1.2" height="3.6" fill="#e4262b"/>
<rect x="297.5" y="489.9" width="2.2" height="3.6" fill="#f5bf4a"/>
<rect x="299.7" y="489.9" width="5" height="3.6" fill="#e4262b"/>
<rect x="304.7" y="489.9" width="1.8" height="3.6" fill="#e4262b"/>
<rect x="306.5" y="489.9" width="7" height="3.6" fill="#e4262b"/>
<rect x="313.5" y="489.9" width="3" height="3.6" fill="#f5bf4a"/>
<rect x="316.5" y="489.9" width="1.2" height="3.6" fill="#f5bf4a"/>
<rect x="317.7" y="489.9" width="1.1" height="3.6" fill="#e4262b"/>
<rect x="318.8" y="489.9" width="4.1" height="3.6" fill="#9b6fc2"/>
<rect x="53.9" y="493.6" width="1" height="3.7" fill="#269b85"/>
<rect x="53.9" y="497.25" width="1" height="3.7" fill="#269b85"/>
<rect x="53.9" y="500.9" width="1" height="3.7" fill="#279c84"/>
<rect x="53.9" y="504.54" width="1" height="3.7" fill="#34b077"/>
<rect x="53.9" y="508.19" width="1" height="3.7" fill="#2ca37f"/>
<rect x="53.9" y="511.84" width="1" height="3.7" fill="#2ea87d"/>
<rect x="53.9" y="515.49" width="1" height="3.7" fill="#2da57e"/>
<rect x="53.9" y="519.14" width="1" height="3.7" fill="#33af78"/>
<rect x="53.9" y="522.78" width="1" height="3.7" fill="#32ad79"/>
<rect x="53.9" y="526.43" width="1" height="3.7" fill="#68be5b"/>
<rect x="53.9" y="530.08" width="1" height="3.7" fill="#75c153"/>
<rect x="60.3" y="493.6" width="1.2" height="3.7" fill="#2ea77d"/>
<rect x="60.3" y="497.25" width="1.2" height="3.7" fill="#35b176"/>
<rect x="60.3" y="500.9" width="1.2" height="3.7" fill="#34b077"/>
<rect x="60.3" y="504.54" width="1.2" height="3.7" fill="#2aa081"/>
<rect x="60.3" y="508.19" width="1.2" height="3.7" fill="#2ea87d"/>
<rect x="60.3" y="511.84" width="1.2" height="3.7" fill="#2da57e"/>
<rect x="60.3" y="515.49" width="1.2" height="3.7" fill="#29a082"/>
<rect x="60.3" y="519.14" width="1.2" height="3.7" fill="#2fa97c"/>
<rect x="60.3" y="522.78" width="1.2" height="3.7" fill="#34b177"/>
<rect x="60.3" y="526.43" width="1.2" height="3.7" fill="#52b966"/>
<rect x="60.3" y="530.08" width="1.2" height="3.7" fill="#5fbc60"/>
<rect x="69" y="493.6" width="1.8" height="3.7" fill="#2b758d"/>
<rect x="69" y="497.25" width="1.8" height="3.7" fill="#2a768d"/>
<rect x="69" y="500.9" width="1.8" height="3.7" fill="#31668d"/>
<rect x="69" y="504.54" width="1.8" height="3.7" fill="#26818c"/>
<rect x="69" y="508.19" width="1.8" height="3.7" fill="#2d718e"/>
<rect x="69" y="511.84" width="1.8" height="3.7" fill="#26818c"/>
<rect x="69" y="515.49" width="1.8" height="3.7" fill="#2a798d"/>
<rect x="69" y="519.14" width="1.8" height="3.7" fill="#2b758d"/>
<rect x="69" y="522.78" width="1.8" height="3.7" fill="#25848c"/>
<rect x="69" y="526.43" width="1.8" height="3.7" fill="#64bd5d"/>
<rect x="69" y="530.08" width="1.8" height="3.7" fill="#3fb470"/>
<rect x="81" y="493.6" width="0.8" height="3.7" fill="#63bd5d"/>
<rect x="81" y="497.25" width="0.8" height="3.7" fill="#66be5c"/>
<rect x="81" y="500.9" width="0.8" height="3.7" fill="#69be5a"/>
<rect x="81" y="504.54" width="0.8" height="3.7" fill="#65bd5c"/>
<rect x="81" y="508.19" width="0.8" height="3.7" fill="#70c056"/>
<rect x="81" y="511.84" width="0.8" height="3.7" fill="#70c056"/>
<rect x="81" y="515.49" width="0.8" height="3.7" fill="#6cbf58"/>
<rect x="81" y="519.14" width="0.8" height="3.7" fill="#61bc5e"/>
<rect x="81" y="522.78" width="0.8" height="3.7" fill="#6fc056"/>
<rect x="81" y="526.43" width="0.8" height="3.7" fill="#8fc747"/>
<rect x="81" y="530.08" width="0.8" height="3.7" fill="#8fc747"/>
<rect x="88.4" y="493.6" width="1" height="3.7" fill="#5abb62"/>
<rect x="88.4" y="497.25" width="1" height="3.7" fill="#52b967"/>
<rect x="88.4" y="500.9" width="1" height="3.7" fill="#48b66c"/>
<rect x="88.4" y="504.54" width="1" height="3.7" fill="#40b570"/>
<rect x="88.4" y="508.19" width="1" height="3.7" fill="#50b868"/>
<rect x="88.4" y="511.84" width="1" height="3.7" fill="#4fb868"/>
<rect x="88.4" y="515.49" width="1" height="3.7" fill="#51b967"/>
<rect x="88.4" y="519.14" width="1" height="3.7" fill="#51b967"/>
<rect x="88.4" y="522.78" width="1" height="3.7" fill="#41b56f"/>
<rect x="88.4" y="526.43" width="1" height="3.7" fill="#78c252"/>
<rect x="88.4" y="530.08" width="1" height="3.7" fill="#82c44d"/>
<rect x="98.5" y="493.6" width="1.2" height="3.7" fill="#25858c"/>
<rect x="98.5" y="497.25" width="1.2" height="3.7" fill="#32638c"/>
<rect x="98.5" y="500.9" width="1.2" height="3.7" fill="#30688d"/>
<rect x="98.5" y="504.54" width="1.2" height="3.7" fill="#33608b"/>
<rect x="98.5" y="508.19" width="1.2" height="3.7" fill="#277f8c"/>
<rect x="98.5" y="511.84" width="1.2" height="3.7" fill="#2d718e"/>
<rect x="98.5" y="515.49" width="1.2" height="3.7" fill="#365989"/>
<rect x="98.5" y="519.14" width="1.2" height="3.7" fill="#2e6e8e"/>
<rect x="98.5" y="522.78" width="1.2" height="3.7" fill="#365789"/>
<rect x="98.5" y="526.43" width="1.2" height="3.7" fill="#57ba64"/>
<rect x="98.5" y="530.08" width="1.2" height="3.7" fill="#259986"/>
<rect x="113.15" y="493.6" width="1.5" height="3.7" fill="#238a8c"/>
<rect x="113.15" y="497.25" width="1.5" height="3.7" fill="#297a8d"/>
<rect x="113.15" y="500.9" width="1.5" height="3.7" fill="#228b8b"/>
<rect x="113.15" y="504.54" width="1.5" height="3.7" fill="#30678d"/>
<rect x="113.15" y="508.19" width="1.5" height="3.7" fill="#2e6e8e"/>
<rect x="113.15" y="511.84" width="1.5" height="3.7" fill="#355c8a"/>
<rect x="113.15" y="515.49" width="1.5" height="3.7" fill="#30678d"/>
<rect x="113.15" y="519.14" width="1.5" height="3.7" fill="#345d8b"/>
<rect x="113.15" y="522.78" width="1.5" height="3.7" fill="#2b748d"/>
<rect x="113.15" y="526.43" width="1.5" height="3.7" fill="#269b85"/>
<rect x="113.15" y="530.08" width="1.5" height="3.7" fill="#2ea77d"/>
<rect x="121.9" y="493.6" width="1" height="3.7" fill="#30a97b"/>
<rect x="121.9" y="497.25" width="1" height="3.7" fill="#269a85"/>
<rect x="121.9" y="500.9" width="1" height="3.7" fill="#2fa97c"/>
<rect x="121.9" y="504.54" width="1" height="3.7" fill="#32ad79"/>
<rect x="121.9" y="508.19" width="1" height="3.7" fill="#34b077"/>
<rect x="121.9" y="511.84" width="1" height="3.7" fill="#2ea67d"/>
<rect x="121.9" y="515.49" width="1" height="3.7" fill="#32ad79"/>
<rect x="121.9" y="519.14" width="1" height="3.7" fill="#269b85"/>
<rect x="121.9" y="522.78" width="1" height="3.7" fill="#269a85"/>
<rect x="121.9" y="526.43" width="1" height="3.7" fill="#76c153"/>
<rect x="121.9" y="530.08" width="1" height="3.7" fill="#7bc351"/>
<rect x="130.7" y="493.6" width="1.2" height="3.7" fill="#2d718e"/>
<rect x="130.7" y="497.25" width="1.2" height="3.7" fill="#26828c"/>
<rect x="130.7" y="500.9" width="1.2" height="3.7" fill="#2d718e"/>
<rect x="130.7" y="504.54" width="1.2" height="3.7" fill="#33618b"/>
<rect x="130.7" y="508.19" width="1.2" height="3.7" fill="#287e8d"/>
<rect x="130.7" y="511.84" width="1.2" height="3.7" fill="#2b768d"/>
<rect x="130.7" y="515.49" width="1.2" height="3.7" fill="#355a8a"/>
<rect x="130.7" y="519.14" width="1.2" height="3.7" fill="#2b758d"/>
<rect x="130.7" y="522.78" width="1.2" height="3.7" fill="#297a8d"/>
<rect x="130.7" y="526.43" width="1.2" height="3.7" fill="#289d83"/>
<rect x="130.7" y="530.08" width="1.2" height="3.7" fill="#2aa181"/>
<rect x="145.1" y="493.6" width="0.8" height="3.7" fill="#3db472"/>
<rect x="145.1" y="497.25" width="0.8" height="3.7" fill="#44b66e"/>
<rect x="145.1" y="500.9" width="0.8" height="3.7" fill="#4db869"/>
<rect x="145.1" y="504.54" width="0.8" height="3.7" fill="#44b66e"/>
<rect x="145.1" y="508.19" width="0.8" height="3.7" fill="#3fb470"/>
<rect x="145.1" y="511.84" width="0.8" height="3.7" fill="#46b66d"/>
<rect x="145.1" y="515.49" width="0.8" height="3.7" fill="#53b966"/>
<rect x="145.1" y="519.14" width="0.8" height="3.7" fill="#51b967"/>
<rect x="145.1" y="522.78" width="0.8" height="3.7" fill="#4db869"/>
<rect x="145.1" y="526.43" width="0.8" height="3.7" fill="#70c056"/>
<rect x="145.1" y="530.08" width="0.8" height="3.7" fill="#78c252"/>
<rect x="160.9" y="493.6" width="1.2" height="3.7" fill="#2b748d"/>
<rect x="160.9" y="497.25" width="1.2" height="3.7" fill="#31668d"/>
<rect x="160.9" y="500.9" width="1.2" height="3.7" fill="#24888c"/>
<rect x="160.9" y="504.54" width="1.2" height="3.7" fill="#2d708e"/>
<rect x="160.9" y="508.19" width="1.2" height="3.7" fill="#287e8d"/>
<rect x="160.9" y="511.84" width="1.2" height="3.7" fill="#2c748d"/>
<rect x="160.9" y="515.49" width="1.2" height="3.7" fill="#31658d"/>
<rect x="160.9" y="519.14" width="1.2" height="3.7" fill="#26818c"/>
<rect x="160.9" y="522.78" width="1.2" height="3.7" fill="#345d8b"/>
<rect x="160.9" y="526.43" width="1.2" height="3.7" fill="#62bd5e"/>
<rect x="160.9" y="530.08" width="1.2" height="3.7" fill="#34b077"/>
<rect x="167.2" y="493.6" width="0.8" height="3.7" fill="#58ba63"/>
<rect x="167.2" y="497.25" width="0.8" height="3.7" fill="#61bc5e"/>
<rect x="167.2" y="500.9" width="0.8" height="3.7" fill="#57ba63"/>
<rect x="167.2" y="504.54" width="0.8" height="3.7" fill="#5abb62"/>
<rect x="167.2" y="508.19" width="0.8" height="3.7" fill="#5bbb62"/>
<rect x="167.2" y="511.84" width="0.8" height="3.7" fill="#53b966"/>
<rect x="167.2" y="515.49" width="0.8" height="3.7" fill="#67be5b"/>
<rect x="167.2" y="519.14" width="0.8" height="3.7" fill="#5dbb61"/>
<rect x="167.2" y="522.78" width="0.8" height="3.7" fill="#51b967"/>
<rect x="167.2" y="526.43" width="0.8" height="3.7" fill="#8ac649"/>
<rect x="167.2" y="530.08" width="0.8" height="3.7" fill="#75c153"/>
<rect x="181.8" y="493.6" width="0.8" height="3.7" fill="#62bd5e"/>
<rect x="181.8" y="497.25" width="0.8" height="3.7" fill="#54b965"/>
<rect x="181.8" y="500.9" width="0.8" height="3.7" fill="#62bd5d"/>
<rect x="181.8" y="504.54" width="0.8" height="3.7" fill="#5bbb62"/>
<rect x="181.8" y="508.19" width="0.8" height="3.7" fill="#5bbb61"/>
<rect x="181.8" y="511.84" width="0.8" height="3.7" fill="#65bd5c"/>
<rect x="181.8" y="515.49" width="0.8" height="3.7" fill="#54b966"/>
<rect x="181.8" y="519.14" width="0.8" height="3.7" fill="#5abb62"/>
<rect x="181.8" y="522.78" width="0.8" height="3.7" fill="#54b965"/>
<rect x="181.8" y="526.43" width="0.8" height="3.7" fill="#7fc34f"/>
<rect x="181.8" y="530.08" width="0.8" height="3.7" fill="#7ec34f"/>
<rect x="196.4" y="493.6" width="1" height="3.7" fill="#2da57e"/>
<rect x="196.4" y="497.25" width="1" height="3.7" fill="#30ab7b"/>
<rect x="196.4" y="500.9" width="1" height="3.7" fill="#279c84"/>
<rect x="196.4" y="504.54" width="1" height="3.7" fill="#34b077"/>
<rect x="196.4" y="508.19" width="1" height="3.7" fill="#279c84"/>
<rect x="196.4" y="511.84" width="1" height="3.7" fill="#279d84"/>
<rect x="196.4" y="515.49" width="1" height="3.7" fill="#2da67e"/>
<rect x="196.4" y="519.14" width="1" height="3.7" fill="#299f82"/>
<rect x="196.4" y="522.78" width="1" height="3.7" fill="#2aa181"/>
<rect x="196.4" y="526.43" width="1" height="3.7" fill="#5ebc60"/>
<rect x="196.4" y="530.08" width="1" height="3.7" fill="#71c055"/>
<rect x="198.9" y="493.6" width="1.2" height="3.7" fill="#30698e"/>
<rect x="198.9" y="497.25" width="1.2" height="3.7" fill="#31678d"/>
<rect x="198.9" y="500.9" width="1.2" height="3.7" fill="#2f6b8e"/>
<rect x="198.9" y="504.54" width="1.2" height="3.7" fill="#433681"/>
<rect x="198.9" y="508.19" width="1.2" height="3.7" fill="#30678d"/>
<rect x="198.9" y="511.84" width="1.2" height="3.7" fill="#32648c"/>
<rect x="198.9" y="515.49" width="1.2" height="3.7" fill="#33618c"/>
<rect x="198.9" y="519.14" width="1.2" height="3.7" fill="#3e4283"/>
<rect x="198.9" y="522.78" width="1.2" height="3.7" fill="#345d8a"/>
<rect x="198.9" y="526.43" width="1.2" height="3.7" fill="#2ea77d"/>
<rect x="198.9" y="530.08" width="1.2" height="3.7" fill="#41b570"/>
<rect x="207" y="493.6" width="1.2" height="3.7" fill="#2ca47f"/>
<rect x="207" y="497.25" width="1.2" height="3.7" fill="#2fa97c"/>
<rect x="207" y="500.9" width="1.2" height="3.7" fill="#2da57e"/>
<rect x="207" y="504.54" width="1.2" height="3.7" fill="#2ca47f"/>
<rect x="207" y="508.19" width="1.2" height="3.7" fill="#229489"/>
<rect x="207" y="511.84" width="1.2" height="3.7" fill="#289e83"/>
<rect x="207" y="515.49" width="1.2" height="3.7" fill="#2fa87c"/>
<rect x="207" y="519.14" width="1.2" height="3.7" fill="#299f82"/>
<rect x="207" y="522.78" width="1.2" height="3.7" fill="#2fa87c"/>
<rect x="207" y="526.43" width="1.2" height="3.7" fill="#58ba63"/>
<rect x="207" y="530.08" width="1.2" height="3.7" fill="#60bc5f"/>
<rect x="218.9" y="493.6" width="1.2" height="3.7" fill="#345d8b"/>
<rect x="218.9" y="497.25" width="1.2" height="3.7" fill="#287e8d"/>
<rect x="218.9" y="500.9" width="1.2" height="3.7" fill="#345e8b"/>
<rect x="218.9" y="504.54" width="1.2" height="3.7" fill="#277e8c"/>
<rect x="218.9" y="508.19" width="1.2" height="3.7" fill="#375588"/>
<rect x="218.9" y="511.84" width="1.2" height="3.7" fill="#2e6c8e"/>
<rect x="218.9" y="515.49" width="1.2" height="3.7" fill="#24878c"/>
<rect x="218.9" y="519.14" width="1.2" height="3.7" fill="#33618b"/>
<rect x="218.9" y="522.78" width="1.2" height="3.7" fill="#287d8d"/>
<rect x="218.9" y="526.43" width="1.2" height="3.7" fill="#43b56f"/>
<rect x="218.9" y="530.08" width="1.2" height="3.7" fill="#59ba63"/>
<rect x="252.8" y="493.6" width="1.2" height="3.7" fill="#345f8b"/>
<rect x="252.8" y="497.25" width="1.2" height="3.7" fill="#25858c"/>
<rect x="252.8" y="500.9" width="1.2" height="3.7" fill="#31668d"/>
<rect x="252.8" y="504.54" width="1.2" height="3.7" fill="#2a778d"/>
<rect x="252.8" y="508.19" width="1.2" height="3.7" fill="#2f6a8e"/>
<rect x="252.8" y="511.84" width="1.2" height="3.7" fill="#287c8d"/>
<rect x="252.8" y="515.49" width="1.2" height="3.7" fill="#24868c"/>
<rect x="252.8" y="519.14" width="1.2" height="3.7" fill="#36598a"/>
<rect x="252.8" y="522.78" width="1.2" height="3.7" fill="#2f6c8e"/>
<rect x="252.8" y="526.43" width="1.2" height="3.7" fill="#56ba64"/>
<rect x="252.8" y="530.08" width="1.2" height="3.7" fill="#259986"/>
<rect x="264.1" y="493.6" width="1.2" height="3.7" fill="#279b84"/>
<rect x="264.1" y="497.25" width="1.2" height="3.7" fill="#32ad79"/>
<rect x="264.1" y="500.9" width="1.2" height="3.7" fill="#35b276"/>
<rect x="264.1" y="504.54" width="1.2" height="3.7" fill="#2ba380"/>
<rect x="264.1" y="508.19" width="1.2" height="3.7" fill="#33af78"/>
<rect x="264.1" y="511.84" width="1.2" height="3.7" fill="#29a082"/>
<rect x="264.1" y="515.49" width="1.2" height="3.7" fill="#2ea67d"/>
<rect x="264.1" y="519.14" width="1.2" height="3.7" fill="#2aa081"/>
<rect x="264.1" y="522.78" width="1.2" height="3.7" fill="#2ca47f"/>
<rect x="264.1" y="526.43" width="1.2" height="3.7" fill="#53b966"/>
<rect x="264.1" y="530.08" width="1.2" height="3.7" fill="#50b867"/>
<rect x="307.5" y="493.6" width="1.2" height="3.7" fill="#238a8c"/>
<rect x="307.5" y="497.25" width="1.2" height="3.7" fill="#238a8c"/>
<rect x="307.5" y="500.9" width="1.2" height="3.7" fill="#229489"/>
<rect x="307.5" y="504.54" width="1.2" height="3.7" fill="#269a85"/>
<rect x="307.5" y="508.19" width="1.2" height="3.7" fill="#279b84"/>
<rect x="307.5" y="511.84" width="1.2" height="3.7" fill="#27808c"/>
<rect x="307.5" y="515.49" width="1.2" height="3.7" fill="#249887"/>
<rect x="307.5" y="519.14" width="1.2" height="3.7" fill="#20908b"/>
<rect x="307.5" y="522.78" width="1.2" height="3.7" fill="#229489"/>
<rect x="307.5" y="526.43" width="1.2" height="3.7" fill="#43b56f"/>
<rect x="307.5" y="530.08" width="1.2" height="3.7" fill="#4ab76b"/>
<rect x="317" y="493.6" width="1" height="3.7" fill="#279d84"/>
<rect x="317" y="497.25" width="1" height="3.7" fill="#2ea77d"/>
<rect x="317" y="500.9" width="1" height="3.7" fill="#2fa97c"/>
<rect x="317" y="504.54" width="1" height="3.7" fill="#2ba280"/>
<rect x="317" y="508.19" width="1" height="3.7" fill="#29a082"/>
<rect x="317" y="511.84" width="1" height="3.7" fill="#269b85"/>
<rect x="317" y="515.49" width="1" height="3.7" fill="#30aa7b"/>
<rect x="317" y="519.14" width="1" height="3.7" fill="#279c84"/>
<rect x="317" y="522.78" width="1" height="3.7" fill="#269a85"/>
<rect x="317" y="526.43" width="1" height="3.7" fill="#46b66d"/>
<rect x="317" y="530.08" width="1" height="3.7" fill="#7ac251"/>
<rect x="188.73" y="493.6" width="0.8" height="32.83" fill="#86c54b" opacity="0.8"/>
<rect x="276.18" y="493.6" width="0.8" height="32.83" fill="#88c64a" opacity="0.8"/>
<rect x="177.6" y="493.6" width="0.8" height="32.83" fill="#87c54b" opacity="0.8"/>
<rect x="149.65" y="493.6" width="0.8" height="32.83" fill="#75c154" opacity="0.8"/>
<rect x="57.77" y="493.6" width="0.8" height="32.83" fill="#84c54c" opacity="0.8"/>
<rect x="93.45" y="493.6" width="0.8" height="32.83" fill="#86c54b" opacity="0.8"/>
<rect x="321.53" y="493.6" width="0.8" height="32.83" fill="#87c54b" opacity="0.8"/>
<rect x="206.31" y="493.6" width="0.8" height="32.83" fill="#84c54c" opacity="0.8"/>
<rect x="242.46" y="493.6" width="0.8" height="32.83" fill="#84c54c" opacity="0.8"/>
<rect x="77.43" y="493.6" width="0.8" height="32.83" fill="#84c54c" opacity="0.8"/>
<rect x="147.46" y="493.6" width="0.8" height="32.83" fill="#7ac251" opacity="0.8"/>
<rect x="193" y="493.6" width="0.8" height="32.83" fill="#8bc649" opacity="0.8"/>
<rect x="225.78" y="493.6" width="0.8" height="32.83" fill="#88c64a" opacity="0.8"/>
<rect x="178.05" y="493.6" width="0.8" height="32.83" fill="#8ac649" opacity="0.8"/>
<rect x="148.25" y="493.6" width="0.8" height="32.83" fill="#7ac251" opacity="0.8"/>
<rect x="179.18" y="493.6" width="0.8" height="32.83" fill="#7bc351" opacity="0.8"/>
<rect x="250.21" y="493.6" width="0.8" height="32.83" fill="#80c44e" opacity="0.8"/>
<rect x="217.33" y="493.6" width="0.8" height="32.83" fill="#85c54c" opacity="0.8"/>
<rect x="209.31" y="493.6" width="0.8" height="32.83" fill="#7ac251" opacity="0.8"/>
<rect x="56.43" y="493.6" width="0.8" height="32.83" fill="#76c153" opacity="0.8"/>
<rect x="135.42" y="493.6" width="0.8" height="32.83" fill="#8cc748" opacity="0.8"/>
<rect x="71.41" y="493.6" width="0.8" height="32.83" fill="#87c54b" opacity="0.8"/>
<rect x="47.61" y="493.6" width="0.8" height="32.83" fill="#85c54c" opacity="0.8"/>
<rect x="149.53" y="493.6" width="0.8" height="32.83" fill="#7ec34f" opacity="0.8"/>
<rect x="164.7" y="493.6" width="0.8" height="32.83" fill="#76c153" opacity="0.8"/>
<rect x="221.52" y="493.6" width="0.8" height="32.83" fill="#87c54b" opacity="0.8"/>
<rect x="285.03" y="493.6" width="0.8" height="32.83" fill="#7cc350" opacity="0.8"/>
<rect x="312.27" y="493.6" width="0.8" height="32.83" fill="#7bc350" opacity="0.8"/>
<rect x="311.77" y="493.6" width="0.8" height="32.83" fill="#8ac649" opacity="0.8"/>
<rect x="109.23" y="493.6" width="0.8" height="32.83" fill="#75c154" opacity="0.8"/>
<rect x="33.65" y="493.6" width="0.8" height="32.83" fill="#76c253" opacity="0.8"/>
<rect x="295.49" y="493.6" width="0.8" height="32.83" fill="#8cc748" opacity="0.8"/>
<rect x="71.63" y="493.6" width="0.8" height="32.83" fill="#76c253" opacity="0.8"/>
<rect x="310.03" y="493.6" width="0.8" height="32.83" fill="#78c252" opacity="0.8"/>
<rect x="240.71" y="493.6" width="0.8" height="32.83" fill="#7bc351" opacity="0.8"/>
<rect x="117.92" y="493.6" width="0.8" height="32.83" fill="#90c846" opacity="0.8"/>
<rect x="212.24" y="493.6" width="0.8" height="32.83" fill="#77c252" opacity="0.8"/>
<rect x="306.85" y="493.6" width="0.8" height="32.83" fill="#82c44d" opacity="0.8"/>
<rect x="29.66" y="493.6" width="0.8" height="32.83" fill="#8bc649" opacity="0.8"/>
<rect x="159.55" y="493.6" width="0.8" height="32.83" fill="#8ac649" opacity="0.8"/>
<rect x="35.36" y="493.6" width="0.8" height="32.83" fill="#8bc649" opacity="0.8"/>
<rect x="174.51" y="493.6" width="0.8" height="32.83" fill="#8dc748" opacity="0.8"/>
<rect x="60.43" y="493.6" width="0.8" height="32.83" fill="#8cc748" opacity="0.8"/>
<rect x="37.13" y="493.6" width="0.8" height="32.83" fill="#7ac251" opacity="0.8"/>
<rect x="282.3" y="493.6" width="0.8" height="32.83" fill="#8bc649" opacity="0.8"/>
<rect x="53.4" y="556" width="2.6" height="3" fill="#c8c8c8"/>
<line x1="26.9" y1="584.8" x2="26.9" y2="586" stroke="#555" stroke-width="0.35"/>
<text x="27.7" y="587.2" font-size="3.9" text-anchor="end" fill="#4cb35c" transform="rotate(-45 27.7 587.2)">E_-4873</text>
<line x1="33.45" y1="584.8" x2="33.45" y2="586" stroke="#555" stroke-width="0.35"/>
<text x="34.25" y="587.2" font-size="3.9" text-anchor="end" fill="#4cb35c" transform="rotate(-45 34.25 587.2)">E_-4736</text>
<line x1="40" y1="584.8" x2="40" y2="586" stroke="#555" stroke-width="0.35"/>
<text x="40.8" y="587.2" font-size="3.9" text-anchor="end" fill="#4cb35c" transform="rotate(-45 40.8 587.2)">E_-4599</text>
<line x1="46.55" y1="584.8" x2="46.55" y2="586" stroke="#555" stroke-width="0.35"/>
<text x="47.35" y="587.2" font-size="3.9" text-anchor="end" fill="#4cb35c" transform="rotate(-45 47.35 587.2)">E_-4462</text>
<line x1="53.1" y1="584.8" x2="53.1" y2="586" stroke="#555" stroke-width="0.35"/>
<text x="53.9" y="587.2" font-size="3.9" text-anchor="end" fill="#4cb35c" transform="rotate(-45 53.9 587.2)">E_-4325</text>
<line x1="59.65" y1="584.8" x2="59.65" y2="586" stroke="#555" stroke-width="0.35"/>
<text x="60.45" y="587.2" font-size="3.9" text-anchor="end" fill="#4cb35c" transform="rotate(-45 60.45 587.2)">E_-4188</text>
<line x1="66.2" y1="584.8" x2="66.2" y2="586" stroke="#555" stroke-width="0.35"/>
<text x="67" y="587.2" font-size="3.9" text-anchor="end" fill="#4cb35c" transform="rotate(-45 67 587.2)">E_-4051</text>
<line x1="72.75" y1="584.8" x2="72.75" y2="586" stroke="#555" stroke-width="0.35"/>
<text x="73.55" y="587.2" font-size="3.9" text-anchor="end" fill="#4cb35c" transform="rotate(-45 73.55 587.2)">E_-3914</text>
<line x1="79.3" y1="584.8" x2="79.3" y2="586" stroke="#555" stroke-width="0.35"/>
<text x="80.1" y="587.2" font-size="3.9" text-anchor="end" fill="#4cb35c" transform="rotate(-45 80.1 587.2)">E_-3777</text>
<line x1="85.85" y1="584.8" x2="85.85" y2="586" stroke="#555" stroke-width="0.35"/>
<text x="86.65" y="587.2" font-size="3.9" text-anchor="end" fill="#4cb35c" transform="rotate(-45 86.65 587.2)">E_-3640</text>
<line x1="92.4" y1="584.8" x2="92.4" y2="586" stroke="#555" stroke-width="0.35"/>
<text x="93.2" y="587.2" font-size="3.9" text-anchor="end" fill="#4cb35c" transform="rotate(-45 93.2 587.2)">E_-3503</text>
<line x1="98.95" y1="584.8" x2="98.95" y2="586" stroke="#555" stroke-width="0.35"/>
<text x="99.75" y="587.2" font-size="3.9" text-anchor="end" fill="#4cb35c" transform="rotate(-45 99.75 587.2)">E_-3366</text>
<line x1="105.5" y1="584.8" x2="105.5" y2="586" stroke="#555" stroke-width="0.35"/>
<text x="106.3" y="587.2" font-size="3.9" text-anchor="end" fill="#4cb35c" transform="rotate(-45 106.3 587.2)">E_-3229</text>
<line x1="112.05" y1="584.8" x2="112.05" y2="586" stroke="#555" stroke-width="0.35"/>
<text x="112.85" y="587.2" font-size="3.9" text-anchor="end" fill="#3ab0e0" transform="rotate(-45 112.85 587.2)">E_-3092</text>
<line x1="118.6" y1="584.8" x2="118.6" y2="586" stroke="#555" stroke-width="0.35"/>
<text x="119.4" y="587.2" font-size="3.9" text-anchor="end" fill="#4cb35c" transform="rotate(-45 119.4 587.2)">E_-2955</text>
<line x1="125.15" y1="584.8" x2="125.15" y2="586" stroke="#555" stroke-width="0.35"/>
<text x="125.95" y="587.2" font-size="3.9" text-anchor="end" fill="#4cb35c" transform="rotate(-45 125.95 587.2)">E_-2818</text>
<line x1="131.7" y1="584.8" x2="131.7" y2="586" stroke="#555" stroke-width="0.35"/>
<text x="132.5" y="587.2" font-size="3.9" text-anchor="end" fill="#4cb35c" transform="rotate(-45 132.5 587.2)">E_-2681</text>
<line x1="138.25" y1="584.8" x2="138.25" y2="586" stroke="#555" stroke-width="0.35"/>
<text x="139.05" y="587.2" font-size="3.9" text-anchor="end" fill="#4cb35c" transform="rotate(-45 139.05 587.2)">E_-2544</text>
<line x1="144.8" y1="584.8" x2="144.8" y2="586" stroke="#555" stroke-width="0.35"/>
<text x="145.6" y="587.2" font-size="3.9" text-anchor="end" fill="#4cb35c" transform="rotate(-45 145.6 587.2)">E_-2407</text>
<line x1="151.35" y1="584.8" x2="151.35" y2="586" stroke="#555" stroke-width="0.35"/>
<text x="152.15" y="587.2" font-size="3.9" text-anchor="end" fill="#4cb35c" transform="rotate(-45 152.15 587.2)">E_-2270</text>
<line x1="157.9" y1="584.8" x2="157.9" y2="586" stroke="#555" stroke-width="0.35"/>
<text x="158.7" y="587.2" font-size="3.9" text-anchor="end" fill="#f0b040" transform="rotate(-45 158.7 587.2)">E_-2133</text>
<line x1="164.45" y1="584.8" x2="164.45" y2="586" stroke="#555" stroke-width="0.35"/>
<text x="165.25" y="587.2" font-size="3.9" text-anchor="end" fill="#f0b040" transform="rotate(-45 165.25 587.2)">E_-1996</text>
<line x1="171" y1="584.8" x2="171" y2="586" stroke="#555" stroke-width="0.35"/>
<text x="171.8" y="587.2" font-size="3.9" text-anchor="end" fill="#e84848" transform="rotate(-45 171.8 587.2)">E_-1859</text>
<line x1="177.55" y1="584.8" x2="177.55" y2="586" stroke="#555" stroke-width="0.35"/>
<text x="178.35" y="587.2" font-size="3.9" text-anchor="end" fill="#e84848" transform="rotate(-45 178.35 587.2)">E_-1722</text>
<line x1="184.1" y1="584.8" x2="184.1" y2="586" stroke="#555" stroke-width="0.35"/>
<text x="184.9" y="587.2" font-size="3.9" text-anchor="end" fill="#e84848" transform="rotate(-45 184.9 587.2)">E_-1585</text>
<line x1="190.65" y1="584.8" x2="190.65" y2="586" stroke="#555" stroke-width="0.35"/>
<text x="191.45" y="587.2" font-size="3.9" text-anchor="end" fill="#e84848" transform="rotate(-45 191.45 587.2)">E_-1448</text>
<line x1="197.2" y1="584.8" x2="197.2" y2="586" stroke="#555" stroke-width="0.35"/>
<text x="198" y="587.2" font-size="3.9" text-anchor="end" fill="#f0b040" transform="rotate(-45 198 587.2)">E_-1311</text>
<line x1="203.75" y1="584.8" x2="203.75" y2="586" stroke="#555" stroke-width="0.35"/>
<text x="204.55" y="587.2" font-size="3.9" text-anchor="end" fill="#e84848" transform="rotate(-45 204.55 587.2)">E_-1174</text>
<line x1="210.3" y1="584.8" x2="210.3" y2="586" stroke="#555" stroke-width="0.35"/>
<text x="211.1" y="587.2" font-size="3.9" text-anchor="end" fill="#f0b040" transform="rotate(-45 211.1 587.2)">E_-1037</text>
<line x1="216.85" y1="584.8" x2="216.85" y2="586" stroke="#555" stroke-width="0.35"/>
<text x="217.65" y="587.2" font-size="3.9" text-anchor="end" fill="#f0b040" transform="rotate(-45 217.65 587.2)">E_-900</text>
<line x1="223.4" y1="584.8" x2="223.4" y2="586" stroke="#555" stroke-width="0.35"/>
<text x="224.2" y="587.2" font-size="3.9" text-anchor="end" fill="#e84848" transform="rotate(-45 224.2 587.2)">E_-763</text>
<line x1="229.95" y1="584.8" x2="229.95" y2="586" stroke="#555" stroke-width="0.35"/>
<text x="230.75" y="587.2" font-size="3.9" text-anchor="end" fill="#e84848" transform="rotate(-45 230.75 587.2)">E_-626</text>
<line x1="236.5" y1="584.8" x2="236.5" y2="586" stroke="#555" stroke-width="0.35"/>
<text x="237.3" y="587.2" font-size="3.9" text-anchor="end" fill="#e84848" transform="rotate(-45 237.3 587.2)">E_-489</text>
<line x1="243.05" y1="584.8" x2="243.05" y2="586" stroke="#555" stroke-width="0.35"/>
<text x="243.85" y="587.2" font-size="3.9" text-anchor="end" fill="#f0b040" transform="rotate(-45 243.85 587.2)">E_-352</text>
<line x1="249.6" y1="584.8" x2="249.6" y2="586" stroke="#555" stroke-width="0.35"/>
<text x="250.4" y="587.2" font-size="3.9" text-anchor="end" fill="#e84848" transform="rotate(-45 250.4 587.2)">E_-215</text>
<line x1="256.15" y1="584.8" x2="256.15" y2="586" stroke="#555" stroke-width="0.35"/>
<text x="256.95" y="587.2" font-size="3.9" text-anchor="end" fill="#e84848" transform="rotate(-45 256.95 587.2)">E_-78</text>
<line x1="262.7" y1="584.8" x2="262.7" y2="586" stroke="#555" stroke-width="0.35"/>
<text x="263.5" y="587.2" font-size="3.9" text-anchor="end" fill="#e84848" transform="rotate(-45 263.5 587.2)">E_--59</text>
<line x1="269.25" y1="584.8" x2="269.25" y2="586" stroke="#555" stroke-width="0.35"/>
<text x="270.05" y="587.2" font-size="3.9" text-anchor="end" fill="#e84848" transform="rotate(-45 270.05 587.2)">E_--196</text>
<line x1="275.8" y1="584.8" x2="275.8" y2="586" stroke="#555" stroke-width="0.35"/>
<text x="276.6" y="587.2" font-size="3.9" text-anchor="end" fill="#e84848" transform="rotate(-45 276.6 587.2)">E_--333</text>
<line x1="282.35" y1="584.8" x2="282.35" y2="586" stroke="#555" stroke-width="0.35"/>
<text x="283.15" y="587.2" font-size="3.9" text-anchor="end" fill="#f0b040" transform="rotate(-45 283.15 587.2)">E_--470</text>
<line x1="288.9" y1="584.8" x2="288.9" y2="586" stroke="#555" stroke-width="0.35"/>
<text x="289.7" y="587.2" font-size="3.9" text-anchor="end" fill="#e84848" transform="rotate(-45 289.7 587.2)">E_--607</text>
<line x1="295.45" y1="584.8" x2="295.45" y2="586" stroke="#555" stroke-width="0.35"/>
<text x="296.25" y="587.2" font-size="3.9" text-anchor="end" fill="#e84848" transform="rotate(-45 296.25 587.2)">E_--744</text>
<line x1="302" y1="584.8" x2="302" y2="586" stroke="#555" stroke-width="0.35"/>
<text x="302.8" y="587.2" font-size="3.9" text-anchor="end" fill="#e84848" transform="rotate(-45 302.8 587.2)">E_--881</text>
<line x1="308.55" y1="584.8" x2="308.55" y2="586" stroke="#555" stroke-width="0.35"/>
<text x="309.35" y="587.2" font-size="3.9" text-anchor="end" fill="#f0b040" transform="rotate(-45 309.35 587.2)">E_--1018</text>
<line x1="315.1" y1="584.8" x2="315.1" y2="586" stroke="#555" stroke-width="0.35"/>
<text x="315.9" y="587.2" font-size="3.9" text-anchor="end" fill="#e84848" transform="rotate(-45 315.9 587.2)">E_--1155</text>
<line x1="321.65" y1="584.8" x2="321.65" y2="586" stroke="#555" stroke-width="0.35"/>
<text x="322.45" y="587.2" font-size="3.9" text-anchor="end" fill="#a58ed0" transform="rotate(-45 322.45 587.2)">E_--1292</text>
<text x="342.1" y="466.9" font-size="11.5" fill="#111" font-weight="bold">k</text>
<rect x="350.9" y="468.8" width="4.9" height="19.2" fill="url(#gvir2)"/>
<line x1="355.8" y1="468.8" x2="356.8" y2="468.8" stroke="#333" stroke-width="0.35"/>
<text x="357.2" y="470.1" font-size="3.8" fill="#222">100%</text>
<line x1="355.8" y1="472.64" x2="356.8" y2="472.64" stroke="#333" stroke-width="0.35"/>
<text x="357.2" y="473.94" font-size="3.8" fill="#222">80%</text>
<line x1="355.8" y1="476.48" x2="356.8" y2="476.48" stroke="#333" stroke-width="0.35"/>
<text x="357.2" y="477.78" font-size="3.8" fill="#222">60%</text>
<line x1="355.8" y1="480.32" x2="356.8" y2="480.32" stroke="#333" stroke-width="0.35"/>
<text x="357.2" y="481.62" font-size="3.8" fill="#222">40%</text>
<line x1="355.8" y1="484.16" x2="356.8" y2="484.16" stroke="#333" stroke-width="0.35"/>
<text x="357.2" y="485.46" font-size="3.8" fill="#222">20%</text>
<line x1="355.8" y1="488" x2="356.8" y2="488" stroke="#333" stroke-width="0.35"/>
<text x="357.2" y="489.3" font-size="3.8" fill="#222">0%</text>
<text x="525" y="468.3" font-size="9.05" text-anchor="middle" fill="#222">Dopeav2047480m: ATP1B1</text>
<rect x="359.7" y="493.6" width="5.8" height="33.1" fill="#3a4ca8"/>
<rect x="359.7" y="526.7" width="5.8" height="7" fill="#7b2a86"/>
<rect x="359.7" y="533.7" width="5.8" height="51.1" fill="#f6a01a"/>
<rect x="365.9" y="493.6" width="296.5" height="91.2" fill="#a6ce3c"/>
<line x1="663.2" y1="478.1" x2="664.2" y2="478.1" stroke="#555" stroke-width="0.3"/>
<text x="664.7" y="479.3" font-size="3.6" fill="#333">Location</text>
<line x1="663.2" y1="481.6" x2="664.2" y2="481.6" stroke="#555" stroke-width="0.3"/>
<text x="664.7" y="482.8" font-size="3.6" fill="#333">PFAM</text>
<line x1="663.2" y1="485.1" x2="664.2" y2="485.1" stroke="#555" stroke-width="0.3"/>
<text x="664.7" y="486.3" font-size="3.6" fill="#333">InRepeat</text>
<line x1="663.2" y1="488.6" x2="664.2" y2="488.6" stroke="#555" stroke-width="0.3"/>
<text x="664.7" y="489.8" font-size="3.6" fill="#333">Edit_type</text>
<line x1="663.2" y1="492.1" x2="664.2" y2="492.1" stroke="#555" stroke-width="0.3"/>
<text x="664.7" y="493.3" font-size="3.6" fill="#333">Effect</text>
<line x1="663.2" y1="495.42" x2="664.2" y2="495.42" stroke="#555" stroke-width="0.3"/>
<text x="664.7" y="496.72" font-size="3.8" fill="#333">GFL</text>
<line x1="663.2" y1="499.07" x2="664.2" y2="499.07" stroke="#555" stroke-width="0.3"/>
<text x="664.7" y="500.37" font-size="3.8" fill="#333">Sub</text>
<line x1="663.2" y1="502.72" x2="664.2" y2="502.72" stroke="#555" stroke-width="0.3"/>
<text x="664.7" y="504.02" font-size="3.8" fill="#333">SG</text>
<line x1="663.2" y1="506.37" x2="664.2" y2="506.37" stroke="#555" stroke-width="0.3"/>
<text x="664.7" y="507.67" font-size="3.8" fill="#333">OLI</text>
<line x1="663.2" y1="510.02" x2="664.2" y2="510.02" stroke="#555" stroke-width="0.3"/>
<text x="664.7" y="511.32" font-size="3.8" fill="#333">OLe</text>
<line x1="663.2" y1="513.66" x2="664.2" y2="513.66" stroke="#555" stroke-width="0.3"/>
<text x="664.7" y="514.96" font-size="3.8" fill="#333">BuL</text>
<line x1="663.2" y1="517.31" x2="664.2" y2="517.31" stroke="#555" stroke-width="0.3"/>
<text x="664.7" y="518.61" font-size="3.8" fill="#333">Sup</text>
<line x1="663.2" y1="520.96" x2="664.2" y2="520.96" stroke="#555" stroke-width="0.3"/>
<text x="664.7" y="522.26" font-size="3.8" fill="#333">VL</text>
<line x1="663.2" y1="524.61" x2="664.2" y2="524.61" stroke="#555" stroke-width="0.3"/>
<text x="664.7" y="525.91" font-size="3.8" fill="#333">BrL</text>
<line x1="663.2" y1="528.26" x2="664.2" y2="528.26" stroke="#555" stroke-width="0.3"/>
<text x="664.7" y="529.56" font-size="3.8" fill="#333">ANC</text>
<line x1="663.2" y1="531.9" x2="664.2" y2="531.9" stroke="#555" stroke-width="0.3"/>
<text x="664.7" y="533.2" font-size="3.8" fill="#333">Ret</text>
<line x1="663.2" y1="535.55" x2="664.2" y2="535.55" stroke="#555" stroke-width="0.3"/>
<text x="664.7" y="536.85" font-size="3.8" fill="#333">BM</text>
<line x1="663.2" y1="539.2" x2="664.2" y2="539.2" stroke="#555" stroke-width="0.3"/>
<text x="664.7" y="540.5" font-size="3.8" fill="#333">DCI</text>
<line x1="663.2" y1="542.85" x2="664.2" y2="542.85" stroke="#555" stroke-width="0.3"/>
<text x="664.7" y="544.15" font-size="3.8" fill="#333">Hep</text>
<line x1="663.2" y1="546.5" x2="664.2" y2="546.5" stroke="#555" stroke-width="0.3"/>
<text x="664.7" y="547.8" font-size="3.8" fill="#333">MDC</text>
<line x1="663.2" y1="550.14" x2="664.2" y2="550.14" stroke="#555" stroke-width="0.3"/>
<text x="664.7" y="551.44" font-size="3.8" fill="#333">Tes</text>
<line x1="663.2" y1="553.79" x2="664.2" y2="553.79" stroke="#555" stroke-width="0.3"/>
<text x="664.7" y="555.09" font-size="3.8" fill="#333">MVI</text>
<line x1="663.2" y1="557.44" x2="664.2" y2="557.44" stroke="#555" stroke-width="0.3"/>
<text x="664.7" y="558.74" font-size="3.8" fill="#333">Man</text>
<line x1="663.2" y1="561.09" x2="664.2" y2="561.09" stroke="#555" stroke-width="0.3"/>
<text x="664.7" y="562.39" font-size="3.8" fill="#333">Hea</text>
<line x1="663.2" y1="564.74" x2="664.2" y2="564.74" stroke="#555" stroke-width="0.3"/>
<text x="664.7" y="566.04" font-size="3.8" fill="#333">MVC</text>
<line x1="663.2" y1="568.38" x2="664.2" y2="568.38" stroke="#555" stroke-width="0.3"/>
<text x="664.7" y="569.68" font-size="3.8" fill="#333">Gil</text>
<line x1="663.2" y1="572.03" x2="664.2" y2="572.03" stroke="#555" stroke-width="0.3"/>
<text x="664.7" y="573.33" font-size="3.8" fill="#333">Kid</text>
<line x1="663.2" y1="575.68" x2="664.2" y2="575.68" stroke="#555" stroke-width="0.3"/>
<text x="664.7" y="576.98" font-size="3.8" fill="#333">Ten</text>
<line x1="663.2" y1="579.33" x2="664.2" y2="579.33" stroke="#555" stroke-width="0.3"/>
<text x="664.7" y="580.63" font-size="3.8" fill="#333">Suc</text>
<line x1="663.2" y1="582.98" x2="664.2" y2="582.98" stroke="#555" stroke-width="0.3"/>
<text x="664.7" y="584.28" font-size="3.8" fill="#333">MDI</text>
<rect x="365.9" y="476.6" width="85.83" height="3.1" fill="#3a52a8"/>
<rect x="373.7" y="480.1" width="78.03" height="3" fill="#111"/>
<rect x="365.9" y="483.3" width="7.8" height="3.2" fill="#111"/>
<rect x="568.77" y="483.3" width="7.8" height="3.2" fill="#111"/>
<rect x="615.58" y="483.3" width="39.01" height="3.2" fill="#111"/>
<rect x="365.9" y="486.7" width="7.8" height="3.3" fill="#bdbdbd"/>
<rect x="373.7" y="486.7" width="31.21" height="3.3" fill="#3a4cb0"/>
<rect x="404.91" y="486.7" width="7.8" height="3.3" fill="#bdbdbd"/>
<rect x="412.72" y="486.7" width="31.21" height="3.3" fill="#3a4cb0"/>
<rect x="443.93" y="486.7" width="7.8" height="3.3" fill="#bdbdbd"/>
<rect x="451.73" y="486.7" width="7.8" height="3.3" fill="#3a4cb0"/>
<rect x="459.53" y="486.7" width="15.61" height="3.3" fill="#bdbdbd"/>
<rect x="475.14" y="486.7" width="46.82" height="3.3" fill="#3a4cb0"/>
<rect x="521.95" y="486.7" width="7.8" height="3.3" fill="#bdbdbd"/>
<rect x="529.76" y="486.7" width="7.8" height="3.3" fill="#3a4cb0"/>
<rect x="537.56" y="486.7" width="23.41" height="3.3" fill="#bdbdbd"/>
<rect x="560.97" y="486.7" width="7.8" height="3.3" fill="#3a4cb0"/>
<rect x="568.77" y="486.7" width="7.8" height="3.3" fill="#bdbdbd"/>
<rect x="576.57" y="486.7" width="31.21" height="3.3" fill="#3a4cb0"/>
<rect x="607.78" y="486.7" width="15.61" height="3.3" fill="#bdbdbd"/>
<rect x="623.39" y="486.7" width="7.8" height="3.3" fill="#3a4cb0"/>
<rect x="631.19" y="486.7" width="23.41" height="3.3" fill="#bdbdbd"/>
<rect x="654.6" y="486.7" width="7.8" height="3.3" fill="#3a4cb0"/>
<rect x="365.9" y="490" width="15.61" height="3.6" fill="#e4262b"/>
<rect x="381.51" y="490" width="7.8" height="3.6" fill="#f5bf4a"/>
<rect x="389.31" y="490" width="15.61" height="3.6" fill="#e4262b"/>
<rect x="404.91" y="490" width="7.8" height="3.6" fill="#f5bf4a"/>
<rect x="412.72" y="490" width="39.01" height="3.6" fill="#e4262b"/>
<rect x="451.73" y="490" width="210.67" height="3.6" fill="#9b6fc2"/>
<rect x="365.9" y="500.9" width="8.1" height="3.95" fill="#98ca42"/>
<rect x="365.9" y="504.54" width="8.1" height="3.95" fill="#97c943"/>
<rect x="365.9" y="508.19" width="8.1" height="3.95" fill="#9aca42"/>
<rect x="365.9" y="515.49" width="8.1" height="3.95" fill="#99ca42"/>
<rect x="365.9" y="519.14" width="8.1" height="3.95" fill="#97c943"/>
<rect x="365.9" y="522.78" width="8.1" height="3.95" fill="#99ca42"/>
<rect x="373.7" y="493.6" width="8.1" height="3.95" fill="#67be5b"/>
<rect x="373.7" y="497.25" width="8.1" height="3.95" fill="#58ba63"/>
<rect x="373.7" y="500.9" width="8.1" height="3.95" fill="#5bbb61"/>
<rect x="373.7" y="504.54" width="8.1" height="3.95" fill="#5dbb61"/>
<rect x="373.7" y="508.19" width="8.1" height="3.95" fill="#46b66d"/>
<rect x="373.7" y="511.84" width="8.1" height="3.95" fill="#69be5a"/>
<rect x="373.7" y="515.49" width="8.1" height="3.95" fill="#6bbf59"/>
<rect x="373.7" y="519.14" width="8.1" height="3.95" fill="#49b76b"/>
<rect x="373.7" y="522.78" width="8.1" height="3.95" fill="#5dbb60"/>
<rect x="373.7" y="526.43" width="8.1" height="3.95" fill="#90c846"/>
<rect x="373.7" y="530.08" width="8.1" height="3.95" fill="#8fc747"/>
<rect x="381.51" y="493.6" width="8.1" height="3.95" fill="#6cbf58"/>
<rect x="381.51" y="497.25" width="8.1" height="3.95" fill="#5abb62"/>
<rect x="381.51" y="500.9" width="8.1" height="3.95" fill="#71c055"/>
<rect x="381.51" y="504.54" width="8.1" height="3.95" fill="#71c056"/>
<rect x="381.51" y="508.19" width="8.1" height="3.95" fill="#66be5c"/>
<rect x="381.51" y="511.84" width="8.1" height="3.95" fill="#67be5b"/>
<rect x="381.51" y="515.49" width="8.1" height="3.95" fill="#5abb62"/>
<rect x="381.51" y="519.14" width="8.1" height="3.95" fill="#5ebc60"/>
<rect x="381.51" y="522.78" width="8.1" height="3.95" fill="#6dbf58"/>
<rect x="389.31" y="493.6" width="8.1" height="3.95" fill="#239588"/>
<rect x="389.31" y="497.25" width="8.1" height="3.95" fill="#3bb373"/>
<rect x="389.31" y="500.9" width="8.1" height="3.95" fill="#289e83"/>
<rect x="389.31" y="504.54" width="8.1" height="3.95" fill="#259986"/>
<rect x="389.31" y="508.19" width="8.1" height="3.95" fill="#2aa181"/>
<rect x="389.31" y="511.84" width="8.1" height="3.95" fill="#33af78"/>
<rect x="389.31" y="515.49" width="8.1" height="3.95" fill="#279c84"/>
<rect x="389.31" y="519.14" width="8.1" height="3.95" fill="#289e83"/>
<rect x="389.31" y="522.78" width="8.1" height="3.95" fill="#34b077"/>
<rect x="389.31" y="526.43" width="8.1" height="3.95" fill="#8bc649"/>
<rect x="389.31" y="530.08" width="8.1" height="3.95" fill="#90c846"/>
<rect x="397.11" y="493.6" width="8.1" height="3.95" fill="#25858c"/>
<rect x="397.11" y="497.25" width="8.1" height="3.95" fill="#26818c"/>
<rect x="397.11" y="500.9" width="8.1" height="3.95" fill="#345f8b"/>
<rect x="397.11" y="504.54" width="8.1" height="3.95" fill="#395087"/>
<rect x="397.11" y="508.19" width="8.1" height="3.95" fill="#32648c"/>
<rect x="397.11" y="511.84" width="8.1" height="3.95" fill="#20908b"/>
<rect x="397.11" y="515.49" width="8.1" height="3.95" fill="#2a778d"/>
<rect x="397.11" y="519.14" width="8.1" height="3.95" fill="#239588"/>
<rect x="397.11" y="522.78" width="8.1" height="3.95" fill="#375689"/>
<rect x="397.11" y="526.43" width="8.1" height="3.95" fill="#30aa7b"/>
<rect x="397.11" y="530.08" width="8.1" height="3.95" fill="#2da67e"/>
<rect x="404.91" y="493.6" width="8.1" height="3.95" fill="#94c944"/>
<rect x="404.91" y="497.25" width="8.1" height="3.95" fill="#92c845"/>
<rect x="404.91" y="500.9" width="8.1" height="3.95" fill="#8ec747"/>
<rect x="404.91" y="504.54" width="8.1" height="3.95" fill="#90c846"/>
<rect x="404.91" y="508.19" width="8.1" height="3.95" fill="#8dc748"/>
<rect x="404.91" y="511.84" width="8.1" height="3.95" fill="#93c845"/>
<rect x="404.91" y="515.49" width="8.1" height="3.95" fill="#91c846"/>
<rect x="404.91" y="519.14" width="8.1" height="3.95" fill="#8fc747"/>
<rect x="404.91" y="522.78" width="8.1" height="3.95" fill="#92c846"/>
<rect x="412.72" y="493.6" width="8.1" height="3.95" fill="#21908b"/>
<rect x="412.72" y="497.25" width="8.1" height="3.95" fill="#218e8b"/>
<rect x="412.72" y="500.9" width="8.1" height="3.95" fill="#277e8c"/>
<rect x="412.72" y="504.54" width="8.1" height="3.95" fill="#394f87"/>
<rect x="412.72" y="508.19" width="8.1" height="3.95" fill="#2c738d"/>
<rect x="412.72" y="511.84" width="8.1" height="3.95" fill="#26838c"/>
<rect x="412.72" y="515.49" width="8.1" height="3.95" fill="#2f6a8e"/>
<rect x="412.72" y="519.14" width="8.1" height="3.95" fill="#229489"/>
<rect x="412.72" y="522.78" width="8.1" height="3.95" fill="#228d8b"/>
<rect x="412.72" y="526.43" width="8.1" height="3.95" fill="#4fb868"/>
<rect x="412.72" y="530.08" width="8.1" height="3.95" fill="#50b867"/>
<rect x="412.72" y="555.62" width="8.1" height="3.95" fill="#83c44d"/>
<rect x="412.72" y="566.56" width="8.1" height="3.95" fill="#89c64a"/>
<rect x="412.72" y="573.86" width="8.1" height="3.95" fill="#7dc350"/>
<rect x="420.52" y="493.6" width="8.1" height="3.95" fill="#25848c"/>
<rect x="420.52" y="497.25" width="8.1" height="3.95" fill="#269b85"/>
<rect x="420.52" y="500.9" width="8.1" height="3.95" fill="#29a082"/>
<rect x="420.52" y="504.54" width="8.1" height="3.95" fill="#229589"/>
<rect x="420.52" y="508.19" width="8.1" height="3.95" fill="#238a8c"/>
<rect x="420.52" y="511.84" width="8.1" height="3.95" fill="#21928a"/>
<rect x="420.52" y="515.49" width="8.1" height="3.95" fill="#26828c"/>
<rect x="420.52" y="519.14" width="8.1" height="3.95" fill="#249787"/>
<rect x="420.52" y="522.78" width="8.1" height="3.95" fill="#21928a"/>
<rect x="420.52" y="526.43" width="8.1" height="3.95" fill="#7ec34f"/>
<rect x="420.52" y="530.08" width="8.1" height="3.95" fill="#82c44d"/>
<rect x="428.32" y="493.6" width="8.1" height="3.95" fill="#3f4083"/>
<rect x="428.32" y="497.25" width="8.1" height="3.95" fill="#3c4985"/>
<rect x="428.32" y="500.9" width="8.1" height="3.95" fill="#423881"/>
<rect x="428.32" y="504.54" width="8.1" height="3.95" fill="#423981"/>
<rect x="428.32" y="508.19" width="8.1" height="3.95" fill="#3c4885"/>
<rect x="428.32" y="511.84" width="8.1" height="3.95" fill="#3b4985"/>
<rect x="428.32" y="515.49" width="8.1" height="3.95" fill="#3c4985"/>
<rect x="428.32" y="519.14" width="8.1" height="3.95" fill="#3e4484"/>
<rect x="428.32" y="522.78" width="8.1" height="3.95" fill="#423981"/>
<rect x="428.32" y="526.43" width="8.1" height="3.95" fill="#2aa181"/>
<rect x="428.32" y="530.08" width="8.1" height="3.95" fill="#32ae79"/>
<rect x="428.32" y="544.67" width="8.1" height="3.95" fill="#57ba64"/>
<rect x="428.32" y="551.97" width="8.1" height="3.95" fill="#79c251"/>
<rect x="428.32" y="573.86" width="8.1" height="3.95" fill="#79c252"/>
<rect x="436.12" y="493.6" width="8.1" height="3.95" fill="#2f6b8e"/>
<rect x="436.12" y="497.25" width="8.1" height="3.95" fill="#238a8c"/>
<rect x="436.12" y="500.9" width="8.1" height="3.95" fill="#2ea77d"/>
<rect x="436.12" y="504.54" width="8.1" height="3.95" fill="#29a082"/>
<rect x="436.12" y="508.19" width="8.1" height="3.95" fill="#20918b"/>
<rect x="436.12" y="511.84" width="8.1" height="3.95" fill="#249787"/>
<rect x="436.12" y="515.49" width="8.1" height="3.95" fill="#239688"/>
<rect x="436.12" y="519.14" width="8.1" height="3.95" fill="#26838c"/>
<rect x="436.12" y="522.78" width="8.1" height="3.95" fill="#299f82"/>
<rect x="436.12" y="526.43" width="8.1" height="3.95" fill="#5cbb61"/>
<rect x="436.12" y="530.08" width="8.1" height="3.95" fill="#64bd5d"/>
<rect x="443.93" y="493.6" width="8.1" height="3.95" fill="#8dc748"/>
<rect x="443.93" y="497.25" width="8.1" height="3.95" fill="#8fc747"/>
<rect x="443.93" y="500.9" width="8.1" height="3.95" fill="#8dc748"/>
<rect x="443.93" y="504.54" width="8.1" height="3.95" fill="#91c846"/>
<rect x="443.93" y="508.19" width="8.1" height="3.95" fill="#91c846"/>
<rect x="443.93" y="511.84" width="8.1" height="3.95" fill="#8ec747"/>
<rect x="443.93" y="515.49" width="8.1" height="3.95" fill="#8ac649"/>
<rect x="443.93" y="519.14" width="8.1" height="3.95" fill="#8fc747"/>
<rect x="443.93" y="522.78" width="8.1" height="3.95" fill="#89c64a"/>
<rect x="451.73" y="493.6" width="8.1" height="3.95" fill="#7ec34f"/>
<rect x="451.73" y="497.25" width="8.1" height="3.95" fill="#85c54c"/>
<rect x="451.73" y="500.9" width="8.1" height="3.95" fill="#80c44e"/>
<rect x="451.73" y="504.54" width="8.1" height="3.95" fill="#7dc350"/>
<rect x="451.73" y="508.19" width="8.1" height="3.95" fill="#81c44e"/>
<rect x="451.73" y="511.84" width="8.1" height="3.95" fill="#84c54c"/>
<rect x="451.73" y="515.49" width="8.1" height="3.95" fill="#87c54b"/>
<rect x="451.73" y="519.14" width="8.1" height="3.95" fill="#80c44e"/>
<rect x="451.73" y="522.78" width="8.1" height="3.95" fill="#86c54b"/>
<rect x="459.53" y="493.6" width="8.1" height="3.95" fill="#89c64a"/>
<rect x="459.53" y="497.25" width="8.1" height="3.95" fill="#8bc649"/>
<rect x="459.53" y="500.9" width="8.1" height="3.95" fill="#8cc748"/>
<rect x="459.53" y="504.54" width="8.1" height="3.95" fill="#89c64a"/>
<rect x="459.53" y="508.19" width="8.1" height="3.95" fill="#8ec747"/>
<rect x="459.53" y="511.84" width="8.1" height="3.95" fill="#8ec747"/>
<rect x="459.53" y="515.49" width="8.1" height="3.95" fill="#8bc649"/>
<rect x="459.53" y="519.14" width="8.1" height="3.95" fill="#8cc748"/>
<rect x="459.53" y="522.78" width="8.1" height="3.95" fill="#8fc747"/>
<rect x="467.33" y="493.6" width="8.1" height="3.95" fill="#93c845"/>
<rect x="467.33" y="497.25" width="8.1" height="3.95" fill="#90c746"/>
<rect x="467.33" y="500.9" width="8.1" height="3.95" fill="#95c944"/>
<rect x="467.33" y="504.54" width="8.1" height="3.95" fill="#8ec747"/>
<rect x="467.33" y="508.19" width="8.1" height="3.95" fill="#90c746"/>
<rect x="467.33" y="511.84" width="8.1" height="3.95" fill="#92c845"/>
<rect x="467.33" y="515.49" width="8.1" height="3.95" fill="#8ec748"/>
<rect x="467.33" y="519.14" width="8.1" height="3.95" fill="#8fc747"/>
<rect x="467.33" y="522.78" width="8.1" height="3.95" fill="#94c944"/>
<rect x="475.14" y="493.6" width="8.1" height="3.95" fill="#58ba63"/>
<rect x="475.14" y="497.25" width="8.1" height="3.95" fill="#74c154"/>
<rect x="475.14" y="500.9" width="8.1" height="3.95" fill="#76c153"/>
<rect x="475.14" y="504.54" width="8.1" height="3.95" fill="#6ec057"/>
<rect x="475.14" y="508.19" width="8.1" height="3.95" fill="#76c153"/>
<rect x="475.14" y="511.84" width="8.1" height="3.95" fill="#6bbf59"/>
<rect x="475.14" y="515.49" width="8.1" height="3.95" fill="#67be5b"/>
<rect x="475.14" y="519.14" width="8.1" height="3.95" fill="#6abf59"/>
<rect x="475.14" y="522.78" width="8.1" height="3.95" fill="#73c154"/>
<rect x="475.14" y="526.43" width="8.1" height="3.95" fill="#92c845"/>
<rect x="475.14" y="530.08" width="8.1" height="3.95" fill="#89c64a"/>
<rect x="475.14" y="573.86" width="8.1" height="3.95" fill="#7ec34f"/>
<rect x="482.94" y="493.6" width="8.1" height="3.95" fill="#5dbc60"/>
<rect x="482.94" y="497.25" width="8.1" height="3.95" fill="#5cbb61"/>
<rect x="482.94" y="500.9" width="8.1" height="3.95" fill="#48b76c"/>
<rect x="482.94" y="504.54" width="8.1" height="3.95" fill="#52b966"/>
<rect x="482.94" y="508.19" width="8.1" height="3.95" fill="#4cb869"/>
<rect x="482.94" y="511.84" width="8.1" height="3.95" fill="#6bbf59"/>
<rect x="482.94" y="515.49" width="8.1" height="3.95" fill="#51b967"/>
<rect x="482.94" y="519.14" width="8.1" height="3.95" fill="#5bbb61"/>
<rect x="482.94" y="522.78" width="8.1" height="3.95" fill="#5dbc60"/>
<rect x="482.94" y="526.43" width="8.1" height="3.95" fill="#6dbf58"/>
<rect x="482.94" y="530.08" width="8.1" height="3.95" fill="#70c056"/>
<rect x="490.74" y="493.6" width="8.1" height="3.95" fill="#35b276"/>
<rect x="490.74" y="497.25" width="8.1" height="3.95" fill="#29a082"/>
<rect x="490.74" y="500.9" width="8.1" height="3.95" fill="#34b077"/>
<rect x="490.74" y="504.54" width="8.1" height="3.95" fill="#37b275"/>
<rect x="490.74" y="508.19" width="8.1" height="3.95" fill="#39b374"/>
<rect x="490.74" y="511.84" width="8.1" height="3.95" fill="#33af78"/>
<rect x="490.74" y="515.49" width="8.1" height="3.95" fill="#2fa87c"/>
<rect x="490.74" y="519.14" width="8.1" height="3.95" fill="#35b276"/>
<rect x="490.74" y="522.78" width="8.1" height="3.95" fill="#3eb471"/>
<rect x="498.54" y="493.6" width="8.1" height="3.95" fill="#3c4885"/>
<rect x="498.54" y="497.25" width="8.1" height="3.95" fill="#3b4a86"/>
<rect x="498.54" y="500.9" width="8.1" height="3.95" fill="#3d4584"/>
<rect x="498.54" y="504.54" width="8.1" height="3.95" fill="#3f4183"/>
<rect x="498.54" y="508.19" width="8.1" height="3.95" fill="#3b4a86"/>
<rect x="498.54" y="511.84" width="8.1" height="3.95" fill="#403d82"/>
<rect x="498.54" y="515.49" width="8.1" height="3.95" fill="#3e4384"/>
<rect x="498.54" y="519.14" width="8.1" height="3.95" fill="#3f3f83"/>
<rect x="498.54" y="522.78" width="8.1" height="3.95" fill="#413c82"/>
<rect x="498.54" y="526.43" width="8.1" height="3.95" fill="#32ad79"/>
<rect x="498.54" y="530.08" width="8.1" height="3.95" fill="#249787"/>
<rect x="498.54" y="541.02" width="8.1" height="3.95" fill="#4fb868"/>
<rect x="498.54" y="566.56" width="8.1" height="3.95" fill="#5dbc60"/>
<rect x="506.35" y="493.6" width="8.1" height="3.95" fill="#47b66c"/>
<rect x="506.35" y="497.25" width="8.1" height="3.95" fill="#62bd5e"/>
<rect x="506.35" y="500.9" width="8.1" height="3.95" fill="#69be5a"/>
<rect x="506.35" y="504.54" width="8.1" height="3.95" fill="#55ba65"/>
<rect x="506.35" y="508.19" width="8.1" height="3.95" fill="#67be5b"/>
<rect x="506.35" y="511.84" width="8.1" height="3.95" fill="#47b66c"/>
<rect x="506.35" y="515.49" width="8.1" height="3.95" fill="#5abb62"/>
<rect x="506.35" y="519.14" width="8.1" height="3.95" fill="#58ba63"/>
<rect x="506.35" y="522.78" width="8.1" height="3.95" fill="#4db869"/>
<rect x="506.35" y="526.43" width="8.1" height="3.95" fill="#48b66c"/>
<rect x="506.35" y="530.08" width="8.1" height="3.95" fill="#6abf59"/>
<rect x="514.15" y="493.6" width="8.1" height="3.95" fill="#7cc350"/>
<rect x="514.15" y="497.25" width="8.1" height="3.95" fill="#86c54b"/>
<rect x="514.15" y="500.9" width="8.1" height="3.95" fill="#7fc34f"/>
<rect x="514.15" y="504.54" width="8.1" height="3.95" fill="#7ec34f"/>
<rect x="514.15" y="508.19" width="8.1" height="3.95" fill="#80c44e"/>
<rect x="514.15" y="511.84" width="8.1" height="3.95" fill="#84c54c"/>
<rect x="514.15" y="515.49" width="8.1" height="3.95" fill="#7cc350"/>
<rect x="514.15" y="519.14" width="8.1" height="3.95" fill="#7dc34f"/>
<rect x="514.15" y="522.78" width="8.1" height="3.95" fill="#88c64a"/>
<rect x="521.95" y="493.6" width="8.1" height="3.95" fill="#7ac251"/>
<rect x="521.95" y="497.25" width="8.1" height="3.95" fill="#7dc350"/>
<rect x="521.95" y="500.9" width="8.1" height="3.95" fill="#7ec34f"/>
<rect x="521.95" y="504.54" width="8.1" height="3.95" fill="#6fc057"/>
<rect x="521.95" y="508.19" width="8.1" height="3.95" fill="#6ec057"/>
<rect x="521.95" y="511.84" width="8.1" height="3.95" fill="#79c251"/>
<rect x="521.95" y="515.49" width="8.1" height="3.95" fill="#7cc350"/>
<rect x="521.95" y="519.14" width="8.1" height="3.95" fill="#7ec34f"/>
<rect x="521.95" y="522.78" width="8.1" height="3.95" fill="#78c252"/>
<rect x="529.76" y="493.6" width="8.1" height="3.95" fill="#6fc057"/>
<rect x="529.76" y="497.25" width="8.1" height="3.95" fill="#5ebc60"/>
<rect x="529.76" y="500.9" width="8.1" height="3.95" fill="#75c153"/>
<rect x="529.76" y="504.54" width="8.1" height="3.95" fill="#6bbf59"/>
<rect x="529.76" y="508.19" width="8.1" height="3.95" fill="#68be5b"/>
<rect x="529.76" y="511.84" width="8.1" height="3.95" fill="#73c155"/>
<rect x="529.76" y="515.49" width="8.1" height="3.95" fill="#76c153"/>
<rect x="529.76" y="519.14" width="8.1" height="3.95" fill="#75c153"/>
<rect x="529.76" y="522.78" width="8.1" height="3.95" fill="#73c154"/>
<rect x="537.56" y="493.6" width="8.1" height="3.95" fill="#86c54b"/>
<rect x="537.56" y="497.25" width="8.1" height="3.95" fill="#84c54c"/>
<rect x="537.56" y="500.9" width="8.1" height="3.95" fill="#8ac649"/>
<rect x="537.56" y="504.54" width="8.1" height="3.95" fill="#8bc649"/>
<rect x="537.56" y="508.19" width="8.1" height="3.95" fill="#84c54c"/>
<rect x="537.56" y="511.84" width="8.1" height="3.95" fill="#87c54b"/>
<rect x="537.56" y="515.49" width="8.1" height="3.95" fill="#83c54c"/>
<rect x="537.56" y="519.14" width="8.1" height="3.95" fill="#8ac649"/>
<rect x="537.56" y="522.78" width="8.1" height="3.95" fill="#89c64a"/>
<rect x="545.36" y="493.6" width="8.1" height="3.95" fill="#86c54b"/>
<rect x="545.36" y="497.25" width="8.1" height="3.95" fill="#85c54c"/>
<rect x="545.36" y="500.9" width="8.1" height="3.95" fill="#88c64a"/>
<rect x="545.36" y="504.54" width="8.1" height="3.95" fill="#81c44e"/>
<rect x="545.36" y="508.19" width="8.1" height="3.95" fill="#7cc350"/>
<rect x="545.36" y="511.84" width="8.1" height="3.95" fill="#81c44e"/>
<rect x="545.36" y="515.49" width="8.1" height="3.95" fill="#86c54b"/>
<rect x="545.36" y="519.14" width="8.1" height="3.95" fill="#7fc44f"/>
<rect x="545.36" y="522.78" width="8.1" height="3.95" fill="#7fc44e"/>
<rect x="553.16" y="493.6" width="8.1" height="3.95" fill="#8bc649"/>
<rect x="553.16" y="497.25" width="8.1" height="3.95" fill="#8dc748"/>
<rect x="553.16" y="500.9" width="8.1" height="3.95" fill="#8ec747"/>
<rect x="553.16" y="504.54" width="8.1" height="3.95" fill="#90c846"/>
<rect x="553.16" y="508.19" width="8.1" height="3.95" fill="#8dc748"/>
<rect x="553.16" y="511.84" width="8.1" height="3.95" fill="#8ec747"/>
<rect x="553.16" y="515.49" width="8.1" height="3.95" fill="#8fc747"/>
<rect x="553.16" y="519.14" width="8.1" height="3.95" fill="#8bc649"/>
<rect x="553.16" y="522.78" width="8.1" height="3.95" fill="#8bc649"/>
<rect x="560.97" y="493.6" width="8.1" height="3.95" fill="#69be5a"/>
<rect x="560.97" y="497.25" width="8.1" height="3.95" fill="#61bd5e"/>
<rect x="560.97" y="500.9" width="8.1" height="3.95" fill="#6cbf58"/>
<rect x="560.97" y="504.54" width="8.1" height="3.95" fill="#6abf59"/>
<rect x="560.97" y="508.19" width="8.1" height="3.95" fill="#66be5c"/>
<rect x="560.97" y="511.84" width="8.1" height="3.95" fill="#59bb63"/>
<rect x="560.97" y="515.49" width="8.1" height="3.95" fill="#76c153"/>
<rect x="560.97" y="519.14" width="8.1" height="3.95" fill="#69be5a"/>
<rect x="560.97" y="522.78" width="8.1" height="3.95" fill="#6dbf58"/>
<rect x="568.77" y="493.6" width="8.1" height="3.95" fill="#82c44d"/>
<rect x="568.77" y="497.25" width="8.1" height="3.95" fill="#87c64a"/>
<rect x="568.77" y="500.9" width="8.1" height="3.95" fill="#80c44e"/>
<rect x="568.77" y="504.54" width="8.1" height="3.95" fill="#80c44e"/>
<rect x="568.77" y="508.19" width="8.1" height="3.95" fill="#7fc44f"/>
<rect x="568.77" y="511.84" width="8.1" height="3.95" fill="#7ec34f"/>
<rect x="568.77" y="515.49" width="8.1" height="3.95" fill="#82c44d"/>
<rect x="568.77" y="519.14" width="8.1" height="3.95" fill="#81c44e"/>
<rect x="568.77" y="522.78" width="8.1" height="3.95" fill="#7ec34f"/>
<rect x="576.57" y="493.6" width="8.1" height="3.95" fill="#62bd5e"/>
<rect x="576.57" y="497.25" width="8.1" height="3.95" fill="#59bb62"/>
<rect x="576.57" y="500.9" width="8.1" height="3.95" fill="#5abb62"/>
<rect x="576.57" y="504.54" width="8.1" height="3.95" fill="#6fc057"/>
<rect x="576.57" y="508.19" width="8.1" height="3.95" fill="#59bb62"/>
<rect x="576.57" y="511.84" width="8.1" height="3.95" fill="#6fc057"/>
<rect x="576.57" y="515.49" width="8.1" height="3.95" fill="#6abf5a"/>
<rect x="576.57" y="519.14" width="8.1" height="3.95" fill="#73c155"/>
<rect x="576.57" y="522.78" width="8.1" height="3.95" fill="#65bd5c"/>
<rect x="584.37" y="493.6" width="8.1" height="3.95" fill="#48b76c"/>
<rect x="584.37" y="497.25" width="8.1" height="3.95" fill="#67be5b"/>
<rect x="584.37" y="500.9" width="8.1" height="3.95" fill="#53b966"/>
<rect x="584.37" y="504.54" width="8.1" height="3.95" fill="#55ba65"/>
<rect x="584.37" y="508.19" width="8.1" height="3.95" fill="#62bd5e"/>
<rect x="584.37" y="511.84" width="8.1" height="3.95" fill="#6bbf59"/>
<rect x="584.37" y="515.49" width="8.1" height="3.95" fill="#49b76b"/>
<rect x="584.37" y="519.14" width="8.1" height="3.95" fill="#52b966"/>
<rect x="584.37" y="522.78" width="8.1" height="3.95" fill="#54b965"/>
<rect x="584.37" y="526.43" width="8.1" height="3.95" fill="#89c64a"/>
<rect x="584.37" y="530.08" width="8.1" height="3.95" fill="#7ac351"/>
<rect x="592.18" y="493.6" width="8.1" height="3.95" fill="#6bbf59"/>
<rect x="592.18" y="497.25" width="8.1" height="3.95" fill="#69be5a"/>
<rect x="592.18" y="500.9" width="8.1" height="3.95" fill="#66be5b"/>
<rect x="592.18" y="504.54" width="8.1" height="3.95" fill="#6abf59"/>
<rect x="592.18" y="508.19" width="8.1" height="3.95" fill="#5abb62"/>
<rect x="592.18" y="511.84" width="8.1" height="3.95" fill="#69be5a"/>
<rect x="592.18" y="515.49" width="8.1" height="3.95" fill="#63bd5d"/>
<rect x="592.18" y="519.14" width="8.1" height="3.95" fill="#60bc5f"/>
<rect x="592.18" y="522.78" width="8.1" height="3.95" fill="#5bbb62"/>
<rect x="599.98" y="493.6" width="8.1" height="3.95" fill="#48b76c"/>
<rect x="599.98" y="497.25" width="8.1" height="3.95" fill="#55ba65"/>
<rect x="599.98" y="500.9" width="8.1" height="3.95" fill="#5ebc60"/>
<rect x="599.98" y="504.54" width="8.1" height="3.95" fill="#4bb76a"/>
<rect x="599.98" y="508.19" width="8.1" height="3.95" fill="#68be5b"/>
<rect x="599.98" y="511.84" width="8.1" height="3.95" fill="#63bd5d"/>
<rect x="599.98" y="515.49" width="8.1" height="3.95" fill="#6abf5a"/>
<rect x="599.98" y="519.14" width="8.1" height="3.95" fill="#53b966"/>
<rect x="599.98" y="522.78" width="8.1" height="3.95" fill="#5abb62"/>
<rect x="607.78" y="493.6" width="8.1" height="3.95" fill="#7bc351"/>
<rect x="607.78" y="497.25" width="8.1" height="3.95" fill="#72c055"/>
<rect x="607.78" y="500.9" width="8.1" height="3.95" fill="#71c056"/>
<rect x="607.78" y="504.54" width="8.1" height="3.95" fill="#79c252"/>
<rect x="607.78" y="508.19" width="8.1" height="3.95" fill="#6ec057"/>
<rect x="607.78" y="511.84" width="8.1" height="3.95" fill="#7fc44f"/>
<rect x="607.78" y="515.49" width="8.1" height="3.95" fill="#75c153"/>
<rect x="607.78" y="519.14" width="8.1" height="3.95" fill="#7dc350"/>
<rect x="607.78" y="522.78" width="8.1" height="3.95" fill="#7ec34f"/>
<rect x="615.58" y="493.6" width="8.1" height="3.95" fill="#91c846"/>
<rect x="615.58" y="497.25" width="8.1" height="3.95" fill="#90c846"/>
<rect x="615.58" y="500.9" width="8.1" height="3.95" fill="#8ec747"/>
<rect x="615.58" y="504.54" width="8.1" height="3.95" fill="#8ac649"/>
<rect x="615.58" y="508.19" width="8.1" height="3.95" fill="#8fc747"/>
<rect x="615.58" y="511.84" width="8.1" height="3.95" fill="#90c846"/>
<rect x="615.58" y="515.49" width="8.1" height="3.95" fill="#8ac649"/>
<rect x="615.58" y="519.14" width="8.1" height="3.95" fill="#8ac649"/>
<rect x="615.58" y="522.78" width="8.1" height="3.95" fill="#88c64a"/>
<rect x="623.39" y="493.6" width="8.1" height="3.95" fill="#62bd5e"/>
<rect x="623.39" y="497.25" width="8.1" height="3.95" fill="#4eb869"/>
<rect x="623.39" y="500.9" width="8.1" height="3.95" fill="#5ebc60"/>
<rect x="623.39" y="504.54" width="8.1" height="3.95" fill="#52b967"/>
<rect x="623.39" y="508.19" width="8.1" height="3.95" fill="#69be5a"/>
<rect x="623.39" y="511.84" width="8.1" height="3.95" fill="#60bc5f"/>
<rect x="623.39" y="515.49" width="8.1" height="3.95" fill="#59ba63"/>
<rect x="623.39" y="519.14" width="8.1" height="3.95" fill="#69be5a"/>
<rect x="623.39" y="522.78" width="8.1" height="3.95" fill="#5ebc60"/>
<rect x="623.39" y="526.43" width="8.1" height="3.95" fill="#89c64a"/>
<rect x="623.39" y="530.08" width="8.1" height="3.95" fill="#89c64a"/>
<rect x="631.19" y="493.6" width="8.1" height="3.95" fill="#86c54b"/>
<rect x="631.19" y="497.25" width="8.1" height="3.95" fill="#85c54c"/>
<rect x="631.19" y="500.9" width="8.1" height="3.95" fill="#83c44d"/>
<rect x="631.19" y="504.54" width="8.1" height="3.95" fill="#87c54b"/>
<rect x="631.19" y="508.19" width="8.1" height="3.95" fill="#8bc649"/>
<rect x="631.19" y="511.84" width="8.1" height="3.95" fill="#8bc649"/>
<rect x="631.19" y="515.49" width="8.1" height="3.95" fill="#8dc748"/>
<rect x="631.19" y="519.14" width="8.1" height="3.95" fill="#83c54c"/>
<rect x="631.19" y="522.78" width="8.1" height="3.95" fill="#87c64b"/>
<rect x="638.99" y="493.6" width="8.1" height="3.95" fill="#86c54b"/>
<rect x="638.99" y="497.25" width="8.1" height="3.95" fill="#89c64a"/>
<rect x="638.99" y="500.9" width="8.1" height="3.95" fill="#87c64b"/>
<rect x="638.99" y="504.54" width="8.1" height="3.95" fill="#8dc748"/>
<rect x="638.99" y="508.19" width="8.1" height="3.95" fill="#8bc649"/>
<rect x="638.99" y="511.84" width="8.1" height="3.95" fill="#8ac649"/>
<rect x="638.99" y="515.49" width="8.1" height="3.95" fill="#85c54c"/>
<rect x="638.99" y="519.14" width="8.1" height="3.95" fill="#86c54b"/>
<rect x="638.99" y="522.78" width="8.1" height="3.95" fill="#87c54b"/>
<rect x="646.79" y="493.6" width="8.1" height="3.95" fill="#79c252"/>
<rect x="646.79" y="497.25" width="8.1" height="3.95" fill="#7fc44f"/>
<rect x="646.79" y="500.9" width="8.1" height="3.95" fill="#79c252"/>
<rect x="646.79" y="504.54" width="8.1" height="3.95" fill="#6dbf58"/>
<rect x="646.79" y="508.19" width="8.1" height="3.95" fill="#6fc057"/>
<rect x="646.79" y="511.84" width="8.1" height="3.95" fill="#7bc351"/>
<rect x="646.79" y="515.49" width="8.1" height="3.95" fill="#76c253"/>
<rect x="646.79" y="519.14" width="8.1" height="3.95" fill="#71c056"/>
<rect x="646.79" y="522.78" width="8.1" height="3.95" fill="#7cc350"/>
<rect x="654.6" y="493.6" width="8.1" height="3.95" fill="#46b66d"/>
<rect x="654.6" y="497.25" width="8.1" height="3.95" fill="#2ea77d"/>
<rect x="654.6" y="500.9" width="8.1" height="3.95" fill="#4fb868"/>
<rect x="654.6" y="504.54" width="8.1" height="3.95" fill="#2ea87d"/>
<rect x="654.6" y="508.19" width="8.1" height="3.95" fill="#32ad79"/>
<rect x="654.6" y="511.84" width="8.1" height="3.95" fill="#3bb373"/>
<rect x="654.6" y="515.49" width="8.1" height="3.95" fill="#41b570"/>
<rect x="654.6" y="519.14" width="8.1" height="3.95" fill="#2fa87c"/>
<rect x="654.6" y="522.78" width="8.1" height="3.95" fill="#31ac7a"/>
<rect x="389.31" y="493.6" width="46.82" height="3.65" fill="#c8c8c8"/>
<rect x="584.37" y="537.38" width="23.41" height="3.65" fill="#c8c8c8"/>
<rect x="545.36" y="548.32" width="31.21" height="3.65" fill="#c8c8c8"/>
<rect x="365.9" y="537.38" width="7.8" height="3.65" fill="#c8c8c8"/>
<rect x="365.9" y="548.32" width="7.8" height="3.65" fill="#c8c8c8"/>
<rect x="365.9" y="555.62" width="7.8" height="3.65" fill="#c8c8c8"/>
<rect x="560.97" y="581.15" width="7.8" height="3.65" fill="#c8c8c8"/>
<rect x="545.36" y="544.67" width="7.8" height="3.65" fill="#c8c8c8"/>
<line x1="369.8" y1="584.8" x2="369.8" y2="586" stroke="#555" stroke-width="0.35"/>
<text x="370.6" y="587.2" font-size="3.9" text-anchor="end" fill="#e84848" transform="rotate(-45 370.6 587.2)">M*V</text>
<line x1="377.6" y1="584.8" x2="377.6" y2="586" stroke="#555" stroke-width="0.35"/>
<text x="378.4" y="587.2" font-size="3.9" text-anchor="end" fill="#e84848" transform="rotate(-45 378.4 587.2)">I86V</text>
<line x1="385.41" y1="584.8" x2="385.41" y2="586" stroke="#555" stroke-width="0.35"/>
<text x="386.21" y="587.2" font-size="3.9" text-anchor="end" fill="#f0b040" transform="rotate(-45 386.21 587.2)">E107G</text>
<line x1="393.21" y1="584.8" x2="393.21" y2="586" stroke="#555" stroke-width="0.35"/>
<text x="394.01" y="587.2" font-size="3.9" text-anchor="end" fill="#e84848" transform="rotate(-45 394.01 587.2)">N108S</text>
<line x1="401.01" y1="584.8" x2="401.01" y2="586" stroke="#555" stroke-width="0.35"/>
<text x="401.81" y="587.2" font-size="3.9" text-anchor="end" fill="#e84848" transform="rotate(-45 401.81 587.2)">T110A</text>
<line x1="408.81" y1="584.8" x2="408.81" y2="586" stroke="#555" stroke-width="0.35"/>
<text x="409.61" y="587.2" font-size="3.9" text-anchor="end" fill="#f0b040" transform="rotate(-45 409.61 587.2)">Y115F</text>
<line x1="416.62" y1="584.8" x2="416.62" y2="586" stroke="#555" stroke-width="0.35"/>
<text x="417.42" y="587.2" font-size="3.9" text-anchor="end" fill="#e84848" transform="rotate(-45 417.42 587.2)">T117A</text>
<line x1="424.42" y1="584.8" x2="424.42" y2="586" stroke="#555" stroke-width="0.35"/>
<text x="425.22" y="587.2" font-size="3.9" text-anchor="end" fill="#e84848" transform="rotate(-45 425.22 587.2)">I123S</text>
<line x1="432.22" y1="584.8" x2="432.22" y2="586" stroke="#555" stroke-width="0.35"/>
<text x="433.02" y="587.2" font-size="3.9" text-anchor="end" fill="#e84848" transform="rotate(-45 433.02 587.2)">K128R</text>
<line x1="440.02" y1="584.8" x2="440.02" y2="586" stroke="#555" stroke-width="0.35"/>
<text x="440.82" y="587.2" font-size="3.9" text-anchor="end" fill="#e84848" transform="rotate(-45 440.82 587.2)">T129A</text>
<line x1="447.83" y1="584.8" x2="447.83" y2="586" stroke="#555" stroke-width="0.35"/>
<text x="448.63" y="587.2" font-size="3.9" text-anchor="end" fill="#e84848" transform="rotate(-45 448.63 587.2)">Q131R</text>
<line x1="455.63" y1="584.8" x2="455.63" y2="586" stroke="#555" stroke-width="0.35"/>
<text x="456.43" y="587.2" font-size="3.9" text-anchor="end" fill="#a58ed0" transform="rotate(-45 456.43 587.2)">P_3</text>
<line x1="463.43" y1="584.8" x2="463.43" y2="586" stroke="#555" stroke-width="0.35"/>
<text x="464.23" y="587.2" font-size="3.9" text-anchor="end" fill="#a58ed0" transform="rotate(-45 464.23 587.2)">P_10</text>
<line x1="471.24" y1="584.8" x2="471.24" y2="586" stroke="#555" stroke-width="0.35"/>
<text x="472.04" y="587.2" font-size="3.9" text-anchor="end" fill="#a58ed0" transform="rotate(-45 472.04 587.2)">P_17</text>
<line x1="479.04" y1="584.8" x2="479.04" y2="586" stroke="#555" stroke-width="0.35"/>
<text x="479.84" y="587.2" font-size="3.9" text-anchor="end" fill="#a58ed0" transform="rotate(-45 479.84 587.2)">P_24</text>
<line x1="486.84" y1="584.8" x2="486.84" y2="586" stroke="#555" stroke-width="0.35"/>
<text x="487.64" y="587.2" font-size="3.9" text-anchor="end" fill="#a58ed0" transform="rotate(-45 487.64 587.2)">P_31</text>
<line x1="494.64" y1="584.8" x2="494.64" y2="586" stroke="#555" stroke-width="0.35"/>
<text x="495.44" y="587.2" font-size="3.9" text-anchor="end" fill="#a58ed0" transform="rotate(-45 495.44 587.2)">P_38</text>
<line x1="502.45" y1="584.8" x2="502.45" y2="586" stroke="#555" stroke-width="0.35"/>
<text x="503.25" y="587.2" font-size="3.9" text-anchor="end" fill="#a58ed0" transform="rotate(-45 503.25 587.2)">P_45</text>
<line x1="510.25" y1="584.8" x2="510.25" y2="586" stroke="#555" stroke-width="0.35"/>
<text x="511.05" y="587.2" font-size="3.9" text-anchor="end" fill="#a58ed0" transform="rotate(-45 511.05 587.2)">P_52</text>
<line x1="518.05" y1="584.8" x2="518.05" y2="586" stroke="#555" stroke-width="0.35"/>
<text x="518.85" y="587.2" font-size="3.9" text-anchor="end" fill="#a58ed0" transform="rotate(-45 518.85 587.2)">P_59</text>
<line x1="525.85" y1="584.8" x2="525.85" y2="586" stroke="#555" stroke-width="0.35"/>
<text x="526.65" y="587.2" font-size="3.9" text-anchor="end" fill="#a58ed0" transform="rotate(-45 526.65 587.2)">P_66</text>
<line x1="533.66" y1="584.8" x2="533.66" y2="586" stroke="#555" stroke-width="0.35"/>
<text x="534.46" y="587.2" font-size="3.9" text-anchor="end" fill="#a58ed0" transform="rotate(-45 534.46 587.2)">P_73</text>
<line x1="541.46" y1="584.8" x2="541.46" y2="586" stroke="#555" stroke-width="0.35"/>
<text x="542.26" y="587.2" font-size="3.9" text-anchor="end" fill="#a58ed0" transform="rotate(-45 542.26 587.2)">P_80</text>
<line x1="549.26" y1="584.8" x2="549.26" y2="586" stroke="#555" stroke-width="0.35"/>
<text x="550.06" y="587.2" font-size="3.9" text-anchor="end" fill="#a58ed0" transform="rotate(-45 550.06 587.2)">P_87</text>
<line x1="557.06" y1="584.8" x2="557.06" y2="586" stroke="#555" stroke-width="0.35"/>
<text x="557.86" y="587.2" font-size="3.9" text-anchor="end" fill="#a58ed0" transform="rotate(-45 557.86 587.2)">P_94</text>
<line x1="564.87" y1="584.8" x2="564.87" y2="586" stroke="#555" stroke-width="0.35"/>
<text x="565.67" y="587.2" font-size="3.9" text-anchor="end" fill="#a58ed0" transform="rotate(-45 565.67 587.2)">P_101</text>
<line x1="572.67" y1="584.8" x2="572.67" y2="586" stroke="#555" stroke-width="0.35"/>
<text x="573.47" y="587.2" font-size="3.9" text-anchor="end" fill="#a58ed0" transform="rotate(-45 573.47 587.2)">P_108</text>
<line x1="580.47" y1="584.8" x2="580.47" y2="586" stroke="#555" stroke-width="0.35"/>
<text x="581.27" y="587.2" font-size="3.9" text-anchor="end" fill="#a58ed0" transform="rotate(-45 581.27 587.2)">P_115</text>
<line x1="588.27" y1="584.8" x2="588.27" y2="586" stroke="#555" stroke-width="0.35"/>
<text x="589.07" y="587.2" font-size="3.9" text-anchor="end" fill="#a58ed0" transform="rotate(-45 589.07 587.2)">P_122</text>
<line x1="596.08" y1="584.8" x2="596.08" y2="586" stroke="#555" stroke-width="0.35"/>
<text x="596.88" y="587.2" font-size="3.9" text-anchor="end" fill="#a58ed0" transform="rotate(-45 596.88 587.2)">P_129</text>
<line x1="603.88" y1="584.8" x2="603.88" y2="586" stroke="#555" stroke-width="0.35"/>
<text x="604.68" y="587.2" font-size="3.9" text-anchor="end" fill="#a58ed0" transform="rotate(-45 604.68 587.2)">P_136</text>
<line x1="611.68" y1="584.8" x2="611.68" y2="586" stroke="#555" stroke-width="0.35"/>
<text x="612.48" y="587.2" font-size="3.9" text-anchor="end" fill="#a58ed0" transform="rotate(-45 612.48 587.2)">P_143</text>
<line x1="619.49" y1="584.8" x2="619.49" y2="586" stroke="#555" stroke-width="0.35"/>
<text x="620.29" y="587.2" font-size="3.9" text-anchor="end" fill="#a58ed0" transform="rotate(-45 620.29 587.2)">P_150</text>
<line x1="627.29" y1="584.8" x2="627.29" y2="586" stroke="#555" stroke-width="0.35"/>
<text x="628.09" y="587.2" font-size="3.9" text-anchor="end" fill="#a58ed0" transform="rotate(-45 628.09 587.2)">P_157</text>
<line x1="635.09" y1="584.8" x2="635.09" y2="586" stroke="#555" stroke-width="0.35"/>
<text x="635.89" y="587.2" font-size="3.9" text-anchor="end" fill="#a58ed0" transform="rotate(-45 635.89 587.2)">P_164</text>
<line x1="642.89" y1="584.8" x2="642.89" y2="586" stroke="#555" stroke-width="0.35"/>
<text x="643.69" y="587.2" font-size="3.9" text-anchor="end" fill="#a58ed0" transform="rotate(-45 643.69 587.2)">P_171</text>
<line x1="650.7" y1="584.8" x2="650.7" y2="586" stroke="#555" stroke-width="0.35"/>
<text x="651.5" y="587.2" font-size="3.9" text-anchor="end" fill="#a58ed0" transform="rotate(-45 651.5 587.2)">P_178</text>
<line x1="658.5" y1="584.8" x2="658.5" y2="586" stroke="#555" stroke-width="0.35"/>
<text x="659.3" y="587.2" font-size="3.9" text-anchor="end" fill="#a58ed0" transform="rotate(-45 659.3 587.2)">P_185</text>
</svg></body></html>
